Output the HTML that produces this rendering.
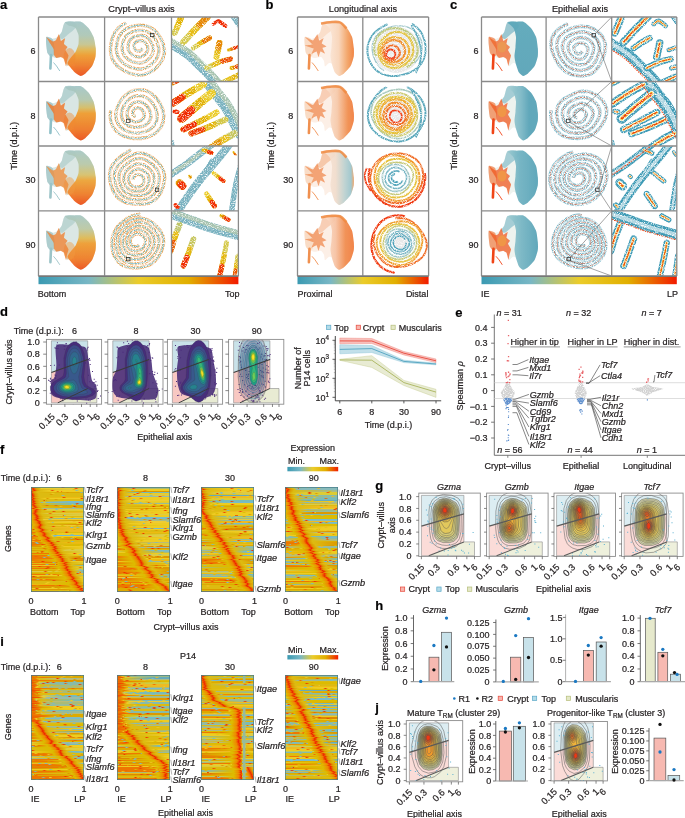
<!DOCTYPE html><html><head><meta charset="utf-8"><style>html,body{margin:0;padding:0;background:#fff;width:685px;height:818px;overflow:hidden;position:relative}svg{display:block;will-change:transform}text{font-family:"Liberation Sans",sans-serif;stroke:#231f20;stroke-width:0.22px}</style></head><body><svg width="685" height="818" viewBox="0 0 685 818"><defs><filter id="soft" x="-10%" y="-10%" width="120%" height="120%"><feGaussianBlur stdDeviation="0.6"/></filter><filter id="spk" x="-5%" y="-5%" width="110%" height="110%"><feTurbulence type="fractalNoise" baseFrequency="1.1" numOctaves="1" seed="4" result="n"/><feColorMatrix in="n" type="matrix" values="0 0 0 0 0  0 0 0 0 0  0 0 0 0 0  2.6 0 0 0 -0.75" result="m"/><feComposite in="SourceGraphic" in2="m" operator="in"/></filter><filter id="spk2" x="-5%" y="-5%" width="110%" height="110%"><feTurbulence type="fractalNoise" baseFrequency="1.1" numOctaves="1" seed="7" result="n"/><feColorMatrix in="n" type="matrix" values="0 0 0 0 0  0 0 0 0 0  0 0 0 0 0  3.4 0 0 0 -0.8" result="m"/><feComposite in="SourceGraphic" in2="m" operator="in"/></filter><clipPath id="ta0"><rect x="171.5" y="17" width="66.9" height="64.5"/></clipPath><clipPath id="tc0"><rect x="611.7" y="17" width="65.09999999999991" height="64.5"/></clipPath><clipPath id="ta1"><rect x="171.5" y="81.5" width="66.9" height="64.5"/></clipPath><clipPath id="tc1"><rect x="611.7" y="81.5" width="65.09999999999991" height="64.5"/></clipPath><clipPath id="ta2"><rect x="171.5" y="146" width="66.9" height="64.80000000000001"/></clipPath><clipPath id="tc2"><rect x="611.7" y="146" width="65.09999999999991" height="64.80000000000001"/></clipPath><clipPath id="ta3"><rect x="171.5" y="210.8" width="66.9" height="65.19999999999999"/></clipPath><clipPath id="tc3"><rect x="611.7" y="210.8" width="65.09999999999991" height="65.19999999999999"/></clipPath><linearGradient id="zis" x1="0" x2="1" y1="0" y2="0"><stop offset="0" stop-color="#3B9AB2"/><stop offset="0.25" stop-color="#78B7C5"/><stop offset="0.5" stop-color="#EBCC2A"/><stop offset="0.75" stop-color="#E1AF00"/><stop offset="1" stop-color="#F21A00"/></linearGradient><clipPath id="dcl0"><rect x="46.4" y="339.4" width="55.2" height="64.8"/></clipPath><clipPath id="dcl1"><rect x="107.8" y="339.4" width="55.2" height="64.8"/></clipPath><clipPath id="dcl2"><rect x="167.4" y="339.4" width="55.2" height="64.8"/></clipPath><clipPath id="dcl3"><rect x="228.6" y="339.4" width="55.2" height="64.8"/></clipPath><clipPath id="gcl0"><rect x="418.8" y="493.1" width="61.5" height="63.3"/></clipPath><clipPath id="gcl1"><rect x="486.6" y="493.1" width="61.5" height="63.3"/></clipPath><clipPath id="gcl2"><rect x="554.0" y="493.1" width="61.5" height="63.3"/></clipPath><clipPath id="gcl3"><rect x="621.6" y="493.1" width="61.5" height="63.3"/></clipPath><clipPath id="jcl0"><rect x="406.3" y="720.6" width="56.4" height="61.2"/></clipPath><clipPath id="jcl1"><rect x="551.0" y="721.5" width="56.4" height="59.4"/></clipPath></defs><g font-size="9" fill="#231f20"><defs><linearGradient id="ug0" x1="0" y1="0" x2="0" y2="1"><stop offset="0" stop-color="#a3c6c7"/><stop offset="0.25" stop-color="#adc7b6"/><stop offset="0.42" stop-color="#c6c48e"/><stop offset="0.52" stop-color="#e2b44c"/><stop offset="0.62" stop-color="#f09a2a"/><stop offset="0.8" stop-color="#f07a22"/><stop offset="1" stop-color="#ee4c16"/></linearGradient></defs>
<g filter="url(#soft)">
<path d="M65.1,22.3 C67.1,21.3 79.0,21.3 81.4,21.9 C83.8,22.5 87.6,26.8 88.8,28.4 C90.0,29.9 93.0,35.4 93.7,37.4 C94.4,39.4 95.1,46.2 95.3,48.1 C95.5,50.0 95.6,54.4 95.3,56.2 C95.0,58.0 93.1,64.4 92.1,66.1 C91.1,67.8 86.7,72.4 85.5,73.4 C84.3,74.4 81.5,76.0 80.6,75.9 C79.7,75.8 77.1,73.8 76.5,72.6 C75.9,71.4 75.1,65.4 74.5,64.4 C73.9,63.4 71.3,62.8 70.5,63.0 C69.7,63.2 67.0,66.7 66.5,66.5 C66.0,66.3 65.9,62.0 65.5,61.0 C65.1,60.0 63.4,57.3 62.5,57.0 C61.6,56.7 57.5,58.0 56.5,58.0 C55.5,58.0 53.4,57.5 52.5,57.0 C51.6,56.5 48.1,54.2 47.5,53.0 C46.9,51.8 46.4,46.6 46.3,45.0 C46.2,43.4 45.7,37.6 46.3,37.0 C46.9,36.4 51.3,39.0 52.5,39.0 C53.7,39.0 57.6,37.3 58.5,36.6 C59.4,35.9 61.1,33.1 61.8,31.7 C62.5,30.3 63.1,23.3 65.1,22.3Z" fill="#d9e6e4"/>
<path d="M61.8,31.7 C62.7,29.8 63.5,23.6 65.1,22.3 C66.7,21.0 72.0,21.3 73.5,21.8 C75.0,22.3 76.5,24.9 76.5,26.0 C76.5,27.1 74.6,28.9 73.5,30.0 C72.4,31.1 70.0,32.8 68.5,34.0 C67.0,35.2 63.8,38.7 62.5,39.0 C61.2,39.3 58.6,37.6 58.5,36.6 C58.4,35.6 60.9,33.6 61.8,31.7Z" fill="#aacbcb" opacity="0.75"/>
<path d="M65.1,22.3 C65.6,21.9 71.9,21.8 73.5,21.8 C75.1,21.8 79.9,21.2 81.4,21.9 C82.9,22.6 87.6,26.8 88.8,28.4 C90.0,29.9 93.0,35.4 93.7,37.4 C94.4,39.4 95.6,46.0 95.8,48.0 C96.0,50.0 95.9,55.2 95.5,57.0 C95.1,58.8 93.1,64.5 92.1,66.1 C91.1,67.7 86.7,72.4 85.5,73.4 C84.3,74.4 81.6,75.9 80.6,75.9 C79.6,75.9 76.5,73.8 75.5,73.0 C74.5,72.2 71.3,68.5 70.5,67.5 C69.7,66.5 67.5,64.0 67.5,63.0 C67.5,62.0 69.7,59.1 70.5,58.0 C71.3,56.9 74.7,53.4 75.5,52.0 C76.3,50.6 78.2,45.7 78.5,44.0 C78.8,42.3 78.8,36.6 78.5,35.0 C78.2,33.4 76.0,28.4 75.0,27.5 C74.0,26.6 69.5,26.0 68.5,25.5 C67.5,25.0 64.6,22.7 65.1,22.3Z" fill="url(#ug0)" opacity="0.92"/>
<ellipse cx="69.5" cy="57.0" rx="6" ry="9" fill="#f08a30" opacity="0.45"/>
<path d="M46.3,37.0 C46.9,36.4 51.7,38.0 52.5,39.0 C53.3,40.0 54.4,45.4 54.5,47.0 C54.6,48.6 54.4,54.0 54.0,55.0 C53.6,56.0 51.1,56.7 50.5,56.5 C49.9,56.3 47.9,54.1 47.5,53.0 C47.1,51.9 46.4,46.6 46.3,45.0 C46.2,43.4 45.7,37.6 46.3,37.0Z" fill="#a0c5ca" opacity="0.85"/>
<path d="M58.9,34.2 C59.1,34.2 60.7,40.8 61.0,41.0 C61.3,41.2 64.9,38.1 65.1,38.3 C65.2,38.4 63.9,43.6 64.0,44.0 C64.1,44.4 67.4,46.7 67.5,47.0 C67.6,47.3 65.5,49.6 65.5,50.0 C65.5,50.4 68.4,54.9 68.5,55.4 C68.6,55.9 67.1,60.5 67.0,61.0 C66.9,61.5 66.1,66.1 65.9,66.0 C65.8,65.9 64.3,59.5 64.0,59.0 C63.7,58.5 60.9,57.0 60.5,57.0 C60.1,57.0 56.8,58.1 56.5,58.0 C56.2,57.9 54.1,55.5 54.0,55.0 C53.9,54.5 53.8,49.5 53.6,49.0 C53.4,48.5 50.9,44.6 50.5,44.0 C50.1,43.4 46.2,37.1 46.3,37.0 C46.4,36.9 52.5,41.4 53.0,41.5 C53.5,41.6 55.7,40.4 56.0,40.0 C56.3,39.6 58.6,34.2 58.9,34.2Z" fill="#f07a2a" opacity="0.8"/>
<polyline points="51.0,55.0 50.7,62.0 50.4,68.5" fill="none" stroke="#8fc0c8" stroke-width="2.6" stroke-linecap="round"/>
<polyline points="53.5,62.5 56.5,66.0 59.8,71.0" fill="none" stroke="#8fc0c8" stroke-width="0.9"/>
</g>
<path id="spa0" d="M142.3,48.4 C142.2,48.5 142.1,48.8 142.0,49.1 C141.9,49.3 141.8,49.5 141.6,49.7 C141.5,49.9 141.3,50.1 141.1,50.2 C140.9,50.4 140.7,50.6 140.4,50.7 C140.2,50.8 139.9,50.9 139.6,51.0 C139.4,51.0 139.1,51.1 138.8,51.1 C138.5,51.1 138.2,51.0 137.9,51.0 C137.6,50.9 137.3,50.8 137.0,50.7 C136.7,50.6 136.4,50.5 136.1,50.3 C135.8,50.2 135.5,50.0 135.3,49.8 C135.0,49.5 134.8,49.2 134.6,49.0 C134.4,48.7 134.3,48.3 134.2,48.0 C134.0,47.6 134.0,47.3 134.0,46.9 C133.9,46.6 133.9,46.2 133.9,45.8 C134.0,45.4 134.0,45.0 134.1,44.7 C134.2,44.3 134.4,43.9 134.5,43.5 C134.7,43.2 135.0,42.8 135.3,42.5 C135.6,42.2 135.9,41.9 136.3,41.7 C136.7,41.4 137.1,41.2 137.5,41.1 C137.9,40.9 138.4,40.8 138.8,40.7 C139.3,40.6 139.8,40.5 140.2,40.5 C140.7,40.5 141.2,40.5 141.7,40.6 C142.2,40.7 142.7,40.8 143.2,41.1 C143.6,41.3 144.1,41.6 144.5,41.9 C144.9,42.2 145.2,42.6 145.5,43.0 C145.9,43.4 146.2,43.9 146.4,44.3 C146.7,44.8 147.0,45.2 147.2,45.7 C147.4,46.2 147.6,46.8 147.7,47.3 C147.8,47.9 147.9,48.5 147.8,49.1 C147.8,49.7 147.6,50.3 147.4,50.8 C147.2,51.4 147.0,51.9 146.6,52.5 C146.3,53.0 145.9,53.5 145.5,53.9 C145.1,54.4 144.6,54.8 144.1,55.2 C143.6,55.6 143.0,56.0 142.5,56.3 C141.9,56.5 141.2,56.8 140.5,56.9 C139.9,57.0 139.2,57.1 138.5,57.0 C137.8,57.0 137.2,56.9 136.5,56.7 C135.9,56.5 135.2,56.3 134.6,56.0 C133.9,55.8 133.3,55.5 132.7,55.1 C132.1,54.8 131.5,54.4 130.9,53.9 C130.4,53.4 129.9,52.9 129.5,52.3 C129.1,51.7 128.8,51.0 128.5,50.3 C128.3,49.6 128.2,48.8 128.1,48.1 C128.1,47.4 128.1,46.6 128.1,45.9 C128.2,45.1 128.3,44.4 128.5,43.6 C128.7,42.9 128.9,42.1 129.3,41.4 C129.6,40.7 130.1,40.0 130.6,39.4 C131.1,38.8 131.8,38.2 132.4,37.7 C133.1,37.3 133.9,36.9 134.6,36.6 C135.4,36.2 136.2,36.0 137.1,35.8 C137.9,35.6 138.7,35.5 139.6,35.5 C140.5,35.4 141.4,35.4 142.2,35.5 C143.1,35.6 144.0,35.9 144.9,36.2 C145.7,36.5 146.5,37.0 147.2,37.5 C147.9,38.1 148.6,38.7 149.2,39.4 C149.7,40.1 150.2,40.8 150.7,41.6 C151.2,42.3 151.6,43.1 152.0,43.9 C152.4,44.8 152.7,45.7 153.0,46.6 C153.2,47.5 153.4,48.4 153.4,49.4 C153.4,50.4 153.2,51.4 153.0,52.3 C152.7,53.2 152.3,54.2 151.8,55.0 C151.3,55.9 150.7,56.7 150.1,57.5 C149.4,58.2 148.7,59.0 147.9,59.6 C147.2,60.3 146.3,60.9 145.4,61.4 C144.5,61.9 143.5,62.3 142.5,62.6 C141.4,62.9 140.3,63.0 139.3,63.1 C138.2,63.1 137.1,62.9 136.1,62.7 C135.0,62.5 134.0,62.2 133.0,61.8 C132.0,61.4 131.1,61.0 130.1,60.5 C129.2,59.9 128.2,59.4 127.4,58.7 C126.5,58.0 125.7,57.3 125.0,56.4 C124.3,55.5 123.7,54.5 123.3,53.5 C122.8,52.5 122.5,51.4 122.4,50.3 C122.2,49.2 122.2,48.0 122.2,46.9 C122.3,45.8 122.4,44.7 122.7,43.6 C122.9,42.5 123.2,41.3 123.6,40.3 C124.1,39.2 124.6,38.1 125.3,37.1 C126.0,36.2 126.8,35.2 127.7,34.5 C128.7,33.7 129.7,33.0 130.8,32.5 C131.9,31.9 133.1,31.5 134.3,31.2 C135.5,30.9 136.7,30.6 138.0,30.5 C139.2,30.4 140.5,30.3 141.7,30.4 C143.0,30.5 144.3,30.6 145.6,31.0 C146.8,31.4 148.0,31.9 149.1,32.6 C150.2,33.3 151.2,34.1 152.1,35.0 C153.0,35.9 153.8,37.0 154.5,38.0 C155.2,39.0 155.9,40.1 156.4,41.3 C157.0,42.4 157.5,43.6 157.9,44.8 C158.3,46.1 158.7,47.4 158.8,48.7 C158.9,50.0 158.9,51.5 158.7,52.8 C158.5,54.1 158.0,55.5 157.5,56.7 C156.9,57.9 156.1,59.1 155.3,60.2 C154.5,61.3 153.5,62.4 152.5,63.3 C151.5,64.3 150.4,65.2 149.2,66.0 C148.0,66.8 146.7,67.5 145.3,68.0 C144.0,68.5 142.5,68.8 141.1,69.0 C139.6,69.1 138.1,69.1 136.7,68.9 C135.2,68.7 133.8,68.3 132.4,67.9 C131.0,67.4 129.7,66.9 128.4,66.2 C127.1,65.6 125.8,64.9 124.6,64.1 C123.4,63.2 122.2,62.3 121.2,61.2 C120.1,60.2 119.2,58.9 118.5,57.6 C117.7,56.3 117.2,54.8 116.9,53.4 C116.5,51.9 116.4,50.4 116.3,48.9 C116.3,47.4 116.5,45.9 116.7,44.4 C116.9,43.0 117.2,41.5 117.7,40.0 C118.2,38.6 118.7,37.1 119.5,35.7 C120.3,34.4 121.2,33.0 122.4,31.9 C123.5,30.8 124.8,29.8 126.2,28.9 C127.5,28.1 129.1,27.5 130.6,26.9 C132.1,26.4 133.7,26.0 135.3,25.7 C136.9,25.5 138.6,25.3 140.2,25.3 C141.9,25.3 143.6,25.3 145.2,25.7 C146.9,26.0 148.5,26.5 150.0,27.2 C151.5,28.0 153.0,28.9 154.3,30.0 C155.5,31.1 156.6,32.4 157.7,33.7 C158.7,35.0 159.6,36.4 160.4,37.8 C161.2,39.2 161.9,40.7 162.5,42.2 C163.1,43.8 163.7,45.4 164.0,47.1 C164.3,48.8 164.5,50.5 164.4,52.2 C164.3,54.0 164.0,55.7 163.4,57.4 C162.8,59.0 162.0,60.7 161.0,62.1 C160.1,63.6 159.0,65.0 157.7,66.3 C156.5,67.6 155.2,68.8 153.8,69.9 C152.3,71.0 150.8,72.0 149.1,72.8 C147.5,73.6 145.7,74.3 143.8,74.7 C142.0,75.0 140.1,75.2 138.3,75.1 C136.4,75.0 134.6,74.6 132.8,74.2 C131.0,73.7 129.3,73.1 127.6,72.4 C125.9,71.7 124.3,70.8 122.7,69.9 C121.1,68.9 119.6,67.9 118.2,66.7 C116.8,65.4 115.4,64.0 114.3,62.5 C113.3,61.0 112.4,59.2 111.7,57.5 C111.1,55.7 110.8,53.8 110.6,51.9 C110.4,50.1 110.5,48.2 110.6,46.3 C110.8,44.4 111.1,42.6 111.6,40.7 C112.0,38.9 112.6,37.0 113.4,35.3 C114.2,33.5 115.2,31.8 116.4,30.2 C117.6,28.7 119.1,27.3 120.7,26.1 C122.3,24.9 125.1,23.6 126.0,23.1" fill="none"/>
<g filter="url(#spk)">
<use href="#spa0" stroke="#f29a50" stroke-width="3.4"/>
<use href="#spa0" stroke="#e8c050" stroke-width="2.0" opacity="0.8"/>
<use href="#spa0" stroke="#6cb0c0" stroke-width="1.3"/>
</g>
<g clip-path="url(#ta0)"><g filter="url(#spk2)">
<path d="M168.5,42.0 C171.5,43.8 181.3,49.2 186.5,53.0 C191.7,56.8 195.3,61.0 199.5,65.0 C203.7,69.0 208.5,73.8 211.5,77.0 C214.5,80.2 216.5,82.8 217.5,84.0" fill="none" stroke="#7ab2c0" stroke-width="10" stroke-linecap="round" stroke-linejoin="round"/>
<path d="M168.5,42.0 C171.5,43.8 181.3,49.2 186.5,53.0 C191.7,56.8 195.3,61.0 199.5,65.0 C203.7,69.0 208.5,73.8 211.5,77.0 C214.5,80.2 216.5,82.8 217.5,84.0" fill="none" stroke="#a8c4b0" stroke-width="4.5" stroke-linecap="round" transform="translate(2.0,-2.0)"/>
<path d="M232.5,15.0 L239.5,25.0" fill="none" stroke="#7ab2c0" stroke-width="6" stroke-linecap="round" stroke-linejoin="round"/>
<path d="M183.5,42.0 C185.5,39.8 191.5,33.2 195.5,29.0 C199.5,24.8 205.5,19.0 207.5,17.0" fill="none" stroke="#d4c849" stroke-width="6.5" stroke-linecap="round" stroke-linejoin="round"/>
<path d="M191.7,33.1 L194.3,30.3 L196.9,27.6 L199.5,25.0 L202.2,22.3 L204.8,19.7 L207.5,17.0" fill="none" stroke="#e6bc13" stroke-width="6.30" stroke-linecap="round" stroke-linejoin="round"/>
<path d="M199.7,24.8 L201.0,23.5 L202.3,22.2 L203.6,20.9 L204.9,19.6 L206.2,18.3 L207.5,17.0" fill="none" stroke="#e68500" stroke-width="6.30" stroke-linecap="round" stroke-linejoin="round"/>
<path d="M174.5,33.0 C175.2,31.5 177.3,26.8 178.5,24.0 C179.7,21.2 181.0,17.3 181.5,16.0" fill="none" stroke="#d4c849" stroke-width="6" stroke-linecap="round" stroke-linejoin="round"/>
<path d="M177.1,27.1 L177.9,25.3 L178.7,23.5 L179.4,21.6 L180.1,19.7 L180.8,17.9 L181.5,16.0" fill="none" stroke="#e8c21c" stroke-width="5.82" stroke-linecap="round" stroke-linejoin="round"/>
<path d="M179.4,21.5 L179.8,20.6 L180.1,19.7 L180.5,18.8 L180.8,17.8 L181.2,16.9 L181.5,16.0" fill="none" stroke="#e2b205" stroke-width="5.82" stroke-linecap="round" stroke-linejoin="round"/>
<path d="M193.5,48.0 C195.0,47.0 199.8,43.7 202.5,42.0 C205.2,40.3 208.3,38.7 209.5,38.0" fill="none" stroke="#d4c849" stroke-width="5" stroke-linecap="round" stroke-linejoin="round"/>
<path d="M199.0,44.3 L200.7,43.2 L202.4,42.1 L204.2,41.0 L205.9,40.0 L207.7,39.0 L209.5,38.0" fill="none" stroke="#e5bb11" stroke-width="4.85" stroke-linecap="round" stroke-linejoin="round"/>
<path d="M204.3,41.0 L205.1,40.5 L206.0,40.0 L206.9,39.5 L207.8,39.0 L208.6,38.5 L209.5,38.0" fill="none" stroke="#e87300" stroke-width="4.85" stroke-linecap="round" stroke-linejoin="round"/>
<path d="M216.5,57.0 C216.8,55.8 217.5,52.3 218.0,50.0 C218.5,47.7 219.2,44.2 219.5,43.0" fill="none" stroke="#eaca27" stroke-width="6" stroke-linecap="round" stroke-linejoin="round"/>
<path d="M217.6,52.1 L217.9,50.6 L218.2,49.1 L218.5,47.5 L218.8,46.0 L219.2,44.5 L219.5,43.0" fill="none" stroke="#e4b80d" stroke-width="5.82" stroke-linecap="round" stroke-linejoin="round"/>
<path d="M218.5,47.5 L218.7,46.7 L218.9,46.0 L219.0,45.2 L219.2,44.5 L219.3,43.7 L219.5,43.0" fill="none" stroke="#e68500" stroke-width="5.82" stroke-linecap="round" stroke-linejoin="round"/>
<path d="M206.5,68.0 C208.7,67.0 215.5,63.5 219.5,62.0 C223.5,60.5 228.7,59.5 230.5,59.0" fill="none" stroke="#d4c849" stroke-width="5" stroke-linecap="round" stroke-linejoin="round"/>
<path d="M214.7,64.2 L217.2,63.1 L219.7,61.9 L222.4,61.2 L225.1,60.5 L227.8,59.7 L230.5,59.0" fill="none" stroke="#e4b70b" stroke-width="4.85" stroke-linecap="round" stroke-linejoin="round"/>
<path d="M222.6,61.2 L223.9,60.8 L225.2,60.4 L226.5,60.1 L227.9,59.7 L229.2,59.4 L230.5,59.0" fill="none" stroke="#ed4a00" stroke-width="4.85" stroke-linecap="round" stroke-linejoin="round"/>
<path d="M213.5,24.0 C214.3,23.5 216.5,20.7 218.5,21.0 C220.5,21.3 224.3,25.2 225.5,26.0" fill="none" stroke="#f02c00" stroke-width="3.5" stroke-linecap="round" stroke-linejoin="round"/>
<path d="M217.8,21.4 L219.1,21.5 L220.4,22.4 L221.7,23.3 L223.0,24.2 L224.2,25.1 L225.5,26.0" fill="none" stroke="#f02c00" stroke-width="3.40" stroke-linecap="round" stroke-linejoin="round"/>
<path d="M221.7,23.3 L222.4,23.8 L223.0,24.2 L223.6,24.7 L224.2,25.1 L224.9,25.6 L225.5,26.0" fill="none" stroke="#f02c00" stroke-width="3.40" stroke-linecap="round" stroke-linejoin="round"/>
<path d="M228.5,50.0 L237.5,47.0" fill="none" stroke="#e1af00" stroke-width="3.2" stroke-linecap="round" stroke-linejoin="round"/>
<path d="M231.7,49.0 L232.6,48.6 L233.6,48.3 L234.6,48.0 L235.6,47.6 L236.5,47.3 L237.5,47.0" fill="none" stroke="#e86d00" stroke-width="3.10" stroke-linecap="round" stroke-linejoin="round"/>
<path d="M234.6,48.0 L235.1,47.8 L235.6,47.6 L236.1,47.5 L236.5,47.3 L237.0,47.2 L237.5,47.0" fill="none" stroke="#f02c00" stroke-width="3.10" stroke-linecap="round" stroke-linejoin="round"/>
<path d="M231.5,68.0 L239.5,66.0" fill="none" stroke="#e3b508" stroke-width="4" stroke-linecap="round" stroke-linejoin="round"/>
<path d="M234.3,67.3 L235.2,67.1 L236.0,66.9 L236.9,66.7 L237.8,66.4 L238.6,66.2 L239.5,66.0" fill="none" stroke="#e68200" stroke-width="3.88" stroke-linecap="round" stroke-linejoin="round"/>
<path d="M236.9,66.6 L237.4,66.5 L237.8,66.4 L238.2,66.3 L238.6,66.2 L239.1,66.1 L239.5,66.0" fill="none" stroke="#ef3800" stroke-width="3.88" stroke-linecap="round" stroke-linejoin="round"/>
<path d="M221.5,83.0 L238.5,75.0" fill="none" stroke="#d4c849" stroke-width="5" stroke-linecap="round" stroke-linejoin="round"/>
<path d="M227.4,80.2 L229.3,79.3 L231.1,78.5 L233.0,77.6 L234.8,76.7 L236.7,75.9 L238.5,75.0" fill="none" stroke="#e8c31d" stroke-width="4.85" stroke-linecap="round" stroke-linejoin="round"/>
<path d="M233.1,77.6 L234.0,77.1 L234.9,76.7 L235.8,76.3 L236.7,75.9 L237.6,75.4 L238.5,75.0" fill="none" stroke="#e3b508" stroke-width="4.85" stroke-linecap="round" stroke-linejoin="round"/>
</g></g>
<rect x="150.6" y="33.3" width="3.4" height="3.4" fill="none" stroke="#222" stroke-width="0.7"/>
<defs><linearGradient id="ug1" x1="0" y1="0" x2="1" y2="0"><stop offset="0" stop-color="#fcefe6"/><stop offset="0.5" stop-color="#f8d4b8"/><stop offset="0.78" stop-color="#f2a060"/><stop offset="1" stop-color="#f07a34"/></linearGradient></defs>
<g filter="url(#soft)">
<path d="M323.6,22.3 C325.6,21.3 337.5,21.3 339.9,21.9 C342.3,22.5 346.1,26.8 347.3,28.4 C348.5,29.9 351.6,35.4 352.2,37.4 C352.8,39.4 353.6,46.2 353.8,48.1 C354.0,50.0 354.1,54.4 353.8,56.2 C353.5,58.0 351.6,64.4 350.6,66.1 C349.6,67.8 345.1,72.4 344.0,73.4 C342.9,74.4 340.0,76.0 339.1,75.9 C338.2,75.8 335.6,73.8 335.0,72.6 C334.4,71.4 333.6,65.4 333.0,64.4 C332.4,63.4 329.8,62.8 329.0,63.0 C328.2,63.2 325.5,66.7 325.0,66.5 C324.5,66.3 324.4,62.0 324.0,61.0 C323.6,60.0 321.9,57.3 321.0,57.0 C320.1,56.7 316.0,58.0 315.0,58.0 C314.0,58.0 311.9,57.5 311.0,57.0 C310.1,56.5 306.6,54.2 306.0,53.0 C305.4,51.8 304.9,46.6 304.8,45.0 C304.7,43.4 304.2,37.6 304.8,37.0 C305.4,36.4 309.8,39.0 311.0,39.0 C312.2,39.0 316.1,37.3 317.0,36.6 C317.9,35.9 319.6,33.1 320.3,31.7 C321.0,30.3 321.6,23.3 323.6,22.3Z" fill="#fcefe6"/>
<path d="M320.3,31.7 C321.2,29.8 322.0,23.6 323.6,22.3 C325.2,21.0 330.5,21.3 332.0,21.8 C333.5,22.3 335.0,24.9 335.0,26.0 C335.0,27.1 333.1,28.9 332.0,30.0 C330.9,31.1 328.5,32.8 327.0,34.0 C325.5,35.2 322.3,38.7 321.0,39.0 C319.7,39.3 317.1,37.6 317.0,36.6 C316.9,35.6 319.4,33.6 320.3,31.7Z" fill="#f8d2b8" opacity="0.6"/>
<path d="M323.6,22.3 C324.1,21.9 330.4,21.8 332.0,21.8 C333.6,21.8 338.4,21.2 339.9,21.9 C341.4,22.6 346.1,26.8 347.3,28.4 C348.5,29.9 351.6,35.4 352.2,37.4 C352.8,39.4 353.6,46.2 353.8,48.1 C354.0,50.0 354.1,54.4 353.8,56.2 C353.5,58.0 351.6,64.4 350.6,66.1 C349.6,67.8 345.1,72.4 344.0,73.4 C342.9,74.4 340.0,76.0 339.1,75.9 C338.2,75.8 335.7,73.8 335.0,72.6 C334.3,71.4 332.4,66.0 332.0,64.4 C331.6,62.8 330.6,57.9 330.5,56.2 C330.4,54.5 331.4,48.9 331.5,47.0 C331.6,45.1 332.1,38.8 332.0,37.0 C331.9,35.2 330.5,30.1 330.0,29.0 C329.5,27.9 327.6,26.2 327.0,25.5 C326.4,24.8 323.1,22.7 323.6,22.3Z" fill="url(#ug1)" opacity="0.9"/>
<path d="M321.0,23.5 C322.5,23.3 326.8,22.4 330.0,22.2 C333.2,22.0 337.2,21.3 340.0,22.4 C342.8,23.4 345.4,27.5 346.5,28.5" fill="none" stroke="#f08a40" stroke-width="2.6" opacity="0.85"/>
<path d="M304.8,37.0 C305.4,36.4 310.2,38.0 311.0,39.0 C311.8,40.0 312.9,45.4 313.0,47.0 C313.1,48.6 312.9,54.0 312.5,55.0 C312.1,56.0 309.6,56.7 309.0,56.5 C308.4,56.3 306.4,54.1 306.0,53.0 C305.6,51.9 304.9,46.6 304.8,45.0 C304.7,43.4 304.2,37.6 304.8,37.0Z" fill="#f8d8c0" opacity="0.85"/>
<path d="M317.4,34.2 C317.7,34.2 319.0,40.3 319.3,40.5 C319.6,40.7 323.5,38.1 323.6,38.3 C323.7,38.4 321.7,43.1 321.8,43.5 C321.9,43.9 326.5,46.3 326.5,46.5 C326.5,46.7 322.6,47.6 322.5,48.0 C322.4,48.4 325.1,53.3 325.0,53.5 C324.9,53.7 320.8,51.3 320.5,51.5 C320.2,51.7 318.7,57.0 318.5,57.0 C318.3,57.0 316.9,51.6 316.5,51.5 C316.1,51.4 311.6,54.1 311.5,54.0 C311.4,53.9 313.8,48.9 313.5,48.5 C313.2,48.1 304.9,45.7 304.8,45.5 C304.8,45.3 312.5,44.9 312.5,44.5 C312.5,44.1 304.8,37.2 304.8,37.0 C304.8,36.8 312.4,40.6 313.0,40.5 C313.6,40.4 317.1,34.2 317.4,34.2Z" fill="#f09058" opacity="0.8"/>
<polyline points="309.5,55.0 309.2,62.0 308.9,68.5" fill="none" stroke="#f09050" stroke-width="2.6" stroke-linecap="round"/>
<polyline points="312.0,62.5 315.0,66.0 318.3,71.0" fill="none" stroke="#f09050" stroke-width="0.9"/>
</g>
<g filter="url(#spk2)">
<circle cx="396.8" cy="50.0" r="23" fill="#e2e2e2" opacity="0.75"/>
<path d="M411.7,23.7 C412.5,24.3 415.0,25.7 416.4,26.9 C417.8,28.2 419.1,29.7 420.2,31.2 C421.3,32.7 422.2,34.4 422.9,36.1 C423.7,37.8 424.2,39.5 424.7,41.3 C425.1,43.1 425.4,44.9 425.6,46.7 C425.7,48.5 425.7,50.4 425.5,52.2 C425.3,54.0 424.9,55.8 424.4,57.5 C423.8,59.2 423.0,60.9 422.0,62.5 C421.1,64.0 419.9,65.4 418.6,66.7 C417.3,68.0 415.8,69.1 414.4,70.0 C412.9,71.0 411.3,71.8 409.7,72.5 C408.1,73.2 406.4,73.8 404.7,74.3 C403.1,74.7 401.4,75.1 399.7,75.4 C397.9,75.7 396.2,76.0 394.4,76.0 C392.6,76.1 390.7,76.0 388.9,75.8 C387.1,75.5 385.3,75.1 383.5,74.4 C381.8,73.8 380.0,72.9 378.4,71.9 C376.9,70.8 375.4,69.5 374.1,68.1 C372.9,66.7 371.7,65.1 370.8,63.5 C369.9,61.9 369.2,60.1 368.6,58.3 C368.1,56.5 367.7,54.6 367.5,52.8 C367.4,50.9 367.4,49.0 367.6,47.2 C367.8,45.4 368.3,43.6 368.9,41.8 C369.5,40.1 370.3,38.5 371.2,36.9 C372.2,35.4 373.4,34.0 374.6,32.7 C375.8,31.4 377.2,30.3 378.6,29.2 C380.0,28.2 381.4,27.3 383.0,26.5 C384.5,25.6 386.8,24.6 387.6,24.3" fill="none" stroke="#5aa8bc" stroke-width="1.98"/>
<path d="M384.0,70.8 C383.4,70.3 381.6,69.0 380.5,68.0 C379.5,67.0 378.5,65.9 377.7,64.7 C376.9,63.6 376.1,62.3 375.5,61.1 C374.8,59.8 374.3,58.5 373.8,57.2 C373.3,55.9 373.0,54.5 372.7,53.2 C372.4,51.8 372.2,50.4 372.2,49.0 C372.1,47.6 372.2,46.2 372.4,44.8 C372.6,43.4 373.0,42.0 373.5,40.7 C374.0,39.4 374.7,38.1 375.5,36.9 C376.3,35.8 377.2,34.7 378.2,33.7 C379.2,32.7 380.3,31.9 381.5,31.1 C382.6,30.3 383.8,29.6 385.1,29.0 C386.3,28.5 387.6,28.0 388.8,27.5 C390.1,27.1 391.4,26.8 392.8,26.5 C394.1,26.2 395.4,26.0 396.8,25.9 C398.2,25.8 399.6,25.8 401.0,25.9 C402.4,25.9 403.8,26.1 405.2,26.4 C406.6,26.8 408.0,27.2 409.3,27.8 C410.6,28.3 412.0,29.1 413.2,29.9 C414.4,30.7 415.5,31.7 416.5,32.8 C417.6,33.8 418.5,35.0 419.3,36.3 C420.0,37.5 420.7,38.9 421.2,40.3 C421.6,41.7 421.9,43.2 422.1,44.6 C422.2,46.1 422.2,47.6 422.0,49.0 C421.9,50.4 421.5,51.9 421.1,53.2 C420.6,54.5 420.0,55.8 419.3,57.0 C418.6,58.2 417.8,59.4 417.0,60.4 C416.1,61.5 414.7,62.9 414.3,63.4" fill="none" stroke="#9cc4c8" stroke-width="1.32"/>
<path d="M376.1,56.0 C375.9,55.5 375.2,54.0 374.9,52.9 C374.6,51.8 374.3,50.7 374.2,49.5 C374.1,48.4 374.1,47.2 374.2,46.1 C374.2,44.9 374.4,43.8 374.8,42.6 C375.1,41.5 375.5,40.4 376.0,39.4 C376.5,38.3 377.2,37.3 377.9,36.4 C378.6,35.4 379.4,34.6 380.3,33.8 C381.1,33.0 382.1,32.3 383.1,31.6 C384.0,31.0 385.1,30.4 386.1,30.0 C387.2,29.5 388.3,29.1 389.4,28.8 C390.6,28.5 391.7,28.3 392.9,28.2 C394.0,28.1 395.2,28.1 396.3,28.2 C397.5,28.2 398.6,28.4 399.7,28.7 C400.8,28.9 401.9,29.3 403.0,29.7 C404.0,30.1 405.0,30.6 406.0,31.2 C407.0,31.8 407.9,32.4 408.7,33.1 C409.6,33.8 410.4,34.5 411.2,35.3 C412.0,36.1 412.7,37.0 413.4,37.9 C414.0,38.8 414.7,39.7 415.2,40.7 C415.7,41.7 416.2,42.7 416.5,43.8 C416.9,44.9 417.2,46.0 417.4,47.1 C417.5,48.3 417.6,49.5 417.6,50.6 C417.5,51.8 417.4,52.9 417.1,54.0 C416.9,55.2 416.5,56.3 416.0,57.4 C415.6,58.4 415.0,59.4 414.3,60.4 C413.7,61.4 412.9,62.3 412.1,63.1 C411.3,64.0 410.4,64.7 409.5,65.4 C408.6,66.1 407.1,67.0 406.6,67.3" fill="none" stroke="#bcc87e" stroke-width="2.20"/>
<path d="M413.2,50.0 C413.2,51.3 413.0,52.6 412.7,53.8 C412.5,55.0 412.0,56.3 411.5,57.4 C410.9,58.5 410.2,59.6 409.4,60.6 C408.6,61.6 407.6,62.5 406.6,63.3 C405.6,64.1 404.6,64.9 403.4,65.5 C402.3,66.1 401.0,66.7 399.8,67.1 C398.5,67.5 397.2,67.8 395.8,67.9 C394.4,68.0 393.0,68.0 391.7,67.8 C390.3,67.5 388.9,67.1 387.7,66.5 C386.5,65.9 385.3,65.1 384.2,64.2 C383.2,63.3 382.3,62.2 381.5,61.1 C380.8,60.0 380.2,58.8 379.7,57.6 C379.2,56.4 378.8,55.1 378.6,53.9 C378.4,52.6 378.3,51.3 378.3,50.0 C378.4,48.7 378.6,47.4 378.9,46.2 C379.2,45.0 379.7,43.8 380.3,42.7 C380.9,41.6 381.6,40.5 382.4,39.5 C383.2,38.5 384.1,37.6 385.1,36.8 C386.1,36.0 387.1,35.2 388.2,34.6 C389.3,33.9 390.5,33.3 391.8,32.9 C393.1,32.4 394.4,32.1 395.8,31.9 C397.2,31.8 398.6,31.8 400.0,32.0 C401.3,32.3 402.7,32.7 404.0,33.4 C405.2,34.0 406.4,34.8 407.4,35.8 C408.4,36.7 409.2,37.8 410.0,38.9 C410.7,40.0 411.3,41.3 411.8,42.5 C412.2,43.7 412.6,44.9 412.8,46.2 C413.0,47.4 413.2,48.7 413.2,50.0Z" fill="none" stroke="#e2c444" stroke-width="2.42"/>
<path d="M409.1,51.0 C409.1,52.0 409.0,53.1 408.8,54.1 C408.5,55.1 408.2,56.2 407.7,57.1 C407.2,58.0 406.6,58.9 406.0,59.7 C405.3,60.5 404.5,61.3 403.7,61.9 C402.8,62.5 401.9,63.1 401.0,63.5 C400.0,64.0 399.0,64.3 397.9,64.5 C396.9,64.7 395.8,64.8 394.8,64.8 C393.8,64.8 392.7,64.7 391.7,64.5 C390.6,64.3 389.6,64.0 388.6,63.6 C387.7,63.1 386.7,62.6 385.9,62.0 C385.0,61.4 384.2,60.6 383.5,59.8 C382.8,59.0 382.2,58.1 381.7,57.2 C381.3,56.2 380.9,55.2 380.7,54.2 C380.4,53.1 380.3,52.0 380.4,51.0 C380.4,50.0 380.6,48.9 380.8,47.9 C381.1,46.9 381.5,45.9 382.0,45.0 C382.5,44.0 383.1,43.2 383.8,42.4 C384.4,41.6 385.2,40.8 386.0,40.2 C386.8,39.6 387.7,39.0 388.7,38.5 C389.6,38.1 390.6,37.7 391.6,37.5 C392.7,37.2 393.7,37.1 394.8,37.1 C395.9,37.0 396.9,37.1 398.0,37.3 C399.0,37.6 400.1,37.9 401.0,38.3 C402.0,38.8 402.9,39.3 403.8,40.0 C404.6,40.6 405.4,41.4 406.0,42.2 C406.7,43.0 407.3,43.9 407.7,44.9 C408.2,45.8 408.6,46.8 408.8,47.9 C409.0,48.9 409.1,50.0 409.1,51.0Z" fill="none" stroke="#eeb030" stroke-width="2.20"/>
<path d="M404.9,51.0 C404.9,51.8 404.9,52.6 404.7,53.4 C404.6,54.3 404.3,55.1 404.0,55.8 C403.6,56.6 403.2,57.3 402.6,57.9 C402.1,58.5 401.4,59.1 400.8,59.6 C400.1,60.1 399.4,60.5 398.6,60.8 C397.9,61.1 397.1,61.4 396.3,61.6 C395.5,61.8 394.6,61.9 393.8,61.9 C393.0,62.0 392.1,61.9 391.3,61.8 C390.5,61.7 389.6,61.4 388.8,61.1 C388.1,60.8 387.3,60.3 386.7,59.8 C386.0,59.2 385.4,58.6 385.0,57.9 C384.5,57.2 384.1,56.5 383.7,55.8 C383.4,55.0 383.2,54.2 383.0,53.4 C382.8,52.6 382.7,51.8 382.7,51.0 C382.7,50.2 382.7,49.4 382.9,48.6 C383.0,47.8 383.3,46.9 383.7,46.2 C384.0,45.5 384.5,44.8 385.0,44.1 C385.5,43.5 386.2,42.9 386.8,42.4 C387.5,42.0 388.2,41.5 389.0,41.2 C389.7,40.9 390.5,40.6 391.3,40.4 C392.1,40.2 393.0,40.1 393.8,40.0 C394.6,40.0 395.5,40.0 396.3,40.2 C397.2,40.3 398.0,40.5 398.8,40.9 C399.5,41.2 400.3,41.7 400.9,42.3 C401.6,42.8 402.1,43.4 402.6,44.1 C403.1,44.8 403.5,45.5 403.8,46.3 C404.1,47.0 404.4,47.8 404.6,48.6 C404.8,49.4 404.9,50.2 404.9,51.0Z" fill="none" stroke="#f09030" stroke-width="2.42"/>
<path d="M399.8,53.0 C399.7,53.6 399.6,54.2 399.5,54.7 C399.3,55.3 399.0,55.8 398.7,56.2 C398.3,56.7 397.9,57.1 397.5,57.5 C397.1,57.9 396.7,58.2 396.2,58.5 C395.8,58.8 395.4,59.0 394.9,59.3 C394.4,59.5 393.9,59.8 393.4,59.9 C392.9,60.1 392.4,60.3 391.8,60.4 C391.2,60.5 390.6,60.5 390.1,60.4 C389.5,60.4 388.9,60.2 388.4,60.0 C387.8,59.8 387.3,59.5 386.8,59.1 C386.3,58.8 385.9,58.3 385.5,57.9 C385.2,57.4 384.9,56.9 384.6,56.4 C384.4,55.9 384.2,55.3 384.1,54.7 C384.0,54.2 383.9,53.6 384.0,53.0 C384.0,52.4 384.2,51.9 384.4,51.3 C384.5,50.8 384.8,50.3 385.1,49.8 C385.4,49.4 385.8,49.0 386.1,48.6 C386.5,48.2 386.9,47.8 387.3,47.5 C387.7,47.2 388.2,46.8 388.6,46.6 C389.1,46.3 389.6,46.0 390.1,45.8 C390.7,45.7 391.2,45.5 391.8,45.5 C392.4,45.4 393.0,45.4 393.5,45.5 C394.1,45.6 394.7,45.8 395.2,46.1 C395.7,46.3 396.2,46.7 396.7,47.0 C397.1,47.4 397.5,47.8 397.9,48.2 C398.3,48.7 398.6,49.2 398.9,49.7 C399.1,50.2 399.4,50.7 399.5,51.3 C399.7,51.8 399.8,52.4 399.8,53.0Z" fill="none" stroke="#f06a22" stroke-width="2.20"/>
<path d="M395.3,54.0 C395.3,54.3 395.3,54.7 395.2,55.0 C395.2,55.3 395.1,55.6 395.0,56.0 C394.8,56.3 394.7,56.6 394.5,56.9 C394.3,57.1 394.0,57.4 393.7,57.6 C393.5,57.8 393.2,58.0 392.8,58.1 C392.5,58.3 392.2,58.3 391.8,58.4 C391.5,58.4 391.1,58.4 390.8,58.4 C390.5,58.4 390.1,58.3 389.8,58.2 C389.5,58.2 389.2,58.1 388.9,57.9 C388.6,57.8 388.2,57.7 388.0,57.5 C387.7,57.3 387.4,57.1 387.1,56.9 C386.9,56.6 386.7,56.3 386.5,56.0 C386.4,55.7 386.3,55.4 386.2,55.0 C386.1,54.7 386.1,54.3 386.2,54.0 C386.2,53.7 386.3,53.3 386.4,53.0 C386.5,52.7 386.6,52.4 386.8,52.1 C386.9,51.8 387.1,51.5 387.3,51.3 C387.5,51.0 387.7,50.7 388.0,50.5 C388.2,50.3 388.5,50.1 388.8,49.9 C389.1,49.8 389.4,49.6 389.8,49.6 C390.1,49.5 390.5,49.4 390.8,49.4 C391.1,49.4 391.5,49.5 391.8,49.6 C392.2,49.7 392.5,49.8 392.8,49.9 C393.1,50.1 393.4,50.3 393.7,50.5 C393.9,50.7 394.2,50.9 394.4,51.2 C394.6,51.5 394.8,51.8 394.9,52.1 C395.0,52.4 395.1,52.7 395.2,53.0 C395.3,53.3 395.3,53.7 395.3,54.0Z" fill="none" stroke="#f03a12" stroke-width="1.98"/>
<path d="M411.1,24.8 C424.8,47.0 422.8,59.0 415.8,73.0" fill="none" stroke="#5aa8bc" stroke-width="1.8"/>
</g>
<defs><linearGradient id="ug2" x1="0" y1="0" x2="0" y2="1"><stop offset="0" stop-color="#5ea8ba"/><stop offset="1" stop-color="#5aa4b8"/></linearGradient></defs>
<g filter="url(#soft)">
<path d="M507.6,22.3 C509.6,21.3 521.5,21.3 523.9,21.9 C526.3,22.5 530.1,26.8 531.3,28.4 C532.5,29.9 535.6,35.4 536.2,37.4 C536.9,39.4 537.6,46.2 537.8,48.1 C538.0,50.0 538.1,54.4 537.8,56.2 C537.5,58.0 535.6,64.4 534.6,66.1 C533.6,67.8 529.1,72.4 528.0,73.4 C526.9,74.4 524.0,76.0 523.1,75.9 C522.2,75.8 519.6,73.8 519.0,72.6 C518.4,71.4 517.6,65.4 517.0,64.4 C516.4,63.4 513.8,62.8 513.0,63.0 C512.2,63.2 509.5,66.7 509.0,66.5 C508.5,66.3 508.4,62.0 508.0,61.0 C507.6,60.0 505.9,57.3 505.0,57.0 C504.1,56.7 500.0,58.0 499.0,58.0 C498.0,58.0 495.9,57.5 495.0,57.0 C494.1,56.5 490.6,54.2 490.0,53.0 C489.4,51.8 488.9,46.6 488.8,45.0 C488.7,43.4 488.2,37.6 488.8,37.0 C489.4,36.4 493.8,39.0 495.0,39.0 C496.2,39.0 500.1,37.3 501.0,36.6 C501.9,35.9 503.6,33.1 504.3,31.7 C505.0,30.3 505.6,23.3 507.6,22.3Z" fill="#eef3ef"/>
<path d="M504.3,31.7 C505.2,29.8 506.0,23.6 507.6,22.3 C509.2,21.0 514.5,21.3 516.0,21.8 C517.5,22.3 519.0,24.9 519.0,26.0 C519.0,27.1 517.1,28.9 516.0,30.0 C514.9,31.1 512.5,32.8 511.0,34.0 C509.5,35.2 506.3,38.7 505.0,39.0 C503.7,39.3 501.1,37.6 501.0,36.6 C500.9,35.6 503.4,33.6 504.3,31.7Z" fill="#7fb8c7" opacity="0.75"/>
<path d="M507.6,22.3 C508.1,21.9 514.4,21.8 516.0,21.8 C517.6,21.8 522.4,21.2 523.9,21.9 C525.4,22.6 530.1,26.8 531.3,28.4 C532.5,29.9 535.6,35.4 536.2,37.4 C536.9,39.4 537.6,46.2 537.8,48.1 C538.0,50.0 538.1,54.4 537.8,56.2 C537.5,58.0 535.6,64.4 534.6,66.1 C533.6,67.8 529.1,72.4 528.0,73.4 C526.9,74.4 524.0,76.0 523.1,75.9 C522.2,75.8 519.7,73.8 519.0,72.6 C518.3,71.4 516.5,66.0 516.0,64.4 C515.5,62.8 514.5,57.9 514.5,56.2 C514.5,54.5 515.4,48.9 515.5,47.0 C515.6,45.1 516.1,38.8 516.0,37.0 C515.9,35.2 514.5,30.1 514.0,29.0 C513.5,27.9 511.6,26.2 511.0,25.5 C510.4,24.8 507.1,22.7 507.6,22.3Z" fill="url(#ug2)" opacity="0.95"/>
<path d="M488.8,37.0 C489.4,36.4 494.2,38.0 495.0,39.0 C495.8,40.0 496.9,45.4 497.0,47.0 C497.1,48.6 496.9,54.0 496.5,55.0 C496.1,56.0 493.6,56.7 493.0,56.5 C492.4,56.3 490.4,54.1 490.0,53.0 C489.6,51.9 488.9,46.6 488.8,45.0 C488.7,43.4 488.2,37.6 488.8,37.0Z" fill="#f09060" opacity="0.85"/>
<path d="M501.4,34.2 C501.6,34.2 503.2,40.8 503.5,41.0 C503.8,41.2 507.5,38.1 507.6,38.3 C507.8,38.4 506.4,43.6 506.5,44.0 C506.6,44.4 509.9,46.7 510.0,47.0 C510.1,47.3 507.9,49.6 508.0,50.0 C508.1,50.4 510.9,54.9 511.0,55.4 C511.1,55.9 509.6,60.5 509.5,61.0 C509.4,61.5 508.5,66.1 508.4,66.0 C508.2,65.9 506.8,59.5 506.5,59.0 C506.2,58.5 503.4,57.0 503.0,57.0 C502.6,57.0 499.3,58.1 499.0,58.0 C498.7,57.9 496.6,55.5 496.5,55.0 C496.4,54.5 496.3,49.5 496.1,49.0 C495.9,48.5 493.4,44.6 493.0,44.0 C492.6,43.4 488.7,37.1 488.8,37.0 C488.9,36.9 495.0,41.4 495.5,41.5 C496.0,41.6 498.2,40.4 498.5,40.0 C498.8,39.6 501.1,34.2 501.4,34.2Z" fill="#f06428" opacity="0.75"/>
<ellipse cx="502.0" cy="47.0" rx="4.5" ry="5.5" fill="#e8a050" opacity="0.7"/>
<polyline points="493.5,55.0 493.2,62.0 492.9,68.5" fill="none" stroke="#f04418" stroke-width="2.6" stroke-linecap="round"/>
<polyline points="496.0,62.5 499.0,66.0 502.3,71.0" fill="none" stroke="#f04418" stroke-width="0.9"/>
</g>
<path id="spc0" d="M582.1,51.2 C582.0,51.3 582.0,51.6 581.9,51.9 C581.9,52.1 581.8,52.3 581.6,52.5 C581.5,52.7 581.3,53.0 581.1,53.1 C581.0,53.3 580.7,53.5 580.5,53.6 C580.2,53.7 579.9,53.8 579.7,53.9 C579.4,53.9 579.1,53.9 578.8,53.9 C578.5,53.9 578.2,53.9 577.9,53.8 C577.6,53.7 577.3,53.6 577.0,53.5 C576.8,53.3 576.5,53.2 576.2,53.0 C576.0,52.8 575.8,52.6 575.5,52.3 C575.3,52.1 575.1,51.8 574.9,51.5 C574.7,51.2 574.5,50.9 574.4,50.6 C574.2,50.3 574.1,49.9 574.0,49.5 C573.8,49.2 573.8,48.7 573.8,48.3 C573.8,47.9 573.8,47.5 574.0,47.1 C574.1,46.7 574.3,46.3 574.6,46.0 C574.8,45.6 575.1,45.3 575.5,45.1 C575.8,44.8 576.2,44.6 576.5,44.3 C576.9,44.1 577.3,43.9 577.7,43.7 C578.1,43.6 578.6,43.4 579.0,43.3 C579.5,43.2 579.9,43.1 580.4,43.1 C580.9,43.0 581.4,43.1 581.9,43.1 C582.4,43.2 582.9,43.3 583.4,43.5 C583.9,43.7 584.3,43.9 584.8,44.2 C585.3,44.5 585.7,44.8 586.1,45.2 C586.5,45.5 586.9,46.0 587.1,46.5 C587.4,46.9 587.6,47.5 587.7,48.0 C587.9,48.5 587.9,49.1 587.9,49.7 C587.9,50.2 587.8,50.8 587.7,51.3 C587.5,51.8 587.4,52.3 587.2,52.9 C587.0,53.4 586.9,53.9 586.6,54.5 C586.4,55.0 586.1,55.6 585.8,56.1 C585.4,56.6 585.0,57.2 584.5,57.6 C584.1,58.0 583.5,58.4 582.9,58.7 C582.3,59.0 581.6,59.2 580.9,59.3 C580.2,59.4 579.5,59.4 578.9,59.4 C578.2,59.3 577.5,59.2 576.8,59.0 C576.1,58.9 575.5,58.6 574.9,58.3 C574.2,58.0 573.7,57.6 573.1,57.2 C572.6,56.8 572.1,56.3 571.6,55.7 C571.2,55.2 570.8,54.6 570.4,54.0 C570.1,53.5 569.7,52.8 569.4,52.2 C569.1,51.5 568.8,50.8 568.6,50.1 C568.4,49.4 568.2,48.6 568.1,47.8 C568.1,47.0 568.1,46.1 568.3,45.4 C568.6,44.6 568.9,43.8 569.4,43.1 C569.8,42.4 570.4,41.8 571.0,41.3 C571.7,40.7 572.4,40.3 573.1,39.9 C573.8,39.5 574.5,39.1 575.3,38.8 C576.0,38.5 576.8,38.2 577.6,38.0 C578.4,37.8 579.3,37.6 580.1,37.5 C581.0,37.5 581.9,37.5 582.7,37.6 C583.6,37.7 584.5,37.9 585.3,38.1 C586.2,38.4 587.0,38.8 587.8,39.2 C588.6,39.7 589.4,40.2 590.1,40.8 C590.8,41.4 591.5,42.1 592.0,42.9 C592.5,43.7 593.0,44.6 593.3,45.5 C593.6,46.3 593.7,47.3 593.7,48.2 C593.8,49.2 593.6,50.1 593.4,51.0 C593.3,51.9 593.0,52.8 592.7,53.7 C592.4,54.5 592.1,55.4 591.8,56.3 C591.4,57.1 591.0,58.0 590.5,58.9 C590.0,59.7 589.4,60.6 588.7,61.3 C588.0,62.1 587.1,62.8 586.2,63.3 C585.3,63.9 584.3,64.3 583.2,64.5 C582.2,64.8 581.0,64.9 580.0,64.9 C578.9,64.9 577.8,64.8 576.7,64.6 C575.6,64.4 574.6,64.0 573.6,63.6 C572.6,63.2 571.6,62.6 570.8,62.0 C569.9,61.4 569.1,60.7 568.4,59.9 C567.6,59.1 567.0,58.3 566.4,57.4 C565.8,56.5 565.3,55.6 564.8,54.6 C564.3,53.7 563.9,52.7 563.5,51.6 C563.1,50.5 562.8,49.4 562.6,48.2 C562.4,47.1 562.4,45.8 562.5,44.7 C562.7,43.5 563.1,42.2 563.6,41.2 C564.2,40.1 565.0,39.1 565.8,38.2 C566.7,37.3 567.7,36.6 568.7,35.9 C569.7,35.3 570.8,34.7 571.9,34.2 C573.0,33.7 574.1,33.3 575.3,33.0 C576.4,32.6 577.6,32.3 578.8,32.1 C580.0,31.9 581.3,31.8 582.6,31.9 C583.8,32.0 585.1,32.2 586.3,32.5 C587.6,32.8 588.8,33.2 590.0,33.8 C591.1,34.4 592.3,35.0 593.3,35.8 C594.4,36.6 595.4,37.5 596.3,38.6 C597.1,39.6 597.9,40.7 598.4,41.9 C599.0,43.2 599.3,44.5 599.5,45.8 C599.6,47.1 599.6,48.5 599.4,49.8 C599.3,51.1 598.9,52.3 598.5,53.6 C598.2,54.8 597.7,56.0 597.3,57.2 C596.8,58.4 596.3,59.6 595.7,60.8 C595.0,62.0 594.3,63.2 593.5,64.3 C592.6,65.4 591.6,66.5 590.4,67.3 C589.2,68.2 587.9,68.9 586.5,69.4 C585.1,69.9 583.6,70.2 582.1,70.4 C580.6,70.5 579.1,70.4 577.6,70.2 C576.2,70.1 574.7,69.7 573.3,69.2 C571.9,68.7 570.5,68.1 569.3,67.4 C568.0,66.6 566.8,65.7 565.8,64.8 C564.7,63.8 563.8,62.7 562.9,61.5 C562.1,60.4 561.3,59.2 560.7,57.9 C560.0,56.6 559.3,55.3 558.8,54.0 C558.2,52.6 557.7,51.2 557.3,49.7 C557.0,48.2 556.7,46.6 556.8,45.0 C556.8,43.4 557.1,41.7 557.6,40.2 C558.1,38.7 559.0,37.2 560.0,36.0 C560.9,34.7 562.2,33.6 563.5,32.6 C564.8,31.6 566.2,30.8 567.7,30.1 C569.1,29.4 570.5,28.8 572.0,28.2 C573.5,27.7 575.0,27.2 576.6,26.9 C578.2,26.6 579.8,26.4 581.4,26.3 C583.0,26.3 584.7,26.4 586.3,26.6 C587.9,26.9 589.6,27.4 591.1,28.0 C592.7,28.6 594.2,29.4 595.7,30.3 C597.1,31.2 598.5,32.3 599.7,33.5 C600.9,34.7 602.1,36.1 603.0,37.6 C603.8,39.1 604.5,40.7 604.9,42.4 C605.4,44.0 605.5,45.8 605.4,47.5 C605.4,49.2 605.0,50.9 604.6,52.5 C604.2,54.1 603.7,55.7 603.1,57.2 C602.5,58.8 601.9,60.3 601.2,61.8 C600.5,63.3 599.7,64.9 598.7,66.4 C597.7,67.8 596.6,69.3 595.3,70.6 C594.0,71.8 592.4,73.0 590.7,73.8 C589.1,74.6 587.2,75.2 585.3,75.6 C583.5,76.0 581.5,76.0 579.6,75.9 C577.7,75.8 575.8,75.5 574.0,75.1 C572.2,74.6 570.4,73.9 568.7,73.1 C567.1,72.3 565.5,71.3 564.0,70.2 C562.6,69.1 561.3,67.7 560.1,66.4 C558.9,65.0 557.9,63.5 557.0,62.0 C556.0,60.4 555.2,58.9 554.5,57.2 C553.7,55.5 553.0,53.8 552.4,52.0 C551.9,50.2 551.4,48.3 551.2,46.3 C551.0,44.4 551.0,42.3 551.5,40.3 C551.9,38.4 552.6,36.4 553.6,34.7 C554.7,33.0 556.1,31.4 557.6,30.0 C559.0,28.6 560.8,27.5 562.5,26.5 C564.2,25.5 567.0,24.4 567.9,23.9" fill="none"/>
<g filter="url(#spk)">
<use href="#spc0" stroke="#62aabe" stroke-width="3.6" opacity="0.85"/>
<use href="#spc0" stroke="#e8603a" stroke-width="0.8"/>
</g>
<g clip-path="url(#tc0)"><g filter="url(#spk2)">
<path d="M608.7,42.0 C611.7,43.8 621.5,49.2 626.7,53.0 C631.9,56.8 635.5,61.0 639.7,65.0 C643.9,69.0 648.7,73.8 651.7,77.0 C654.7,80.2 656.7,82.8 657.7,84.0" fill="none" stroke="#3d9ab5" stroke-width="10" stroke-linecap="round" stroke-linejoin="round"/>
<path d="M608.7,42.0 C611.7,43.8 621.5,49.2 626.7,53.0 C631.9,56.8 635.5,61.0 639.7,65.0 C643.9,69.0 648.7,73.8 651.7,77.0 C654.7,80.2 656.7,82.8 657.7,84.0" fill="none" stroke="#fff" stroke-width="4.0" stroke-linecap="round" opacity="0.6"/>
<path d="M672.7,15.0 L679.7,25.0" fill="none" stroke="#3d9ab5" stroke-width="6" stroke-linecap="round" stroke-linejoin="round"/>
<path d="M672.7,15.0 L679.7,25.0" fill="none" stroke="#fff" stroke-width="2.4000000000000004" stroke-linecap="round" opacity="0.6"/>
<path d="M623.7,42.0 C625.7,39.8 631.7,33.2 635.7,29.0 C639.7,24.8 645.7,19.0 647.7,17.0" fill="none" stroke="#3d9ab5" stroke-width="7.9" stroke-linecap="round" stroke-linejoin="round"/>
<path d="M623.7,42.0 C625.7,39.8 631.7,33.2 635.7,29.0 C639.7,24.8 645.7,19.0 647.7,17.0" fill="none" stroke="#fff" stroke-width="3.9" stroke-linecap="round" stroke-linejoin="round"/>
<path d="M623.7,42.0 C625.7,39.8 631.7,33.2 635.7,29.0 C639.7,24.8 645.7,19.0 647.7,17.0" fill="none" stroke="#ebcc2a" stroke-width="2.6" stroke-linecap="round" stroke-linejoin="round"/>
<path d="M623.7,42.0 C625.7,39.8 631.7,33.2 635.7,29.0 C639.7,24.8 645.7,19.0 647.7,17.0" fill="none" stroke="#f03a10" stroke-width="1.3" stroke-linecap="round"/>
<path d="M614.7,33.0 C615.4,31.5 617.5,26.8 618.7,24.0 C619.9,21.2 621.2,17.3 621.7,16.0" fill="none" stroke="#3d9ab5" stroke-width="7.4" stroke-linecap="round" stroke-linejoin="round"/>
<path d="M614.7,33.0 C615.4,31.5 617.5,26.8 618.7,24.0 C619.9,21.2 621.2,17.3 621.7,16.0" fill="none" stroke="#fff" stroke-width="3.5999999999999996" stroke-linecap="round" stroke-linejoin="round"/>
<path d="M614.7,33.0 C615.4,31.5 617.5,26.8 618.7,24.0 C619.9,21.2 621.2,17.3 621.7,16.0" fill="none" stroke="#ebcc2a" stroke-width="2.4000000000000004" stroke-linecap="round" stroke-linejoin="round"/>
<path d="M614.7,33.0 C615.4,31.5 617.5,26.8 618.7,24.0 C619.9,21.2 621.2,17.3 621.7,16.0" fill="none" stroke="#f03a10" stroke-width="1.2000000000000002" stroke-linecap="round"/>
<path d="M633.7,48.0 C635.2,47.0 640.0,43.7 642.7,42.0 C645.4,40.3 648.5,38.7 649.7,38.0" fill="none" stroke="#3d9ab5" stroke-width="6.4" stroke-linecap="round" stroke-linejoin="round"/>
<path d="M633.7,48.0 C635.2,47.0 640.0,43.7 642.7,42.0 C645.4,40.3 648.5,38.7 649.7,38.0" fill="none" stroke="#fff" stroke-width="3.0" stroke-linecap="round" stroke-linejoin="round"/>
<path d="M633.7,48.0 C635.2,47.0 640.0,43.7 642.7,42.0 C645.4,40.3 648.5,38.7 649.7,38.0" fill="none" stroke="#ebcc2a" stroke-width="2.0" stroke-linecap="round" stroke-linejoin="round"/>
<path d="M633.7,48.0 C635.2,47.0 640.0,43.7 642.7,42.0 C645.4,40.3 648.5,38.7 649.7,38.0" fill="none" stroke="#f03a10" stroke-width="1.0" stroke-linecap="round"/>
<path d="M656.7,57.0 C657.0,55.8 657.7,52.3 658.2,50.0 C658.7,47.7 659.5,44.2 659.7,43.0" fill="none" stroke="#3d9ab5" stroke-width="7.4" stroke-linecap="round" stroke-linejoin="round"/>
<path d="M656.7,57.0 C657.0,55.8 657.7,52.3 658.2,50.0 C658.7,47.7 659.5,44.2 659.7,43.0" fill="none" stroke="#fff" stroke-width="3.5999999999999996" stroke-linecap="round" stroke-linejoin="round"/>
<path d="M656.7,57.0 C657.0,55.8 657.7,52.3 658.2,50.0 C658.7,47.7 659.5,44.2 659.7,43.0" fill="none" stroke="#ebcc2a" stroke-width="2.4000000000000004" stroke-linecap="round" stroke-linejoin="round"/>
<path d="M656.7,57.0 C657.0,55.8 657.7,52.3 658.2,50.0 C658.7,47.7 659.5,44.2 659.7,43.0" fill="none" stroke="#f03a10" stroke-width="1.2000000000000002" stroke-linecap="round"/>
<path d="M646.7,68.0 C648.9,67.0 655.7,63.5 659.7,62.0 C663.7,60.5 668.9,59.5 670.7,59.0" fill="none" stroke="#3d9ab5" stroke-width="6.4" stroke-linecap="round" stroke-linejoin="round"/>
<path d="M646.7,68.0 C648.9,67.0 655.7,63.5 659.7,62.0 C663.7,60.5 668.9,59.5 670.7,59.0" fill="none" stroke="#fff" stroke-width="3.0" stroke-linecap="round" stroke-linejoin="round"/>
<path d="M646.7,68.0 C648.9,67.0 655.7,63.5 659.7,62.0 C663.7,60.5 668.9,59.5 670.7,59.0" fill="none" stroke="#ebcc2a" stroke-width="2.0" stroke-linecap="round" stroke-linejoin="round"/>
<path d="M646.7,68.0 C648.9,67.0 655.7,63.5 659.7,62.0 C663.7,60.5 668.9,59.5 670.7,59.0" fill="none" stroke="#f03a10" stroke-width="1.0" stroke-linecap="round"/>
<path d="M653.7,24.0 C654.5,23.5 656.7,20.7 658.7,21.0 C660.7,21.3 664.5,25.2 665.7,26.0" fill="none" stroke="#3d9ab5" stroke-width="4.9" stroke-linecap="round" stroke-linejoin="round"/>
<path d="M653.7,24.0 C654.5,23.5 656.7,20.7 658.7,21.0 C660.7,21.3 664.5,25.2 665.7,26.0" fill="none" stroke="#fff" stroke-width="2.1" stroke-linecap="round" stroke-linejoin="round"/>
<path d="M653.7,24.0 C654.5,23.5 656.7,20.7 658.7,21.0 C660.7,21.3 664.5,25.2 665.7,26.0" fill="none" stroke="#ebcc2a" stroke-width="1.4000000000000001" stroke-linecap="round" stroke-linejoin="round"/>
<path d="M653.7,24.0 C654.5,23.5 656.7,20.7 658.7,21.0 C660.7,21.3 664.5,25.2 665.7,26.0" fill="none" stroke="#f03a10" stroke-width="0.7000000000000001" stroke-linecap="round"/>
<path d="M668.7,50.0 L677.7,47.0" fill="none" stroke="#3d9ab5" stroke-width="4.6" stroke-linecap="round" stroke-linejoin="round"/>
<path d="M668.7,50.0 L677.7,47.0" fill="none" stroke="#fff" stroke-width="1.92" stroke-linecap="round" stroke-linejoin="round"/>
<path d="M668.7,50.0 L677.7,47.0" fill="none" stroke="#ebcc2a" stroke-width="1.2800000000000002" stroke-linecap="round" stroke-linejoin="round"/>
<path d="M668.7,50.0 L677.7,47.0" fill="none" stroke="#f03a10" stroke-width="0.6400000000000001" stroke-linecap="round"/>
<path d="M671.7,68.0 L679.7,66.0" fill="none" stroke="#3d9ab5" stroke-width="5.4" stroke-linecap="round" stroke-linejoin="round"/>
<path d="M671.7,68.0 L679.7,66.0" fill="none" stroke="#fff" stroke-width="2.4" stroke-linecap="round" stroke-linejoin="round"/>
<path d="M671.7,68.0 L679.7,66.0" fill="none" stroke="#ebcc2a" stroke-width="1.6" stroke-linecap="round" stroke-linejoin="round"/>
<path d="M671.7,68.0 L679.7,66.0" fill="none" stroke="#f03a10" stroke-width="0.8" stroke-linecap="round"/>
<path d="M661.7,83.0 L678.7,75.0" fill="none" stroke="#3d9ab5" stroke-width="6.4" stroke-linecap="round" stroke-linejoin="round"/>
<path d="M661.7,83.0 L678.7,75.0" fill="none" stroke="#fff" stroke-width="3.0" stroke-linecap="round" stroke-linejoin="round"/>
<path d="M661.7,83.0 L678.7,75.0" fill="none" stroke="#ebcc2a" stroke-width="2.0" stroke-linecap="round" stroke-linejoin="round"/>
<path d="M661.7,83.0 L678.7,75.0" fill="none" stroke="#f03a10" stroke-width="1.0" stroke-linecap="round"/>
<path d="M608.7,42.0 C611.7,43.8 621.5,49.2 626.7,53.0 C631.9,56.8 635.5,61.0 639.7,65.0 C643.9,69.0 648.7,73.8 651.7,77.0 C654.7,80.2 656.7,82.8 657.7,84.0" fill="none" stroke="#f04010" stroke-width="1.3" stroke-dasharray="1.5 1" transform="translate(-4.0,4.0)"/>
</g></g>
<line x1="595.4" y1="33.5" x2="611.7" y2="17.0" stroke="#333" stroke-width="0.45"/>
<line x1="595.4" y1="36.9" x2="611.7" y2="81.5" stroke="#333" stroke-width="0.45"/>
<rect x="592.0" y="33.5" width="3.4" height="3.4" fill="none" stroke="#222" stroke-width="0.7"/>
<defs><linearGradient id="ug3" x1="0" y1="0" x2="0" y2="1"><stop offset="0" stop-color="#a3c6c7"/><stop offset="0.25" stop-color="#b2c7ae"/><stop offset="0.4" stop-color="#d6bc62"/><stop offset="0.5" stop-color="#f09a2a"/><stop offset="0.8" stop-color="#f07620"/><stop offset="1" stop-color="#ee4c16"/></linearGradient></defs>
<g filter="url(#soft)">
<path d="M65.1,86.8 C67.1,85.8 79.0,85.8 81.4,86.4 C83.8,87.0 87.6,91.4 88.8,92.9 C90.0,94.5 93.0,99.9 93.7,101.9 C94.4,103.9 95.1,110.7 95.3,112.6 C95.5,114.5 95.6,118.9 95.3,120.7 C95.0,122.5 93.1,128.9 92.1,130.6 C91.1,132.3 86.7,136.9 85.5,137.9 C84.3,138.9 81.5,140.5 80.6,140.4 C79.7,140.3 77.1,138.2 76.5,137.1 C75.9,135.9 75.1,129.9 74.5,128.9 C73.9,127.9 71.3,127.3 70.5,127.5 C69.7,127.7 67.0,131.2 66.5,131.0 C66.0,130.8 65.9,126.5 65.5,125.5 C65.1,124.5 63.4,121.8 62.5,121.5 C61.6,121.2 57.5,122.5 56.5,122.5 C55.5,122.5 53.4,122.0 52.5,121.5 C51.6,121.0 48.1,118.7 47.5,117.5 C46.9,116.3 46.4,111.1 46.3,109.5 C46.2,107.9 45.7,102.1 46.3,101.5 C46.9,100.9 51.3,103.5 52.5,103.5 C53.7,103.5 57.6,101.8 58.5,101.1 C59.4,100.4 61.1,97.6 61.8,96.2 C62.5,94.8 63.1,87.8 65.1,86.8Z" fill="#d9e6e4"/>
<path d="M61.8,96.2 C62.7,94.3 63.5,88.1 65.1,86.8 C66.7,85.5 72.0,85.8 73.5,86.3 C75.0,86.8 76.5,89.4 76.5,90.5 C76.5,91.6 74.6,93.4 73.5,94.5 C72.4,95.6 70.0,97.3 68.5,98.5 C67.0,99.7 63.8,103.2 62.5,103.5 C61.2,103.8 58.6,102.1 58.5,101.1 C58.4,100.1 60.9,98.1 61.8,96.2Z" fill="#aacbcb" opacity="0.75"/>
<path d="M65.1,86.8 C65.6,86.4 71.9,86.3 73.5,86.3 C75.1,86.3 79.9,85.7 81.4,86.4 C82.9,87.1 87.6,91.4 88.8,92.9 C90.0,94.5 93.0,99.9 93.7,101.9 C94.4,103.9 95.6,110.5 95.8,112.5 C96.0,114.5 95.9,119.7 95.5,121.5 C95.1,123.3 93.1,129.0 92.1,130.6 C91.1,132.2 86.7,136.9 85.5,137.9 C84.3,138.9 81.6,140.4 80.6,140.4 C79.6,140.4 76.5,138.3 75.5,137.5 C74.5,136.7 71.3,133.0 70.5,132.0 C69.7,131.0 67.5,128.4 67.5,127.5 C67.5,126.5 69.7,123.6 70.5,122.5 C71.3,121.4 74.7,117.9 75.5,116.5 C76.3,115.1 78.2,110.2 78.5,108.5 C78.8,106.8 78.8,101.2 78.5,99.5 C78.2,97.8 76.0,93.0 75.0,92.0 C74.0,91.0 69.5,90.5 68.5,90.0 C67.5,89.5 64.6,87.2 65.1,86.8Z" fill="url(#ug3)" opacity="0.92"/>
<ellipse cx="69.5" cy="121.5" rx="6" ry="9" fill="#f08a30" opacity="0.45"/>
<path d="M46.3,101.5 C46.9,100.9 51.7,102.5 52.5,103.5 C53.3,104.5 54.4,109.9 54.5,111.5 C54.6,113.1 54.4,118.5 54.0,119.5 C53.6,120.5 51.1,121.2 50.5,121.0 C49.9,120.8 47.9,118.7 47.5,117.5 C47.1,116.3 46.4,111.1 46.3,109.5 C46.2,107.9 45.7,102.1 46.3,101.5Z" fill="#a0c5ca" opacity="0.85"/>
<path d="M58.9,98.7 C59.1,98.8 60.7,105.3 61.0,105.5 C61.3,105.7 64.9,102.6 65.1,102.8 C65.2,103.0 63.9,108.1 64.0,108.5 C64.1,108.9 67.4,111.2 67.5,111.5 C67.6,111.8 65.5,114.1 65.5,114.5 C65.5,114.9 68.4,119.4 68.5,119.9 C68.6,120.5 67.1,125.0 67.0,125.5 C66.9,126.0 66.1,130.6 65.9,130.5 C65.8,130.4 64.3,124.0 64.0,123.5 C63.7,123.0 60.9,121.5 60.5,121.5 C60.1,121.5 56.8,122.6 56.5,122.5 C56.2,122.4 54.1,120.0 54.0,119.5 C53.9,119.0 53.8,114.0 53.6,113.5 C53.4,113.0 50.9,109.1 50.5,108.5 C50.1,107.9 46.2,101.6 46.3,101.5 C46.4,101.4 52.5,105.8 53.0,106.0 C53.5,106.2 55.7,104.9 56.0,104.5 C56.3,104.1 58.6,98.7 58.9,98.7Z" fill="#f07426" opacity="0.8"/>
<polyline points="51.0,119.5 50.7,126.5 50.4,133.0" fill="none" stroke="#8fc0c8" stroke-width="2.6" stroke-linecap="round"/>
<polyline points="53.5,127.0 56.5,130.5 59.8,135.5" fill="none" stroke="#8fc0c8" stroke-width="0.9"/>
</g>
<path id="spa1" d="M135.4,116.3 C135.3,116.3 135.0,116.2 134.8,116.2 C134.6,116.1 134.4,116.1 134.2,116.0 C134.0,115.9 133.8,115.7 133.6,115.6 C133.4,115.4 133.2,115.2 133.1,115.0 C133.0,114.8 132.9,114.6 132.8,114.4 C132.7,114.1 132.6,113.9 132.6,113.6 C132.6,113.4 132.6,113.1 132.6,112.8 C132.6,112.6 132.7,112.3 132.7,112.0 C132.8,111.8 132.9,111.5 133.0,111.3 C133.1,111.0 133.2,110.7 133.4,110.5 C133.5,110.2 133.7,109.9 133.9,109.7 C134.1,109.4 134.3,109.2 134.6,109.0 C134.8,108.7 135.1,108.5 135.4,108.4 C135.8,108.2 136.1,108.0 136.5,107.9 C136.8,107.8 137.2,107.8 137.6,107.8 C138.0,107.8 138.4,107.8 138.8,107.9 C139.1,107.9 139.5,108.1 139.9,108.2 C140.2,108.4 140.6,108.6 140.9,108.8 C141.2,109.0 141.5,109.3 141.8,109.6 C142.1,109.8 142.4,110.1 142.6,110.5 C142.9,110.8 143.1,111.1 143.3,111.5 C143.5,111.9 143.7,112.2 143.9,112.6 C144.0,113.1 144.2,113.5 144.3,113.9 C144.3,114.4 144.4,114.8 144.4,115.3 C144.3,115.8 144.3,116.3 144.1,116.7 C144.0,117.2 143.8,117.6 143.6,118.1 C143.3,118.5 143.0,118.9 142.7,119.2 C142.3,119.6 141.9,119.9 141.5,120.2 C141.1,120.5 140.7,120.7 140.2,120.9 C139.7,121.1 139.2,121.3 138.7,121.4 C138.2,121.5 137.7,121.6 137.2,121.7 C136.7,121.8 136.2,121.8 135.6,121.8 C135.1,121.8 134.5,121.7 134.0,121.6 C133.4,121.5 132.8,121.4 132.3,121.2 C131.7,121.0 131.2,120.8 130.7,120.4 C130.1,120.1 129.6,119.7 129.2,119.3 C128.8,118.9 128.4,118.4 128.1,117.8 C127.8,117.3 127.5,116.7 127.3,116.1 C127.2,115.5 127.1,114.9 127.0,114.3 C127.0,113.7 127.1,113.0 127.1,112.4 C127.2,111.8 127.4,111.2 127.6,110.6 C127.8,110.0 128.0,109.4 128.3,108.9 C128.5,108.3 128.8,107.7 129.2,107.2 C129.5,106.6 129.9,106.1 130.4,105.6 C130.8,105.1 131.3,104.6 131.9,104.1 C132.4,103.7 133.0,103.3 133.6,102.9 C134.3,102.6 135.0,102.3 135.7,102.1 C136.4,101.9 137.2,101.8 138.0,101.7 C138.8,101.7 139.6,101.8 140.3,101.9 C141.1,102.1 141.8,102.4 142.5,102.7 C143.2,103.0 143.9,103.4 144.5,103.8 C145.1,104.3 145.7,104.8 146.2,105.3 C146.8,105.9 147.3,106.4 147.7,107.1 C148.2,107.7 148.6,108.3 149.0,109.0 C149.3,109.7 149.7,110.4 149.9,111.1 C150.2,111.8 150.4,112.6 150.6,113.4 C150.7,114.2 150.8,115.0 150.8,115.9 C150.8,116.7 150.7,117.6 150.5,118.4 C150.2,119.2 149.9,120.0 149.5,120.8 C149.1,121.5 148.6,122.2 148.0,122.9 C147.4,123.5 146.7,124.1 146.0,124.6 C145.3,125.1 144.5,125.5 143.7,125.9 C142.9,126.2 142.1,126.5 141.2,126.7 C140.4,127.0 139.5,127.1 138.6,127.2 C137.7,127.3 136.8,127.4 135.9,127.4 C135.0,127.4 134.1,127.3 133.2,127.2 C132.3,127.0 131.4,126.8 130.4,126.5 C129.5,126.2 128.6,125.8 127.8,125.4 C126.9,124.9 126.1,124.3 125.4,123.6 C124.6,122.9 124.0,122.2 123.4,121.3 C122.9,120.5 122.4,119.6 122.1,118.6 C121.8,117.7 121.6,116.7 121.5,115.7 C121.4,114.7 121.4,113.7 121.5,112.7 C121.7,111.7 121.9,110.8 122.2,109.8 C122.4,108.9 122.8,108.0 123.2,107.1 C123.6,106.2 124.1,105.3 124.6,104.5 C125.1,103.6 125.7,102.8 126.4,102.0 C127.0,101.2 127.7,100.5 128.5,99.8 C129.3,99.1 130.2,98.4 131.2,97.8 C132.1,97.3 133.2,96.8 134.2,96.4 C135.3,96.1 136.5,95.8 137.6,95.7 C138.8,95.6 139.9,95.7 141.1,95.9 C142.2,96.0 143.4,96.4 144.4,96.8 C145.5,97.2 146.6,97.8 147.5,98.4 C148.5,99.0 149.3,99.8 150.2,100.5 C151.0,101.3 151.7,102.2 152.4,103.0 C153.1,103.9 153.7,104.9 154.3,105.8 C154.8,106.8 155.3,107.8 155.8,108.9 C156.2,109.9 156.5,111.0 156.8,112.2 C157.1,113.3 157.2,114.5 157.3,115.7 C157.3,116.9 157.2,118.1 157.0,119.3 C156.7,120.5 156.3,121.7 155.8,122.8 C155.3,123.9 154.6,125.0 153.8,126.0 C153.0,126.9 152.1,127.8 151.1,128.6 C150.1,129.3 149.0,130.0 147.9,130.5 C146.8,131.1 145.6,131.5 144.4,131.9 C143.2,132.2 142.0,132.5 140.7,132.7 C139.5,132.9 138.2,132.9 137.0,133.0 C135.7,133.0 134.5,132.9 133.2,132.8 C131.9,132.6 130.6,132.4 129.3,132.0 C128.1,131.7 126.8,131.2 125.6,130.6 C124.4,130.0 123.2,129.3 122.1,128.4 C121.0,127.5 120.0,126.5 119.2,125.4 C118.4,124.3 117.7,123.1 117.1,121.8 C116.6,120.6 116.2,119.2 116.0,117.8 C115.8,116.5 115.8,115.1 115.9,113.7 C116.0,112.4 116.2,111.0 116.6,109.7 C116.9,108.4 117.3,107.2 117.9,106.0 C118.4,104.7 119.0,103.5 119.7,102.4 C120.3,101.2 121.1,100.1 121.9,99.0 C122.8,97.9 123.7,96.9 124.7,95.9 C125.7,94.9 126.9,94.0 128.1,93.2 C129.3,92.3 130.6,91.6 132.0,91.1 C133.4,90.5 134.9,90.1 136.5,89.9 C138.0,89.6 139.6,89.6 141.1,89.7 C142.6,89.8 144.2,90.2 145.7,90.7 C147.1,91.1 148.5,91.8 149.8,92.6 C151.2,93.3 152.4,94.3 153.5,95.3 C154.7,96.2 155.7,97.3 156.6,98.5 C157.6,99.6 158.4,100.8 159.2,102.1 C160.0,103.3 160.7,104.6 161.3,106.0 C161.9,107.4 162.4,108.8 162.8,110.3 C163.2,111.7 163.5,113.2 163.6,114.8 C163.8,116.3 163.8,117.9 163.5,119.5 C163.3,121.1 162.9,122.7 162.4,124.2 C161.8,125.6 161.0,127.1 160.0,128.4 C159.1,129.7 158.0,131.0 156.7,132.0 C155.5,133.1 154.1,134.1 152.7,134.8 C151.3,135.6 149.8,136.3 148.2,136.8 C146.7,137.3 145.1,137.7 143.6,138.0 C142.0,138.3 140.4,138.5 138.8,138.5 C137.1,138.6 135.5,138.6 133.9,138.5 C132.2,138.3 130.6,138.1 128.9,137.7 C127.3,137.3 125.6,136.8 124.1,136.1 C122.5,135.5 120.9,134.6 119.5,133.6 C118.1,132.6 116.7,131.4 115.5,130.1 C114.4,128.8 113.3,127.3 112.5,125.7 C111.7,124.2 111.1,122.4 110.8,120.7 C110.4,119.0 110.2,117.3 110.2,115.5 C110.2,113.8 110.7,111.2 110.8,110.4" fill="none"/>
<g filter="url(#spk)">
<use href="#spa1" stroke="#f29a50" stroke-width="3.4"/>
<use href="#spa1" stroke="#e8c050" stroke-width="2.0" opacity="0.8"/>
<use href="#spa1" stroke="#6cb0c0" stroke-width="1.3"/>
</g>
<g clip-path="url(#ta1)"><g filter="url(#spk2)">
<path d="M205.5,78.5 C207.3,81.0 213.0,88.8 216.5,93.5 C220.0,98.2 223.7,102.2 226.5,106.5 C229.3,110.8 231.2,115.0 233.5,119.5 C235.8,124.0 239.3,131.2 240.5,133.5" fill="none" stroke="#7ab2c0" stroke-width="12" stroke-linecap="round" stroke-linejoin="round"/>
<path d="M205.5,78.5 C207.3,81.0 213.0,88.8 216.5,93.5 C220.0,98.2 223.7,102.2 226.5,106.5 C229.3,110.8 231.2,115.0 233.5,119.5 C235.8,124.0 239.3,131.2 240.5,133.5" fill="none" stroke="#a8c4b0" stroke-width="5.4" stroke-linecap="round" transform="translate(2.4,-2.4)"/>
<path d="M172.5,141.5 L173.5,147.5" fill="none" stroke="#7ab2c0" stroke-width="3" stroke-linecap="round" stroke-linejoin="round"/>
<path d="M203.5,84.5 C200.8,86.0 192.7,90.3 187.5,93.5 C182.3,96.7 175.0,101.8 172.5,103.5" fill="none" stroke="#ebcc2a" stroke-width="7" stroke-linecap="round" stroke-linejoin="round"/>
<path d="M192.4,90.7 L189.0,92.7 L185.6,94.8 L182.3,96.9 L179.1,99.1 L175.8,101.3 L172.5,103.5" fill="none" stroke="#e2b103" stroke-width="6.79" stroke-linecap="round" stroke-linejoin="round"/>
<path d="M182.2,97.0 L180.6,98.1 L179.0,99.2 L177.3,100.3 L175.7,101.3 L174.1,102.4 L172.5,103.5" fill="none" stroke="#ef3200" stroke-width="6.79" stroke-linecap="round" stroke-linejoin="round"/>
<path d="M211.5,93.5 C208.8,95.7 200.5,102.3 195.5,106.5 C190.5,110.7 183.8,116.5 181.5,118.5" fill="none" stroke="#eaca27" stroke-width="9" stroke-linecap="round" stroke-linejoin="round"/>
<path d="M200.9,102.1 L197.6,104.8 L194.3,107.5 L191.1,110.2 L187.9,113.0 L184.7,115.7 L181.5,118.5" fill="none" stroke="#e1b001" stroke-width="8.73" stroke-linecap="round" stroke-linejoin="round"/>
<path d="M191.0,110.4 L189.4,111.7 L187.8,113.1 L186.2,114.4 L184.7,115.8 L183.1,117.1 L181.5,118.5" fill="none" stroke="#f02c00" stroke-width="8.73" stroke-linecap="round" stroke-linejoin="round"/>
<path d="M216.5,112.5 C213.7,114.0 205.0,118.7 199.5,121.5 C194.0,124.3 186.2,128.2 183.5,129.5" fill="none" stroke="#ebcc2a" stroke-width="6" stroke-linecap="round" stroke-linejoin="round"/>
<path d="M205.0,118.6 L201.5,120.5 L197.9,122.3 L194.3,124.1 L190.7,125.9 L187.1,127.7 L183.5,129.5" fill="none" stroke="#e2b103" stroke-width="5.82" stroke-linecap="round" stroke-linejoin="round"/>
<path d="M194.1,124.2 L192.4,125.1 L190.6,126.0 L188.8,126.8 L187.0,127.7 L185.3,128.6 L183.5,129.5" fill="none" stroke="#f02c00" stroke-width="5.82" stroke-linecap="round" stroke-linejoin="round"/>
<path d="M225.5,119.5 C222.5,120.8 213.2,125.2 207.5,127.5 C201.8,129.8 194.2,132.5 191.5,133.5" fill="none" stroke="#d4c849" stroke-width="6" stroke-linecap="round" stroke-linejoin="round"/>
<path d="M213.7,124.7 L210.1,126.3 L206.4,127.9 L202.7,129.3 L199.0,130.7 L195.2,132.1 L191.5,133.5" fill="none" stroke="#e3b508" stroke-width="5.82" stroke-linecap="round" stroke-linejoin="round"/>
<path d="M202.5,129.4 L200.7,130.1 L198.8,130.7 L197.0,131.4 L195.2,132.1 L193.3,132.8 L191.5,133.5" fill="none" stroke="#ef3800" stroke-width="5.82" stroke-linecap="round" stroke-linejoin="round"/>
<path d="M174.5,111.5 L177.5,112.0" fill="none" stroke="#f02c00" stroke-width="4" stroke-linecap="round" stroke-linejoin="round"/>
<path d="M175.6,111.7 L175.9,111.7 L176.2,111.8 L176.5,111.8 L176.8,111.9 L177.2,111.9 L177.5,112.0" fill="none" stroke="#f02c00" stroke-width="3.88" stroke-linecap="round" stroke-linejoin="round"/>
<path d="M176.5,111.8 L176.7,111.9 L176.9,111.9 L177.0,111.9 L177.2,111.9 L177.3,112.0 L177.5,112.0" fill="none" stroke="#f02c00" stroke-width="3.88" stroke-linecap="round" stroke-linejoin="round"/>
<path d="M234.5,133.5 C232.3,134.7 225.3,138.2 221.5,140.5 C217.7,142.8 213.2,146.3 211.5,147.5" fill="none" stroke="#c6c55c" stroke-width="7" stroke-linecap="round" stroke-linejoin="round"/>
<path d="M226.2,138.0 L223.6,139.4 L221.1,140.8 L218.7,142.5 L216.3,144.1 L213.9,145.8 L211.5,147.5" fill="none" stroke="#e7bf18" stroke-width="6.79" stroke-linecap="round" stroke-linejoin="round"/>
<path d="M218.6,142.6 L217.4,143.4 L216.2,144.2 L215.0,145.0 L213.9,145.9 L212.7,146.7 L211.5,147.5" fill="none" stroke="#e49100" stroke-width="6.79" stroke-linecap="round" stroke-linejoin="round"/>
<path d="M171.5,83.5 L177.5,80.5" fill="none" stroke="#e1af00" stroke-width="5" stroke-linecap="round" stroke-linejoin="round"/>
<path d="M173.6,82.5 L174.2,82.1 L174.9,81.8 L175.6,81.5 L176.2,81.2 L176.8,80.8 L177.5,80.5" fill="none" stroke="#e87300" stroke-width="4.85" stroke-linecap="round" stroke-linejoin="round"/>
<path d="M175.6,81.5 L175.9,81.3 L176.2,81.1 L176.5,81.0 L176.9,80.8 L177.2,80.7 L177.5,80.5" fill="none" stroke="#ef3800" stroke-width="4.85" stroke-linecap="round" stroke-linejoin="round"/>
</g></g>
<rect x="126.6" y="119.2" width="3.4" height="3.4" fill="none" stroke="#222" stroke-width="0.7"/>
<defs><linearGradient id="ug4" x1="0" y1="0" x2="1" y2="0"><stop offset="0" stop-color="#fbe6d8"/><stop offset="0.45" stop-color="#f6c8a8"/><stop offset="0.8" stop-color="#f08a48"/><stop offset="1" stop-color="#f07838"/></linearGradient></defs>
<g filter="url(#soft)">
<path d="M323.6,86.8 C325.6,85.8 337.5,85.8 339.9,86.4 C342.3,87.0 346.1,91.4 347.3,92.9 C348.5,94.5 351.6,99.9 352.2,101.9 C352.8,103.9 353.6,110.7 353.8,112.6 C354.0,114.5 354.1,118.9 353.8,120.7 C353.5,122.5 351.6,128.9 350.6,130.6 C349.6,132.3 345.1,136.9 344.0,137.9 C342.9,138.9 340.0,140.5 339.1,140.4 C338.2,140.3 335.6,138.2 335.0,137.1 C334.4,135.9 333.6,129.9 333.0,128.9 C332.4,127.9 329.8,127.3 329.0,127.5 C328.2,127.7 325.5,131.2 325.0,131.0 C324.5,130.8 324.4,126.5 324.0,125.5 C323.6,124.5 321.9,121.8 321.0,121.5 C320.1,121.2 316.0,122.5 315.0,122.5 C314.0,122.5 311.9,122.0 311.0,121.5 C310.1,121.0 306.6,118.7 306.0,117.5 C305.4,116.3 304.9,111.1 304.8,109.5 C304.7,107.9 304.2,102.1 304.8,101.5 C305.4,100.9 309.8,103.5 311.0,103.5 C312.2,103.5 316.1,101.8 317.0,101.1 C317.9,100.4 319.6,97.6 320.3,96.2 C321.0,94.8 321.6,87.8 323.6,86.8Z" fill="#fcefe6"/>
<path d="M320.3,96.2 C321.2,94.3 322.0,88.1 323.6,86.8 C325.2,85.5 330.5,85.8 332.0,86.3 C333.5,86.8 335.0,89.4 335.0,90.5 C335.0,91.6 333.1,93.4 332.0,94.5 C330.9,95.6 328.5,97.3 327.0,98.5 C325.5,99.7 322.3,103.2 321.0,103.5 C319.7,103.8 317.1,102.1 317.0,101.1 C316.9,100.1 319.4,98.1 320.3,96.2Z" fill="#f6c0a0" opacity="0.7"/>
<path d="M323.6,86.8 C324.1,86.4 330.4,86.3 332.0,86.3 C333.6,86.3 338.4,85.7 339.9,86.4 C341.4,87.1 346.1,91.4 347.3,92.9 C348.5,94.5 351.6,99.9 352.2,101.9 C352.8,103.9 353.6,110.7 353.8,112.6 C354.0,114.5 354.1,118.9 353.8,120.7 C353.5,122.5 351.6,128.9 350.6,130.6 C349.6,132.3 345.1,136.9 344.0,137.9 C342.9,138.9 340.0,140.5 339.1,140.4 C338.2,140.3 335.7,138.2 335.0,137.1 C334.3,135.9 332.4,130.5 332.0,128.9 C331.6,127.3 330.6,122.4 330.5,120.7 C330.4,119.0 331.4,113.4 331.5,111.5 C331.6,109.6 332.1,103.3 332.0,101.5 C331.9,99.7 330.5,94.7 330.0,93.5 C329.5,92.3 327.6,90.7 327.0,90.0 C326.4,89.3 323.1,87.2 323.6,86.8Z" fill="url(#ug4)" opacity="0.9"/>
<path d="M321.0,88.0 C322.5,87.8 326.8,86.9 330.0,86.7 C333.2,86.5 337.2,85.9 340.0,86.9 C342.8,88.0 345.4,92.0 346.5,93.0" fill="none" stroke="#f08a40" stroke-width="2.6" opacity="0.85"/>
<path d="M304.8,101.5 C305.4,100.9 310.2,102.5 311.0,103.5 C311.8,104.5 312.9,109.9 313.0,111.5 C313.1,113.1 312.9,118.5 312.5,119.5 C312.1,120.5 309.6,121.2 309.0,121.0 C308.4,120.8 306.4,118.7 306.0,117.5 C305.6,116.3 304.9,111.1 304.8,109.5 C304.7,107.9 304.2,102.1 304.8,101.5Z" fill="#f8d8c0" opacity="0.85"/>
<path d="M317.4,98.7 C317.7,98.7 319.0,104.8 319.3,105.0 C319.6,105.2 323.5,102.6 323.6,102.8 C323.7,103.0 321.7,107.6 321.8,108.0 C321.9,108.4 326.5,110.8 326.5,111.0 C326.5,111.2 322.6,112.2 322.5,112.5 C322.4,112.8 325.1,117.8 325.0,118.0 C324.9,118.2 320.8,115.8 320.5,116.0 C320.2,116.2 318.7,121.5 318.5,121.5 C318.3,121.5 316.9,116.2 316.5,116.0 C316.1,115.8 311.6,118.7 311.5,118.5 C311.4,118.3 313.8,113.4 313.5,113.0 C313.2,112.6 304.9,110.2 304.8,110.0 C304.8,109.8 312.5,109.4 312.5,109.0 C312.5,108.6 304.8,101.7 304.8,101.5 C304.8,101.3 312.4,105.1 313.0,105.0 C313.6,104.9 317.1,98.7 317.4,98.7Z" fill="#f09058" opacity="0.8"/>
<polyline points="309.5,119.5 309.2,126.5 308.9,133.0" fill="none" stroke="#f09050" stroke-width="2.6" stroke-linecap="round"/>
<polyline points="312.0,127.0 315.0,130.5 318.3,135.5" fill="none" stroke="#f09050" stroke-width="0.9"/>
</g>
<g filter="url(#spk2)">
<circle cx="396.8" cy="114.5" r="21" fill="#e2e2e2" opacity="0.75"/>
<path d="M406.7,86.8 C407.5,87.3 410.1,88.5 411.7,89.6 C413.3,90.6 414.7,91.8 416.1,93.1 C417.4,94.4 418.7,95.8 419.8,97.3 C420.9,98.8 422.0,100.3 422.8,102.0 C423.6,103.7 424.3,105.4 424.7,107.2 C425.2,109.0 425.4,110.9 425.5,112.8 C425.5,114.7 425.3,116.6 424.9,118.4 C424.6,120.2 424.0,122.0 423.2,123.7 C422.5,125.4 421.6,127.0 420.5,128.5 C419.5,130.1 418.3,131.5 417.0,132.8 C415.7,134.2 414.3,135.4 412.8,136.5 C411.3,137.6 409.6,138.5 407.9,139.3 C406.2,140.1 404.3,140.7 402.5,141.0 C400.6,141.4 398.7,141.6 396.8,141.5 C394.9,141.5 393.0,141.3 391.2,140.9 C389.3,140.5 387.5,139.9 385.8,139.2 C384.0,138.5 382.3,137.6 380.7,136.6 C379.1,135.6 377.6,134.5 376.2,133.2 C374.8,131.9 373.5,130.5 372.3,129.0 C371.2,127.5 370.2,125.7 369.5,124.0 C368.8,122.2 368.3,120.3 368.1,118.5 C367.8,116.6 367.8,114.6 368.0,112.8 C368.3,110.9 368.8,109.1 369.3,107.4 C369.9,105.6 370.7,103.9 371.6,102.3 C372.5,100.8 373.4,99.2 374.5,97.8 C375.6,96.3 376.7,94.9 378.0,93.6 C379.2,92.3 380.6,91.0 382.1,89.9 C383.6,88.8 386.1,87.4 386.9,86.9" fill="none" stroke="#5aa8bc" stroke-width="1.98"/>
<path d="M421.4,113.5 C421.4,115.3 421.1,117.1 420.7,118.9 C420.3,120.6 419.7,122.3 419.0,124.0 C418.3,125.6 417.4,127.3 416.3,128.7 C415.2,130.2 413.9,131.6 412.5,132.9 C411.1,134.1 409.5,135.2 407.9,136.0 C406.2,136.9 404.3,137.6 402.5,138.0 C400.7,138.4 398.7,138.6 396.8,138.5 C394.9,138.4 393.0,138.0 391.2,137.5 C389.4,136.9 387.7,136.1 386.1,135.2 C384.6,134.3 383.1,133.2 381.7,132.0 C380.4,130.9 379.1,129.6 378.0,128.2 C376.8,126.9 375.7,125.4 374.8,123.9 C373.9,122.3 373.0,120.7 372.4,119.0 C371.8,117.2 371.4,115.4 371.2,113.5 C371.0,111.6 371.1,109.7 371.5,107.8 C371.9,106.0 372.6,104.1 373.5,102.5 C374.4,100.8 375.6,99.3 376.9,98.0 C378.2,96.6 379.8,95.5 381.3,94.5 C382.9,93.5 384.6,92.7 386.2,92.0 C387.9,91.3 389.7,90.8 391.4,90.4 C393.2,90.0 395.0,89.7 396.8,89.5 C398.6,89.4 400.5,89.4 402.3,89.7 C404.2,90.0 406.1,90.4 407.8,91.1 C409.5,91.8 411.2,92.8 412.7,93.9 C414.2,95.1 415.6,96.5 416.7,97.9 C417.8,99.4 418.8,101.1 419.5,102.8 C420.2,104.5 420.7,106.3 421.0,108.1 C421.4,109.9 421.5,111.7 421.4,113.5Z" fill="none" stroke="#a6c8bc" stroke-width="1.76"/>
<path d="M417.3,114.5 C417.3,116.1 417.2,117.7 416.9,119.2 C416.6,120.8 416.2,122.3 415.5,123.8 C414.9,125.3 414.0,126.7 413.0,128.0 C412.1,129.3 410.9,130.5 409.6,131.5 C408.3,132.5 406.9,133.3 405.4,134.0 C403.9,134.7 402.3,135.2 400.7,135.5 C399.1,135.8 397.4,136.0 395.8,136.0 C394.2,136.0 392.5,135.8 390.9,135.4 C389.3,135.1 387.8,134.6 386.3,133.9 C384.8,133.2 383.4,132.4 382.1,131.4 C380.8,130.4 379.6,129.3 378.5,128.0 C377.5,126.8 376.6,125.3 375.9,123.9 C375.2,122.5 374.7,120.9 374.3,119.3 C374.0,117.7 373.8,116.1 373.9,114.5 C373.9,112.9 374.2,111.3 374.6,109.8 C375.0,108.2 375.6,106.7 376.3,105.3 C377.0,103.9 377.9,102.5 378.9,101.3 C379.9,100.1 381.1,99.0 382.3,97.9 C383.6,96.9 384.9,96.0 386.4,95.3 C387.8,94.5 389.3,93.9 390.9,93.5 C392.5,93.0 394.2,92.7 395.8,92.7 C397.4,92.6 399.2,92.7 400.8,93.1 C402.4,93.4 404.1,94.0 405.5,94.7 C407.0,95.4 408.4,96.4 409.7,97.4 C410.9,98.5 412.0,99.8 413.0,101.1 C413.9,102.4 414.7,103.8 415.3,105.3 C416.0,106.7 416.4,108.3 416.8,109.8 C417.1,111.3 417.3,112.9 417.3,114.5Z" fill="none" stroke="#ccca70" stroke-width="1.98"/>
<path d="M415.1,114.5 C414.9,115.9 414.5,117.3 414.0,118.6 C413.5,119.9 412.9,121.1 412.2,122.2 C411.5,123.4 410.6,124.4 409.8,125.4 C408.9,126.4 408.0,127.4 407.0,128.2 C406.0,129.1 404.9,129.9 403.7,130.6 C402.5,131.3 401.3,131.9 400.0,132.3 C398.6,132.8 397.2,133.1 395.8,133.2 C394.4,133.3 392.9,133.2 391.5,132.9 C390.1,132.7 388.7,132.2 387.4,131.6 C386.1,130.9 384.9,130.1 383.8,129.2 C382.7,128.3 381.8,127.2 380.9,126.1 C380.1,125.0 379.3,123.8 378.7,122.6 C378.1,121.3 377.6,120.0 377.3,118.6 C376.9,117.3 376.7,115.9 376.7,114.5 C376.6,113.1 376.8,111.7 377.1,110.3 C377.4,109.0 377.9,107.6 378.5,106.3 C379.2,105.1 380.0,103.9 381.0,102.9 C381.9,101.9 383.1,101.0 384.2,100.3 C385.4,99.5 386.6,98.9 387.9,98.4 C389.2,98.0 390.5,97.6 391.8,97.3 C393.1,97.1 394.5,96.9 395.8,96.9 C397.1,96.8 398.5,96.8 399.9,97.0 C401.2,97.1 402.6,97.4 404.0,97.8 C405.3,98.2 406.7,98.8 408.0,99.6 C409.2,100.3 410.4,101.2 411.4,102.3 C412.4,103.4 413.2,104.7 413.9,106.0 C414.5,107.3 414.9,108.8 415.1,110.2 C415.3,111.6 415.3,113.1 415.1,114.5Z" fill="none" stroke="#e6c23c" stroke-width="2.42"/>
<path d="M411.6,114.5 C411.6,115.6 411.4,116.8 411.1,117.9 C410.8,119.0 410.4,120.1 409.9,121.1 C409.3,122.2 408.7,123.2 408.0,124.1 C407.3,125.0 406.5,125.8 405.6,126.6 C404.7,127.3 403.8,128.0 402.7,128.6 C401.7,129.1 400.5,129.5 399.4,129.8 C398.2,130.1 397.0,130.2 395.8,130.2 C394.6,130.2 393.4,130.0 392.3,129.7 C391.1,129.4 390.0,129.0 389.0,128.4 C387.9,127.9 386.9,127.2 386.0,126.5 C385.1,125.8 384.3,124.9 383.6,124.0 C382.9,123.1 382.2,122.2 381.7,121.1 C381.2,120.1 380.8,119.0 380.5,117.9 C380.2,116.8 380.0,115.7 380.0,114.5 C379.9,113.3 380.0,112.2 380.3,111.0 C380.5,109.9 380.9,108.8 381.4,107.7 C381.9,106.7 382.6,105.6 383.3,104.7 C384.1,103.8 384.9,103.0 385.9,102.3 C386.8,101.6 387.9,101.0 388.9,100.5 C390.0,100.1 391.2,99.7 392.3,99.5 C393.4,99.3 394.6,99.2 395.8,99.2 C397.0,99.2 398.1,99.3 399.3,99.5 C400.4,99.8 401.6,100.1 402.6,100.6 C403.7,101.1 404.7,101.7 405.7,102.4 C406.6,103.0 407.5,103.9 408.3,104.7 C409.0,105.6 409.7,106.7 410.2,107.7 C410.7,108.7 411.1,109.9 411.3,111.0 C411.6,112.2 411.6,113.4 411.6,114.5Z" fill="none" stroke="#eeac30" stroke-width="2.42"/>
<path d="M408.4,115.5 C408.3,116.4 408.0,117.3 407.6,118.1 C407.3,119.0 406.8,119.7 406.4,120.5 C406.0,121.3 405.5,122.0 405.0,122.7 C404.5,123.4 404.0,124.1 403.4,124.8 C402.8,125.5 402.1,126.2 401.3,126.8 C400.6,127.3 399.7,127.9 398.8,128.2 C397.8,128.6 396.8,128.8 395.8,128.9 C394.8,128.9 393.7,128.8 392.8,128.5 C391.8,128.2 390.9,127.8 390.0,127.3 C389.2,126.8 388.4,126.1 387.7,125.5 C387.0,124.8 386.4,124.1 385.8,123.3 C385.3,122.5 384.8,121.7 384.5,120.8 C384.1,120.0 383.8,119.1 383.7,118.2 C383.5,117.3 383.4,116.4 383.4,115.5 C383.5,114.6 383.6,113.7 383.8,112.8 C384.1,112.0 384.4,111.1 384.8,110.3 C385.1,109.5 385.6,108.7 386.1,107.9 C386.7,107.2 387.3,106.5 387.9,105.8 C388.6,105.2 389.4,104.6 390.2,104.1 C391.0,103.7 392.0,103.3 392.9,103.0 C393.8,102.8 394.8,102.7 395.8,102.7 C396.8,102.7 397.8,102.8 398.7,103.1 C399.6,103.3 400.6,103.6 401.4,104.0 C402.3,104.4 403.1,104.9 403.9,105.5 C404.7,106.1 405.4,106.7 406.1,107.5 C406.7,108.2 407.3,109.0 407.7,109.9 C408.1,110.8 408.4,111.7 408.5,112.7 C408.6,113.6 408.6,114.6 408.4,115.5Z" fill="none" stroke="#f08c2a" stroke-width="2.42"/>
<path d="M405.6,115.5 C405.6,116.2 405.6,117.0 405.5,117.7 C405.4,118.4 405.2,119.1 404.9,119.8 C404.6,120.5 404.2,121.1 403.7,121.7 C403.3,122.3 402.7,122.8 402.1,123.2 C401.5,123.7 400.8,124.0 400.1,124.3 C399.4,124.5 398.7,124.7 398.0,124.8 C397.2,124.8 396.5,124.8 395.8,124.8 C395.1,124.7 394.4,124.6 393.7,124.4 C393.1,124.2 392.4,124.0 391.8,123.7 C391.1,123.4 390.5,123.1 390.0,122.7 C389.4,122.3 388.8,121.8 388.4,121.3 C387.9,120.8 387.4,120.2 387.1,119.6 C386.8,119.0 386.5,118.3 386.3,117.6 C386.1,116.9 386.0,116.2 386.0,115.5 C386.0,114.8 386.1,114.1 386.2,113.4 C386.4,112.7 386.6,112.0 386.9,111.3 C387.2,110.7 387.6,110.0 388.1,109.4 C388.5,108.9 389.0,108.3 389.6,107.9 C390.2,107.4 390.8,107.0 391.5,106.7 C392.1,106.4 392.9,106.2 393.6,106.1 C394.3,105.9 395.1,105.9 395.8,106.0 C396.5,106.0 397.2,106.2 397.9,106.4 C398.6,106.6 399.2,106.9 399.9,107.2 C400.5,107.6 401.1,108.0 401.6,108.4 C402.1,108.8 402.6,109.3 403.1,109.8 C403.5,110.3 403.9,110.9 404.3,111.5 C404.6,112.1 404.9,112.7 405.1,113.4 C405.4,114.1 405.5,114.8 405.6,115.5Z" fill="none" stroke="#f06a22" stroke-width="1.98"/>
<path d="M401.8,116.5 C401.8,116.9 401.8,117.4 401.7,117.8 C401.6,118.3 401.5,118.7 401.3,119.1 C401.1,119.5 400.9,119.9 400.7,120.3 C400.4,120.7 400.1,121.0 399.7,121.3 C399.4,121.7 399.0,121.9 398.6,122.2 C398.2,122.4 397.7,122.5 397.2,122.6 C396.8,122.7 396.3,122.8 395.8,122.7 C395.3,122.7 394.9,122.6 394.4,122.4 C394.0,122.3 393.6,122.1 393.2,121.8 C392.8,121.6 392.4,121.3 392.1,121.0 C391.8,120.7 391.5,120.4 391.3,120.0 C391.0,119.7 390.8,119.3 390.6,119.0 C390.4,118.6 390.2,118.2 390.1,117.8 C390.0,117.4 389.9,116.9 389.8,116.5 C389.8,116.1 389.8,115.6 389.9,115.2 C389.9,114.7 390.0,114.3 390.2,113.8 C390.3,113.4 390.5,113.0 390.8,112.6 C391.1,112.2 391.4,111.8 391.8,111.5 C392.1,111.2 392.6,111.0 393.0,110.8 C393.4,110.6 393.9,110.5 394.4,110.4 C394.9,110.4 395.3,110.4 395.8,110.4 C396.3,110.5 396.7,110.6 397.1,110.7 C397.6,110.9 398.0,111.1 398.4,111.3 C398.8,111.5 399.1,111.7 399.5,112.0 C399.8,112.3 400.1,112.6 400.4,112.9 C400.7,113.2 401.0,113.6 401.2,114.0 C401.4,114.3 401.5,114.8 401.7,115.2 C401.8,115.6 401.8,116.1 401.8,116.5Z" fill="none" stroke="#f03c14" stroke-width="1.76"/>
<path d="M411.1,89.3 C424.8,111.5 422.8,123.5 415.8,137.5" fill="none" stroke="#5aa8bc" stroke-width="1.8"/>
</g>
<defs><linearGradient id="ug5" x1="0" y1="0" x2="1" y2="0"><stop offset="0" stop-color="#a8d0d4"/><stop offset="0.45" stop-color="#7cb8c6"/><stop offset="0.7" stop-color="#5aa4b8"/><stop offset="1" stop-color="#5aa4b8"/></linearGradient></defs>
<g filter="url(#soft)">
<path d="M507.6,86.8 C509.6,85.8 521.5,85.8 523.9,86.4 C526.3,87.0 530.1,91.4 531.3,92.9 C532.5,94.5 535.6,99.9 536.2,101.9 C536.9,103.9 537.6,110.7 537.8,112.6 C538.0,114.5 538.1,118.9 537.8,120.7 C537.5,122.5 535.6,128.9 534.6,130.6 C533.6,132.3 529.1,136.9 528.0,137.9 C526.9,138.9 524.0,140.5 523.1,140.4 C522.2,140.3 519.6,138.2 519.0,137.1 C518.4,135.9 517.6,129.9 517.0,128.9 C516.4,127.9 513.8,127.3 513.0,127.5 C512.2,127.7 509.5,131.2 509.0,131.0 C508.5,130.8 508.4,126.5 508.0,125.5 C507.6,124.5 505.9,121.8 505.0,121.5 C504.1,121.2 500.0,122.5 499.0,122.5 C498.0,122.5 495.9,122.0 495.0,121.5 C494.1,121.0 490.6,118.7 490.0,117.5 C489.4,116.3 488.9,111.1 488.8,109.5 C488.7,107.9 488.2,102.1 488.8,101.5 C489.4,100.9 493.8,103.5 495.0,103.5 C496.2,103.5 500.1,101.8 501.0,101.1 C501.9,100.4 503.6,97.6 504.3,96.2 C505.0,94.8 505.6,87.8 507.6,86.8Z" fill="#eef3ef"/>
<path d="M504.3,96.2 C505.2,94.3 506.0,88.1 507.6,86.8 C509.2,85.5 514.5,85.8 516.0,86.3 C517.5,86.8 519.0,89.4 519.0,90.5 C519.0,91.6 517.1,93.4 516.0,94.5 C514.9,95.6 512.5,97.3 511.0,98.5 C509.5,99.7 506.3,103.2 505.0,103.5 C503.7,103.8 501.1,102.1 501.0,101.1 C500.9,100.1 503.4,98.1 504.3,96.2Z" fill="#8cc0cc" opacity="0.75"/>
<path d="M507.6,86.8 C508.1,86.4 514.4,86.3 516.0,86.3 C517.6,86.3 522.4,85.7 523.9,86.4 C525.4,87.1 530.1,91.4 531.3,92.9 C532.5,94.5 535.6,99.9 536.2,101.9 C536.9,103.9 537.6,110.7 537.8,112.6 C538.0,114.5 538.1,118.9 537.8,120.7 C537.5,122.5 535.6,128.9 534.6,130.6 C533.6,132.3 529.1,136.9 528.0,137.9 C526.9,138.9 524.0,140.5 523.1,140.4 C522.2,140.3 519.7,138.2 519.0,137.1 C518.3,135.9 516.5,130.5 516.0,128.9 C515.5,127.3 514.5,122.4 514.5,120.7 C514.5,119.0 515.4,113.4 515.5,111.5 C515.6,109.6 516.1,103.3 516.0,101.5 C515.9,99.7 514.5,94.7 514.0,93.5 C513.5,92.3 511.6,90.7 511.0,90.0 C510.4,89.3 507.1,87.2 507.6,86.8Z" fill="url(#ug5)" opacity="0.95"/>
<path d="M488.8,101.5 C489.4,100.9 494.2,102.5 495.0,103.5 C495.8,104.5 496.9,109.9 497.0,111.5 C497.1,113.1 496.9,118.5 496.5,119.5 C496.1,120.5 493.6,121.2 493.0,121.0 C492.4,120.8 490.4,118.7 490.0,117.5 C489.6,116.3 488.9,111.1 488.8,109.5 C488.7,107.9 488.2,102.1 488.8,101.5Z" fill="#f09060" opacity="0.85"/>
<path d="M501.4,98.7 C501.6,98.8 503.2,105.3 503.5,105.5 C503.8,105.7 507.5,102.6 507.6,102.8 C507.8,103.0 506.4,108.1 506.5,108.5 C506.6,108.9 509.9,111.2 510.0,111.5 C510.1,111.8 507.9,114.1 508.0,114.5 C508.1,114.9 510.9,119.4 511.0,119.9 C511.1,120.5 509.6,125.0 509.5,125.5 C509.4,126.0 508.5,130.6 508.4,130.5 C508.2,130.4 506.8,124.0 506.5,123.5 C506.2,123.0 503.4,121.5 503.0,121.5 C502.6,121.5 499.3,122.6 499.0,122.5 C498.7,122.4 496.6,120.0 496.5,119.5 C496.4,119.0 496.3,114.0 496.1,113.5 C495.9,113.0 493.4,109.1 493.0,108.5 C492.6,107.9 488.7,101.6 488.8,101.5 C488.9,101.4 495.0,105.8 495.5,106.0 C496.0,106.2 498.2,104.9 498.5,104.5 C498.8,104.1 501.1,98.7 501.4,98.7Z" fill="#f05a20" opacity="0.75"/>
<ellipse cx="502.0" cy="111.5" rx="4.5" ry="5.5" fill="#f0a040" opacity="0.7"/>
<polyline points="493.5,119.5 493.2,126.5 492.9,133.0" fill="none" stroke="#f04418" stroke-width="2.6" stroke-linecap="round"/>
<polyline points="496.0,127.0 499.0,130.5 502.3,135.5" fill="none" stroke="#f04418" stroke-width="0.9"/>
</g>
<path id="spc1" d="M577.2,117.8 C577.1,117.8 576.8,117.8 576.5,117.7 C576.3,117.7 576.1,117.6 575.9,117.5 C575.7,117.4 575.5,117.2 575.3,117.1 C575.1,116.9 575.0,116.7 574.8,116.5 C574.7,116.3 574.6,116.0 574.5,115.8 C574.4,115.5 574.3,115.3 574.2,115.0 C574.2,114.8 574.1,114.5 574.1,114.2 C574.1,113.9 574.2,113.6 574.2,113.3 C574.3,113.1 574.4,112.8 574.6,112.5 C574.7,112.3 574.9,112.1 575.1,111.8 C575.3,111.6 575.6,111.4 575.8,111.3 C576.0,111.1 576.3,110.9 576.5,110.7 C576.8,110.6 577.1,110.4 577.3,110.2 C577.6,110.1 577.9,109.9 578.3,109.8 C578.6,109.6 578.9,109.5 579.3,109.4 C579.7,109.4 580.1,109.3 580.5,109.3 C580.8,109.4 581.2,109.4 581.6,109.5 C582.0,109.6 582.4,109.7 582.8,109.9 C583.2,110.1 583.6,110.3 583.9,110.5 C584.3,110.8 584.7,111.1 585.0,111.4 C585.3,111.7 585.6,112.1 585.8,112.5 C586.0,112.9 586.2,113.4 586.3,113.8 C586.3,114.2 586.4,114.7 586.3,115.2 C586.3,115.6 586.1,116.1 586.0,116.5 C585.9,116.9 585.7,117.3 585.5,117.7 C585.3,118.2 585.1,118.5 584.8,118.9 C584.6,119.3 584.3,119.7 584.0,120.0 C583.7,120.4 583.4,120.7 583.0,121.0 C582.7,121.3 582.2,121.6 581.8,121.8 C581.4,122.1 580.9,122.2 580.4,122.4 C580.0,122.5 579.4,122.6 578.9,122.7 C578.4,122.8 577.9,122.8 577.3,122.8 C576.8,122.9 576.2,122.9 575.7,122.8 C575.1,122.7 574.5,122.6 573.9,122.5 C573.3,122.3 572.7,122.0 572.2,121.7 C571.7,121.4 571.2,121.0 570.7,120.5 C570.3,120.1 569.9,119.6 569.6,119.0 C569.3,118.5 569.1,117.9 568.9,117.2 C568.7,116.6 568.5,116.0 568.4,115.4 C568.3,114.7 568.3,114.1 568.3,113.4 C568.4,112.8 568.5,112.1 568.7,111.5 C568.9,110.8 569.1,110.2 569.5,109.6 C569.8,109.1 570.3,108.6 570.8,108.1 C571.2,107.6 571.8,107.3 572.3,106.9 C572.8,106.5 573.4,106.2 574.0,105.9 C574.5,105.6 575.1,105.3 575.7,105.0 C576.3,104.7 576.9,104.4 577.6,104.1 C578.2,103.9 578.9,103.7 579.6,103.6 C580.3,103.4 581.1,103.4 581.9,103.4 C582.6,103.4 583.4,103.5 584.1,103.7 C584.9,103.9 585.7,104.2 586.4,104.5 C587.1,104.8 587.8,105.3 588.5,105.7 C589.1,106.2 589.8,106.7 590.4,107.3 C591.0,107.9 591.5,108.6 591.9,109.4 C592.4,110.1 592.7,110.9 592.9,111.7 C593.1,112.6 593.1,113.4 593.1,114.3 C593.0,115.1 592.8,116.0 592.5,116.8 C592.3,117.5 591.9,118.3 591.6,119.0 C591.2,119.7 590.8,120.4 590.3,121.1 C589.9,121.8 589.4,122.4 588.9,123.0 C588.4,123.7 587.8,124.3 587.2,124.8 C586.5,125.3 585.9,125.8 585.1,126.2 C584.4,126.6 583.6,127.0 582.8,127.2 C582.0,127.5 581.1,127.6 580.2,127.8 C579.4,127.9 578.5,128.0 577.6,128.0 C576.7,128.0 575.8,128.0 574.9,127.9 C573.9,127.8 572.9,127.7 572.0,127.5 C571.1,127.2 570.1,126.9 569.2,126.4 C568.3,125.9 567.4,125.3 566.7,124.6 C566.0,123.9 565.3,123.1 564.8,122.2 C564.2,121.4 563.8,120.4 563.5,119.4 C563.1,118.5 562.9,117.5 562.7,116.5 C562.5,115.5 562.4,114.4 562.5,113.4 C562.5,112.4 562.6,111.3 562.8,110.3 C563.1,109.3 563.5,108.3 564.0,107.4 C564.5,106.5 565.1,105.6 565.8,104.9 C566.5,104.1 567.4,103.5 568.2,102.9 C569.0,102.3 569.9,101.8 570.8,101.3 C571.7,100.8 572.5,100.4 573.4,100.0 C574.3,99.5 575.2,99.1 576.2,98.7 C577.2,98.4 578.2,98.0 579.2,97.8 C580.3,97.6 581.4,97.4 582.5,97.4 C583.7,97.4 584.8,97.5 585.9,97.7 C587.1,97.9 588.2,98.3 589.3,98.8 C590.3,99.2 591.4,99.8 592.4,100.5 C593.4,101.1 594.4,101.9 595.3,102.7 C596.2,103.6 597.0,104.5 597.7,105.5 C598.4,106.6 599.0,107.7 599.3,108.9 C599.7,110.1 599.9,111.4 599.9,112.6 C599.9,113.8 599.6,115.1 599.3,116.3 C599.0,117.4 598.5,118.6 598.0,119.7 C597.5,120.7 596.9,121.7 596.2,122.7 C595.6,123.7 594.9,124.6 594.2,125.5 C593.5,126.4 592.7,127.3 591.8,128.1 C591.0,128.9 590.0,129.6 589.0,130.3 C588.0,130.9 586.9,131.4 585.8,131.8 C584.7,132.2 583.5,132.5 582.3,132.7 C581.1,133.0 579.8,133.1 578.6,133.1 C577.3,133.2 576.1,133.2 574.8,133.1 C573.5,133.0 572.2,132.9 570.8,132.6 C569.5,132.3 568.1,132.0 566.9,131.4 C565.6,130.8 564.4,130.1 563.3,129.2 C562.2,128.3 561.2,127.2 560.4,126.1 C559.6,124.9 558.9,123.7 558.3,122.4 C557.8,121.1 557.4,119.7 557.1,118.3 C556.8,116.9 556.7,115.5 556.6,114.1 C556.6,112.7 556.6,111.3 556.9,109.9 C557.1,108.5 557.6,107.1 558.1,105.8 C558.7,104.5 559.5,103.3 560.4,102.2 C561.3,101.1 562.4,100.2 563.5,99.3 C564.6,98.5 565.8,97.8 567.0,97.1 C568.1,96.4 569.3,95.8 570.5,95.3 C571.7,94.7 572.9,94.1 574.2,93.6 C575.5,93.1 576.8,92.6 578.2,92.2 C579.5,91.8 581.0,91.5 582.5,91.4 C583.9,91.3 585.5,91.4 587.0,91.6 C588.5,91.8 590.0,92.2 591.4,92.8 C592.9,93.3 594.3,94.0 595.7,94.8 C597.0,95.6 598.3,96.5 599.6,97.6 C600.8,98.6 602.0,99.8 602.9,101.1 C603.9,102.4 604.8,103.8 605.4,105.4 C606.0,106.9 606.5,108.5 606.6,110.1 C606.7,111.8 606.6,113.5 606.3,115.0 C606.0,116.6 605.4,118.1 604.8,119.6 C604.1,121.0 603.3,122.4 602.5,123.7 C601.7,125.0 600.9,126.3 599.9,127.5 C599.0,128.7 598.1,129.8 597.0,130.9 C595.9,132.0 594.8,133.0 593.5,133.9 C592.3,134.8 590.9,135.5 589.5,136.2 C588.0,136.8 586.5,137.2 585.0,137.6 C583.4,137.9 581.9,138.1 580.3,138.2 C578.7,138.3 577.1,138.4 575.4,138.3 C573.8,138.3 572.1,138.2 570.4,137.9 C568.7,137.6 567.0,137.2 565.3,136.6 C563.7,136.0 562.0,135.2 560.5,134.2 C559.1,133.2 557.7,131.9 556.5,130.5 C555.4,129.2 554.4,127.6 553.6,126.0 C552.8,124.4 552.2,122.6 551.7,120.9 C551.3,119.2 551.0,117.4 550.8,115.6 C550.7,113.8 550.9,111.1 550.9,110.2" fill="none"/>
<g filter="url(#spk)">
<use href="#spc1" stroke="#62aabe" stroke-width="3.6" opacity="0.85"/>
<use href="#spc1" stroke="#e8603a" stroke-width="0.8"/>
</g>
<g clip-path="url(#tc1)"><g filter="url(#spk2)">
<path d="M645.7,78.5 C647.5,81.0 653.2,88.8 656.7,93.5 C660.2,98.2 663.9,102.2 666.7,106.5 C669.5,110.8 671.4,115.0 673.7,119.5 C676.0,124.0 679.5,131.2 680.7,133.5" fill="none" stroke="#3d9ab5" stroke-width="12" stroke-linecap="round" stroke-linejoin="round"/>
<path d="M645.7,78.5 C647.5,81.0 653.2,88.8 656.7,93.5 C660.2,98.2 663.9,102.2 666.7,106.5 C669.5,110.8 671.4,115.0 673.7,119.5 C676.0,124.0 679.5,131.2 680.7,133.5" fill="none" stroke="#fff" stroke-width="4.800000000000001" stroke-linecap="round" opacity="0.6"/>
<path d="M612.7,141.5 L613.7,147.5" fill="none" stroke="#3d9ab5" stroke-width="3" stroke-linecap="round" stroke-linejoin="round"/>
<path d="M612.7,141.5 L613.7,147.5" fill="none" stroke="#fff" stroke-width="1.2000000000000002" stroke-linecap="round" opacity="0.6"/>
<path d="M643.7,84.5 C641.0,86.0 632.9,90.3 627.7,93.5 C622.5,96.7 615.2,101.8 612.7,103.5" fill="none" stroke="#3d9ab5" stroke-width="8.4" stroke-linecap="round" stroke-linejoin="round"/>
<path d="M643.7,84.5 C641.0,86.0 632.9,90.3 627.7,93.5 C622.5,96.7 615.2,101.8 612.7,103.5" fill="none" stroke="#fff" stroke-width="4.2" stroke-linecap="round" stroke-linejoin="round"/>
<path d="M643.7,84.5 C641.0,86.0 632.9,90.3 627.7,93.5 C622.5,96.7 615.2,101.8 612.7,103.5" fill="none" stroke="#ebcc2a" stroke-width="2.8000000000000003" stroke-linecap="round" stroke-linejoin="round"/>
<path d="M643.7,84.5 C641.0,86.0 632.9,90.3 627.7,93.5 C622.5,96.7 615.2,101.8 612.7,103.5" fill="none" stroke="#f03a10" stroke-width="1.4000000000000001" stroke-linecap="round"/>
<path d="M651.7,93.5 C649.0,95.7 640.7,102.3 635.7,106.5 C630.7,110.7 624.0,116.5 621.7,118.5" fill="none" stroke="#3d9ab5" stroke-width="10.4" stroke-linecap="round" stroke-linejoin="round"/>
<path d="M651.7,93.5 C649.0,95.7 640.7,102.3 635.7,106.5 C630.7,110.7 624.0,116.5 621.7,118.5" fill="none" stroke="#fff" stroke-width="5.3999999999999995" stroke-linecap="round" stroke-linejoin="round"/>
<path d="M651.7,93.5 C649.0,95.7 640.7,102.3 635.7,106.5 C630.7,110.7 624.0,116.5 621.7,118.5" fill="none" stroke="#ebcc2a" stroke-width="3.6" stroke-linecap="round" stroke-linejoin="round"/>
<path d="M651.7,93.5 C649.0,95.7 640.7,102.3 635.7,106.5 C630.7,110.7 624.0,116.5 621.7,118.5" fill="none" stroke="#f03a10" stroke-width="1.8" stroke-linecap="round"/>
<path d="M656.7,112.5 C653.9,114.0 645.2,118.7 639.7,121.5 C634.2,124.3 626.4,128.2 623.7,129.5" fill="none" stroke="#3d9ab5" stroke-width="7.4" stroke-linecap="round" stroke-linejoin="round"/>
<path d="M656.7,112.5 C653.9,114.0 645.2,118.7 639.7,121.5 C634.2,124.3 626.4,128.2 623.7,129.5" fill="none" stroke="#fff" stroke-width="3.5999999999999996" stroke-linecap="round" stroke-linejoin="round"/>
<path d="M656.7,112.5 C653.9,114.0 645.2,118.7 639.7,121.5 C634.2,124.3 626.4,128.2 623.7,129.5" fill="none" stroke="#ebcc2a" stroke-width="2.4000000000000004" stroke-linecap="round" stroke-linejoin="round"/>
<path d="M656.7,112.5 C653.9,114.0 645.2,118.7 639.7,121.5 C634.2,124.3 626.4,128.2 623.7,129.5" fill="none" stroke="#f03a10" stroke-width="1.2000000000000002" stroke-linecap="round"/>
<path d="M665.7,119.5 C662.7,120.8 653.4,125.2 647.7,127.5 C642.0,129.8 634.4,132.5 631.7,133.5" fill="none" stroke="#3d9ab5" stroke-width="7.4" stroke-linecap="round" stroke-linejoin="round"/>
<path d="M665.7,119.5 C662.7,120.8 653.4,125.2 647.7,127.5 C642.0,129.8 634.4,132.5 631.7,133.5" fill="none" stroke="#fff" stroke-width="3.5999999999999996" stroke-linecap="round" stroke-linejoin="round"/>
<path d="M665.7,119.5 C662.7,120.8 653.4,125.2 647.7,127.5 C642.0,129.8 634.4,132.5 631.7,133.5" fill="none" stroke="#ebcc2a" stroke-width="2.4000000000000004" stroke-linecap="round" stroke-linejoin="round"/>
<path d="M665.7,119.5 C662.7,120.8 653.4,125.2 647.7,127.5 C642.0,129.8 634.4,132.5 631.7,133.5" fill="none" stroke="#f03a10" stroke-width="1.2000000000000002" stroke-linecap="round"/>
<path d="M614.7,111.5 L617.7,112.0" fill="none" stroke="#3d9ab5" stroke-width="5.4" stroke-linecap="round" stroke-linejoin="round"/>
<path d="M614.7,111.5 L617.7,112.0" fill="none" stroke="#fff" stroke-width="2.4" stroke-linecap="round" stroke-linejoin="round"/>
<path d="M614.7,111.5 L617.7,112.0" fill="none" stroke="#ebcc2a" stroke-width="1.6" stroke-linecap="round" stroke-linejoin="round"/>
<path d="M614.7,111.5 L617.7,112.0" fill="none" stroke="#f03a10" stroke-width="0.8" stroke-linecap="round"/>
<path d="M674.7,133.5 C672.5,134.7 665.5,138.2 661.7,140.5 C657.9,142.8 653.4,146.3 651.7,147.5" fill="none" stroke="#3d9ab5" stroke-width="8.4" stroke-linecap="round" stroke-linejoin="round"/>
<path d="M674.7,133.5 C672.5,134.7 665.5,138.2 661.7,140.5 C657.9,142.8 653.4,146.3 651.7,147.5" fill="none" stroke="#fff" stroke-width="4.2" stroke-linecap="round" stroke-linejoin="round"/>
<path d="M674.7,133.5 C672.5,134.7 665.5,138.2 661.7,140.5 C657.9,142.8 653.4,146.3 651.7,147.5" fill="none" stroke="#ebcc2a" stroke-width="2.8000000000000003" stroke-linecap="round" stroke-linejoin="round"/>
<path d="M674.7,133.5 C672.5,134.7 665.5,138.2 661.7,140.5 C657.9,142.8 653.4,146.3 651.7,147.5" fill="none" stroke="#f03a10" stroke-width="1.4000000000000001" stroke-linecap="round"/>
<path d="M611.7,83.5 L617.7,80.5" fill="none" stroke="#3d9ab5" stroke-width="6.4" stroke-linecap="round" stroke-linejoin="round"/>
<path d="M611.7,83.5 L617.7,80.5" fill="none" stroke="#fff" stroke-width="3.0" stroke-linecap="round" stroke-linejoin="round"/>
<path d="M611.7,83.5 L617.7,80.5" fill="none" stroke="#ebcc2a" stroke-width="2.0" stroke-linecap="round" stroke-linejoin="round"/>
<path d="M611.7,83.5 L617.7,80.5" fill="none" stroke="#f03a10" stroke-width="1.0" stroke-linecap="round"/>
<path d="M645.7,78.5 C647.5,81.0 653.2,88.8 656.7,93.5 C660.2,98.2 663.9,102.2 666.7,106.5 C669.5,110.8 671.4,115.0 673.7,119.5 C676.0,124.0 679.5,131.2 680.7,133.5" fill="none" stroke="#f04010" stroke-width="1.3" stroke-dasharray="1.5 1" transform="translate(-4.8,4.8)"/>
</g></g>
<line x1="570.0" y1="119.2" x2="611.7" y2="81.5" stroke="#333" stroke-width="0.45"/>
<line x1="570.0" y1="122.6" x2="611.7" y2="146.0" stroke="#333" stroke-width="0.45"/>
<rect x="566.6" y="119.2" width="3.4" height="3.4" fill="none" stroke="#222" stroke-width="0.7"/>
<defs><linearGradient id="ug6" x1="0" y1="0" x2="0" y2="1"><stop offset="0" stop-color="#a8c8c4"/><stop offset="0.25" stop-color="#b8c8a8"/><stop offset="0.45" stop-color="#d8c068"/><stop offset="0.55" stop-color="#eea232"/><stop offset="0.8" stop-color="#f07a22"/><stop offset="1" stop-color="#ee4c16"/></linearGradient></defs>
<g filter="url(#soft)">
<path d="M65.1,151.3 C67.1,150.3 79.0,150.3 81.4,150.9 C83.8,151.5 87.6,155.8 88.8,157.4 C90.0,159.0 93.0,164.4 93.7,166.4 C94.4,168.4 95.1,175.2 95.3,177.1 C95.5,179.0 95.6,183.4 95.3,185.2 C95.0,187.0 93.1,193.4 92.1,195.1 C91.1,196.8 86.7,201.4 85.5,202.4 C84.3,203.4 81.5,205.0 80.6,204.9 C79.7,204.8 77.1,202.8 76.5,201.6 C75.9,200.4 75.1,194.4 74.5,193.4 C73.9,192.4 71.3,191.8 70.5,192.0 C69.7,192.2 67.0,195.7 66.5,195.5 C66.0,195.3 65.9,190.9 65.5,190.0 C65.1,189.1 63.4,186.3 62.5,186.0 C61.6,185.7 57.5,187.0 56.5,187.0 C55.5,187.0 53.4,186.5 52.5,186.0 C51.6,185.5 48.1,183.2 47.5,182.0 C46.9,180.8 46.4,175.6 46.3,174.0 C46.2,172.4 45.7,166.6 46.3,166.0 C46.9,165.4 51.3,168.0 52.5,168.0 C53.7,168.0 57.6,166.3 58.5,165.6 C59.4,164.9 61.1,162.1 61.8,160.7 C62.5,159.3 63.1,152.3 65.1,151.3Z" fill="#dbe7e4"/>
<path d="M61.8,160.7 C62.7,158.8 63.5,152.6 65.1,151.3 C66.7,150.0 72.0,150.3 73.5,150.8 C75.0,151.3 76.5,153.9 76.5,155.0 C76.5,156.1 74.6,157.9 73.5,159.0 C72.4,160.1 70.0,161.8 68.5,163.0 C67.0,164.2 63.8,167.7 62.5,168.0 C61.2,168.3 58.6,166.6 58.5,165.6 C58.4,164.6 60.9,162.6 61.8,160.7Z" fill="#b2cfcc" opacity="0.75"/>
<path d="M65.1,151.3 C65.6,150.9 71.9,150.8 73.5,150.8 C75.1,150.8 79.9,150.2 81.4,150.9 C82.9,151.6 87.6,155.8 88.8,157.4 C90.0,159.0 93.0,164.4 93.7,166.4 C94.4,168.4 95.6,175.0 95.8,177.0 C96.0,179.0 95.9,184.2 95.5,186.0 C95.1,187.8 93.1,193.5 92.1,195.1 C91.1,196.7 86.7,201.4 85.5,202.4 C84.3,203.4 81.6,204.9 80.6,204.9 C79.6,204.9 76.5,202.8 75.5,202.0 C74.5,201.2 71.3,197.5 70.5,196.5 C69.7,195.5 67.5,192.9 67.5,192.0 C67.5,191.1 69.7,188.1 70.5,187.0 C71.3,185.9 74.7,182.4 75.5,181.0 C76.3,179.6 78.2,174.7 78.5,173.0 C78.8,171.3 78.8,165.7 78.5,164.0 C78.2,162.3 76.0,157.4 75.0,156.5 C74.0,155.6 69.5,155.0 68.5,154.5 C67.5,154.0 64.6,151.7 65.1,151.3Z" fill="url(#ug6)" opacity="0.92"/>
<ellipse cx="69.5" cy="186.0" rx="6" ry="9" fill="#f09a40" opacity="0.45"/>
<path d="M46.3,166.0 C46.9,165.4 51.7,167.0 52.5,168.0 C53.3,169.0 54.4,174.4 54.5,176.0 C54.6,177.6 54.4,183.1 54.0,184.0 C53.6,184.9 51.1,185.7 50.5,185.5 C49.9,185.3 47.9,183.2 47.5,182.0 C47.1,180.8 46.4,175.6 46.3,174.0 C46.2,172.4 45.7,166.6 46.3,166.0Z" fill="#a6c8ca" opacity="0.85"/>
<path d="M58.9,163.2 C59.1,163.2 60.7,169.8 61.0,170.0 C61.3,170.2 64.9,167.2 65.1,167.3 C65.2,167.5 63.9,172.6 64.0,173.0 C64.1,173.4 67.4,175.7 67.5,176.0 C67.6,176.3 65.5,178.6 65.5,179.0 C65.5,179.4 68.4,183.8 68.5,184.4 C68.6,185.0 67.1,189.5 67.0,190.0 C66.9,190.5 66.1,195.1 65.9,195.0 C65.8,194.9 64.3,188.4 64.0,188.0 C63.7,187.6 60.9,186.1 60.5,186.0 C60.1,185.9 56.8,187.1 56.5,187.0 C56.2,186.9 54.1,184.4 54.0,184.0 C53.9,183.6 53.8,178.6 53.6,178.0 C53.4,177.4 50.9,173.6 50.5,173.0 C50.1,172.4 46.2,166.1 46.3,166.0 C46.4,165.9 52.5,170.3 53.0,170.5 C53.5,170.7 55.7,169.4 56.0,169.0 C56.3,168.6 58.6,163.1 58.9,163.2Z" fill="#f08a34" opacity="0.75"/>
<polyline points="51.0,184.0 50.7,191.0 50.4,197.5" fill="none" stroke="#9cc4c8" stroke-width="2.6" stroke-linecap="round"/>
<polyline points="53.5,191.5 56.5,195.0 59.8,200.0" fill="none" stroke="#9cc4c8" stroke-width="0.9"/>
</g>
<path id="spa2" d="M133.1,179.6 C133.1,179.5 133.0,179.0 133.1,178.6 C133.1,178.3 133.2,178.0 133.4,177.7 C133.5,177.3 133.7,177.1 134.0,176.8 C134.2,176.5 134.4,176.3 134.7,176.0 C135.0,175.7 135.3,175.5 135.6,175.2 C135.9,175.0 136.3,174.8 136.7,174.6 C137.1,174.5 137.6,174.4 138.0,174.4 C138.4,174.4 138.9,174.5 139.3,174.6 C139.7,174.7 140.1,174.9 140.5,175.1 C140.9,175.3 141.3,175.6 141.6,175.8 C142.0,176.1 142.4,176.4 142.7,176.8 C143.0,177.1 143.3,177.5 143.5,178.0 C143.7,178.4 143.8,178.9 143.9,179.4 C143.9,179.9 143.9,180.4 143.8,180.8 C143.8,181.3 143.7,181.8 143.6,182.3 C143.4,182.8 143.3,183.3 143.1,183.8 C142.8,184.3 142.5,184.8 142.1,185.2 C141.7,185.6 141.3,186.0 140.7,186.2 C140.2,186.5 139.6,186.7 139.1,186.8 C138.5,186.9 137.9,186.9 137.3,186.9 C136.7,187.0 136.2,187.0 135.5,186.9 C134.9,186.9 134.3,186.8 133.7,186.6 C133.1,186.4 132.4,186.2 131.9,185.8 C131.3,185.5 130.9,185.0 130.4,184.5 C130.0,183.9 129.7,183.3 129.4,182.7 C129.2,182.1 128.9,181.5 128.7,180.9 C128.6,180.2 128.4,179.5 128.4,178.8 C128.3,178.1 128.4,177.4 128.6,176.7 C128.7,176.0 129.1,175.3 129.4,174.7 C129.8,174.1 130.3,173.6 130.8,173.1 C131.4,172.6 131.9,172.1 132.5,171.6 C133.1,171.2 133.7,170.7 134.4,170.3 C135.0,169.9 135.8,169.5 136.6,169.3 C137.4,169.1 138.2,169.0 139.1,169.1 C139.9,169.2 140.7,169.4 141.5,169.7 C142.2,170.0 143.0,170.4 143.7,170.9 C144.3,171.3 145.0,171.8 145.6,172.4 C146.2,172.9 146.9,173.5 147.4,174.2 C147.9,174.9 148.3,175.7 148.6,176.5 C148.9,177.2 149.0,178.1 149.1,179.0 C149.1,179.8 149.0,180.7 148.9,181.5 C148.7,182.4 148.5,183.2 148.2,184.1 C148.0,184.9 147.6,185.8 147.2,186.6 C146.7,187.4 146.2,188.2 145.5,188.8 C144.8,189.5 143.9,190.0 143.0,190.4 C142.1,190.8 141.1,191.0 140.2,191.1 C139.2,191.2 138.3,191.2 137.3,191.2 C136.3,191.2 135.4,191.2 134.4,191.1 C133.4,191.0 132.4,190.8 131.4,190.5 C130.4,190.1 129.5,189.7 128.6,189.0 C127.8,188.4 127.1,187.6 126.5,186.7 C125.9,185.9 125.4,184.9 125.0,184.0 C124.6,183.0 124.3,182.0 124.1,181.0 C123.9,180.0 123.7,178.9 123.7,177.8 C123.7,176.8 123.8,175.6 124.1,174.6 C124.4,173.6 125.0,172.6 125.6,171.7 C126.2,170.8 127.1,170.0 127.9,169.3 C128.7,168.5 129.5,167.9 130.4,167.2 C131.3,166.5 132.2,165.9 133.3,165.3 C134.3,164.8 135.5,164.3 136.6,164.0 C137.8,163.8 139.1,163.7 140.3,163.9 C141.5,164.0 142.7,164.4 143.8,164.9 C144.9,165.4 146.0,166.1 146.9,166.8 C147.9,167.5 148.8,168.2 149.7,169.1 C150.6,169.9 151.5,170.8 152.1,171.8 C152.8,172.8 153.4,173.9 153.8,175.1 C154.1,176.3 154.3,177.5 154.3,178.8 C154.3,180.0 154.1,181.2 153.8,182.4 C153.6,183.6 153.3,184.8 152.8,186.0 C152.4,187.2 151.9,188.4 151.2,189.5 C150.5,190.6 149.7,191.7 148.6,192.6 C147.6,193.4 146.4,194.1 145.1,194.6 C143.9,195.1 142.5,195.3 141.1,195.4 C139.8,195.6 138.5,195.6 137.1,195.5 C135.8,195.5 134.4,195.5 133.1,195.2 C131.7,195.0 130.3,194.8 129.0,194.3 C127.7,193.7 126.3,193.0 125.3,192.1 C124.2,191.2 123.2,190.1 122.4,188.9 C121.7,187.7 121.1,186.4 120.6,185.1 C120.1,183.8 119.7,182.4 119.4,181.0 C119.1,179.6 118.9,178.1 118.9,176.7 C119.0,175.3 119.2,173.7 119.7,172.4 C120.2,171.0 121.0,169.7 121.9,168.5 C122.8,167.3 123.9,166.3 125.0,165.4 C126.1,164.4 127.2,163.5 128.5,162.7 C129.7,161.8 131.0,160.9 132.4,160.3 C133.8,159.6 135.3,158.9 136.9,158.7 C138.4,158.4 140.2,158.4 141.7,158.6 C143.3,158.9 144.9,159.5 146.3,160.2 C147.8,160.9 149.1,161.8 150.3,162.8 C151.6,163.7 152.8,164.7 153.9,165.8 C155.0,167.0 156.2,168.2 157.0,169.5 C157.8,170.9 158.6,172.4 159.0,173.9 C159.4,175.4 159.5,177.1 159.4,178.7 C159.4,180.3 159.1,181.9 158.7,183.4 C158.4,185.0 157.9,186.5 157.3,188.1 C156.7,189.6 156.1,191.2 155.1,192.6 C154.2,194.0 153.0,195.4 151.7,196.4 C150.3,197.4 148.7,198.3 147.0,198.8 C145.4,199.4 143.6,199.6 141.9,199.8 C140.2,199.9 138.5,199.9 136.7,199.8 C135.0,199.8 133.3,199.7 131.6,199.4 C129.8,199.0 128.0,198.7 126.4,198.0 C124.7,197.2 123.1,196.3 121.8,195.1 C120.4,193.9 119.3,192.4 118.3,190.9 C117.4,189.4 116.7,187.7 116.1,186.0 C115.5,184.3 115.0,182.6 114.7,180.8 C114.4,179.0 114.1,177.2 114.3,175.4 C114.4,173.6 114.8,171.7 115.4,170.0 C116.1,168.3 117.2,166.6 118.3,165.2 C119.5,163.8 120.9,162.5 122.3,161.3 C123.7,160.2 125.1,159.1 126.7,158.0 C128.2,157.0 129.8,155.9 131.6,155.1 C133.4,154.3 135.4,153.6 137.3,153.3 C139.3,153.0 141.4,153.1 143.4,153.5 C145.3,153.9 147.2,154.7 149.0,155.6 C150.7,156.5 152.3,157.7 153.9,158.9 C155.4,160.1 156.9,161.3 158.3,162.8 C159.6,164.2 160.9,165.7 161.9,167.4 C162.9,169.1 163.7,171.0 164.2,172.9 C164.6,174.8 164.7,176.9 164.6,178.8 C164.5,180.8 164.1,182.7 163.6,184.6 C163.2,186.6 162.6,188.4 161.8,190.3 C161.0,192.2 160.2,194.1 158.9,195.8 C157.7,197.4 156.2,199.1 154.5,200.3 C152.9,201.6 150.8,202.5 148.8,203.1 C146.8,203.8 144.6,204.0 142.5,204.1 C140.4,204.3 138.3,204.2 136.2,204.1 C134.1,204.0 132.0,203.8 129.9,203.4 C127.8,203.0 125.6,202.5 123.6,201.6 C121.7,200.7 119.7,199.4 118.1,197.9 C116.5,196.4 115.2,194.6 114.1,192.7 C113.0,190.8 112.2,188.8 111.5,186.7 C110.8,184.7 110.3,182.6 109.9,180.5 C109.6,178.3 109.4,176.0 109.6,173.9 C109.8,171.7 110.3,169.4 111.2,167.4 C112.1,165.4 113.4,163.5 114.9,161.8 C116.3,160.1 118.0,158.6 119.7,157.2 C121.4,155.8 123.2,154.5 125.0,153.3 C126.9,152.1 130.0,150.5 131.0,149.9" fill="none"/>
<g filter="url(#spk)">
<use href="#spa2" stroke="#f29a50" stroke-width="3.4"/>
<use href="#spa2" stroke="#e8c050" stroke-width="2.0" opacity="0.8"/>
<use href="#spa2" stroke="#6cb0c0" stroke-width="1.3"/>
</g>
<g clip-path="url(#ta2)"><g filter="url(#spk2)">
<path d="M168.5,176.0 C171.5,174.0 181.3,167.7 186.5,164.0 C191.7,160.3 195.2,157.3 199.5,154.0 C203.8,150.7 210.3,145.7 212.5,144.0" fill="none" stroke="#7ab2c0" stroke-width="7" stroke-linecap="round" stroke-linejoin="round"/>
<path d="M168.5,176.0 C171.5,174.0 181.3,167.7 186.5,164.0 C191.7,160.3 195.2,157.3 199.5,154.0 C203.8,150.7 210.3,145.7 212.5,144.0" fill="none" stroke="#a8c4b0" stroke-width="3.15" stroke-linecap="round" transform="translate(1.4,-1.4)"/>
<path d="M177.5,212.0 C179.5,209.0 185.5,199.7 189.5,194.0 C193.5,188.3 197.5,183.0 201.5,178.0 C205.5,173.0 209.8,168.3 213.5,164.0 C217.2,159.7 220.8,155.3 223.5,152.0 C226.2,148.7 228.5,145.3 229.5,144.0" fill="none" stroke="#7ab2c0" stroke-width="8" stroke-linecap="round" stroke-linejoin="round"/>
<path d="M240.5,166.0 C239.7,169.3 237.0,178.3 235.5,186.0 C234.0,193.7 232.2,207.7 231.5,212.0" fill="none" stroke="#7ab2c0" stroke-width="5.5" stroke-linecap="round" stroke-linejoin="round"/>
<path d="M211.5,160.0 L201.5,176.0" fill="none" stroke="#7ab2c0" stroke-width="3" stroke-linecap="round" stroke-linejoin="round"/>
<path d="M179.5,183.0 L182.5,186.0" fill="none" stroke="#e39d00" stroke-width="7.5" stroke-linecap="round" stroke-linejoin="round"/>
<path d="M180.6,184.1 L180.9,184.4 L181.2,184.7 L181.5,185.0 L181.8,185.3 L182.2,185.7 L182.5,186.0" fill="none" stroke="#ea6400" stroke-width="7.27" stroke-linecap="round" stroke-linejoin="round"/>
<path d="M181.5,185.0 L181.7,185.2 L181.9,185.4 L182.0,185.5 L182.2,185.7 L182.3,185.8 L182.5,186.0" fill="none" stroke="#f02c00" stroke-width="7.27" stroke-linecap="round" stroke-linejoin="round"/>
<path d="M213.5,173.0 L223.5,181.0" fill="none" stroke="#ebcc2a" stroke-width="4" stroke-linecap="round" stroke-linejoin="round"/>
<path d="M217.0,175.8 L218.1,176.7 L219.2,177.5 L220.2,178.4 L221.3,179.3 L222.4,180.1 L223.5,181.0" fill="none" stroke="#e2b103" stroke-width="3.88" stroke-linecap="round" stroke-linejoin="round"/>
<path d="M220.3,178.4 L220.8,178.9 L221.4,179.3 L221.9,179.7 L222.4,180.1 L223.0,180.6 L223.5,181.0" fill="none" stroke="#f02c00" stroke-width="3.88" stroke-linecap="round" stroke-linejoin="round"/>
<path d="M206.5,194.0 L214.5,206.0" fill="none" stroke="#ebcc2a" stroke-width="5" stroke-linecap="round" stroke-linejoin="round"/>
<path d="M209.3,198.2 L210.2,199.5 L211.0,200.8 L211.9,202.1 L212.8,203.4 L213.6,204.7 L214.5,206.0" fill="none" stroke="#e2b103" stroke-width="4.85" stroke-linecap="round" stroke-linejoin="round"/>
<path d="M211.9,202.2 L212.4,202.8 L212.8,203.4 L213.2,204.1 L213.6,204.7 L214.1,205.4 L214.5,206.0" fill="none" stroke="#f02c00" stroke-width="4.85" stroke-linecap="round" stroke-linejoin="round"/>
<path d="M175.5,205.0 L177.5,207.0" fill="none" stroke="#f02c00" stroke-width="4" stroke-linecap="round" stroke-linejoin="round"/>
<path d="M176.2,205.7 L176.4,205.9 L176.6,206.1 L176.8,206.3 L177.1,206.6 L177.3,206.8 L177.5,207.0" fill="none" stroke="#f02c00" stroke-width="3.88" stroke-linecap="round" stroke-linejoin="round"/>
<path d="M176.9,206.4 L177.0,206.5 L177.1,206.6 L177.2,206.7 L177.3,206.8 L177.4,206.9 L177.5,207.0" fill="none" stroke="#f02c00" stroke-width="3.88" stroke-linecap="round" stroke-linejoin="round"/>
<path d="M203.5,150.0 L211.5,153.0" fill="none" stroke="#e6be16" stroke-width="4" stroke-linecap="round" stroke-linejoin="round"/>
<path d="M206.3,151.1 L207.2,151.4 L208.0,151.7 L208.9,152.0 L209.8,152.3 L210.6,152.7 L211.5,153.0" fill="none" stroke="#e49400" stroke-width="3.88" stroke-linecap="round" stroke-linejoin="round"/>
<path d="M208.9,152.0 L209.4,152.2 L209.8,152.4 L210.2,152.5 L210.6,152.7 L211.1,152.8 L211.5,153.0" fill="none" stroke="#f02c00" stroke-width="3.88" stroke-linecap="round" stroke-linejoin="round"/>
<path d="M189.5,176.0 L190.5,177.0" fill="none" stroke="#eaca27" stroke-width="3" stroke-linecap="round" stroke-linejoin="round"/>
<path d="M189.8,176.3 L190.0,176.5 L190.1,176.6 L190.2,176.7 L190.3,176.8 L190.4,176.9 L190.5,177.0" fill="none" stroke="#e5b90f" stroke-width="2.91" stroke-linecap="round" stroke-linejoin="round"/>
<path d="M190.2,176.7 L190.2,176.7 L190.3,176.8 L190.3,176.8 L190.4,176.9 L190.4,176.9 L190.5,177.0" fill="none" stroke="#e49100" stroke-width="2.91" stroke-linecap="round" stroke-linejoin="round"/>
<path d="M233.5,152.0 L235.5,155.0" fill="none" stroke="#e5bb11" stroke-width="2" stroke-linecap="round" stroke-linejoin="round"/>
<path d="M234.2,153.1 L234.4,153.4 L234.6,153.7 L234.8,154.0 L235.1,154.3 L235.3,154.7 L235.5,155.0" fill="none" stroke="#e3a000" stroke-width="1.94" stroke-linecap="round" stroke-linejoin="round"/>
<path d="M234.9,154.0 L235.0,154.2 L235.1,154.4 L235.2,154.5 L235.3,154.7 L235.4,154.8 L235.5,155.0" fill="none" stroke="#eb5600" stroke-width="1.94" stroke-linecap="round" stroke-linejoin="round"/>
</g></g>
<rect x="155.4" y="188.1" width="3.4" height="3.4" fill="none" stroke="#222" stroke-width="0.7"/>
<defs><linearGradient id="ug7" x1="0" y1="0" x2="1" y2="0"><stop offset="0" stop-color="#fae6d8"/><stop offset="0.4" stop-color="#f0dccc"/><stop offset="0.7" stop-color="#b8d0d0"/><stop offset="0.9" stop-color="#98c4cc"/><stop offset="1" stop-color="#f0a060"/></linearGradient></defs>
<g filter="url(#soft)">
<path d="M323.6,151.3 C325.6,150.3 337.5,150.3 339.9,150.9 C342.3,151.5 346.1,155.8 347.3,157.4 C348.5,159.0 351.6,164.4 352.2,166.4 C352.8,168.4 353.6,175.2 353.8,177.1 C354.0,179.0 354.1,183.4 353.8,185.2 C353.5,187.0 351.6,193.4 350.6,195.1 C349.6,196.8 345.1,201.4 344.0,202.4 C342.9,203.4 340.0,205.0 339.1,204.9 C338.2,204.8 335.6,202.8 335.0,201.6 C334.4,200.4 333.6,194.4 333.0,193.4 C332.4,192.4 329.8,191.8 329.0,192.0 C328.2,192.2 325.5,195.7 325.0,195.5 C324.5,195.3 324.4,190.9 324.0,190.0 C323.6,189.1 321.9,186.3 321.0,186.0 C320.1,185.7 316.0,187.0 315.0,187.0 C314.0,187.0 311.9,186.5 311.0,186.0 C310.1,185.5 306.6,183.2 306.0,182.0 C305.4,180.8 304.9,175.6 304.8,174.0 C304.7,172.4 304.2,166.6 304.8,166.0 C305.4,165.4 309.8,168.0 311.0,168.0 C312.2,168.0 316.1,166.3 317.0,165.6 C317.9,164.9 319.6,162.1 320.3,160.7 C321.0,159.3 321.6,152.3 323.6,151.3Z" fill="#fcefe6"/>
<path d="M320.3,160.7 C321.2,158.8 322.0,152.6 323.6,151.3 C325.2,150.0 330.5,150.3 332.0,150.8 C333.5,151.3 335.0,153.9 335.0,155.0 C335.0,156.1 333.1,157.9 332.0,159.0 C330.9,160.1 328.5,161.8 327.0,163.0 C325.5,164.2 322.3,167.7 321.0,168.0 C319.7,168.3 317.1,166.6 317.0,165.6 C316.9,164.6 319.4,162.6 320.3,160.7Z" fill="#f4b890" opacity="0.7"/>
<path d="M323.6,151.3 C324.1,150.9 330.4,150.8 332.0,150.8 C333.6,150.8 338.4,150.2 339.9,150.9 C341.4,151.6 346.1,155.8 347.3,157.4 C348.5,159.0 351.6,164.4 352.2,166.4 C352.8,168.4 353.6,175.2 353.8,177.1 C354.0,179.0 354.1,183.4 353.8,185.2 C353.5,187.0 351.6,193.4 350.6,195.1 C349.6,196.8 345.1,201.4 344.0,202.4 C342.9,203.4 340.0,205.0 339.1,204.9 C338.2,204.8 335.7,202.8 335.0,201.6 C334.3,200.4 332.4,195.0 332.0,193.4 C331.6,191.8 330.6,186.9 330.5,185.2 C330.4,183.5 331.4,177.9 331.5,176.0 C331.6,174.1 332.1,167.8 332.0,166.0 C331.9,164.2 330.5,159.2 330.0,158.0 C329.5,156.8 327.6,155.2 327.0,154.5 C326.4,153.8 323.1,151.7 323.6,151.3Z" fill="url(#ug7)" opacity="0.9"/>
<path d="M321.0,152.5 C322.5,152.3 326.8,151.4 330.0,151.2 C333.2,151.0 337.2,150.3 340.0,151.4 C342.8,152.5 345.4,156.5 346.5,157.5" fill="none" stroke="#f08a40" stroke-width="2.6" opacity="0.85"/>
<path d="M304.8,166.0 C305.4,165.4 310.2,167.0 311.0,168.0 C311.8,169.0 312.9,174.4 313.0,176.0 C313.1,177.6 312.9,183.1 312.5,184.0 C312.1,184.9 309.6,185.7 309.0,185.5 C308.4,185.3 306.4,183.2 306.0,182.0 C305.6,180.8 304.9,175.6 304.8,174.0 C304.7,172.4 304.2,166.6 304.8,166.0Z" fill="#f8d8c0" opacity="0.85"/>
<path d="M317.4,163.2 C317.7,163.2 319.0,169.3 319.3,169.5 C319.6,169.7 323.5,167.2 323.6,167.3 C323.7,167.5 321.7,172.1 321.8,172.5 C321.9,172.9 326.5,175.3 326.5,175.5 C326.5,175.7 322.6,176.7 322.5,177.0 C322.4,177.3 325.1,182.3 325.0,182.5 C324.9,182.7 320.8,180.3 320.5,180.5 C320.2,180.7 318.7,186.0 318.5,186.0 C318.3,186.0 316.9,180.7 316.5,180.5 C316.1,180.3 311.6,183.2 311.5,183.0 C311.4,182.8 313.8,177.9 313.5,177.5 C313.2,177.1 304.9,174.7 304.8,174.5 C304.8,174.3 312.5,173.9 312.5,173.5 C312.5,173.1 304.8,166.2 304.8,166.0 C304.8,165.8 312.4,169.6 313.0,169.5 C313.6,169.4 317.1,163.2 317.4,163.2Z" fill="#f09058" opacity="0.8"/>
<polyline points="309.5,184.0 309.2,191.0 308.9,197.5" fill="none" stroke="#f09050" stroke-width="2.6" stroke-linecap="round"/>
<polyline points="312.0,191.5 315.0,195.0 318.3,200.0" fill="none" stroke="#f09050" stroke-width="0.9"/>
</g>
<g filter="url(#spk2)">
<path d="M424.8,173.2 C424.9,173.8 425.1,175.6 425.2,176.8 C425.2,178.0 425.2,179.2 425.0,180.4 C424.9,181.6 424.7,182.8 424.4,184.0 C424.2,185.2 423.8,186.4 423.4,187.5 C423.0,188.6 422.5,189.8 422.0,190.9 C421.4,191.9 420.8,193.0 420.2,194.0 C419.5,195.1 418.8,196.1 418.0,197.0 C417.2,198.0 416.3,198.9 415.4,199.7 C414.5,200.6 413.5,201.4 412.4,202.1 C411.4,202.8 410.3,203.5 409.2,204.0 C408.0,204.6 406.9,205.1 405.6,205.5 C404.4,205.9 403.2,206.2 401.9,206.4 C400.6,206.6 399.4,206.7 398.1,206.7 C396.8,206.8 395.5,206.7 394.3,206.5 C393.0,206.3 391.7,206.1 390.5,205.7 C389.3,205.4 388.1,204.9 387.0,204.4 C385.8,203.9 384.7,203.3 383.7,202.7 C382.6,202.1 381.6,201.3 380.7,200.6 C379.7,199.8 378.8,199.0 378.0,198.1 C377.1,197.3 376.3,196.4 375.6,195.5 C374.8,194.5 374.2,193.5 373.5,192.5 C372.9,191.5 372.3,190.5 371.8,189.4 C371.3,188.4 370.9,187.3 370.5,186.1 C370.1,185.0 369.8,183.9 369.5,182.7 C369.2,181.6 369.0,180.4 368.9,179.2 C368.8,178.0 368.7,176.8 368.7,175.6 C368.7,174.4 368.8,173.2 369.0,172.0 C369.2,170.7 369.6,168.9 369.7,168.3" fill="none" stroke="#f03a12" stroke-width="2.20"/>
<path d="M422.9,178.0 C422.8,179.9 422.3,181.8 421.8,183.6 C421.3,185.4 420.6,187.2 419.7,188.8 C418.9,190.5 417.9,192.1 416.8,193.6 C415.6,195.1 414.3,196.5 412.9,197.7 C411.4,199.0 409.7,200.0 408.0,200.9 C406.3,201.7 404.4,202.3 402.5,202.7 C400.7,203.1 398.7,203.2 396.8,203.2 C394.9,203.1 393.0,202.9 391.1,202.5 C389.2,202.0 387.4,201.5 385.6,200.7 C383.9,200.0 382.1,199.1 380.5,198.0 C379.0,196.9 377.4,195.6 376.1,194.2 C374.8,192.7 373.6,191.1 372.7,189.4 C371.8,187.6 371.2,185.7 370.7,183.8 C370.3,181.9 370.2,179.9 370.2,178.0 C370.3,176.1 370.6,174.1 371.2,172.3 C371.7,170.4 372.4,168.6 373.3,166.9 C374.2,165.2 375.3,163.6 376.6,162.2 C377.8,160.8 379.3,159.5 380.8,158.4 C382.4,157.3 384.1,156.3 385.8,155.6 C387.5,154.9 389.4,154.3 391.2,154.0 C393.0,153.6 394.9,153.4 396.8,153.4 C398.7,153.3 400.6,153.4 402.5,153.7 C404.3,154.0 406.3,154.4 408.1,155.0 C409.9,155.7 411.8,156.5 413.4,157.6 C415.1,158.6 416.7,159.9 418.0,161.4 C419.3,162.9 420.5,164.7 421.3,166.4 C422.1,168.2 422.6,170.2 422.9,172.2 C423.2,174.1 423.1,176.1 422.9,178.0Z" fill="none" stroke="#f06a22" stroke-width="1.98"/>
<path d="M419.5,178.0 C419.5,179.7 419.3,181.3 419.0,183.0 C418.6,184.6 418.1,186.2 417.4,187.7 C416.7,189.3 415.9,190.8 414.9,192.2 C413.9,193.6 412.8,194.9 411.5,196.0 C410.1,197.1 408.6,198.1 407.1,198.9 C405.5,199.6 403.8,200.2 402.0,200.5 C400.3,200.9 398.5,200.9 396.8,200.9 C395.1,200.8 393.3,200.4 391.7,200.0 C390.0,199.5 388.4,198.9 386.9,198.1 C385.4,197.3 384.0,196.4 382.7,195.3 C381.4,194.3 380.2,193.1 379.2,191.8 C378.2,190.4 377.3,189.0 376.7,187.5 C376.0,186.0 375.5,184.4 375.1,182.9 C374.7,181.3 374.6,179.6 374.5,178.0 C374.5,176.4 374.5,174.7 374.8,173.1 C375.0,171.4 375.4,169.8 376.0,168.2 C376.6,166.6 377.3,165.0 378.3,163.5 C379.3,162.1 380.5,160.7 381.8,159.6 C383.2,158.5 384.8,157.5 386.4,156.8 C388.0,156.1 389.8,155.7 391.5,155.4 C393.3,155.2 395.1,155.3 396.8,155.5 C398.5,155.6 400.2,156.0 401.8,156.5 C403.4,157.0 405.0,157.6 406.5,158.3 C408.0,159.0 409.4,159.9 410.7,160.9 C412.1,161.8 413.4,162.9 414.5,164.2 C415.6,165.4 416.6,166.8 417.3,168.3 C418.1,169.8 418.6,171.4 419.0,173.0 C419.4,174.6 419.5,176.3 419.5,178.0Z" fill="none" stroke="#f09a2c" stroke-width="1.98"/>
<path d="M416.7,178.0 C416.6,179.4 416.4,180.9 416.0,182.3 C415.6,183.7 415.1,185.0 414.4,186.3 C413.7,187.6 412.9,188.8 412.0,189.9 C411.1,191.0 410.1,192.0 409.0,193.0 C407.8,193.9 406.6,194.7 405.3,195.3 C404.0,196.0 402.6,196.6 401.2,196.9 C399.8,197.3 398.3,197.5 396.8,197.6 C395.3,197.6 393.8,197.5 392.3,197.2 C390.9,196.9 389.4,196.4 388.1,195.8 C386.7,195.2 385.4,194.4 384.2,193.4 C383.1,192.5 382.0,191.4 381.1,190.3 C380.2,189.1 379.4,187.8 378.7,186.5 C378.1,185.2 377.6,183.8 377.3,182.4 C377.0,180.9 376.8,179.4 376.9,178.0 C376.9,176.6 377.1,175.1 377.4,173.7 C377.8,172.3 378.3,170.9 379.0,169.6 C379.6,168.3 380.5,167.1 381.4,166.0 C382.3,164.9 383.4,163.8 384.6,163.0 C385.7,162.1 387.0,161.3 388.3,160.7 C389.6,160.1 391.0,159.6 392.4,159.3 C393.9,158.9 395.3,158.7 396.8,158.7 C398.3,158.6 399.8,158.7 401.2,159.0 C402.7,159.2 404.2,159.7 405.5,160.2 C406.9,160.8 408.2,161.6 409.4,162.5 C410.6,163.4 411.8,164.4 412.7,165.6 C413.6,166.7 414.5,168.0 415.1,169.4 C415.7,170.7 416.2,172.2 416.4,173.6 C416.7,175.0 416.8,176.6 416.7,178.0Z" fill="none" stroke="#e6c23c" stroke-width="1.98"/>
<path d="M413.1,178.0 C412.8,179.3 412.4,180.5 411.9,181.6 C411.5,182.7 410.9,183.8 410.2,184.8 C409.6,185.8 408.9,186.8 408.2,187.7 C407.5,188.6 406.7,189.5 405.8,190.3 C404.9,191.1 404.0,191.9 402.9,192.5 C401.9,193.1 400.7,193.6 399.5,194.0 C398.3,194.3 397.0,194.5 395.8,194.5 C394.6,194.6 393.3,194.4 392.0,194.1 C390.8,193.9 389.6,193.5 388.5,192.9 C387.3,192.4 386.2,191.8 385.2,191.0 C384.2,190.3 383.2,189.4 382.4,188.5 C381.5,187.5 380.8,186.5 380.2,185.4 C379.6,184.3 379.1,183.0 378.8,181.8 C378.6,180.6 378.4,179.3 378.5,178.0 C378.5,176.7 378.8,175.5 379.1,174.3 C379.5,173.1 380.0,171.9 380.6,170.8 C381.2,169.8 382.0,168.7 382.8,167.8 C383.6,167.0 384.6,166.1 385.6,165.5 C386.6,164.8 387.7,164.2 388.8,163.7 C389.9,163.3 391.1,163.0 392.2,162.7 C393.4,162.5 394.6,162.4 395.8,162.3 C397.0,162.3 398.2,162.3 399.4,162.5 C400.6,162.6 401.9,162.8 403.1,163.2 C404.3,163.5 405.5,164.0 406.7,164.6 C407.8,165.3 408.9,166.1 409.8,167.0 C410.8,168.0 411.6,169.1 412.1,170.3 C412.7,171.5 413.1,172.8 413.2,174.1 C413.4,175.4 413.3,176.7 413.1,178.0Z" fill="none" stroke="#c6c878" stroke-width="1.76"/>
<path d="M409.5,178.0 C409.6,179.0 409.6,180.0 409.4,181.0 C409.3,182.0 409.0,183.1 408.5,184.0 C408.1,184.9 407.5,185.8 406.8,186.6 C406.2,187.4 405.4,188.1 404.5,188.7 C403.7,189.3 402.7,189.8 401.8,190.2 C400.8,190.6 399.8,190.9 398.8,191.1 C397.9,191.3 396.8,191.4 395.8,191.4 C394.8,191.5 393.7,191.4 392.7,191.2 C391.7,191.0 390.7,190.7 389.8,190.3 C388.9,189.8 387.9,189.3 387.2,188.6 C386.4,188.0 385.7,187.2 385.1,186.4 C384.5,185.6 384.0,184.7 383.6,183.7 C383.2,182.8 382.9,181.9 382.7,180.9 C382.5,180.0 382.4,179.0 382.4,178.0 C382.3,177.0 382.4,176.0 382.5,175.0 C382.7,174.1 383.0,173.1 383.3,172.1 C383.7,171.2 384.2,170.3 384.8,169.4 C385.4,168.6 386.2,167.8 387.0,167.2 C387.8,166.5 388.7,166.0 389.7,165.5 C390.6,165.1 391.6,164.8 392.7,164.5 C393.7,164.3 394.8,164.3 395.8,164.3 C396.8,164.3 397.9,164.5 398.9,164.8 C399.9,165.0 400.8,165.5 401.7,165.9 C402.6,166.4 403.5,167.0 404.2,167.7 C405.0,168.3 405.6,169.1 406.2,169.8 C406.8,170.6 407.4,171.5 407.8,172.3 C408.3,173.2 408.6,174.1 408.9,175.1 C409.2,176.0 409.4,177.0 409.5,178.0Z" fill="none" stroke="#9cc4c4" stroke-width="1.65"/>
<path d="M406.6,178.0 C406.5,178.8 406.4,179.6 406.1,180.3 C405.9,181.1 405.6,181.8 405.3,182.5 C404.9,183.2 404.5,183.9 404.1,184.5 C403.6,185.1 403.1,185.7 402.5,186.2 C401.9,186.8 401.2,187.2 400.5,187.6 C399.8,188.0 399.0,188.2 398.2,188.4 C397.4,188.5 396.6,188.6 395.8,188.5 C395.0,188.5 394.2,188.3 393.4,188.1 C392.7,187.9 391.9,187.6 391.2,187.3 C390.5,187.0 389.8,186.6 389.2,186.1 C388.5,185.7 387.9,185.2 387.4,184.6 C386.8,184.0 386.3,183.3 386.0,182.6 C385.6,181.9 385.3,181.2 385.2,180.4 C385.0,179.6 385.0,178.8 385.1,178.0 C385.1,177.2 385.3,176.4 385.5,175.7 C385.7,175.0 386.0,174.2 386.4,173.5 C386.7,172.9 387.1,172.2 387.6,171.6 C388.0,170.9 388.5,170.3 389.1,169.8 C389.7,169.2 390.4,168.8 391.1,168.4 C391.8,168.0 392.6,167.7 393.4,167.6 C394.2,167.4 395.0,167.4 395.8,167.4 C396.6,167.5 397.4,167.6 398.2,167.8 C398.9,168.1 399.7,168.4 400.4,168.7 C401.1,169.0 401.8,169.4 402.4,169.9 C403.0,170.3 403.7,170.9 404.2,171.4 C404.7,172.0 405.2,172.7 405.6,173.4 C405.9,174.1 406.2,174.9 406.4,175.6 C406.6,176.4 406.6,177.2 406.6,178.0Z" fill="none" stroke="#78b6c4" stroke-width="1.65"/>
<path d="M402.5,180.4 C402.5,180.6 402.2,181.2 402.0,181.5 C401.8,181.9 401.5,182.2 401.3,182.5 C401.0,182.8 400.7,183.1 400.4,183.3 C400.0,183.6 399.7,183.8 399.3,184.0 C399.0,184.2 398.6,184.4 398.2,184.5 C397.8,184.7 397.4,184.8 397.0,184.9 C396.6,185.0 396.2,185.0 395.8,185.0 C395.4,185.0 395.0,185.0 394.5,185.0 C394.1,184.9 393.7,184.8 393.3,184.6 C392.9,184.5 392.6,184.3 392.2,184.1 C391.8,183.9 391.5,183.7 391.2,183.4 C390.9,183.1 390.6,182.8 390.3,182.5 C390.1,182.2 389.8,181.8 389.6,181.5 C389.4,181.1 389.2,180.8 389.1,180.4 C388.9,180.0 388.8,179.6 388.7,179.2 C388.6,178.8 388.6,178.4 388.6,178.0 C388.6,177.6 388.6,177.2 388.7,176.8 C388.8,176.4 388.9,176.0 389.1,175.6 C389.3,175.2 389.5,174.9 389.7,174.5 C389.9,174.2 390.2,173.9 390.4,173.6 C390.7,173.3 391.0,173.0 391.3,172.8 C391.6,172.5 392.0,172.3 392.3,172.1 C392.7,171.9 393.0,171.7 393.4,171.5 C393.8,171.3 394.2,171.2 394.6,171.1 C395.0,171.0 395.4,170.9 395.8,170.9 C396.2,170.8 396.7,170.8 397.1,170.9 C397.5,171.0 397.9,171.1 398.3,171.2 C398.7,171.4 399.3,171.7 399.5,171.8" fill="none" stroke="#5aa8bc" stroke-width="1.76"/>
<path d="M397.9,181.5 C397.8,181.6 397.6,181.7 397.4,181.7 C397.2,181.8 397.1,181.9 396.9,181.9 C396.8,181.9 396.6,182.0 396.4,182.0 C396.2,182.0 396.1,182.0 395.9,182.0 C395.7,182.0 395.6,182.0 395.4,181.9 C395.2,181.9 395.1,181.9 394.9,181.8 C394.7,181.8 394.6,181.7 394.4,181.7 C394.3,181.6 394.1,181.5 394.0,181.5 C393.9,181.4 393.7,181.3 393.6,181.2 C393.5,181.1 393.3,181.0 393.2,180.9 C393.1,180.8 393.0,180.7 392.9,180.5 C392.8,180.4 392.7,180.3 392.6,180.2 C392.5,180.0 392.4,179.9 392.3,179.8 C392.2,179.6 392.1,179.5 392.1,179.3 C392.0,179.2 391.9,179.0 391.9,178.9 C391.8,178.7 391.8,178.6 391.8,178.4 C391.7,178.2 391.7,178.1 391.7,177.9 C391.7,177.7 391.7,177.6 391.7,177.4 C391.7,177.2 391.7,177.0 391.7,176.9 C391.8,176.7 391.8,176.5 391.9,176.4 C391.9,176.2 392.0,176.0 392.1,175.9 C392.2,175.7 392.2,175.6 392.4,175.4 C392.5,175.3 392.6,175.2 392.7,175.0 C392.8,174.9 393.0,174.8 393.1,174.7 C393.3,174.6 393.4,174.5 393.6,174.5 C393.7,174.4 393.9,174.3 394.1,174.3 C394.2,174.2 394.4,174.2 394.6,174.2 C394.8,174.1 395.0,174.1 395.1,174.1" fill="none" stroke="#4aa0b8" stroke-width="1.98"/>
<path d="M370.8,191.0 C370.0,189.5 366.8,184.8 365.8,182.0 C364.8,179.2 364.6,176.3 364.8,174.0 C365.0,171.7 366.5,169.0 366.8,168.0" fill="none" stroke="#f03a12" stroke-width="1.8"/>
</g>
<defs><linearGradient id="ug8" x1="0" y1="0" x2="1" y2="0"><stop offset="0" stop-color="#9ccad0"/><stop offset="0.4" stop-color="#70b2c2"/><stop offset="1" stop-color="#5aa4b8"/></linearGradient></defs>
<g filter="url(#soft)">
<path d="M507.6,151.3 C509.6,150.3 521.5,150.3 523.9,150.9 C526.3,151.5 530.1,155.8 531.3,157.4 C532.5,159.0 535.6,164.4 536.2,166.4 C536.9,168.4 537.6,175.2 537.8,177.1 C538.0,179.0 538.1,183.4 537.8,185.2 C537.5,187.0 535.6,193.4 534.6,195.1 C533.6,196.8 529.1,201.4 528.0,202.4 C526.9,203.4 524.0,205.0 523.1,204.9 C522.2,204.8 519.6,202.8 519.0,201.6 C518.4,200.4 517.6,194.4 517.0,193.4 C516.4,192.4 513.8,191.8 513.0,192.0 C512.2,192.2 509.5,195.7 509.0,195.5 C508.5,195.3 508.4,190.9 508.0,190.0 C507.6,189.1 505.9,186.3 505.0,186.0 C504.1,185.7 500.0,187.0 499.0,187.0 C498.0,187.0 495.9,186.5 495.0,186.0 C494.1,185.5 490.6,183.2 490.0,182.0 C489.4,180.8 488.9,175.6 488.8,174.0 C488.7,172.4 488.2,166.6 488.8,166.0 C489.4,165.4 493.8,168.0 495.0,168.0 C496.2,168.0 500.1,166.3 501.0,165.6 C501.9,164.9 503.6,162.1 504.3,160.7 C505.0,159.3 505.6,152.3 507.6,151.3Z" fill="#eef3ef"/>
<path d="M504.3,160.7 C505.2,158.8 506.0,152.6 507.6,151.3 C509.2,150.0 514.5,150.3 516.0,150.8 C517.5,151.3 519.0,153.9 519.0,155.0 C519.0,156.1 517.1,157.9 516.0,159.0 C514.9,160.1 512.5,161.8 511.0,163.0 C509.5,164.2 506.3,167.7 505.0,168.0 C503.7,168.3 501.1,166.6 501.0,165.6 C500.9,164.6 503.4,162.6 504.3,160.7Z" fill="#8cc0cc" opacity="0.75"/>
<path d="M507.6,151.3 C508.1,150.9 514.4,150.8 516.0,150.8 C517.6,150.8 522.4,150.2 523.9,150.9 C525.4,151.6 530.1,155.8 531.3,157.4 C532.5,159.0 535.6,164.4 536.2,166.4 C536.9,168.4 537.6,175.2 537.8,177.1 C538.0,179.0 538.1,183.4 537.8,185.2 C537.5,187.0 535.6,193.4 534.6,195.1 C533.6,196.8 529.1,201.4 528.0,202.4 C526.9,203.4 524.0,205.0 523.1,204.9 C522.2,204.8 519.7,202.8 519.0,201.6 C518.3,200.4 516.5,195.0 516.0,193.4 C515.5,191.8 514.5,186.9 514.5,185.2 C514.5,183.5 515.4,177.9 515.5,176.0 C515.6,174.1 516.1,167.8 516.0,166.0 C515.9,164.2 514.5,159.2 514.0,158.0 C513.5,156.8 511.6,155.2 511.0,154.5 C510.4,153.8 507.1,151.7 507.6,151.3Z" fill="url(#ug8)" opacity="0.95"/>
<path d="M488.8,166.0 C489.4,165.4 494.2,167.0 495.0,168.0 C495.8,169.0 496.9,174.4 497.0,176.0 C497.1,177.6 496.9,183.1 496.5,184.0 C496.1,184.9 493.6,185.7 493.0,185.5 C492.4,185.3 490.4,183.2 490.0,182.0 C489.6,180.8 488.9,175.6 488.8,174.0 C488.7,172.4 488.2,166.6 488.8,166.0Z" fill="#f09060" opacity="0.85"/>
<path d="M501.4,163.2 C501.6,163.2 503.2,169.8 503.5,170.0 C503.8,170.2 507.5,167.2 507.6,167.3 C507.8,167.5 506.4,172.6 506.5,173.0 C506.6,173.4 509.9,175.7 510.0,176.0 C510.1,176.3 507.9,178.6 508.0,179.0 C508.1,179.4 510.9,183.8 511.0,184.4 C511.1,185.0 509.6,189.5 509.5,190.0 C509.4,190.5 508.5,195.1 508.4,195.0 C508.2,194.9 506.8,188.4 506.5,188.0 C506.2,187.6 503.4,186.1 503.0,186.0 C502.6,185.9 499.3,187.1 499.0,187.0 C498.7,186.9 496.6,184.4 496.5,184.0 C496.4,183.6 496.3,178.6 496.1,178.0 C495.9,177.4 493.4,173.6 493.0,173.0 C492.6,172.4 488.7,166.1 488.8,166.0 C488.9,165.9 495.0,170.3 495.5,170.5 C496.0,170.7 498.2,169.4 498.5,169.0 C498.8,168.6 501.1,163.1 501.4,163.2Z" fill="#f05a20" opacity="0.75"/>
<ellipse cx="502.0" cy="176.0" rx="4.5" ry="5.5" fill="#f0a040" opacity="0.7"/>
<polyline points="493.5,184.0 493.2,191.0 492.9,197.5" fill="none" stroke="#f04418" stroke-width="2.6" stroke-linecap="round"/>
<polyline points="496.0,191.5 499.0,195.0 502.3,200.0" fill="none" stroke="#f04418" stroke-width="0.9"/>
</g>
<path id="spc2" d="M573.4,177.8 C573.4,177.6 573.4,177.2 573.5,176.8 C573.6,176.5 573.7,176.2 573.9,175.9 C574.1,175.6 574.3,175.3 574.5,175.1 C574.8,174.8 575.0,174.6 575.3,174.4 C575.6,174.2 575.9,174.0 576.2,173.8 C576.5,173.6 576.9,173.4 577.3,173.3 C577.6,173.2 578.0,173.0 578.5,173.0 C578.9,172.9 579.3,172.9 579.8,172.9 C580.3,172.9 580.8,173.0 581.2,173.2 C581.7,173.3 582.1,173.6 582.5,173.8 C582.9,174.1 583.3,174.5 583.6,174.9 C583.9,175.3 584.1,175.8 584.3,176.2 C584.5,176.7 584.6,177.2 584.6,177.7 C584.6,178.2 584.6,178.7 584.5,179.2 C584.4,179.7 584.3,180.2 584.1,180.7 C583.9,181.1 583.6,181.6 583.3,182.0 C583.1,182.4 582.7,182.8 582.4,183.2 C582.0,183.6 581.6,183.9 581.1,184.2 C580.7,184.5 580.2,184.8 579.6,185.0 C579.1,185.2 578.5,185.4 577.9,185.5 C577.4,185.6 576.7,185.6 576.1,185.5 C575.5,185.5 574.9,185.4 574.3,185.2 C573.7,185.0 573.0,184.7 572.5,184.3 C571.9,184.0 571.4,183.6 570.9,183.1 C570.4,182.6 570.0,182.0 569.7,181.4 C569.3,180.8 569.1,180.1 568.9,179.5 C568.8,178.8 568.7,178.0 568.8,177.3 C568.8,176.6 569.0,175.9 569.2,175.3 C569.5,174.6 569.8,174.0 570.3,173.4 C570.7,172.8 571.2,172.3 571.7,171.8 C572.2,171.3 572.8,170.9 573.4,170.5 C574.0,170.1 574.6,169.8 575.3,169.5 C575.9,169.2 576.6,168.9 577.4,168.7 C578.1,168.5 578.9,168.4 579.7,168.3 C580.5,168.2 581.4,168.2 582.2,168.3 C583.0,168.5 583.9,168.7 584.7,169.0 C585.5,169.4 586.4,169.9 587.0,170.5 C587.7,171.0 588.3,171.8 588.8,172.5 C589.3,173.3 589.6,174.2 589.8,175.0 C590.1,175.9 590.2,176.8 590.1,177.7 C590.1,178.6 590.0,179.5 589.8,180.3 C589.5,181.1 589.2,182.0 588.8,182.7 C588.4,183.5 588.0,184.3 587.4,184.9 C586.9,185.6 586.3,186.3 585.6,186.9 C585.0,187.5 584.3,188.0 583.5,188.5 C582.7,188.9 581.8,189.3 580.9,189.6 C580.0,189.9 579.1,190.1 578.1,190.2 C577.1,190.3 576.1,190.3 575.1,190.1 C574.2,190.0 573.1,189.8 572.2,189.4 C571.2,189.0 570.3,188.5 569.4,187.9 C568.5,187.3 567.7,186.6 567.0,185.8 C566.3,185.0 565.7,184.1 565.2,183.1 C564.7,182.1 564.4,181.1 564.2,180.0 C564.0,178.9 564.0,177.8 564.1,176.7 C564.3,175.6 564.6,174.5 565.0,173.5 C565.4,172.5 566.0,171.6 566.7,170.7 C567.4,169.9 568.2,169.1 569.0,168.4 C569.8,167.7 570.7,167.1 571.6,166.6 C572.5,166.1 573.5,165.6 574.5,165.2 C575.5,164.8 576.5,164.4 577.6,164.1 C578.7,163.9 579.9,163.7 581.1,163.6 C582.3,163.6 583.6,163.6 584.8,163.8 C586.0,164.1 587.3,164.4 588.4,165.0 C589.6,165.6 590.7,166.3 591.7,167.2 C592.6,168.1 593.4,169.2 594.1,170.3 C594.7,171.4 595.1,172.7 595.4,174.0 C595.7,175.2 595.7,176.6 595.7,177.8 C595.6,179.1 595.3,180.3 595.0,181.5 C594.6,182.7 594.1,183.9 593.5,184.9 C592.9,186.0 592.2,187.0 591.4,188.0 C590.6,188.9 589.8,189.8 588.8,190.6 C587.8,191.4 586.8,192.2 585.7,192.8 C584.5,193.4 583.3,193.9 582.1,194.2 C580.8,194.6 579.5,194.8 578.1,194.9 C576.8,195.0 575.4,194.9 574.0,194.7 C572.6,194.5 571.2,194.1 569.9,193.5 C568.6,193.0 567.3,192.3 566.2,191.4 C565.0,190.6 563.9,189.5 563.0,188.4 C562.1,187.3 561.2,186.0 560.7,184.6 C560.1,183.3 559.6,181.8 559.4,180.3 C559.3,178.9 559.3,177.3 559.5,175.9 C559.8,174.4 560.3,173.0 560.9,171.6 C561.5,170.3 562.4,169.1 563.3,168.0 C564.2,166.8 565.3,165.9 566.4,165.0 C567.5,164.1 568.7,163.3 570.0,162.6 C571.2,161.9 572.5,161.3 573.8,160.8 C575.2,160.3 576.6,159.8 578.1,159.5 C579.6,159.2 581.1,159.0 582.7,158.9 C584.3,158.9 585.9,159.0 587.5,159.4 C589.1,159.7 590.8,160.3 592.3,161.1 C593.8,161.9 595.2,162.9 596.4,164.1 C597.6,165.3 598.6,166.8 599.4,168.3 C600.2,169.8 600.7,171.5 601.0,173.1 C601.3,174.8 601.3,176.5 601.1,178.1 C601.0,179.7 600.6,181.4 600.1,182.9 C599.6,184.4 598.9,185.9 598.1,187.3 C597.3,188.7 596.3,190.0 595.3,191.2 C594.3,192.4 593.1,193.5 591.8,194.5 C590.6,195.5 589.2,196.4 587.7,197.1 C586.2,197.9 584.6,198.5 583.0,198.9 C581.4,199.3 579.7,199.6 577.9,199.6 C576.2,199.7 574.4,199.6 572.7,199.2 C570.9,198.9 569.2,198.3 567.5,197.6 C565.9,196.9 564.3,195.9 562.8,194.8 C561.4,193.7 560.0,192.3 558.9,190.8 C557.7,189.4 556.8,187.7 556.1,186.0 C555.4,184.3 554.9,182.4 554.7,180.5 C554.5,178.7 554.6,176.7 555.0,174.9 C555.3,173.1 556.0,171.2 556.8,169.6 C557.7,168.0 558.8,166.4 560.0,165.1 C561.2,163.7 562.5,162.5 564.0,161.4 C565.4,160.3 566.9,159.4 568.5,158.5 C570.0,157.7 571.7,157.0 573.4,156.4 C575.1,155.7 576.8,155.2 578.7,154.9 C580.5,154.5 582.5,154.3 584.5,154.3 C586.4,154.3 588.5,154.5 590.5,155.0 C592.4,155.5 594.5,156.2 596.3,157.2 C598.1,158.3 599.9,159.6 601.3,161.2 C602.7,162.7 603.9,164.5 604.8,166.4 C605.7,168.3 606.3,170.4 606.6,172.4 C606.9,174.5 606.8,176.6 606.6,178.6 C606.4,180.6 605.8,182.6 605.1,184.4 C604.5,186.3 603.6,188.1 602.6,189.8 C601.5,191.4 600.4,193.0 599.1,194.5 C597.7,195.9 596.3,197.3 594.7,198.5 C593.1,199.6 591.4,200.7 589.6,201.6 C587.8,202.4 585.8,203.1 583.8,203.6 C581.8,204.1 579.7,204.3 577.6,204.4 C575.5,204.4 573.3,204.2 571.2,203.7 C569.1,203.2 566.9,202.5 565.0,201.6 C563.0,200.6 561.0,199.4 559.3,198.0 C557.6,196.6 556.0,194.9 554.7,193.1 C553.3,191.3 552.2,189.3 551.4,187.2 C550.6,185.0 550.1,182.7 549.9,180.5 C549.8,178.3 550.0,175.9 550.5,173.7 C551.0,171.5 551.8,169.4 552.9,167.4 C553.9,165.5 555.3,163.7 556.8,162.0 C558.2,160.4 559.9,159.0 561.7,157.7 C563.4,156.5 565.2,155.4 567.1,154.4 C569.0,153.4 572.1,152.3 573.1,151.9" fill="none"/>
<g filter="url(#spk)">
<use href="#spc2" stroke="#62aabe" stroke-width="3.6" opacity="0.85"/>
<use href="#spc2" stroke="#e8603a" stroke-width="0.8"/>
</g>
<g clip-path="url(#tc2)"><g filter="url(#spk2)">
<path d="M608.7,176.0 C611.7,174.0 621.5,167.7 626.7,164.0 C631.9,160.3 635.4,157.3 639.7,154.0 C644.0,150.7 650.5,145.7 652.7,144.0" fill="none" stroke="#3d9ab5" stroke-width="7" stroke-linecap="round" stroke-linejoin="round"/>
<path d="M608.7,176.0 C611.7,174.0 621.5,167.7 626.7,164.0 C631.9,160.3 635.4,157.3 639.7,154.0 C644.0,150.7 650.5,145.7 652.7,144.0" fill="none" stroke="#fff" stroke-width="2.8000000000000003" stroke-linecap="round" opacity="0.6"/>
<path d="M617.7,212.0 C619.7,209.0 625.7,199.7 629.7,194.0 C633.7,188.3 637.7,183.0 641.7,178.0 C645.7,173.0 650.0,168.3 653.7,164.0 C657.4,159.7 661.0,155.3 663.7,152.0 C666.4,148.7 668.7,145.3 669.7,144.0" fill="none" stroke="#3d9ab5" stroke-width="8" stroke-linecap="round" stroke-linejoin="round"/>
<path d="M617.7,212.0 C619.7,209.0 625.7,199.7 629.7,194.0 C633.7,188.3 637.7,183.0 641.7,178.0 C645.7,173.0 650.0,168.3 653.7,164.0 C657.4,159.7 661.0,155.3 663.7,152.0 C666.4,148.7 668.7,145.3 669.7,144.0" fill="none" stroke="#fff" stroke-width="3.2" stroke-linecap="round" opacity="0.6"/>
<path d="M680.7,166.0 C679.9,169.3 677.2,178.3 675.7,186.0 C674.2,193.7 672.4,207.7 671.7,212.0" fill="none" stroke="#3d9ab5" stroke-width="5.5" stroke-linecap="round" stroke-linejoin="round"/>
<path d="M680.7,166.0 C679.9,169.3 677.2,178.3 675.7,186.0 C674.2,193.7 672.4,207.7 671.7,212.0" fill="none" stroke="#fff" stroke-width="2.2" stroke-linecap="round" opacity="0.6"/>
<path d="M651.7,160.0 L641.7,176.0" fill="none" stroke="#3d9ab5" stroke-width="3" stroke-linecap="round" stroke-linejoin="round"/>
<path d="M651.7,160.0 L641.7,176.0" fill="none" stroke="#fff" stroke-width="1.2000000000000002" stroke-linecap="round" opacity="0.6"/>
<path d="M619.7,183.0 L622.7,186.0" fill="none" stroke="#3d9ab5" stroke-width="8.9" stroke-linecap="round" stroke-linejoin="round"/>
<path d="M619.7,183.0 L622.7,186.0" fill="none" stroke="#fff" stroke-width="4.5" stroke-linecap="round" stroke-linejoin="round"/>
<path d="M619.7,183.0 L622.7,186.0" fill="none" stroke="#ebcc2a" stroke-width="3.0" stroke-linecap="round" stroke-linejoin="round"/>
<path d="M619.7,183.0 L622.7,186.0" fill="none" stroke="#f03a10" stroke-width="1.5" stroke-linecap="round"/>
<path d="M653.7,173.0 L663.7,181.0" fill="none" stroke="#3d9ab5" stroke-width="5.4" stroke-linecap="round" stroke-linejoin="round"/>
<path d="M653.7,173.0 L663.7,181.0" fill="none" stroke="#fff" stroke-width="2.4" stroke-linecap="round" stroke-linejoin="round"/>
<path d="M653.7,173.0 L663.7,181.0" fill="none" stroke="#ebcc2a" stroke-width="1.6" stroke-linecap="round" stroke-linejoin="round"/>
<path d="M653.7,173.0 L663.7,181.0" fill="none" stroke="#f03a10" stroke-width="0.8" stroke-linecap="round"/>
<path d="M646.7,194.0 L654.7,206.0" fill="none" stroke="#3d9ab5" stroke-width="6.4" stroke-linecap="round" stroke-linejoin="round"/>
<path d="M646.7,194.0 L654.7,206.0" fill="none" stroke="#fff" stroke-width="3.0" stroke-linecap="round" stroke-linejoin="round"/>
<path d="M646.7,194.0 L654.7,206.0" fill="none" stroke="#ebcc2a" stroke-width="2.0" stroke-linecap="round" stroke-linejoin="round"/>
<path d="M646.7,194.0 L654.7,206.0" fill="none" stroke="#f03a10" stroke-width="1.0" stroke-linecap="round"/>
<path d="M615.7,205.0 L617.7,207.0" fill="none" stroke="#3d9ab5" stroke-width="5.4" stroke-linecap="round" stroke-linejoin="round"/>
<path d="M615.7,205.0 L617.7,207.0" fill="none" stroke="#fff" stroke-width="2.4" stroke-linecap="round" stroke-linejoin="round"/>
<path d="M615.7,205.0 L617.7,207.0" fill="none" stroke="#ebcc2a" stroke-width="1.6" stroke-linecap="round" stroke-linejoin="round"/>
<path d="M615.7,205.0 L617.7,207.0" fill="none" stroke="#f03a10" stroke-width="0.8" stroke-linecap="round"/>
<path d="M643.7,150.0 L651.7,153.0" fill="none" stroke="#3d9ab5" stroke-width="5.4" stroke-linecap="round" stroke-linejoin="round"/>
<path d="M643.7,150.0 L651.7,153.0" fill="none" stroke="#fff" stroke-width="2.4" stroke-linecap="round" stroke-linejoin="round"/>
<path d="M643.7,150.0 L651.7,153.0" fill="none" stroke="#ebcc2a" stroke-width="1.6" stroke-linecap="round" stroke-linejoin="round"/>
<path d="M643.7,150.0 L651.7,153.0" fill="none" stroke="#f03a10" stroke-width="0.8" stroke-linecap="round"/>
<path d="M629.7,176.0 L630.7,177.0" fill="none" stroke="#3d9ab5" stroke-width="4.4" stroke-linecap="round" stroke-linejoin="round"/>
<path d="M629.7,176.0 L630.7,177.0" fill="none" stroke="#fff" stroke-width="1.7999999999999998" stroke-linecap="round" stroke-linejoin="round"/>
<path d="M629.7,176.0 L630.7,177.0" fill="none" stroke="#ebcc2a" stroke-width="1.2000000000000002" stroke-linecap="round" stroke-linejoin="round"/>
<path d="M629.7,176.0 L630.7,177.0" fill="none" stroke="#f03a10" stroke-width="0.6000000000000001" stroke-linecap="round"/>
<path d="M673.7,152.0 L675.7,155.0" fill="none" stroke="#3d9ab5" stroke-width="3.4" stroke-linecap="round" stroke-linejoin="round"/>
<path d="M673.7,152.0 L675.7,155.0" fill="none" stroke="#fff" stroke-width="1.2" stroke-linecap="round" stroke-linejoin="round"/>
<path d="M673.7,152.0 L675.7,155.0" fill="none" stroke="#ebcc2a" stroke-width="0.8" stroke-linecap="round" stroke-linejoin="round"/>
<path d="M673.7,152.0 L675.7,155.0" fill="none" stroke="#f03a10" stroke-width="0.4" stroke-linecap="round"/>
<path d="M608.7,176.0 C611.7,174.0 621.5,167.7 626.7,164.0 C631.9,160.3 635.4,157.3 639.7,154.0 C644.0,150.7 650.5,145.7 652.7,144.0" fill="none" stroke="#f04010" stroke-width="1.3" stroke-dasharray="1.5 1" transform="translate(-2.8,2.8)"/>
</g></g>
<line x1="599.1" y1="188.1" x2="611.7" y2="146.0" stroke="#333" stroke-width="0.45"/>
<line x1="599.1" y1="191.5" x2="611.7" y2="210.8" stroke="#333" stroke-width="0.45"/>
<rect x="595.7" y="188.1" width="3.4" height="3.4" fill="none" stroke="#222" stroke-width="0.7"/>
<defs><linearGradient id="ug9" x1="0" y1="0" x2="0" y2="1"><stop offset="0" stop-color="#a8c8c4"/><stop offset="0.25" stop-color="#bcc8a2"/><stop offset="0.42" stop-color="#e0b850"/><stop offset="0.52" stop-color="#f09a2c"/><stop offset="0.8" stop-color="#f07a22"/><stop offset="1" stop-color="#ee4c16"/></linearGradient></defs>
<g filter="url(#soft)">
<path d="M65.1,216.1 C67.1,215.1 79.0,215.1 81.4,215.7 C83.8,216.3 87.6,220.7 88.8,222.2 C90.0,223.8 93.0,229.2 93.7,231.2 C94.4,233.2 95.1,240.0 95.3,241.9 C95.5,243.8 95.6,248.2 95.3,250.0 C95.0,251.8 93.1,258.2 92.1,259.9 C91.1,261.6 86.7,266.2 85.5,267.2 C84.3,268.2 81.5,269.8 80.6,269.7 C79.7,269.6 77.1,267.6 76.5,266.4 C75.9,265.3 75.1,259.2 74.5,258.2 C73.9,257.2 71.3,256.6 70.5,256.8 C69.7,257.0 67.0,260.5 66.5,260.3 C66.0,260.1 65.9,255.8 65.5,254.8 C65.1,253.9 63.4,251.1 62.5,250.8 C61.6,250.5 57.5,251.8 56.5,251.8 C55.5,251.8 53.4,251.3 52.5,250.8 C51.6,250.3 48.1,248.0 47.5,246.8 C46.9,245.6 46.4,240.4 46.3,238.8 C46.2,237.2 45.7,231.4 46.3,230.8 C46.9,230.2 51.3,232.8 52.5,232.8 C53.7,232.8 57.6,231.1 58.5,230.4 C59.4,229.7 61.1,226.9 61.8,225.5 C62.5,224.1 63.1,217.1 65.1,216.1Z" fill="#dbe7e4"/>
<path d="M61.8,225.5 C62.7,223.6 63.5,217.4 65.1,216.1 C66.7,214.8 72.0,215.1 73.5,215.6 C75.0,216.1 76.5,218.7 76.5,219.8 C76.5,220.9 74.6,222.7 73.5,223.8 C72.4,224.9 70.0,226.6 68.5,227.8 C67.0,229.0 63.8,232.5 62.5,232.8 C61.2,233.1 58.6,231.4 58.5,230.4 C58.4,229.4 60.9,227.4 61.8,225.5Z" fill="#b2cfcc" opacity="0.75"/>
<path d="M65.1,216.1 C65.6,215.7 71.9,215.6 73.5,215.6 C75.1,215.6 79.9,215.0 81.4,215.7 C82.9,216.4 87.6,220.7 88.8,222.2 C90.0,223.8 93.0,229.2 93.7,231.2 C94.4,233.2 95.6,239.8 95.8,241.8 C96.0,243.8 95.9,249.0 95.5,250.8 C95.1,252.6 93.1,258.3 92.1,259.9 C91.1,261.5 86.7,266.2 85.5,267.2 C84.3,268.2 81.6,269.7 80.6,269.7 C79.6,269.7 76.5,267.6 75.5,266.8 C74.5,266.0 71.3,262.3 70.5,261.3 C69.7,260.3 67.5,257.8 67.5,256.8 C67.5,255.9 69.7,252.9 70.5,251.8 C71.3,250.7 74.7,247.2 75.5,245.8 C76.3,244.4 78.2,239.5 78.5,237.8 C78.8,236.1 78.8,230.5 78.5,228.8 C78.2,227.2 76.0,222.2 75.0,221.3 C74.0,220.4 69.5,219.8 68.5,219.3 C67.5,218.8 64.6,216.5 65.1,216.1Z" fill="url(#ug9)" opacity="0.92"/>
<ellipse cx="69.5" cy="250.8" rx="6" ry="9" fill="#f09a40" opacity="0.45"/>
<path d="M46.3,230.8 C46.9,230.2 51.7,231.8 52.5,232.8 C53.3,233.8 54.4,239.2 54.5,240.8 C54.6,242.4 54.4,247.9 54.0,248.8 C53.6,249.8 51.1,250.5 50.5,250.3 C49.9,250.1 47.9,248.0 47.5,246.8 C47.1,245.7 46.4,240.4 46.3,238.8 C46.2,237.2 45.7,231.4 46.3,230.8Z" fill="#a6c8ca" opacity="0.85"/>
<path d="M58.9,228.0 C59.1,228.1 60.7,234.6 61.0,234.8 C61.3,235.0 64.9,232.0 65.1,232.1 C65.2,232.3 63.9,237.4 64.0,237.8 C64.1,238.2 67.4,240.5 67.5,240.8 C67.6,241.1 65.5,243.4 65.5,243.8 C65.5,244.2 68.4,248.7 68.5,249.2 C68.6,249.8 67.1,254.3 67.0,254.8 C66.9,255.3 66.1,259.9 65.9,259.8 C65.8,259.7 64.3,253.2 64.0,252.8 C63.7,252.4 60.9,250.9 60.5,250.8 C60.1,250.8 56.8,251.9 56.5,251.8 C56.2,251.7 54.1,249.2 54.0,248.8 C53.9,248.4 53.8,243.4 53.6,242.8 C53.4,242.2 50.9,238.4 50.5,237.8 C50.1,237.2 46.2,230.9 46.3,230.8 C46.4,230.7 52.5,235.2 53.0,235.3 C53.5,235.5 55.7,234.2 56.0,233.8 C56.3,233.4 58.6,227.9 58.9,228.0Z" fill="#f07c2a" opacity="0.75"/>
<polyline points="51.0,248.8 50.7,255.8 50.4,262.3" fill="none" stroke="#9cc4c8" stroke-width="2.6" stroke-linecap="round"/>
<polyline points="53.5,256.3 56.5,259.8 59.8,264.8" fill="none" stroke="#9cc4c8" stroke-width="0.9"/>
</g>
<path id="spa3" d="M139.2,245.3 C139.0,245.4 138.5,245.8 138.1,246.0 C137.8,246.2 137.3,246.3 136.9,246.4 C136.4,246.5 136.0,246.6 135.5,246.6 C135.0,246.6 134.5,246.6 134.0,246.5 C133.5,246.4 133.0,246.2 132.5,246.0 C132.1,245.7 131.7,245.3 131.4,244.9 C131.1,244.5 130.8,244.0 130.7,243.5 C130.5,243.1 130.4,242.6 130.3,242.0 C130.2,241.5 130.2,241.0 130.2,240.5 C130.3,240.0 130.3,239.5 130.5,238.9 C130.7,238.4 130.9,237.9 131.2,237.5 C131.5,237.0 131.8,236.6 132.2,236.2 C132.6,235.8 133.1,235.4 133.6,235.0 C134.1,234.7 134.6,234.3 135.2,234.1 C135.8,233.9 136.5,233.7 137.2,233.6 C137.8,233.6 138.5,233.7 139.2,233.9 C139.8,234.1 140.4,234.4 141.0,234.7 C141.6,235.0 142.2,235.5 142.7,235.9 C143.2,236.4 143.7,236.9 144.1,237.4 C144.5,238.0 144.9,238.6 145.1,239.3 C145.3,239.9 145.5,240.7 145.5,241.4 C145.5,242.1 145.4,242.8 145.2,243.5 C145.0,244.1 144.8,244.8 144.4,245.4 C144.1,246.1 143.8,246.7 143.3,247.3 C142.9,247.9 142.4,248.4 141.8,248.9 C141.2,249.3 140.5,249.7 139.8,250.0 C139.1,250.3 138.3,250.5 137.5,250.7 C136.8,250.8 135.9,250.9 135.1,250.9 C134.3,250.9 133.4,250.8 132.6,250.6 C131.7,250.4 130.9,250.0 130.1,249.6 C129.4,249.1 128.8,248.4 128.3,247.7 C127.8,247.0 127.4,246.2 127.2,245.4 C126.9,244.5 126.8,243.7 126.7,242.9 C126.6,242.0 126.6,241.2 126.6,240.3 C126.7,239.5 126.9,238.6 127.1,237.8 C127.4,237.0 127.8,236.2 128.3,235.5 C128.8,234.8 129.4,234.1 130.1,233.5 C130.7,232.9 131.4,232.3 132.2,231.7 C133.0,231.2 133.9,230.7 134.8,230.4 C135.7,230.1 136.8,229.8 137.8,229.8 C138.8,229.7 139.9,229.9 140.9,230.2 C141.8,230.5 142.8,231.0 143.6,231.6 C144.5,232.1 145.3,232.7 146.1,233.4 C146.8,234.1 147.5,234.9 148.1,235.7 C148.7,236.6 149.2,237.5 149.6,238.5 C149.9,239.5 150.0,240.6 150.0,241.6 C150.0,242.7 149.8,243.7 149.5,244.7 C149.2,245.7 148.8,246.7 148.3,247.6 C147.9,248.5 147.3,249.4 146.7,250.2 C146.0,251.1 145.2,251.9 144.4,252.5 C143.5,253.1 142.5,253.7 141.5,254.1 C140.4,254.5 139.3,254.7 138.2,254.9 C137.1,255.1 135.9,255.2 134.7,255.1 C133.6,255.1 132.3,255.0 131.1,254.7 C130.0,254.4 128.7,253.9 127.7,253.2 C126.7,252.5 125.8,251.5 125.2,250.5 C124.5,249.5 124.0,248.3 123.7,247.2 C123.3,246.0 123.1,244.8 123.0,243.7 C122.9,242.5 122.9,241.3 123.0,240.2 C123.2,239.0 123.4,237.8 123.8,236.7 C124.2,235.6 124.8,234.5 125.5,233.5 C126.1,232.5 127.0,231.6 127.9,230.8 C128.8,230.0 129.8,229.2 130.8,228.5 C131.9,227.8 133.1,227.1 134.4,226.7 C135.6,226.2 137.1,225.9 138.4,225.9 C139.8,225.9 141.2,226.1 142.5,226.5 C143.8,227.0 145.1,227.7 146.2,228.4 C147.4,229.1 148.5,230.0 149.4,231.0 C150.4,231.9 151.4,232.9 152.1,234.1 C152.9,235.2 153.6,236.5 154.0,237.8 C154.4,239.1 154.6,240.5 154.5,241.9 C154.5,243.3 154.2,244.7 153.8,246.0 C153.4,247.3 152.9,248.5 152.2,249.7 C151.6,250.9 150.9,252.1 150.0,253.2 C149.1,254.3 148.1,255.3 146.9,256.1 C145.8,256.9 144.5,257.6 143.1,258.1 C141.8,258.6 140.3,258.9 138.8,259.1 C137.4,259.4 135.9,259.5 134.4,259.4 C132.8,259.3 131.2,259.2 129.7,258.8 C128.2,258.3 126.6,257.7 125.3,256.7 C124.1,255.8 122.9,254.6 122.0,253.3 C121.2,252.0 120.6,250.4 120.2,249.0 C119.7,247.5 119.5,246.0 119.4,244.5 C119.3,243.0 119.3,241.5 119.4,240.0 C119.6,238.5 119.9,237.0 120.4,235.6 C121.0,234.2 121.7,232.8 122.6,231.6 C123.5,230.3 124.5,229.2 125.7,228.1 C126.8,227.1 128.1,226.1 129.5,225.2 C130.8,224.3 132.3,223.5 133.9,223.0 C135.5,222.4 137.3,222.0 139.0,222.0 C140.8,222.0 142.6,222.3 144.2,222.9 C145.9,223.4 147.4,224.3 148.9,225.2 C150.3,226.2 151.6,227.3 152.8,228.5 C154.1,229.7 155.2,231.0 156.2,232.4 C157.1,233.8 158.0,235.4 158.4,237.0 C158.9,238.7 159.1,240.5 159.1,242.2 C159.0,243.9 158.6,245.6 158.1,247.2 C157.6,248.8 156.9,250.4 156.1,251.9 C155.3,253.4 154.4,254.8 153.3,256.1 C152.2,257.5 150.9,258.7 149.5,259.7 C148.1,260.7 146.4,261.5 144.8,262.2 C143.1,262.8 141.3,263.1 139.5,263.4 C137.7,263.6 135.8,263.8 134.0,263.7 C132.1,263.6 130.1,263.4 128.3,262.8 C126.4,262.3 124.5,261.5 122.9,260.3 C121.4,259.2 120.0,257.7 118.9,256.1 C117.9,254.5 117.2,252.6 116.7,250.8 C116.1,249.0 115.9,247.1 115.8,245.3 C115.6,243.5 115.6,241.6 115.8,239.8 C116.1,238.0 116.4,236.2 117.1,234.5 C117.7,232.8 118.7,231.1 119.7,229.6 C120.8,228.1 122.1,226.7 123.5,225.4 C124.9,224.2 126.4,223.0 128.1,221.9 C129.8,220.9 131.6,219.9 133.5,219.3 C135.4,218.6 137.6,218.2 139.7,218.2 C141.7,218.2 143.9,218.6 145.9,219.2 C147.9,219.9 149.7,221.0 151.5,222.1 C153.2,223.2 154.8,224.6 156.2,226.0 C157.7,227.4 159.1,229.0 160.2,230.7 C161.3,232.4 162.3,234.3 162.9,236.3 C163.5,238.3 163.7,240.4 163.6,242.4 C163.5,244.5 163.0,246.5 162.4,248.5 C161.9,250.4 161.0,252.3 160.0,254.0 C159.1,255.8 158.0,257.5 156.6,259.1 C155.3,260.6 153.8,262.2 152.1,263.3 C150.4,264.5 148.4,265.5 146.4,266.2 C144.4,266.9 142.3,267.3 140.2,267.6 C138.0,267.9 135.8,268.1 133.6,267.9 C131.4,267.8 129.0,267.6 126.8,266.9 C124.7,266.3 122.4,265.3 120.5,263.9 C118.7,262.6 117.0,260.7 115.8,258.9 C114.6,257.0 113.8,254.7 113.1,252.6 C112.5,250.5 112.3,248.2 112.1,246.1 C112.0,243.9 112.0,241.8 112.2,239.6 C112.5,237.5 113.0,235.4 113.7,233.4 C114.5,231.4 115.6,229.4 116.9,227.6 C118.1,225.9 119.7,224.2 121.3,222.8 C123.0,221.3 124.8,219.9 126.7,218.7 C128.7,217.5 130.8,216.3 133.1,215.5 C135.3,214.8 139.1,214.5 140.3,214.3" fill="none"/>
<g filter="url(#spk)">
<use href="#spa3" stroke="#f29a50" stroke-width="3.4"/>
<use href="#spa3" stroke="#e8c050" stroke-width="2.0" opacity="0.8"/>
<use href="#spa3" stroke="#6cb0c0" stroke-width="1.3"/>
</g>
<g clip-path="url(#ta3)"><g filter="url(#spk2)">
<path d="M168.5,212.8 C172.3,214.1 184.3,218.3 191.5,220.8 C198.7,223.3 203.3,225.3 211.5,227.8 C219.7,230.3 235.7,234.5 240.5,235.8" fill="none" stroke="#7ab2c0" stroke-width="10" stroke-linecap="round" stroke-linejoin="round"/>
<path d="M168.5,212.8 C172.3,214.1 184.3,218.3 191.5,220.8 C198.7,223.3 203.3,225.3 211.5,227.8 C219.7,230.3 235.7,234.5 240.5,235.8" fill="none" stroke="#a8c4b0" stroke-width="4.5" stroke-linecap="round" transform="translate(2.0,-2.0)"/>
<path d="M179.5,224.8 C178.7,227.0 176.0,233.5 174.5,237.8 C173.0,242.1 171.2,248.6 170.5,250.8" fill="none" stroke="#bdc468" stroke-width="6" stroke-linecap="round" stroke-linejoin="round"/>
<path d="M176.0,233.8 L175.0,236.6 L174.0,239.4 L173.1,242.2 L172.3,245.1 L171.4,247.9 L170.5,250.8" fill="none" stroke="#e5bb11" stroke-width="5.82" stroke-linecap="round" stroke-linejoin="round"/>
<path d="M173.1,242.4 L172.7,243.8 L172.2,245.2 L171.8,246.6 L171.4,248.0 L170.9,249.4 L170.5,250.8" fill="none" stroke="#eb5600" stroke-width="5.82" stroke-linecap="round" stroke-linejoin="round"/>
<path d="M193.5,238.8 C192.7,241.1 190.2,248.3 188.5,252.8 C186.8,257.3 184.3,263.6 183.5,265.8" fill="none" stroke="#c6c55c" stroke-width="5.5" stroke-linecap="round" stroke-linejoin="round"/>
<path d="M190.1,248.3 L189.1,251.2 L188.0,254.2 L186.9,257.1 L185.7,260.0 L184.6,262.9 L183.5,265.8" fill="none" stroke="#e3b509" stroke-width="5.33" stroke-linecap="round" stroke-linejoin="round"/>
<path d="M186.8,257.2 L186.3,258.6 L185.7,260.1 L185.2,261.5 L184.6,262.9 L184.1,264.4 L183.5,265.8" fill="none" stroke="#f02c00" stroke-width="5.33" stroke-linecap="round" stroke-linejoin="round"/>
<path d="M226.5,242.8 C226.0,245.5 224.7,253.1 223.5,258.8 C222.3,264.5 220.2,273.8 219.5,276.8" fill="none" stroke="#d4c849" stroke-width="5" stroke-linecap="round" stroke-linejoin="round"/>
<path d="M224.3,254.7 L223.6,258.4 L222.8,262.1 L221.9,265.8 L221.1,269.5 L220.3,273.1 L219.5,276.8" fill="none" stroke="#e3b508" stroke-width="4.85" stroke-linecap="round" stroke-linejoin="round"/>
<path d="M221.9,266.0 L221.5,267.8 L221.1,269.6 L220.7,271.4 L220.3,273.2 L219.9,275.0 L219.5,276.8" fill="none" stroke="#ef3800" stroke-width="4.85" stroke-linecap="round" stroke-linejoin="round"/>
<path d="M237.5,255.8 L234.5,276.8" fill="none" stroke="#d4c849" stroke-width="4" stroke-linecap="round" stroke-linejoin="round"/>
<path d="M236.4,263.2 L236.1,265.4 L235.8,267.7 L235.5,270.0 L235.2,272.2 L234.8,274.5 L234.5,276.8" fill="none" stroke="#e4b80d" stroke-width="3.88" stroke-linecap="round" stroke-linejoin="round"/>
<path d="M235.5,270.1 L235.3,271.2 L235.1,272.3 L235.0,273.4 L234.8,274.6 L234.7,275.7 L234.5,276.8" fill="none" stroke="#eb5600" stroke-width="3.88" stroke-linecap="round" stroke-linejoin="round"/>
<path d="M221.5,215.8 L228.5,219.8" fill="none" stroke="#e1af00" stroke-width="4" stroke-linecap="round" stroke-linejoin="round"/>
<path d="M223.9,217.2 L224.7,217.6 L225.5,218.1 L226.2,218.5 L227.0,218.9 L227.7,219.4 L228.5,219.8" fill="none" stroke="#e86d00" stroke-width="3.88" stroke-linecap="round" stroke-linejoin="round"/>
<path d="M226.3,218.5 L226.6,218.7 L227.0,218.9 L227.4,219.2 L227.8,219.4 L228.1,219.6 L228.5,219.8" fill="none" stroke="#f02c00" stroke-width="3.88" stroke-linecap="round" stroke-linejoin="round"/>
</g></g>
<rect x="126.6" y="257.4" width="3.4" height="3.4" fill="none" stroke="#222" stroke-width="0.7"/>
<defs><linearGradient id="ug10" x1="0" y1="0" x2="1" y2="0"><stop offset="0" stop-color="#fbe2d0"/><stop offset="0.4" stop-color="#f6c0a0"/><stop offset="0.72" stop-color="#f08848"/><stop offset="1" stop-color="#f07838"/></linearGradient></defs>
<g filter="url(#soft)">
<path d="M323.6,216.1 C325.6,215.1 337.5,215.1 339.9,215.7 C342.3,216.3 346.1,220.7 347.3,222.2 C348.5,223.8 351.6,229.2 352.2,231.2 C352.8,233.2 353.6,240.0 353.8,241.9 C354.0,243.8 354.1,248.2 353.8,250.0 C353.5,251.8 351.6,258.2 350.6,259.9 C349.6,261.6 345.1,266.2 344.0,267.2 C342.9,268.2 340.0,269.8 339.1,269.7 C338.2,269.6 335.6,267.6 335.0,266.4 C334.4,265.3 333.6,259.2 333.0,258.2 C332.4,257.2 329.8,256.6 329.0,256.8 C328.2,257.0 325.5,260.5 325.0,260.3 C324.5,260.1 324.4,255.8 324.0,254.8 C323.6,253.9 321.9,251.1 321.0,250.8 C320.1,250.5 316.0,251.8 315.0,251.8 C314.0,251.8 311.9,251.3 311.0,250.8 C310.1,250.3 306.6,248.0 306.0,246.8 C305.4,245.6 304.9,240.4 304.8,238.8 C304.7,237.2 304.2,231.4 304.8,230.8 C305.4,230.2 309.8,232.8 311.0,232.8 C312.2,232.8 316.1,231.1 317.0,230.4 C317.9,229.7 319.6,226.9 320.3,225.5 C321.0,224.1 321.6,217.1 323.6,216.1Z" fill="#fcefe6"/>
<path d="M320.3,225.5 C321.2,223.6 322.0,217.4 323.6,216.1 C325.2,214.8 330.5,215.1 332.0,215.6 C333.5,216.1 335.0,218.7 335.0,219.8 C335.0,220.9 333.1,222.7 332.0,223.8 C330.9,224.9 328.5,226.6 327.0,227.8 C325.5,229.0 322.3,232.5 321.0,232.8 C319.7,233.1 317.1,231.4 317.0,230.4 C316.9,229.4 319.4,227.4 320.3,225.5Z" fill="#f6c0a0" opacity="0.7"/>
<path d="M323.6,216.1 C324.1,215.7 330.4,215.6 332.0,215.6 C333.6,215.6 338.4,215.0 339.9,215.7 C341.4,216.4 346.1,220.7 347.3,222.2 C348.5,223.8 351.6,229.2 352.2,231.2 C352.8,233.2 353.6,240.0 353.8,241.9 C354.0,243.8 354.1,248.2 353.8,250.0 C353.5,251.8 351.6,258.2 350.6,259.9 C349.6,261.6 345.1,266.2 344.0,267.2 C342.9,268.2 340.0,269.8 339.1,269.7 C338.2,269.6 335.7,267.6 335.0,266.4 C334.3,265.3 332.4,259.8 332.0,258.2 C331.6,256.6 330.6,251.7 330.5,250.0 C330.4,248.3 331.4,242.7 331.5,240.8 C331.6,238.9 332.1,232.6 332.0,230.8 C331.9,229.0 330.5,224.0 330.0,222.8 C329.5,221.7 327.6,220.0 327.0,219.3 C326.4,218.6 323.1,216.5 323.6,216.1Z" fill="url(#ug10)" opacity="0.9"/>
<path d="M321.0,217.3 C322.5,217.1 326.8,216.2 330.0,216.0 C333.2,215.8 337.2,215.2 340.0,216.2 C342.8,217.3 345.4,221.3 346.5,222.3" fill="none" stroke="#f08a40" stroke-width="2.6" opacity="0.85"/>
<path d="M304.8,230.8 C305.4,230.2 310.2,231.8 311.0,232.8 C311.8,233.8 312.9,239.2 313.0,240.8 C313.1,242.4 312.9,247.9 312.5,248.8 C312.1,249.8 309.6,250.5 309.0,250.3 C308.4,250.1 306.4,248.0 306.0,246.8 C305.6,245.7 304.9,240.4 304.8,238.8 C304.7,237.2 304.2,231.4 304.8,230.8Z" fill="#f8d8c0" opacity="0.85"/>
<path d="M317.4,228.0 C317.7,228.0 319.0,234.1 319.3,234.3 C319.6,234.5 323.5,232.0 323.6,232.1 C323.7,232.3 321.7,236.9 321.8,237.3 C321.9,237.7 326.5,240.1 326.5,240.3 C326.5,240.5 322.6,241.5 322.5,241.8 C322.4,242.2 325.1,247.1 325.0,247.3 C324.9,247.5 320.8,245.1 320.5,245.3 C320.2,245.5 318.7,250.8 318.5,250.8 C318.3,250.8 316.9,245.5 316.5,245.3 C316.1,245.2 311.6,248.0 311.5,247.8 C311.4,247.7 313.8,242.7 313.5,242.3 C313.2,241.9 304.9,239.5 304.8,239.3 C304.8,239.1 312.5,238.7 312.5,238.3 C312.5,237.9 304.8,231.0 304.8,230.8 C304.8,230.6 312.4,234.4 313.0,234.3 C313.6,234.2 317.1,228.0 317.4,228.0Z" fill="#f09058" opacity="0.8"/>
<polyline points="309.5,248.8 309.2,255.8 308.9,262.3" fill="none" stroke="#f09050" stroke-width="2.6" stroke-linecap="round"/>
<polyline points="312.0,256.3 315.0,259.8 318.3,264.8" fill="none" stroke="#f09050" stroke-width="0.9"/>
</g>
<g filter="url(#spk2)">
<circle cx="400.8" cy="240.8" r="9" fill="#e2e2e2" opacity="0.75"/>
<path d="M394.8,272.7 C394.2,272.6 392.6,272.4 391.6,272.1 C390.5,271.9 389.5,271.5 388.5,271.2 C387.5,270.8 386.4,270.3 385.5,269.8 C384.5,269.3 383.6,268.8 382.7,268.1 C381.8,267.5 380.9,266.8 380.1,266.1 C379.3,265.4 378.6,264.6 377.9,263.8 C377.2,262.9 376.5,262.1 376.0,261.2 C375.4,260.3 374.8,259.3 374.4,258.4 C373.9,257.4 373.5,256.4 373.2,255.4 C372.8,254.4 372.5,253.4 372.3,252.4 C372.0,251.4 371.9,250.3 371.7,249.3 C371.6,248.3 371.5,247.2 371.5,246.2 C371.5,245.1 371.5,244.1 371.5,243.1 C371.6,242.0 371.7,241.0 371.9,240.0 C372.0,238.9 372.3,237.9 372.5,236.9 C372.8,235.9 373.1,234.9 373.4,233.9 C373.8,232.9 374.2,231.9 374.6,230.9 C375.1,230.0 375.6,229.0 376.1,228.1 C376.7,227.2 377.3,226.3 378.0,225.4 C378.6,224.6 379.3,223.7 380.1,222.9 C380.9,222.1 381.7,221.4 382.6,220.7 C383.5,220.0 384.4,219.4 385.4,218.8 C386.3,218.2 387.3,217.7 388.4,217.3 C389.4,216.9 390.5,216.5 391.6,216.2 C392.7,215.9 393.8,215.7 394.9,215.6 C396.0,215.5 397.2,215.4 398.3,215.4 C399.4,215.5 400.6,215.6 401.6,215.7 C402.7,215.9 404.4,216.3 404.9,216.5" fill="none" stroke="#f03a12" stroke-width="2.20"/>
<path d="M395.4,218.3 C396.2,218.2 398.5,217.9 400.1,217.9 C401.7,218.0 403.3,218.2 404.8,218.5 C406.3,218.9 407.8,219.5 409.2,220.2 C410.6,220.9 411.9,221.7 413.1,222.6 C414.3,223.5 415.4,224.5 416.5,225.6 C417.6,226.6 418.6,227.7 419.5,228.9 C420.5,230.1 421.4,231.2 422.3,232.5 C423.1,233.8 424.0,235.2 424.6,236.6 C425.3,238.0 425.9,239.6 426.3,241.2 C426.6,242.8 426.9,244.5 426.8,246.1 C426.7,247.8 426.4,249.5 425.9,251.0 C425.3,252.6 424.5,254.1 423.6,255.5 C422.6,256.8 421.4,258.1 420.2,259.1 C418.9,260.2 417.5,261.1 416.1,261.9 C414.8,262.7 413.3,263.4 411.9,264.0 C410.5,264.6 409.0,265.1 407.6,265.5 C406.1,265.9 404.6,266.3 403.1,266.6 C401.6,266.8 400.1,267.0 398.6,267.0 C397.0,267.0 395.4,266.9 393.9,266.7 C392.4,266.4 390.9,265.9 389.4,265.3 C388.0,264.7 386.6,264.0 385.3,263.1 C384.0,262.2 382.8,261.2 381.8,260.0 C380.7,258.9 379.7,257.7 378.8,256.5 C377.9,255.2 377.1,253.9 376.4,252.5 C375.7,251.1 375.1,249.6 374.7,248.1 C374.2,246.6 373.9,245.0 373.7,243.4 C373.6,241.9 373.6,240.2 373.8,238.6 C374.0,237.0 374.8,234.7 375.0,233.9" fill="none" stroke="#f06a22" stroke-width="1.98"/>
<path d="M422.2,242.8 C422.0,244.4 421.6,246.0 421.1,247.6 C420.6,249.1 420.0,250.6 419.2,252.0 C418.5,253.4 417.7,254.8 416.8,256.1 C415.8,257.4 414.8,258.6 413.6,259.8 C412.4,260.9 411.0,261.9 409.6,262.7 C408.1,263.5 406.5,264.2 404.9,264.6 C403.2,265.0 401.5,265.1 399.8,265.1 C398.1,265.0 396.4,264.7 394.8,264.2 C393.2,263.8 391.7,263.1 390.2,262.4 C388.7,261.6 387.3,260.7 386.0,259.8 C384.7,258.8 383.4,257.7 382.3,256.5 C381.2,255.3 380.1,253.9 379.3,252.5 C378.5,251.0 377.8,249.4 377.3,247.8 C376.9,246.2 376.6,244.5 376.7,242.8 C376.7,241.1 377.0,239.4 377.4,237.8 C377.9,236.2 378.6,234.6 379.5,233.2 C380.3,231.8 381.4,230.4 382.5,229.3 C383.6,228.1 384.9,227.0 386.2,226.1 C387.5,225.1 388.9,224.3 390.4,223.7 C391.9,223.0 393.4,222.5 395.0,222.1 C396.5,221.7 398.2,221.5 399.8,221.4 C401.4,221.3 403.1,221.3 404.7,221.6 C406.4,221.8 408.1,222.2 409.6,222.8 C411.2,223.3 412.8,224.1 414.2,225.1 C415.7,226.0 417.0,227.2 418.1,228.5 C419.2,229.8 420.2,231.3 420.9,232.8 C421.6,234.4 422.0,236.1 422.2,237.8 C422.5,239.4 422.4,241.2 422.2,242.8Z" fill="none" stroke="#f0a030" stroke-width="1.98"/>
<path d="M419.3,242.8 C419.3,244.2 419.2,245.7 418.9,247.1 C418.7,248.5 418.2,249.9 417.6,251.2 C416.9,252.5 416.1,253.7 415.2,254.9 C414.3,256.0 413.2,257.0 412.1,257.9 C410.9,258.8 409.6,259.5 408.3,260.1 C407.0,260.7 405.5,261.1 404.1,261.4 C402.7,261.6 401.2,261.7 399.8,261.7 C398.4,261.6 396.9,261.4 395.5,261.1 C394.2,260.7 392.8,260.2 391.5,259.6 C390.3,259.0 389.0,258.3 387.9,257.4 C386.8,256.5 385.8,255.5 384.9,254.5 C384.0,253.4 383.2,252.2 382.5,251.0 C381.9,249.7 381.3,248.4 381.0,247.0 C380.6,245.7 380.4,244.2 380.3,242.8 C380.3,241.4 380.4,239.9 380.7,238.5 C381.0,237.1 381.5,235.7 382.1,234.4 C382.7,233.1 383.5,231.9 384.4,230.8 C385.3,229.6 386.4,228.6 387.5,227.7 C388.7,226.8 390.0,226.1 391.3,225.5 C392.6,224.9 394.0,224.4 395.5,224.2 C396.9,223.9 398.4,223.8 399.8,223.9 C401.2,223.9 402.7,224.1 404.1,224.5 C405.4,224.8 406.8,225.4 408.1,226.0 C409.3,226.6 410.5,227.4 411.6,228.2 C412.7,229.1 413.8,230.1 414.7,231.2 C415.6,232.2 416.4,233.4 417.1,234.7 C417.7,235.9 418.3,237.2 418.6,238.6 C419.0,239.9 419.2,241.4 419.3,242.8Z" fill="none" stroke="#e6c444" stroke-width="1.98"/>
<path d="M416.7,242.8 C416.7,244.0 416.6,245.3 416.3,246.5 C416.0,247.7 415.6,248.9 415.0,250.0 C414.4,251.1 413.7,252.1 412.9,253.0 C412.0,253.9 411.1,254.8 410.1,255.5 C409.1,256.2 408.0,256.8 406.9,257.3 C405.8,257.9 404.7,258.3 403.5,258.6 C402.3,258.9 401.0,259.2 399.8,259.2 C398.6,259.3 397.3,259.3 396.0,259.1 C394.8,258.9 393.5,258.6 392.3,258.1 C391.1,257.6 389.9,256.9 388.9,256.1 C387.9,255.4 387.0,254.4 386.3,253.4 C385.5,252.4 384.9,251.2 384.4,250.0 C384.0,248.9 383.7,247.6 383.5,246.4 C383.4,245.2 383.3,244.0 383.4,242.8 C383.5,241.6 383.7,240.4 384.0,239.3 C384.3,238.1 384.7,237.0 385.1,235.9 C385.6,234.8 386.2,233.7 386.9,232.7 C387.6,231.7 388.4,230.7 389.3,229.9 C390.2,229.1 391.3,228.3 392.4,227.7 C393.5,227.1 394.7,226.6 396.0,226.3 C397.2,226.0 398.5,225.9 399.8,225.9 C401.1,225.9 402.4,226.1 403.6,226.5 C404.8,226.8 406.0,227.3 407.1,227.9 C408.2,228.5 409.3,229.2 410.2,230.0 C411.2,230.8 412.0,231.7 412.8,232.6 C413.6,233.6 414.3,234.6 414.8,235.7 C415.4,236.8 415.9,237.9 416.2,239.1 C416.5,240.3 416.7,241.6 416.7,242.8Z" fill="none" stroke="#c6c878" stroke-width="1.76"/>
<path d="M414.2,242.8 C414.0,243.8 413.8,244.9 413.4,245.8 C413.1,246.8 412.7,247.8 412.2,248.7 C411.7,249.6 411.2,250.4 410.6,251.2 C410.0,252.0 409.3,252.8 408.5,253.5 C407.7,254.2 406.8,254.8 405.9,255.3 C405.0,255.8 404.0,256.1 403.0,256.4 C401.9,256.7 400.9,256.8 399.8,256.9 C398.7,256.9 397.6,256.8 396.6,256.7 C395.5,256.5 394.4,256.2 393.4,255.7 C392.4,255.3 391.5,254.8 390.6,254.1 C389.8,253.4 389.0,252.6 388.4,251.7 C387.7,250.9 387.2,249.9 386.9,248.9 C386.5,247.9 386.3,246.9 386.1,245.9 C386.0,244.8 386.0,243.8 386.0,242.8 C386.0,241.8 386.1,240.8 386.3,239.8 C386.5,238.8 386.7,237.8 387.1,236.8 C387.4,235.8 387.9,234.8 388.5,233.9 C389.0,233.1 389.8,232.2 390.6,231.5 C391.5,230.9 392.5,230.3 393.5,229.9 C394.5,229.5 395.6,229.3 396.6,229.2 C397.7,229.1 398.8,229.2 399.8,229.2 C400.8,229.3 401.8,229.5 402.9,229.7 C403.9,229.9 404.9,230.1 405.9,230.5 C406.8,230.8 407.9,231.2 408.8,231.7 C409.7,232.3 410.7,232.9 411.4,233.7 C412.2,234.5 412.8,235.4 413.3,236.4 C413.8,237.4 414.1,238.5 414.2,239.6 C414.4,240.6 414.3,241.8 414.2,242.8Z" fill="none" stroke="#a0c6c2" stroke-width="1.65"/>
<path d="M411.5,242.8 C411.5,243.6 411.5,244.5 411.4,245.4 C411.3,246.2 411.0,247.1 410.6,247.9 C410.3,248.7 409.8,249.5 409.2,250.2 C408.7,250.9 408.0,251.5 407.3,252.0 C406.6,252.5 405.8,253.0 405.0,253.3 C404.1,253.6 403.3,253.9 402.4,254.1 C401.6,254.2 400.7,254.3 399.8,254.2 C398.9,254.2 398.1,254.1 397.2,253.9 C396.4,253.7 395.6,253.3 394.8,253.0 C394.0,252.6 393.3,252.1 392.7,251.6 C392.0,251.1 391.4,250.5 390.8,249.8 C390.3,249.2 389.8,248.5 389.3,247.7 C388.9,247.0 388.6,246.2 388.3,245.4 C388.1,244.5 387.9,243.7 387.9,242.8 C387.9,241.9 388.0,241.0 388.2,240.2 C388.4,239.4 388.7,238.5 389.1,237.7 C389.5,237.0 390.0,236.3 390.6,235.6 C391.2,235.0 391.8,234.4 392.5,233.8 C393.2,233.3 393.9,232.8 394.7,232.5 C395.5,232.1 396.3,231.7 397.2,231.5 C398.0,231.3 398.9,231.2 399.8,231.1 C400.7,231.1 401.6,231.2 402.4,231.4 C403.3,231.6 404.2,232.0 404.9,232.4 C405.7,232.8 406.4,233.3 407.0,233.9 C407.7,234.5 408.2,235.2 408.7,235.8 C409.2,236.5 409.6,237.2 410.0,238.0 C410.4,238.7 410.7,239.5 411.0,240.3 C411.2,241.1 411.4,242.0 411.5,242.8Z" fill="none" stroke="#7ab6c4" stroke-width="1.65"/>
<path d="M409.3,242.8 C409.3,243.5 409.2,244.2 409.1,244.9 C408.9,245.5 408.6,246.2 408.3,246.8 C407.9,247.4 407.5,248.0 407.0,248.5 C406.6,249.0 406.1,249.4 405.5,249.8 C405.0,250.2 404.4,250.6 403.8,250.8 C403.1,251.1 402.5,251.3 401.8,251.4 C401.2,251.6 400.5,251.6 399.8,251.6 C399.1,251.6 398.5,251.5 397.8,251.4 C397.2,251.2 396.5,251.0 395.9,250.8 C395.3,250.5 394.7,250.2 394.1,249.8 C393.5,249.5 393.0,249.0 392.5,248.5 C392.0,248.0 391.6,247.4 391.3,246.8 C391.0,246.2 390.7,245.5 390.6,244.9 C390.5,244.2 390.5,243.5 390.6,242.8 C390.7,242.1 390.8,241.5 391.0,240.8 C391.2,240.2 391.5,239.6 391.8,239.0 C392.1,238.4 392.4,237.8 392.8,237.3 C393.1,236.7 393.6,236.2 394.0,235.7 C394.5,235.2 395.1,234.8 395.7,234.4 C396.3,234.1 397.0,233.8 397.7,233.7 C398.4,233.5 399.1,233.5 399.8,233.6 C400.5,233.6 401.2,233.9 401.8,234.1 C402.5,234.3 403.1,234.7 403.6,235.0 C404.2,235.3 404.7,235.7 405.2,236.1 C405.7,236.5 406.2,236.9 406.7,237.4 C407.2,237.9 407.6,238.4 408.0,238.9 C408.4,239.5 408.7,240.1 408.9,240.8 C409.1,241.4 409.3,242.1 409.3,242.8Z" fill="none" stroke="#5aa8bc" stroke-width="1.76"/>
<path d="M406.2,242.8 C406.1,243.0 406.2,243.7 406.1,244.1 C406.0,244.5 406.0,245.0 405.8,245.4 C405.7,245.8 405.6,246.3 405.3,246.7 C405.1,247.0 404.8,247.4 404.5,247.8 C404.2,248.1 403.8,248.4 403.4,248.7 C403.0,248.9 402.5,249.1 402.1,249.2 C401.6,249.3 401.1,249.4 400.7,249.4 C400.2,249.4 399.8,249.3 399.3,249.3 C398.9,249.2 398.4,249.1 398.0,248.9 C397.6,248.8 397.2,248.6 396.8,248.4 C396.4,248.2 396.0,248.0 395.6,247.7 C395.3,247.5 394.9,247.2 394.7,246.8 C394.4,246.5 394.1,246.1 393.9,245.7 C393.7,245.3 393.6,244.9 393.5,244.5 C393.4,244.0 393.3,243.6 393.3,243.2 C393.3,242.7 393.3,242.3 393.4,241.9 C393.5,241.4 393.6,241.0 393.7,240.6 C393.8,240.2 394.0,239.7 394.2,239.4 C394.4,239.0 394.7,238.6 395.0,238.2 C395.2,237.9 395.6,237.5 396.0,237.3 C396.3,237.0 396.7,236.8 397.2,236.6 C397.6,236.4 398.1,236.3 398.5,236.2 C399.0,236.2 399.5,236.1 399.9,236.2 C400.4,236.2 400.8,236.3 401.3,236.4 C401.7,236.5 402.2,236.7 402.6,236.9 C403.0,237.1 403.4,237.3 403.7,237.6 C404.1,237.9 404.4,238.2 404.7,238.5 C405.0,238.9 405.3,239.4 405.4,239.6" fill="none" stroke="#4aa0b8" stroke-width="1.54"/>
</g>
<defs><linearGradient id="ug11" x1="0" y1="0" x2="1" y2="0"><stop offset="0" stop-color="#a0ccd2"/><stop offset="0.45" stop-color="#78b6c4"/><stop offset="1" stop-color="#5aa4b8"/></linearGradient></defs>
<g filter="url(#soft)">
<path d="M507.6,216.1 C509.6,215.1 521.5,215.1 523.9,215.7 C526.3,216.3 530.1,220.7 531.3,222.2 C532.5,223.8 535.6,229.2 536.2,231.2 C536.9,233.2 537.6,240.0 537.8,241.9 C538.0,243.8 538.1,248.2 537.8,250.0 C537.5,251.8 535.6,258.2 534.6,259.9 C533.6,261.6 529.1,266.2 528.0,267.2 C526.9,268.2 524.0,269.8 523.1,269.7 C522.2,269.6 519.6,267.6 519.0,266.4 C518.4,265.3 517.6,259.2 517.0,258.2 C516.4,257.2 513.8,256.6 513.0,256.8 C512.2,257.0 509.5,260.5 509.0,260.3 C508.5,260.1 508.4,255.8 508.0,254.8 C507.6,253.9 505.9,251.1 505.0,250.8 C504.1,250.5 500.0,251.8 499.0,251.8 C498.0,251.8 495.9,251.3 495.0,250.8 C494.1,250.3 490.6,248.0 490.0,246.8 C489.4,245.6 488.9,240.4 488.8,238.8 C488.7,237.2 488.2,231.4 488.8,230.8 C489.4,230.2 493.8,232.8 495.0,232.8 C496.2,232.8 500.1,231.1 501.0,230.4 C501.9,229.7 503.6,226.9 504.3,225.5 C505.0,224.1 505.6,217.1 507.6,216.1Z" fill="#eef3ef"/>
<path d="M504.3,225.5 C505.2,223.6 506.0,217.4 507.6,216.1 C509.2,214.8 514.5,215.1 516.0,215.6 C517.5,216.1 519.0,218.7 519.0,219.8 C519.0,220.9 517.1,222.7 516.0,223.8 C514.9,224.9 512.5,226.6 511.0,227.8 C509.5,229.0 506.3,232.5 505.0,232.8 C503.7,233.1 501.1,231.4 501.0,230.4 C500.9,229.4 503.4,227.4 504.3,225.5Z" fill="#8cc0cc" opacity="0.75"/>
<path d="M507.6,216.1 C508.1,215.7 514.4,215.6 516.0,215.6 C517.6,215.6 522.4,215.0 523.9,215.7 C525.4,216.4 530.1,220.7 531.3,222.2 C532.5,223.8 535.6,229.2 536.2,231.2 C536.9,233.2 537.6,240.0 537.8,241.9 C538.0,243.8 538.1,248.2 537.8,250.0 C537.5,251.8 535.6,258.2 534.6,259.9 C533.6,261.6 529.1,266.2 528.0,267.2 C526.9,268.2 524.0,269.8 523.1,269.7 C522.2,269.6 519.7,267.6 519.0,266.4 C518.3,265.3 516.5,259.8 516.0,258.2 C515.5,256.6 514.5,251.7 514.5,250.0 C514.5,248.3 515.4,242.7 515.5,240.8 C515.6,238.9 516.1,232.6 516.0,230.8 C515.9,229.0 514.5,224.0 514.0,222.8 C513.5,221.7 511.6,220.0 511.0,219.3 C510.4,218.6 507.1,216.5 507.6,216.1Z" fill="url(#ug11)" opacity="0.95"/>
<path d="M488.8,230.8 C489.4,230.2 494.2,231.8 495.0,232.8 C495.8,233.8 496.9,239.2 497.0,240.8 C497.1,242.4 496.9,247.9 496.5,248.8 C496.1,249.8 493.6,250.5 493.0,250.3 C492.4,250.1 490.4,248.0 490.0,246.8 C489.6,245.7 488.9,240.4 488.8,238.8 C488.7,237.2 488.2,231.4 488.8,230.8Z" fill="#f09060" opacity="0.85"/>
<path d="M501.4,228.0 C501.6,228.1 503.2,234.6 503.5,234.8 C503.8,235.0 507.5,232.0 507.6,232.1 C507.8,232.3 506.4,237.4 506.5,237.8 C506.6,238.2 509.9,240.5 510.0,240.8 C510.1,241.1 507.9,243.4 508.0,243.8 C508.1,244.2 510.9,248.7 511.0,249.2 C511.1,249.8 509.6,254.3 509.5,254.8 C509.4,255.3 508.5,259.9 508.4,259.8 C508.2,259.7 506.8,253.2 506.5,252.8 C506.2,252.4 503.4,250.9 503.0,250.8 C502.6,250.8 499.3,251.9 499.0,251.8 C498.7,251.7 496.6,249.2 496.5,248.8 C496.4,248.4 496.3,243.4 496.1,242.8 C495.9,242.2 493.4,238.4 493.0,237.8 C492.6,237.2 488.7,230.9 488.8,230.8 C488.9,230.7 495.0,235.2 495.5,235.3 C496.0,235.5 498.2,234.2 498.5,233.8 C498.8,233.4 501.1,227.9 501.4,228.0Z" fill="#f05a20" opacity="0.75"/>
<ellipse cx="502.0" cy="240.8" rx="4.5" ry="5.5" fill="#f0a040" opacity="0.7"/>
<polyline points="493.5,248.8 493.2,255.8 492.9,262.3" fill="none" stroke="#f04418" stroke-width="2.6" stroke-linecap="round"/>
<polyline points="496.0,256.3 499.0,259.8 502.3,264.8" fill="none" stroke="#f04418" stroke-width="0.9"/>
</g>
<path id="spc3" d="M585.4,245.2 C585.2,245.3 584.6,245.7 584.2,245.8 C583.8,246.0 583.3,246.1 582.9,246.2 C582.4,246.2 582.0,246.2 581.5,246.2 C581.0,246.1 580.6,246.0 580.1,245.9 C579.7,245.8 579.2,245.6 578.7,245.4 C578.3,245.2 577.8,244.9 577.4,244.6 C577.0,244.2 576.7,243.8 576.4,243.4 C576.2,242.9 576.0,242.4 575.9,241.9 C575.8,241.3 575.8,240.8 575.8,240.3 C575.8,239.7 575.9,239.2 576.1,238.7 C576.3,238.2 576.5,237.6 576.8,237.2 C577.0,236.7 577.4,236.2 577.8,235.8 C578.2,235.4 578.7,235.0 579.2,234.7 C579.7,234.4 580.3,234.1 580.9,233.9 C581.4,233.7 582.1,233.6 582.7,233.6 C583.4,233.6 584.1,233.6 584.7,233.8 C585.3,233.9 586.0,234.2 586.5,234.6 C587.1,234.9 587.6,235.4 588.0,235.8 C588.5,236.3 588.8,236.8 589.2,237.4 C589.6,238.0 589.9,238.5 590.1,239.2 C590.4,239.8 590.6,240.5 590.8,241.2 C590.9,241.9 590.9,242.6 590.9,243.3 C590.8,244.1 590.6,244.8 590.3,245.5 C590.0,246.2 589.5,246.9 589.0,247.4 C588.5,248.0 587.9,248.6 587.2,249.0 C586.6,249.4 585.8,249.8 585.1,250.0 C584.3,250.3 583.5,250.4 582.7,250.4 C581.9,250.5 581.1,250.4 580.3,250.3 C579.6,250.2 578.8,250.0 578.0,249.8 C577.2,249.5 576.4,249.2 575.7,248.8 C575.0,248.4 574.2,247.9 573.6,247.3 C573.0,246.7 572.4,246.0 572.0,245.2 C571.6,244.5 571.4,243.6 571.3,242.7 C571.1,241.9 571.1,241.0 571.2,240.1 C571.3,239.3 571.6,238.4 571.9,237.6 C572.2,236.8 572.5,235.9 573.0,235.2 C573.5,234.4 574.1,233.7 574.7,233.1 C575.4,232.5 576.1,231.9 577.0,231.4 C577.8,230.9 578.7,230.6 579.6,230.3 C580.5,230.0 581.6,229.8 582.5,229.8 C583.5,229.8 584.6,229.9 585.5,230.2 C586.5,230.5 587.4,230.9 588.3,231.5 C589.1,232.0 589.9,232.7 590.5,233.5 C591.2,234.2 591.7,235.0 592.2,235.9 C592.7,236.7 593.2,237.6 593.6,238.5 C593.9,239.4 594.3,240.4 594.4,241.5 C594.6,242.5 594.7,243.6 594.5,244.7 C594.4,245.7 594.1,246.8 593.6,247.8 C593.1,248.8 592.4,249.8 591.7,250.6 C590.9,251.4 590.0,252.2 589.1,252.8 C588.1,253.4 587.0,253.9 585.9,254.2 C584.9,254.5 583.7,254.7 582.6,254.7 C581.4,254.8 580.3,254.7 579.2,254.5 C578.1,254.3 577.0,254.0 575.9,253.6 C574.8,253.3 573.7,252.8 572.7,252.2 C571.7,251.6 570.6,250.9 569.8,250.1 C568.9,249.2 568.2,248.2 567.6,247.1 C567.1,246.0 566.8,244.8 566.6,243.6 C566.5,242.4 566.5,241.2 566.7,240.0 C566.9,238.8 567.2,237.6 567.6,236.5 C568.0,235.3 568.6,234.2 569.3,233.2 C569.9,232.2 570.7,231.2 571.7,230.4 C572.6,229.5 573.6,228.7 574.7,228.1 C575.9,227.5 577.1,227.0 578.4,226.6 C579.6,226.3 581.0,226.1 582.3,226.1 C583.7,226.1 585.1,226.2 586.4,226.6 C587.7,227.0 588.9,227.7 590.1,228.4 C591.2,229.1 592.1,230.1 593.0,231.1 C593.9,232.1 594.6,233.2 595.3,234.3 C595.9,235.4 596.5,236.6 597.0,237.9 C597.5,239.1 597.9,240.4 598.1,241.8 C598.3,243.1 598.4,244.6 598.2,246.0 C598.0,247.4 597.5,248.8 596.9,250.1 C596.3,251.4 595.4,252.7 594.4,253.7 C593.4,254.8 592.2,255.8 590.9,256.6 C589.7,257.3 588.2,257.9 586.8,258.3 C585.4,258.7 583.9,258.9 582.4,259.0 C580.9,259.0 579.4,258.9 578.0,258.6 C576.6,258.4 575.1,258.0 573.7,257.5 C572.4,257.0 570.9,256.4 569.6,255.7 C568.3,254.9 567.0,253.9 566.0,252.8 C564.9,251.7 563.9,250.4 563.3,249.0 C562.6,247.6 562.2,246.0 562.0,244.5 C561.8,242.9 561.9,241.3 562.1,239.8 C562.4,238.3 562.8,236.8 563.4,235.4 C563.9,233.9 564.6,232.5 565.5,231.2 C566.4,229.9 567.4,228.7 568.6,227.6 C569.7,226.6 571.1,225.6 572.5,224.8 C574.0,224.1 575.5,223.4 577.1,223.0 C578.7,222.6 580.5,222.3 582.2,222.3 C583.8,222.3 585.6,222.6 587.2,223.1 C588.8,223.6 590.4,224.4 591.8,225.3 C593.2,226.3 594.4,227.5 595.5,228.7 C596.6,230.0 597.5,231.4 598.3,232.8 C599.1,234.2 599.9,235.7 600.5,237.2 C601.0,238.8 601.6,240.4 601.8,242.1 C602.0,243.8 602.1,245.6 601.8,247.3 C601.6,249.1 601.0,250.9 600.2,252.4 C599.4,254.0 598.3,255.6 597.1,256.9 C595.8,258.2 594.3,259.4 592.8,260.3 C591.2,261.3 589.4,262.0 587.7,262.5 C585.9,263.0 584.0,263.2 582.2,263.3 C580.4,263.3 578.6,263.1 576.8,262.8 C575.1,262.5 573.3,262.0 571.6,261.4 C569.9,260.7 568.2,260.0 566.6,259.1 C565.0,258.1 563.4,257.0 562.1,255.6 C560.8,254.2 559.7,252.6 558.9,250.9 C558.1,249.2 557.6,247.2 557.4,245.3 C557.2,243.5 557.3,241.5 557.6,239.7 C557.9,237.8 558.4,236.0 559.1,234.3 C559.8,232.5 560.7,230.8 561.7,229.2 C562.8,227.7 564.1,226.2 565.5,224.9 C566.9,223.6 568.6,222.5 570.3,221.5 C572.0,220.6 573.9,219.9 575.9,219.4 C577.8,218.9 579.9,218.6 582.0,218.6 C584.0,218.6 586.1,218.9 588.1,219.5 C590.0,220.1 591.9,221.1 593.6,222.2 C595.3,223.4 596.7,224.9 598.0,226.4 C599.3,227.9 600.4,229.5 601.4,231.2 C602.3,232.9 603.2,234.7 603.9,236.6 C604.6,238.4 605.2,240.4 605.5,242.4 C605.8,244.4 605.8,246.6 605.5,248.7 C605.2,250.7 604.5,252.9 603.5,254.8 C602.6,256.7 601.2,258.5 599.7,260.1 C598.3,261.6 596.5,263.0 594.6,264.1 C592.7,265.2 590.6,266.1 588.5,266.7 C586.5,267.2 584.2,267.5 582.1,267.6 C579.9,267.6 577.8,267.3 575.7,267.0 C573.6,266.6 571.5,266.0 569.5,265.2 C567.5,264.5 565.4,263.6 563.6,262.5 C561.7,261.3 559.8,260.0 558.3,258.3 C556.8,256.7 555.4,254.8 554.5,252.7 C553.6,250.7 553.0,248.4 552.8,246.2 C552.5,244.0 552.7,241.7 553.1,239.5 C553.4,237.4 554.0,235.2 554.9,233.1 C555.7,231.1 556.7,229.1 558.0,227.3 C559.2,225.4 560.7,223.7 562.4,222.2 C564.1,220.7 566.1,219.3 568.1,218.3 C570.1,217.2 572.4,216.3 574.6,215.7 C576.9,215.2 580.6,215.0 581.8,214.8" fill="none"/>
<g filter="url(#spk)">
<use href="#spc3" stroke="#62aabe" stroke-width="3.6" opacity="0.85"/>
<use href="#spc3" stroke="#e8603a" stroke-width="0.8"/>
</g>
<g clip-path="url(#tc3)"><g filter="url(#spk2)">
<path d="M608.7,212.8 C612.5,214.1 624.5,218.3 631.7,220.8 C638.9,223.3 643.5,225.3 651.7,227.8 C659.9,230.3 675.9,234.5 680.7,235.8" fill="none" stroke="#3d9ab5" stroke-width="10" stroke-linecap="round" stroke-linejoin="round"/>
<path d="M608.7,212.8 C612.5,214.1 624.5,218.3 631.7,220.8 C638.9,223.3 643.5,225.3 651.7,227.8 C659.9,230.3 675.9,234.5 680.7,235.8" fill="none" stroke="#fff" stroke-width="4.0" stroke-linecap="round" opacity="0.6"/>
<path d="M619.7,224.8 C618.9,227.0 616.2,233.5 614.7,237.8 C613.2,242.1 611.4,248.6 610.7,250.8" fill="none" stroke="#3d9ab5" stroke-width="7.4" stroke-linecap="round" stroke-linejoin="round"/>
<path d="M619.7,224.8 C618.9,227.0 616.2,233.5 614.7,237.8 C613.2,242.1 611.4,248.6 610.7,250.8" fill="none" stroke="#fff" stroke-width="3.5999999999999996" stroke-linecap="round" stroke-linejoin="round"/>
<path d="M619.7,224.8 C618.9,227.0 616.2,233.5 614.7,237.8 C613.2,242.1 611.4,248.6 610.7,250.8" fill="none" stroke="#ebcc2a" stroke-width="2.4000000000000004" stroke-linecap="round" stroke-linejoin="round"/>
<path d="M619.7,224.8 C618.9,227.0 616.2,233.5 614.7,237.8 C613.2,242.1 611.4,248.6 610.7,250.8" fill="none" stroke="#f03a10" stroke-width="1.2000000000000002" stroke-linecap="round"/>
<path d="M633.7,238.8 C632.9,241.1 630.4,248.3 628.7,252.8 C627.0,257.3 624.5,263.6 623.7,265.8" fill="none" stroke="#3d9ab5" stroke-width="6.9" stroke-linecap="round" stroke-linejoin="round"/>
<path d="M633.7,238.8 C632.9,241.1 630.4,248.3 628.7,252.8 C627.0,257.3 624.5,263.6 623.7,265.8" fill="none" stroke="#fff" stroke-width="3.3" stroke-linecap="round" stroke-linejoin="round"/>
<path d="M633.7,238.8 C632.9,241.1 630.4,248.3 628.7,252.8 C627.0,257.3 624.5,263.6 623.7,265.8" fill="none" stroke="#ebcc2a" stroke-width="2.2" stroke-linecap="round" stroke-linejoin="round"/>
<path d="M633.7,238.8 C632.9,241.1 630.4,248.3 628.7,252.8 C627.0,257.3 624.5,263.6 623.7,265.8" fill="none" stroke="#f03a10" stroke-width="1.1" stroke-linecap="round"/>
<path d="M666.7,242.8 C666.2,245.5 664.9,253.1 663.7,258.8 C662.5,264.5 660.4,273.8 659.7,276.8" fill="none" stroke="#3d9ab5" stroke-width="6.4" stroke-linecap="round" stroke-linejoin="round"/>
<path d="M666.7,242.8 C666.2,245.5 664.9,253.1 663.7,258.8 C662.5,264.5 660.4,273.8 659.7,276.8" fill="none" stroke="#fff" stroke-width="3.0" stroke-linecap="round" stroke-linejoin="round"/>
<path d="M666.7,242.8 C666.2,245.5 664.9,253.1 663.7,258.8 C662.5,264.5 660.4,273.8 659.7,276.8" fill="none" stroke="#ebcc2a" stroke-width="2.0" stroke-linecap="round" stroke-linejoin="round"/>
<path d="M666.7,242.8 C666.2,245.5 664.9,253.1 663.7,258.8 C662.5,264.5 660.4,273.8 659.7,276.8" fill="none" stroke="#f03a10" stroke-width="1.0" stroke-linecap="round"/>
<path d="M677.7,255.8 L674.7,276.8" fill="none" stroke="#3d9ab5" stroke-width="5.4" stroke-linecap="round" stroke-linejoin="round"/>
<path d="M677.7,255.8 L674.7,276.8" fill="none" stroke="#fff" stroke-width="2.4" stroke-linecap="round" stroke-linejoin="round"/>
<path d="M677.7,255.8 L674.7,276.8" fill="none" stroke="#ebcc2a" stroke-width="1.6" stroke-linecap="round" stroke-linejoin="round"/>
<path d="M677.7,255.8 L674.7,276.8" fill="none" stroke="#f03a10" stroke-width="0.8" stroke-linecap="round"/>
<path d="M661.7,215.8 L668.7,219.8" fill="none" stroke="#3d9ab5" stroke-width="5.4" stroke-linecap="round" stroke-linejoin="round"/>
<path d="M661.7,215.8 L668.7,219.8" fill="none" stroke="#fff" stroke-width="2.4" stroke-linecap="round" stroke-linejoin="round"/>
<path d="M661.7,215.8 L668.7,219.8" fill="none" stroke="#ebcc2a" stroke-width="1.6" stroke-linecap="round" stroke-linejoin="round"/>
<path d="M661.7,215.8 L668.7,219.8" fill="none" stroke="#f03a10" stroke-width="0.8" stroke-linecap="round"/>
<path d="M608.7,212.8 C612.5,214.1 624.5,218.3 631.7,220.8 C638.9,223.3 643.5,225.3 651.7,227.8 C659.9,230.3 675.9,234.5 680.7,235.8" fill="none" stroke="#f04010" stroke-width="1.3" stroke-dasharray="1.5 1" transform="translate(-4.0,4.0)"/>
</g></g>
<line x1="570.4" y1="257.4" x2="611.7" y2="210.8" stroke="#333" stroke-width="0.45"/>
<line x1="570.4" y1="260.8" x2="611.7" y2="276.0" stroke="#333" stroke-width="0.45"/>
<rect x="567.0" y="257.4" width="3.4" height="3.4" fill="none" stroke="#222" stroke-width="0.7"/>
<line x1="38.50" y1="17.00" x2="238.40" y2="17.00" stroke="#8a8a8a" stroke-width="1.3"/>
<line x1="38.50" y1="81.50" x2="238.40" y2="81.50" stroke="#8a8a8a" stroke-width="1.3"/>
<line x1="38.50" y1="146.00" x2="238.40" y2="146.00" stroke="#8a8a8a" stroke-width="1.3"/>
<line x1="38.50" y1="210.80" x2="238.40" y2="210.80" stroke="#8a8a8a" stroke-width="1.3"/>
<line x1="38.50" y1="276.00" x2="238.40" y2="276.00" stroke="#8a8a8a" stroke-width="1.3"/>
<line x1="38.50" y1="17.00" x2="38.50" y2="276.00" stroke="#8a8a8a" stroke-width="1.3"/>
<line x1="104.60" y1="17.00" x2="104.60" y2="276.00" stroke="#8a8a8a" stroke-width="1.3"/>
<line x1="171.50" y1="17.00" x2="171.50" y2="276.00" stroke="#8a8a8a" stroke-width="1.3"/>
<line x1="238.40" y1="17.00" x2="238.40" y2="276.00" stroke="#8a8a8a" stroke-width="1.3"/>
<line x1="297.50" y1="17.00" x2="428.60" y2="17.00" stroke="#8a8a8a" stroke-width="1.3"/>
<line x1="297.50" y1="81.50" x2="428.60" y2="81.50" stroke="#8a8a8a" stroke-width="1.3"/>
<line x1="297.50" y1="146.00" x2="428.60" y2="146.00" stroke="#8a8a8a" stroke-width="1.3"/>
<line x1="297.50" y1="210.80" x2="428.60" y2="210.80" stroke="#8a8a8a" stroke-width="1.3"/>
<line x1="297.50" y1="276.00" x2="428.60" y2="276.00" stroke="#8a8a8a" stroke-width="1.3"/>
<line x1="297.50" y1="17.00" x2="297.50" y2="276.00" stroke="#8a8a8a" stroke-width="1.3"/>
<line x1="362.80" y1="17.00" x2="362.80" y2="276.00" stroke="#8a8a8a" stroke-width="1.3"/>
<line x1="428.60" y1="17.00" x2="428.60" y2="276.00" stroke="#8a8a8a" stroke-width="1.3"/>
<line x1="481.50" y1="17.00" x2="676.80" y2="17.00" stroke="#8a8a8a" stroke-width="1.3"/>
<line x1="481.50" y1="81.50" x2="676.80" y2="81.50" stroke="#8a8a8a" stroke-width="1.3"/>
<line x1="481.50" y1="146.00" x2="676.80" y2="146.00" stroke="#8a8a8a" stroke-width="1.3"/>
<line x1="481.50" y1="210.80" x2="676.80" y2="210.80" stroke="#8a8a8a" stroke-width="1.3"/>
<line x1="481.50" y1="276.00" x2="676.80" y2="276.00" stroke="#8a8a8a" stroke-width="1.3"/>
<line x1="481.50" y1="17.00" x2="481.50" y2="276.00" stroke="#8a8a8a" stroke-width="1.3"/>
<line x1="546.10" y1="17.00" x2="546.10" y2="276.00" stroke="#8a8a8a" stroke-width="1.3"/>
<line x1="611.70" y1="17.00" x2="611.70" y2="276.00" stroke="#8a8a8a" stroke-width="1.3"/>
<line x1="676.80" y1="17.00" x2="676.80" y2="276.00" stroke="#8a8a8a" stroke-width="1.3"/>
<rect x="38.50" y="276.60" width="199.90" height="7.60" fill="url(#zis)"/>
<line x1="38.50" y1="276.40" x2="238.40" y2="276.40" stroke="#777" stroke-width="1.2"/>
<rect x="297.50" y="276.60" width="131.10" height="7.60" fill="url(#zis)"/>
<line x1="297.50" y1="276.40" x2="428.60" y2="276.40" stroke="#777" stroke-width="1.2"/>
<rect x="481.50" y="276.60" width="195.30" height="7.60" fill="url(#zis)"/>
<line x1="481.50" y1="276.40" x2="676.80" y2="276.40" stroke="#777" stroke-width="1.2"/>
<text x="0.00" y="8.60" font-weight="bold" fill="#000" font-size="13">a</text>
<text x="265.50" y="8.60" font-weight="bold" fill="#000" font-size="13">b</text>
<text x="450.00" y="8.60" font-weight="bold" fill="#000" font-size="13">c</text>
<text x="141.50" y="11.70" text-anchor="middle" font-size="9.2">Crypt–villus axis</text>
<text x="363.00" y="11.70" text-anchor="middle" font-size="9.2">Longitudinal axis</text>
<text x="580.00" y="11.70" text-anchor="middle" font-size="9.2">Epithelial axis</text>
<text x="35.40" y="54.25" text-anchor="end">6</text>
<text x="35.40" y="118.75" text-anchor="end">8</text>
<text x="35.40" y="183.40" text-anchor="end">30</text>
<text x="35.40" y="248.40" text-anchor="end">90</text>
<text transform="translate(16.60,145.80) rotate(-90)" text-anchor="middle">Time (d.p.i.)</text>
<text x="293.20" y="54.25" text-anchor="end">6</text>
<text x="293.20" y="118.75" text-anchor="end">8</text>
<text x="293.20" y="183.40" text-anchor="end">30</text>
<text x="293.20" y="248.40" text-anchor="end">90</text>
<text transform="translate(274.40,145.80) rotate(-90)" text-anchor="middle">Time (d.p.i.)</text>
<text x="478.40" y="54.25" text-anchor="end">6</text>
<text x="478.40" y="118.75" text-anchor="end">8</text>
<text x="478.40" y="183.40" text-anchor="end">30</text>
<text x="478.40" y="248.40" text-anchor="end">90</text>
<text transform="translate(456.60,145.80) rotate(-90)" text-anchor="middle">Time (d.p.i.)</text>
<text x="37.80" y="296.80">Bottom</text>
<text x="239.40" y="296.80" text-anchor="end">Top</text>
<text x="297.60" y="296.80">Proximal</text>
<text x="428.40" y="296.80" text-anchor="end">Distal</text>
<text x="481.00" y="296.80">IE</text>
<text x="678.00" y="296.80" text-anchor="end">LP</text>
<text x="0.00" y="316.00" font-weight="bold" fill="#000" font-size="13">d</text>
<text x="13.70" y="334.30">Time (d.p.i.):</text>
<text x="74.50" y="334.30" text-anchor="middle">6</text>
<text x="135.90" y="334.30" text-anchor="middle">8</text>
<text x="195.50" y="334.30" text-anchor="middle">30</text>
<text x="256.70" y="334.30" text-anchor="middle">90</text>
<rect x="46.40" y="339.40" width="55.20" height="64.80" fill="#fff"/>
<g clip-path="url(#dcl0)">
<path d="M51.4,372.4 L51.4,340.8 L87.7,340.8 L87.7,359.6Z" fill="#c9e2e9"/>
<path d="M51.4,402.8 L51.4,372.4 L87.7,359.6 L87.7,388.5 L57.8,402.8Z" fill="#f8c8c2"/>
<path d="M57.8,402.8 L87.7,388.5 L96.8,388.5 L96.8,402.8Z" fill="#e8ebd3"/>
<path d="M96.8,388.5 L87.7,388.5 L87.7,340.8 L51.4,340.8 L51.4,402.8 L96.8,402.8 Z" fill="none" stroke="#8a8a8a" stroke-width="0.6"/>
<path d="M55.9,346.3 C57.1,343.5 62.3,344.5 65.0,344.4 C67.7,344.4 73.6,345.2 76.4,345.6 C79.2,346.1 84.3,346.1 85.9,348.1 C87.5,350.0 88.0,357.0 88.6,360.2 C89.2,363.5 90.0,369.6 90.4,372.4 C90.9,375.2 91.5,379.3 92.3,380.9 C93.0,382.5 95.3,383.1 95.9,384.6 C96.5,386.0 96.9,390.0 96.8,391.9 C96.7,393.7 96.6,397.4 95.4,398.5 C94.2,399.7 90.6,400.2 87.7,400.4 C84.9,400.5 77.7,400.0 74.1,399.8 C70.5,399.5 63.5,399.3 60.5,398.5 C57.5,397.8 52.6,396.6 51.4,394.3 C50.2,391.9 51.0,383.2 51.4,380.9 C51.8,378.6 53.9,379.4 54.6,377.3 C55.2,375.2 56.2,369.2 56.4,365.1 C56.6,361.0 54.8,349.0 55.9,346.3Z" fill="#452a76" opacity="0.88"/>
<path d="M48.0 379.8h1v1h-1zM53.9 364.7h1v1h-1zM51.1 380.2h1v1h-1zM63.5 345.5h1v1h-1zM88.0 374.8h1v1h-1zM65.5 343.2h1v1h-1zM50.3 378.7h1v1h-1zM94.5 386.2h1v1h-1zM50.4 382.5h1v1h-1zM76.0 347.2h1v1h-1zM97.7 398.1h1v1h-1zM86.9 349.6h1v1h-1zM56.9 342.2h1v1h-1zM62.3 398.8h1v1h-1zM92.5 382.3h1v1h-1zM89.6 400.2h1v1h-1zM88.6 359.4h1v1h-1zM55.6 375.2h1v1h-1zM95.4 381.2h1v1h-1zM61.9 397.3h1v1h-1zM100.0 395.6h1v1h-1zM56.4 344.5h1v1h-1zM86.9 347.8h1v1h-1zM56.2 347.9h1v1h-1zM77.5 345.1h1v1h-1zM54.5 347.3h1v1h-1zM55.1 378.1h1v1h-1zM88.1 359.0h1v1h-1zM93.7 378.8h1v1h-1zM62.3 400.2h1v1h-1zM87.6 346.7h1v1h-1zM60.3 395.1h1v1h-1zM91.3 399.1h1v1h-1zM88.9 357.9h1v1h-1zM75.6 341.6h1v1h-1zM57.6 345.5h1v1h-1zM65.8 342.9h1v1h-1zM89.5 359.7h1v1h-1zM86.2 402.7h1v1h-1zM85.1 362.5h1v1h-1zM72.7 404.2h1v1h-1zM73.4 345.3h1v1h-1zM78.4 344.6h1v1h-1zM89.7 364.1h1v1h-1zM57.6 379.4h1v1h-1zM57.5 348.1h1v1h-1zM60.3 398.3h1v1h-1zM72.7 350.1h1v1h-1zM85.5 398.5h1v1h-1zM49.2 380.4h1v1h-1zM58.8 364.6h1v1h-1zM96.7 384.8h1v1h-1zM54.6 377.0h1v1h-1zM89.2 381.3h1v1h-1zM50.0 380.9h1v1h-1zM97.4 390.0h1v1h-1zM93.6 382.1h1v1h-1zM88.0 399.4h1v1h-1zM63.9 348.8h1v1h-1zM92.0 371.1h1v1h-1zM49.8 392.8h1v1h-1zM49.9 377.8h1v1h-1zM64.4 345.8h1v1h-1zM54.8 347.7h1v1h-1zM96.9 390.9h1v1h-1zM83.5 347.2h1v1h-1zM76.8 400.5h1v1h-1zM54.5 374.4h1v1h-1zM65.6 343.1h1v1h-1zM50.2 365.1h1v1h-1z" fill="#4b2a7a"/>
<path d="M76.4 342.1 73.6 341.8 70.9 342.9 68.1 345.6 65.9 349.5 63.8 358.2 64.0 371.8 63.3 375.5 61.6 377.2 53.3 382.1 50.3 386.6 50.5 390.3 52.4 393.4 56.1 396.2 61.6 398.3 72.7 399.6 87.5 397.4 93.0 395.6 95.6 392.8 95.4 391.6 94.0 389.7 86.7 385.4 84.8 381.7 83.9 376.7 85.2 361.9 84.2 353.2 81.0 345.8 79.2 343.7Z" fill="#472d7b" stroke="#333" stroke-width="0.3" stroke-opacity="0.6"/>
<path d="M76.4 345.4 73.6 345.1 70.9 346.4 68.4 349.5 66.8 353.2 65.6 360.7 66.4 373.0 65.7 376.7 64.6 378.0 57.0 382.2 53.8 386.6 53.7 389.1 55.2 392.0 57.9 394.3 62.6 396.2 71.8 397.3 85.6 395.9 90.3 394.6 92.1 392.8 90.9 390.3 84.3 386.6 82.4 382.9 81.5 376.7 83.2 364.4 83.0 356.9 80.6 349.5 78.8 347.0Z" fill="#3e4a89" stroke="#333" stroke-width="0.3" stroke-opacity="0.6"/>
<path d="M74.6 348.2 72.7 348.6 70.3 350.8 67.8 356.9 67.4 364.4 68.8 376.7 66.5 379.2 59.8 382.2 57.6 384.1 56.4 386.6 56.4 389.1 58.0 391.6 60.7 393.6 64.4 394.8 72.7 395.2 84.1 394.0 87.4 392.8 87.3 391.6 81.8 387.9 79.3 381.7 78.7 376.7 81.2 365.6 81.3 358.2 80.5 354.5 78.7 350.8 76.4 348.6Z" fill="#38598c" stroke="#333" stroke-width="0.3" stroke-opacity="0.6"/>
<path d="M73.6 380.0 65.3 380.9 60.7 383.1 58.2 386.6 59.2 390.3 62.6 392.7 67.2 393.8 71.8 393.4 77.1 391.6 78.3 389.1 77.7 385.4 75.5 381.5Z" fill="#31688e" stroke="#333" stroke-width="0.3" stroke-opacity="0.6"/>
<path d="M75.5 351.9 73.6 351.9 71.8 353.2 70.3 355.7 69.5 359.4 70.3 368.1 71.8 371.9 73.6 373.9 75.5 373.4 77.3 370.8 79.4 363.1 78.6 355.7 77.3 353.3Z" fill="#31688e" stroke="#333" stroke-width="0.3" stroke-opacity="0.6"/>
<path d="M72.7 382.6 68.1 381.7 63.5 382.6 60.0 385.4 60.0 389.1 61.6 390.9 65.3 392.4 69.0 392.5 72.7 391.4 74.6 390.1 75.6 387.9 75.3 385.4Z" fill="#26828e" stroke="#333" stroke-width="0.3" stroke-opacity="0.6"/>
<path d="M74.6 356.8 72.7 358.3 72.2 361.9 72.7 364.6 74.6 366.1 76.1 364.4 76.7 360.7 76.1 358.2Z" fill="#26828e" stroke="#333" stroke-width="0.3" stroke-opacity="0.6"/>
<path d="M69.0 382.8 65.3 382.9 62.6 384.2 60.9 386.6 61.6 389.2 64.4 391.1 67.2 391.5 69.9 391.2 72.7 389.6 73.7 387.9 73.3 385.4 71.8 383.8Z" fill="#1f9e89" stroke="#333" stroke-width="0.3" stroke-opacity="0.6"/>
<path d="M69.9 384.0 67.2 383.5 64.4 384.1 62.7 385.4 62.1 387.9 63.5 389.6 65.3 390.4 69.9 390.1 71.8 388.5 72.3 386.6Z" fill="#35b779" stroke="#333" stroke-width="0.3" stroke-opacity="0.6"/>
<path d="M69.9 385.1 68.1 384.4 65.3 384.6 63.5 386.1 63.3 387.9 65.3 389.6 69.0 389.5 70.9 387.9 71.1 386.6Z" fill="#6ece58" stroke="#333" stroke-width="0.3" stroke-opacity="0.6"/>
<path d="M68.1 385.1 65.2 385.4 64.1 386.6 64.3 387.9 66.3 389.1 69.0 388.6 70.0 386.6Z" fill="#b5de2b" stroke="#333" stroke-width="0.3" stroke-opacity="0.6"/>
<path d="M69.0 386.4 66.3 385.6 64.8 386.6 65.0 387.9 68.1 388.4 69.0 387.9Z" fill="#fde725" stroke="#333" stroke-width="0.3" stroke-opacity="0.6"/>
<line x1="51.4" y1="372.4" x2="87.7" y2="359.6" stroke="#3a3a3a" stroke-width="1.1"/>
<line x1="57.8" y1="402.8" x2="87.7" y2="388.5" stroke="#3a3a3a" stroke-width="0.94"/>
</g>
<rect x="46.40" y="339.40" width="55.20" height="64.80" fill="none" stroke="#8c8c8c" stroke-width="0.9"/>
<line x1="51.40" y1="404.20" x2="51.40" y2="407.00" stroke="#555" stroke-width="0.7"/>
<line x1="64.88" y1="404.20" x2="64.88" y2="407.00" stroke="#555" stroke-width="0.7"/>
<line x1="81.50" y1="404.20" x2="81.50" y2="407.00" stroke="#555" stroke-width="0.7"/>
<line x1="90.26" y1="404.20" x2="90.26" y2="407.00" stroke="#555" stroke-width="0.7"/>
<line x1="96.80" y1="404.20" x2="96.80" y2="407.00" stroke="#555" stroke-width="0.7"/>
<line x1="43.20" y1="402.80" x2="46.40" y2="402.80" stroke="#555" stroke-width="0.7"/>
<line x1="43.20" y1="390.64" x2="46.40" y2="390.64" stroke="#555" stroke-width="0.7"/>
<line x1="43.20" y1="378.48" x2="46.40" y2="378.48" stroke="#555" stroke-width="0.7"/>
<line x1="43.20" y1="366.32" x2="46.40" y2="366.32" stroke="#555" stroke-width="0.7"/>
<line x1="43.20" y1="354.16" x2="46.40" y2="354.16" stroke="#555" stroke-width="0.7"/>
<line x1="43.20" y1="342.00" x2="46.40" y2="342.00" stroke="#555" stroke-width="0.7"/>
<text transform="translate(55.40,417.20) rotate(-45)" text-anchor="end" font-size="9.4">0.15</text>
<text transform="translate(68.88,417.20) rotate(-45)" text-anchor="end" font-size="9.4">0.3</text>
<text transform="translate(85.50,417.20) rotate(-45)" text-anchor="end" font-size="9.4">0.6</text>
<text transform="translate(94.26,417.20) rotate(-45)" text-anchor="end" font-size="9.4">1</text>
<text transform="translate(100.80,417.20) rotate(-45)" text-anchor="end" font-size="9.4">6</text>
<rect x="107.80" y="339.40" width="55.20" height="64.80" fill="#fff"/>
<g clip-path="url(#dcl1)">
<path d="M112.8,372.4 L112.8,340.8 L149.1,340.8 L149.1,359.6Z" fill="#c9e2e9"/>
<path d="M112.8,402.8 L112.8,372.4 L149.1,359.6 L149.1,388.5 L119.2,402.8Z" fill="#f8c8c2"/>
<path d="M119.2,402.8 L149.1,388.5 L158.2,388.5 L158.2,402.8Z" fill="#e8ebd3"/>
<path d="M158.2,388.5 L149.1,388.5 L149.1,340.8 L112.8,340.8 L112.8,402.8 L158.2,402.8 Z" fill="none" stroke="#8a8a8a" stroke-width="0.6"/>
<path d="M118.2,348.1 C119.5,346.5 123.8,345.5 126.4,345.0 C129.0,344.6 134.9,344.2 137.8,344.4 C140.7,344.7 146.4,344.8 148.2,346.9 C150.0,349.0 150.8,356.8 151.4,360.2 C152.0,363.6 152.1,369.6 152.8,372.4 C153.4,375.2 155.2,379.1 155.9,381.5 C156.7,384.0 158.2,388.4 158.2,390.6 C158.2,392.9 157.7,397.3 155.9,398.5 C154.1,399.8 147.9,399.7 144.6,399.8 C141.3,399.8 134.6,399.6 131.0,399.2 C127.3,398.7 119.8,397.9 117.3,396.7 C114.9,395.6 113.4,393.1 112.8,390.6 C112.2,388.2 112.3,381.3 112.8,378.5 C113.3,375.6 115.8,372.2 116.4,369.4 C117.0,366.5 117.1,360.0 117.3,357.2 C117.6,354.4 117.0,349.7 118.2,348.1Z" fill="#452a76" opacity="0.88"/>
<path d="M161.8 388.4h1v1h-1zM150.2 359.9h1v1h-1zM116.6 346.4h1v1h-1zM128.4 398.6h1v1h-1zM149.1 343.1h1v1h-1zM141.5 400.5h1v1h-1zM117.8 347.5h1v1h-1zM113.0 380.6h1v1h-1zM137.3 344.2h1v1h-1zM144.0 358.8h1v1h-1zM118.4 370.1h1v1h-1zM137.9 346.4h1v1h-1zM149.3 372.9h1v1h-1zM142.4 403.8h1v1h-1zM155.6 380.6h1v1h-1zM154.8 399.1h1v1h-1zM117.9 348.3h1v1h-1zM107.5 392.1h1v1h-1zM137.5 345.1h1v1h-1zM115.7 380.0h1v1h-1zM157.3 390.5h1v1h-1zM116.5 357.3h1v1h-1zM119.1 348.5h1v1h-1zM119.3 347.8h1v1h-1zM143.8 398.2h1v1h-1zM145.8 346.9h1v1h-1zM155.4 401.3h1v1h-1zM116.9 346.8h1v1h-1zM149.2 373.3h1v1h-1zM152.4 382.2h1v1h-1zM151.7 357.3h1v1h-1zM152.1 370.9h1v1h-1zM156.1 382.7h1v1h-1zM158.7 390.1h1v1h-1zM113.7 380.1h1v1h-1zM152.2 357.8h1v1h-1zM149.0 344.2h1v1h-1zM119.0 395.3h1v1h-1zM156.6 383.5h1v1h-1zM118.0 356.3h1v1h-1zM156.9 372.7h1v1h-1zM128.2 343.0h1v1h-1zM147.3 345.1h1v1h-1zM113.2 376.8h1v1h-1zM127.1 346.0h1v1h-1zM116.3 396.0h1v1h-1zM117.9 347.4h1v1h-1zM111.7 391.1h1v1h-1zM131.4 400.5h1v1h-1zM153.5 374.1h1v1h-1zM117.7 399.8h1v1h-1zM154.3 371.7h1v1h-1zM122.5 351.7h1v1h-1zM126.9 340.7h1v1h-1zM131.4 397.3h1v1h-1zM131.8 339.5h1v1h-1zM148.6 352.0h1v1h-1zM148.1 348.3h1v1h-1zM126.6 347.7h1v1h-1zM155.9 394.6h1v1h-1zM115.1 379.0h1v1h-1zM116.7 370.0h1v1h-1zM123.2 342.2h1v1h-1zM154.2 374.2h1v1h-1zM114.6 379.1h1v1h-1zM143.6 398.6h1v1h-1zM143.0 402.4h1v1h-1zM156.0 392.0h1v1h-1zM114.3 390.1h1v1h-1zM134.5 397.4h1v1h-1z" fill="#4b2a7a"/>
<path d="M137.8 340.8 135.0 340.7 132.3 342.2 129.5 345.4 127.3 349.5 125.1 359.4 125.3 379.2 124.2 381.7 120.6 385.4 119.7 387.9 120.2 390.3 122.1 392.5 129.4 396.5 133.2 400.0 136.0 401.3 139.7 400.0 143.8 394.0 146.8 385.4 147.7 374.3 147.4 361.9 145.7 352.0 142.4 344.7 140.6 342.5Z" fill="#472d7b" stroke="#333" stroke-width="0.3" stroke-opacity="0.6"/>
<path d="M138.7 345.7 136.0 344.9 133.2 345.8 130.4 348.5 128.5 352.0 126.8 360.7 127.7 380.4 122.5 385.4 121.4 387.9 122.1 390.3 124.9 392.7 135.0 395.4 138.7 394.6 141.5 392.0 144.9 386.6 145.8 382.9 145.8 366.8 144.8 356.9 142.4 349.9Z" fill="#3e4a89" stroke="#333" stroke-width="0.3" stroke-opacity="0.6"/>
<path d="M136.9 348.2 134.1 348.5 132.3 349.7 129.9 353.2 128.8 356.9 128.5 363.1 130.5 380.4 129.5 382.2 124.6 385.4 123.1 387.9 123.3 389.1 124.9 391.1 128.6 392.6 134.1 392.6 140.6 390.0 143.3 387.3 144.7 384.1 144.6 369.3 143.1 356.9 140.6 351.0Z" fill="#38598c" stroke="#333" stroke-width="0.3" stroke-opacity="0.6"/>
<path d="M137.8 351.5 135.0 351.0 133.2 351.9 130.5 356.9 130.2 363.1 133.5 378.0 132.3 383.4 126.7 385.8 125.1 387.9 125.8 389.7 128.6 391.1 132.3 391.0 136.0 389.4 140.6 388.6 142.4 387.1 143.9 384.1 143.8 370.5 142.8 363.1 140.9 355.7Z" fill="#31688e" stroke="#333" stroke-width="0.3" stroke-opacity="0.6"/>
<path d="M131.3 387.6 129.5 387.2 128.3 387.9 129.5 389.0Z" fill="#26828e" stroke="#333" stroke-width="0.3" stroke-opacity="0.6"/>
<path d="M136.9 354.1 135.0 353.9 133.2 355.4 131.9 360.7 132.5 364.4 135.0 369.5 135.8 374.3 135.8 376.7 134.3 381.7 134.3 385.4 136.0 387.2 138.7 387.9 141.5 386.9 143.2 384.1 143.1 371.8 140.6 360.2 138.7 355.9Z" fill="#26828e" stroke="#333" stroke-width="0.3" stroke-opacity="0.6"/>
<path d="M138.7 362.9 137.8 362.3 137.1 363.1 137.0 376.7 135.2 382.9 136.0 385.4 138.7 386.9 141.8 385.4 142.9 381.7 141.7 368.1 140.6 365.0Z" fill="#1f9e89" stroke="#333" stroke-width="0.3" stroke-opacity="0.6"/>
<path d="M136.9 360.5 136.0 359.5 135.6 360.7 136.9 362.6Z" fill="#1f9e89" stroke="#333" stroke-width="0.3" stroke-opacity="0.6"/>
<path d="M139.7 367.8 138.6 369.3 138.2 376.7 136.1 382.9 136.9 384.9 138.7 386.0 140.8 385.4 142.1 382.9 141.4 371.8 140.6 368.6Z" fill="#35b779" stroke="#333" stroke-width="0.3" stroke-opacity="0.6"/>
<path d="M139.7 377.2 136.9 381.7 137.3 384.1 138.7 385.2 140.6 384.7 141.5 382.9 141.3 380.4Z" fill="#6ece58" stroke="#333" stroke-width="0.3" stroke-opacity="0.6"/>
<path d="M139.7 372.8 139.7 374.3Z" fill="#6ece58" stroke="#333" stroke-width="0.3" stroke-opacity="0.6"/>
<path d="M140.6 380.2 139.7 379.3 137.8 380.9 137.4 382.9 138.7 384.5 140.2 384.1 141.0 382.9Z" fill="#b5de2b" stroke="#333" stroke-width="0.3" stroke-opacity="0.6"/>
<path d="M139.7 380.2 138.0 381.7 137.9 382.9 138.7 383.9 139.7 383.9 140.6 382.9 140.6 381.4Z" fill="#fde725" stroke="#333" stroke-width="0.3" stroke-opacity="0.6"/>
<line x1="112.8" y1="372.4" x2="149.1" y2="359.6" stroke="#3a3a3a" stroke-width="1.1"/>
<line x1="119.2" y1="402.8" x2="149.1" y2="388.5" stroke="#3a3a3a" stroke-width="0.94"/>
</g>
<rect x="107.80" y="339.40" width="55.20" height="64.80" fill="none" stroke="#8c8c8c" stroke-width="0.9"/>
<line x1="112.80" y1="404.20" x2="112.80" y2="407.00" stroke="#555" stroke-width="0.7"/>
<line x1="126.28" y1="404.20" x2="126.28" y2="407.00" stroke="#555" stroke-width="0.7"/>
<line x1="142.90" y1="404.20" x2="142.90" y2="407.00" stroke="#555" stroke-width="0.7"/>
<line x1="151.66" y1="404.20" x2="151.66" y2="407.00" stroke="#555" stroke-width="0.7"/>
<line x1="158.20" y1="404.20" x2="158.20" y2="407.00" stroke="#555" stroke-width="0.7"/>
<line x1="104.60" y1="402.80" x2="107.80" y2="402.80" stroke="#555" stroke-width="0.7"/>
<line x1="104.60" y1="390.64" x2="107.80" y2="390.64" stroke="#555" stroke-width="0.7"/>
<line x1="104.60" y1="378.48" x2="107.80" y2="378.48" stroke="#555" stroke-width="0.7"/>
<line x1="104.60" y1="366.32" x2="107.80" y2="366.32" stroke="#555" stroke-width="0.7"/>
<line x1="104.60" y1="354.16" x2="107.80" y2="354.16" stroke="#555" stroke-width="0.7"/>
<line x1="104.60" y1="342.00" x2="107.80" y2="342.00" stroke="#555" stroke-width="0.7"/>
<text transform="translate(116.80,417.20) rotate(-45)" text-anchor="end" font-size="9.4">0.15</text>
<text transform="translate(130.28,417.20) rotate(-45)" text-anchor="end" font-size="9.4">0.3</text>
<text transform="translate(146.90,417.20) rotate(-45)" text-anchor="end" font-size="9.4">0.6</text>
<text transform="translate(155.66,417.20) rotate(-45)" text-anchor="end" font-size="9.4">1</text>
<text transform="translate(162.20,417.20) rotate(-45)" text-anchor="end" font-size="9.4">6</text>
<rect x="167.40" y="339.40" width="55.20" height="64.80" fill="#fff"/>
<g clip-path="url(#dcl2)">
<path d="M172.4,372.4 L172.4,340.8 L208.7,340.8 L208.7,359.6Z" fill="#c9e2e9"/>
<path d="M172.4,402.8 L172.4,372.4 L208.7,359.6 L208.7,388.5 L178.8,402.8Z" fill="#f8c8c2"/>
<path d="M178.8,402.8 L208.7,388.5 L217.8,388.5 L217.8,402.8Z" fill="#e8ebd3"/>
<path d="M217.8,388.5 L208.7,388.5 L208.7,340.8 L172.4,340.8 L172.4,402.8 L217.8,402.8 Z" fill="none" stroke="#8a8a8a" stroke-width="0.6"/>
<path d="M177.8,346.9 C179.2,345.2 185.4,345.3 188.3,345.0 C191.2,344.8 196.6,344.5 199.6,345.0 C202.7,345.6 209.2,347.3 211.0,349.3 C212.8,351.3 212.7,357.2 213.3,360.2 C213.9,363.3 215.2,369.2 215.5,372.4 C215.9,375.6 216.3,381.7 216.0,384.6 C215.7,387.4 214.8,391.9 213.3,393.7 C211.7,395.5 206.9,397.5 204.2,397.9 C201.5,398.3 195.9,397.3 192.8,396.7 C189.8,396.2 183.5,395.3 181.5,393.7 C179.5,392.1 178.5,387.8 177.8,384.6 C177.2,381.3 176.9,373.0 176.9,369.4 C177.0,365.7 178.2,360.2 178.3,357.2 C178.4,354.2 176.5,348.5 177.8,346.9Z" fill="#452a76" opacity="0.88"/>
<path d="M213.2 390.6h1v1h-1zM191.0 346.2h1v1h-1zM178.4 354.3h1v1h-1zM214.8 384.2h1v1h-1zM205.2 396.5h1v1h-1zM214.6 384.2h1v1h-1zM214.0 382.3h1v1h-1zM202.5 345.9h1v1h-1zM186.7 345.1h1v1h-1zM177.4 356.1h1v1h-1zM192.5 397.8h1v1h-1zM211.5 348.0h1v1h-1zM211.4 349.7h1v1h-1zM213.2 359.8h1v1h-1zM210.3 349.5h1v1h-1zM182.2 392.5h1v1h-1zM212.0 393.5h1v1h-1zM180.3 381.8h1v1h-1zM214.2 396.1h1v1h-1zM208.2 348.3h1v1h-1zM197.8 343.1h1v1h-1zM214.8 369.4h1v1h-1zM198.1 344.3h1v1h-1zM216.2 372.0h1v1h-1zM214.1 395.5h1v1h-1zM179.0 346.3h1v1h-1zM187.6 347.0h1v1h-1zM215.3 371.4h1v1h-1zM176.0 381.0h1v1h-1zM209.6 395.4h1v1h-1zM210.2 359.0h1v1h-1zM216.4 367.7h1v1h-1zM204.2 396.2h1v1h-1zM214.5 374.6h1v1h-1zM174.9 385.8h1v1h-1zM177.3 357.8h1v1h-1zM214.3 394.7h1v1h-1zM205.2 397.6h1v1h-1zM175.9 349.5h1v1h-1zM203.4 395.8h1v1h-1zM212.9 364.1h1v1h-1zM181.0 394.4h1v1h-1zM216.0 383.3h1v1h-1zM203.1 396.2h1v1h-1zM179.6 369.9h1v1h-1zM204.4 398.6h1v1h-1zM175.0 345.0h1v1h-1zM180.1 357.2h1v1h-1zM215.8 394.4h1v1h-1zM178.7 384.5h1v1h-1zM199.7 344.0h1v1h-1zM182.1 392.6h1v1h-1zM212.7 356.5h1v1h-1zM179.8 382.8h1v1h-1zM202.2 346.6h1v1h-1zM213.7 393.9h1v1h-1zM198.1 343.2h1v1h-1zM212.2 394.4h1v1h-1zM210.0 357.9h1v1h-1zM178.3 394.7h1v1h-1zM211.4 360.1h1v1h-1zM177.1 395.0h1v1h-1zM210.0 348.5h1v1h-1zM175.3 367.9h1v1h-1zM213.4 360.9h1v1h-1zM180.6 349.7h1v1h-1zM210.4 351.7h1v1h-1zM199.8 346.1h1v1h-1zM174.4 369.6h1v1h-1zM212.7 360.3h1v1h-1z" fill="#4b2a7a"/>
<path d="M201.1 340.7 198.3 340.2 195.6 341.2 192.8 343.9 190.2 348.3 188.4 353.2 186.9 360.7 186.1 378.0 181.7 384.1 180.6 387.9 181.3 390.3 183.6 392.9 191.4 397.8 195.6 401.2 198.3 402.2 200.2 402.0 202.9 400.4 207.6 393.8 209.9 386.6 211.1 375.5 210.8 363.1 209.0 353.2 205.7 345.4 203.9 342.9Z" fill="#472d7b" stroke="#333" stroke-width="0.3" stroke-opacity="0.6"/>
<path d="M201.1 346.4 199.3 345.9 196.5 346.4 193.7 348.7 191.6 352.0 189.4 360.7 188.7 378.0 182.7 386.6 182.9 389.1 185.4 392.2 190.0 394.6 197.4 396.7 201.1 395.9 205.7 391.5 208.0 386.6 208.9 380.4 208.8 368.1 207.2 355.7 204.8 350.1Z" fill="#3e4a89" stroke="#333" stroke-width="0.3" stroke-opacity="0.6"/>
<path d="M200.2 349.4 198.3 349.2 195.6 350.3 192.5 354.5 191.2 360.7 191.1 379.2 186.2 384.1 184.7 386.6 184.9 389.1 186.3 390.8 189.1 392.5 192.8 393.6 197.4 393.6 201.1 392.0 205.7 387.9 207.5 382.9 207.9 375.5 206.0 358.2 203.9 352.5Z" fill="#38598c" stroke="#333" stroke-width="0.3" stroke-opacity="0.6"/>
<path d="M200.2 351.6 197.4 351.6 195.6 352.7 194.2 354.5 193.0 358.2 194.9 379.2 194.4 380.4 188.9 384.1 186.9 386.6 186.8 387.9 188.2 390.0 191.9 391.6 195.6 391.6 198.3 390.6 201.1 387.9 204.8 386.2 206.8 381.7 206.9 374.3 204.6 358.2 202.9 354.0Z" fill="#31688e" stroke="#333" stroke-width="0.3" stroke-opacity="0.6"/>
<path d="M196.5 385.3 194.6 384.6 191.9 385.1 190.0 386.6 189.8 387.9 191.9 389.4 195.4 389.1 196.8 387.9 197.1 386.6Z" fill="#26828e" stroke="#333" stroke-width="0.3" stroke-opacity="0.6"/>
<path d="M199.3 353.2 196.5 354.0 195.1 355.7 194.2 358.2 194.3 361.9 196.5 368.3 198.8 379.2 201.1 383.4 203.9 384.6 205.4 382.9 206.1 380.4 206.1 373.0 203.0 356.9 201.5 354.5Z" fill="#26828e" stroke="#333" stroke-width="0.3" stroke-opacity="0.6"/>
<path d="M200.2 355.4 198.3 355.0 196.5 356.3 195.6 360.7 197.8 366.8 199.7 378.0 202.0 382.0 203.9 382.5 205.5 379.2 205.4 373.0 202.0 358.2Z" fill="#1f9e89" stroke="#333" stroke-width="0.3" stroke-opacity="0.6"/>
<path d="M200.2 358.0 198.3 357.3 197.4 358.2 197.2 360.7 199.1 365.6 199.8 375.5 201.1 378.8 202.9 380.8 203.9 380.6 204.6 379.2 205.0 374.3Z" fill="#35b779" stroke="#333" stroke-width="0.3" stroke-opacity="0.6"/>
<path d="M201.1 366.7 200.1 368.1 200.0 373.0 201.1 377.1 202.9 379.2 204.1 378.0 204.2 373.0 202.9 368.8Z" fill="#6ece58" stroke="#333" stroke-width="0.3" stroke-opacity="0.6"/>
<path d="M202.0 368.9 200.9 369.3 200.6 373.0 201.7 376.7 202.9 377.8 203.9 374.3Z" fill="#b5de2b" stroke="#333" stroke-width="0.3" stroke-opacity="0.6"/>
<path d="M202.0 370.0 201.1 370.5 201.0 373.0 202.0 376.2 202.9 376.7 203.3 373.0Z" fill="#fde725" stroke="#333" stroke-width="0.3" stroke-opacity="0.6"/>
<line x1="172.4" y1="372.4" x2="208.7" y2="359.6" stroke="#3a3a3a" stroke-width="1.1"/>
<line x1="178.8" y1="402.8" x2="208.7" y2="388.5" stroke="#3a3a3a" stroke-width="0.94"/>
</g>
<rect x="167.40" y="339.40" width="55.20" height="64.80" fill="none" stroke="#8c8c8c" stroke-width="0.9"/>
<line x1="172.40" y1="404.20" x2="172.40" y2="407.00" stroke="#555" stroke-width="0.7"/>
<line x1="185.88" y1="404.20" x2="185.88" y2="407.00" stroke="#555" stroke-width="0.7"/>
<line x1="202.50" y1="404.20" x2="202.50" y2="407.00" stroke="#555" stroke-width="0.7"/>
<line x1="211.26" y1="404.20" x2="211.26" y2="407.00" stroke="#555" stroke-width="0.7"/>
<line x1="217.80" y1="404.20" x2="217.80" y2="407.00" stroke="#555" stroke-width="0.7"/>
<line x1="164.20" y1="402.80" x2="167.40" y2="402.80" stroke="#555" stroke-width="0.7"/>
<line x1="164.20" y1="390.64" x2="167.40" y2="390.64" stroke="#555" stroke-width="0.7"/>
<line x1="164.20" y1="378.48" x2="167.40" y2="378.48" stroke="#555" stroke-width="0.7"/>
<line x1="164.20" y1="366.32" x2="167.40" y2="366.32" stroke="#555" stroke-width="0.7"/>
<line x1="164.20" y1="354.16" x2="167.40" y2="354.16" stroke="#555" stroke-width="0.7"/>
<line x1="164.20" y1="342.00" x2="167.40" y2="342.00" stroke="#555" stroke-width="0.7"/>
<text transform="translate(176.40,417.20) rotate(-45)" text-anchor="end" font-size="9.4">0.15</text>
<text transform="translate(189.88,417.20) rotate(-45)" text-anchor="end" font-size="9.4">0.3</text>
<text transform="translate(206.50,417.20) rotate(-45)" text-anchor="end" font-size="9.4">0.6</text>
<text transform="translate(215.26,417.20) rotate(-45)" text-anchor="end" font-size="9.4">1</text>
<text transform="translate(221.80,417.20) rotate(-45)" text-anchor="end" font-size="9.4">6</text>
<rect x="228.60" y="339.40" width="55.20" height="64.80" fill="#fff"/>
<g clip-path="url(#dcl3)">
<path d="M233.6,372.4 L233.6,340.8 L269.9,340.8 L269.9,359.6Z" fill="#c9e2e9"/>
<path d="M233.6,402.8 L233.6,372.4 L269.9,359.6 L269.9,388.5 L240.0,402.8Z" fill="#f8c8c2"/>
<path d="M240.0,402.8 L269.9,388.5 L279.0,388.5 L279.0,402.8Z" fill="#e8ebd3"/>
<path d="M279.0,388.5 L269.9,388.5 L269.9,340.8 L233.6,340.8 L233.6,402.8 L279.0,402.8 Z" fill="none" stroke="#8a8a8a" stroke-width="0.6"/>
<path d="M259.6 392.0h1v1h-1zM242.9 347.1h1v1h-1zM240.4 395.0h1v1h-1zM249.6 365.4h1v1h-1zM257.6 348.7h1v1h-1zM265.1 397.8h1v1h-1zM267.6 369.8h1v1h-1zM256.6 401.6h1v1h-1zM242.1 391.1h1v1h-1zM264.6 355.3h1v1h-1zM253.6 400.5h1v1h-1zM248.0 378.1h1v1h-1zM258.9 342.2h1v1h-1zM263.9 398.7h1v1h-1zM263.9 361.7h1v1h-1zM267.5 355.1h1v1h-1zM239.1 375.7h1v1h-1zM255.2 385.0h1v1h-1zM238.7 355.9h1v1h-1zM266.3 348.0h1v1h-1zM240.5 364.6h1v1h-1zM258.8 397.5h1v1h-1zM242.2 379.9h1v1h-1zM238.6 384.0h1v1h-1zM246.0 374.2h1v1h-1zM262.7 375.6h1v1h-1zM251.0 396.6h1v1h-1zM261.8 394.8h1v1h-1zM262.2 391.9h1v1h-1zM242.4 400.6h1v1h-1zM268.6 382.0h1v1h-1zM239.9 390.3h1v1h-1zM240.3 360.8h1v1h-1zM255.5 346.8h1v1h-1zM261.9 358.6h1v1h-1zM261.4 383.5h1v1h-1zM245.4 391.3h1v1h-1zM247.5 376.0h1v1h-1zM258.9 390.3h1v1h-1zM248.7 385.0h1v1h-1zM238.3 359.4h1v1h-1zM245.1 370.0h1v1h-1zM247.2 388.6h1v1h-1zM261.4 371.6h1v1h-1zM259.7 390.8h1v1h-1zM265.7 345.9h1v1h-1zM259.4 401.2h1v1h-1zM263.5 355.6h1v1h-1zM239.8 373.7h1v1h-1zM252.6 382.5h1v1h-1zM237.8 349.8h1v1h-1zM245.7 349.1h1v1h-1zM244.4 368.2h1v1h-1zM258.4 398.9h1v1h-1zM267.5 348.3h1v1h-1zM248.8 393.9h1v1h-1zM264.7 380.7h1v1h-1zM268.0 380.7h1v1h-1zM241.1 366.5h1v1h-1zM239.9 356.8h1v1h-1zM261.5 363.9h1v1h-1zM252.3 400.8h1v1h-1zM257.6 395.6h1v1h-1zM252.0 382.4h1v1h-1zM239.6 388.0h1v1h-1zM269.2 358.9h1v1h-1zM269.4 378.3h1v1h-1zM256.2 396.6h1v1h-1zM249.3 348.3h1v1h-1zM252.1 385.7h1v1h-1zM238.8 345.7h1v1h-1zM248.6 371.1h1v1h-1zM252.7 401.3h1v1h-1zM261.6 376.5h1v1h-1zM250.7 383.2h1v1h-1zM255.2 396.4h1v1h-1zM263.4 345.6h1v1h-1zM266.8 349.8h1v1h-1zM250.3 369.6h1v1h-1zM259.2 392.8h1v1h-1zM263.1 377.2h1v1h-1zM257.2 394.9h1v1h-1zM254.2 384.8h1v1h-1zM241.4 376.0h1v1h-1zM240.0 360.7h1v1h-1zM244.1 384.2h1v1h-1zM254.3 383.7h1v1h-1zM248.3 394.1h1v1h-1zM268.9 355.6h1v1h-1zM265.3 368.8h1v1h-1zM257.8 388.4h1v1h-1zM263.1 384.2h1v1h-1zM246.0 377.2h1v1h-1zM252.4 392.5h1v1h-1zM265.0 386.4h1v1h-1zM266.3 372.3h1v1h-1zM247.0 386.2h1v1h-1zM238.9 371.4h1v1h-1zM241.8 389.1h1v1h-1zM239.6 362.2h1v1h-1zM254.6 398.2h1v1h-1zM260.2 370.1h1v1h-1zM241.1 342.7h1v1h-1zM242.2 391.9h1v1h-1zM248.2 373.4h1v1h-1zM257.7 366.7h1v1h-1zM258.5 387.2h1v1h-1zM266.1 358.9h1v1h-1zM245.4 369.7h1v1h-1zM245.5 390.5h1v1h-1zM254.0 349.3h1v1h-1zM248.4 365.8h1v1h-1zM261.2 353.8h1v1h-1zM238.8 392.0h1v1h-1zM262.6 367.6h1v1h-1zM266.4 364.9h1v1h-1zM265.2 353.0h1v1h-1zM267.1 355.3h1v1h-1zM268.3 372.5h1v1h-1zM263.1 371.8h1v1h-1zM250.8 387.7h1v1h-1zM260.7 375.2h1v1h-1zM247.9 374.4h1v1h-1zM265.3 360.0h1v1h-1zM267.9 366.3h1v1h-1zM239.7 357.5h1v1h-1zM257.3 342.9h1v1h-1zM257.5 397.2h1v1h-1zM258.8 374.1h1v1h-1zM264.5 359.2h1v1h-1zM247.0 395.6h1v1h-1zM237.5 389.0h1v1h-1zM247.6 345.3h1v1h-1zM240.9 367.2h1v1h-1zM259.4 347.4h1v1h-1zM241.6 350.5h1v1h-1zM250.8 399.8h1v1h-1zM252.6 387.8h1v1h-1zM269.6 353.9h1v1h-1zM260.6 356.6h1v1h-1zM262.1 391.8h1v1h-1zM252.6 399.9h1v1h-1zM246.2 345.1h1v1h-1zM261.8 371.3h1v1h-1zM267.3 371.7h1v1h-1zM259.4 363.3h1v1h-1zM243.5 396.5h1v1h-1zM244.5 351.8h1v1h-1zM239.0 342.1h1v1h-1zM245.2 349.4h1v1h-1z" fill="#4b2a7a"/>
<path d="M258.6 337.0 247.2 337.2 244.8 339.2 240.7 345.8 238.8 355.7 238.5 378.0 240.3 390.3 242.0 394.4 244.8 398.1 248.5 400.6 253.1 402.0 257.7 400.9 262.4 396.5 265.2 390.3 266.7 381.7 267.0 363.1 266.0 350.8 263.2 342.1 260.5 338.2Z" fill="#472d7b" fill-opacity="0.15" stroke="#333" stroke-width="0.3" stroke-opacity="0.6"/>
<path d="M256.8 339.5 254.0 338.6 251.2 339.0 248.5 340.4 245.3 343.3 242.1 349.5 240.5 359.4 240.5 378.0 242.1 387.9 243.8 391.9 246.6 395.2 249.4 397.0 253.1 398.0 257.7 396.8 261.4 392.8 263.9 386.6 265.0 378.0 265.2 361.9 263.9 350.8 261.4 344.2Z" fill="#3e4a89" fill-opacity="0.15" stroke="#333" stroke-width="0.3" stroke-opacity="0.6"/>
<path d="M254.0 342.0 251.2 342.4 249.4 343.5 247.0 345.8 244.7 349.5 242.7 356.9 242.2 368.1 242.8 380.4 244.8 387.7 248.5 392.4 251.2 394.0 254.0 394.4 256.8 393.5 258.6 391.9 261.6 386.6 263.1 379.2 263.5 368.1 263.0 356.9 261.3 349.5 257.7 343.9Z" fill="#38598c" fill-opacity="0.15" stroke="#333" stroke-width="0.3" stroke-opacity="0.6"/>
<path d="M255.8 345.6 252.1 344.9 248.2 348.3 245.6 354.5 244.5 363.1 244.6 375.5 246.0 382.9 249.4 388.7 252.1 390.7 254.0 391.0 256.8 389.7 259.5 385.4 260.9 380.4 261.5 373.0 260.8 355.7 258.9 349.5Z" fill="#31688e" fill-opacity="0.15" stroke="#333" stroke-width="0.3" stroke-opacity="0.6"/>
<path d="M254.0 346.9 251.2 347.5 248.7 350.8 247.2 355.7 246.8 361.9 247.1 374.3 248.1 380.4 251.1 386.6 254.0 388.1 256.5 386.6 258.4 382.9 259.6 371.8 258.8 354.5 257.0 349.5Z" fill="#26828e" fill-opacity="0.15" stroke="#333" stroke-width="0.3" stroke-opacity="0.6"/>
<path d="M254.9 349.4 252.1 348.9 250.3 350.7 248.8 354.5 248.5 358.2 249.6 368.1 249.9 379.2 251.9 384.1 254.0 385.5 255.8 384.3 256.8 382.7 258.0 375.5 257.4 366.8 257.9 356.9 256.7 352.0Z" fill="#1f9e89" stroke="#333" stroke-width="0.3" stroke-opacity="0.6"/>
<path d="M254.0 350.5 252.1 350.7 250.9 352.0 249.9 354.5 249.5 358.2 250.1 361.9 252.4 368.1 251.1 374.3 251.4 379.2 252.3 381.7 254.0 383.0 255.8 381.3 256.7 378.0 256.5 373.0 254.9 366.8 256.8 358.2 256.1 353.2Z" fill="#35b779" stroke="#333" stroke-width="0.3" stroke-opacity="0.6"/>
<path d="M254.9 372.8 254.0 372.0 253.1 372.7 252.3 375.5 252.8 379.2 254.0 380.5 255.5 378.0Z" fill="#6ece58" stroke="#333" stroke-width="0.3" stroke-opacity="0.6"/>
<path d="M253.1 351.8 251.2 353.4 250.4 356.9 251.2 361.5 253.1 363.4 255.0 361.9 255.9 356.9 255.0 353.2Z" fill="#6ece58" stroke="#333" stroke-width="0.3" stroke-opacity="0.6"/>
<path d="M253.1 353.1 251.7 354.5 251.1 356.9 251.4 359.4 253.1 361.5 254.9 359.5 255.2 356.9 254.7 354.5Z" fill="#b5de2b" stroke="#333" stroke-width="0.3" stroke-opacity="0.6"/>
<path d="M253.1 354.1 252.1 354.9 251.7 356.9 252.1 359.4 253.1 360.3 254.2 359.4 254.7 356.9 254.0 354.6Z" fill="#fde725" stroke="#333" stroke-width="0.3" stroke-opacity="0.6"/>
<path d="M259.5 337.0 251.2 336.6 245.7 337.5 242.9 340.4 240.7 344.6 238.5 354.5 238.1 376.7 239.8 390.3 241.8 395.3 244.8 398.9 249.4 401.9 253.1 402.7 255.8 402.4 258.6 401.1 263.1 396.5 265.6 390.3 267.0 381.7 267.4 363.1 266.5 350.8 263.8 342.1 261.4 338.4Z" fill="none" stroke="#666" stroke-width="0.5"/>
<path d="M255.8 338.1 253.1 337.7 250.3 338.4 247.5 340.1 244.3 343.3 241.4 349.5 239.9 360.7 240.0 378.0 241.8 389.1 243.5 392.8 245.7 395.5 249.4 398.0 253.1 399.0 255.8 398.6 258.6 397.1 262.2 392.8 264.4 386.6 265.6 376.7 265.5 359.4 264.1 349.5 260.8 342.1Z" fill="none" stroke="#2c728e" stroke-width="0.5"/>
<path d="M254.0 340.9 249.4 342.2 244.8 347.3 242.3 354.5 241.5 364.4 241.7 378.0 243.3 386.6 244.8 389.9 247.1 392.8 250.3 395.0 253.1 395.7 257.7 394.3 261.4 389.4 263.3 382.9 264.1 373.0 263.9 359.4 262.5 350.8 261.1 347.0 258.6 343.4 255.8 341.3Z" fill="none" stroke="#2c728e" stroke-width="0.5"/>
<path d="M255.8 344.0 254.0 343.4 251.2 343.8 247.6 347.0 244.6 353.2 243.3 361.9 243.4 375.5 244.8 384.1 246.4 387.9 248.5 390.3 253.1 392.7 256.8 391.7 259.5 388.4 261.5 382.9 262.5 375.5 262.6 363.1 261.7 354.5 259.5 348.3Z" fill="none" stroke="#2c728e" stroke-width="0.5"/>
<path d="M254.9 345.7 253.1 345.3 251.2 345.9 248.0 349.5 245.9 355.7 245.0 364.4 245.3 375.5 246.7 382.9 250.3 388.6 254.0 390.2 256.8 388.8 259.0 385.4 260.6 379.2 261.1 371.8 261.0 361.9 260.1 354.5 258.4 349.5Z" fill="none" stroke="#2c728e" stroke-width="0.5"/>
<path d="M254.0 346.7 251.2 347.3 248.6 350.8 247.1 355.7 246.6 363.1 246.9 374.3 247.9 380.4 250.8 386.6 254.0 388.4 255.8 387.6 258.1 384.1 259.4 379.2 259.8 371.8 259.0 354.5 257.2 349.5Z" fill="none" stroke="#2c728e" stroke-width="0.5"/>
<line x1="233.6" y1="372.4" x2="269.9" y2="359.6" stroke="#3a3a3a" stroke-width="1.1"/>
<line x1="240.0" y1="402.8" x2="269.9" y2="388.5" stroke="#3a3a3a" stroke-width="0.94"/>
</g>
<rect x="228.60" y="339.40" width="55.20" height="64.80" fill="none" stroke="#8c8c8c" stroke-width="0.9"/>
<line x1="233.60" y1="404.20" x2="233.60" y2="407.00" stroke="#555" stroke-width="0.7"/>
<line x1="247.08" y1="404.20" x2="247.08" y2="407.00" stroke="#555" stroke-width="0.7"/>
<line x1="263.70" y1="404.20" x2="263.70" y2="407.00" stroke="#555" stroke-width="0.7"/>
<line x1="272.46" y1="404.20" x2="272.46" y2="407.00" stroke="#555" stroke-width="0.7"/>
<line x1="279.00" y1="404.20" x2="279.00" y2="407.00" stroke="#555" stroke-width="0.7"/>
<line x1="225.40" y1="402.80" x2="228.60" y2="402.80" stroke="#555" stroke-width="0.7"/>
<line x1="225.40" y1="390.64" x2="228.60" y2="390.64" stroke="#555" stroke-width="0.7"/>
<line x1="225.40" y1="378.48" x2="228.60" y2="378.48" stroke="#555" stroke-width="0.7"/>
<line x1="225.40" y1="366.32" x2="228.60" y2="366.32" stroke="#555" stroke-width="0.7"/>
<line x1="225.40" y1="354.16" x2="228.60" y2="354.16" stroke="#555" stroke-width="0.7"/>
<line x1="225.40" y1="342.00" x2="228.60" y2="342.00" stroke="#555" stroke-width="0.7"/>
<text transform="translate(237.60,417.20) rotate(-45)" text-anchor="end" font-size="9.4">0.15</text>
<text transform="translate(251.08,417.20) rotate(-45)" text-anchor="end" font-size="9.4">0.3</text>
<text transform="translate(267.70,417.20) rotate(-45)" text-anchor="end" font-size="9.4">0.6</text>
<text transform="translate(276.46,417.20) rotate(-45)" text-anchor="end" font-size="9.4">1</text>
<text transform="translate(283.00,417.20) rotate(-45)" text-anchor="end" font-size="9.4">6</text>
<text x="39.80" y="406.00" text-anchor="end">0</text>
<text x="39.80" y="393.84" text-anchor="end">0.2</text>
<text x="39.80" y="381.68" text-anchor="end">0.4</text>
<text x="39.80" y="369.52" text-anchor="end">0.6</text>
<text x="39.80" y="357.36" text-anchor="end">0.8</text>
<text x="39.80" y="345.20" text-anchor="end">1.0</text>
<text transform="translate(12.00,372.00) rotate(-90)" text-anchor="middle">Crypt–villus axis</text>
<text x="164.70" y="439.60" text-anchor="middle">Epithelial axis</text>
<line x1="335.30" y1="336.00" x2="335.30" y2="400.80" stroke="#333" stroke-width="0.9"/>
<line x1="335.30" y1="400.80" x2="441.20" y2="400.80" stroke="#333" stroke-width="0.9"/>
<line x1="332.50" y1="397.30" x2="335.30" y2="397.30" stroke="#333" stroke-width="0.8"/>
<text x="325.40" y="400.70" text-anchor="end">10</text>
<text x="325.60" y="396.70" font-size="6.3">1</text>
<line x1="333.80" y1="391.58" x2="335.30" y2="391.58" stroke="#777" stroke-width="0.5"/>
<line x1="333.80" y1="388.23" x2="335.30" y2="388.23" stroke="#777" stroke-width="0.5"/>
<line x1="333.80" y1="385.86" x2="335.30" y2="385.86" stroke="#777" stroke-width="0.5"/>
<line x1="333.80" y1="384.02" x2="335.30" y2="384.02" stroke="#777" stroke-width="0.5"/>
<line x1="333.80" y1="382.52" x2="335.30" y2="382.52" stroke="#777" stroke-width="0.5"/>
<line x1="333.80" y1="381.24" x2="335.30" y2="381.24" stroke="#777" stroke-width="0.5"/>
<line x1="333.80" y1="380.14" x2="335.30" y2="380.14" stroke="#777" stroke-width="0.5"/>
<line x1="333.80" y1="379.17" x2="335.30" y2="379.17" stroke="#777" stroke-width="0.5"/>
<line x1="332.50" y1="378.30" x2="335.30" y2="378.30" stroke="#333" stroke-width="0.8"/>
<text x="325.40" y="381.70" text-anchor="end">10</text>
<text x="325.60" y="377.70" font-size="6.3">2</text>
<line x1="333.80" y1="372.58" x2="335.30" y2="372.58" stroke="#777" stroke-width="0.5"/>
<line x1="333.80" y1="369.23" x2="335.30" y2="369.23" stroke="#777" stroke-width="0.5"/>
<line x1="333.80" y1="366.86" x2="335.30" y2="366.86" stroke="#777" stroke-width="0.5"/>
<line x1="333.80" y1="365.02" x2="335.30" y2="365.02" stroke="#777" stroke-width="0.5"/>
<line x1="333.80" y1="363.52" x2="335.30" y2="363.52" stroke="#777" stroke-width="0.5"/>
<line x1="333.80" y1="362.24" x2="335.30" y2="362.24" stroke="#777" stroke-width="0.5"/>
<line x1="333.80" y1="361.14" x2="335.30" y2="361.14" stroke="#777" stroke-width="0.5"/>
<line x1="333.80" y1="360.17" x2="335.30" y2="360.17" stroke="#777" stroke-width="0.5"/>
<line x1="332.50" y1="359.30" x2="335.30" y2="359.30" stroke="#333" stroke-width="0.8"/>
<text x="325.40" y="362.70" text-anchor="end">10</text>
<text x="325.60" y="358.70" font-size="6.3">3</text>
<line x1="333.80" y1="353.58" x2="335.30" y2="353.58" stroke="#777" stroke-width="0.5"/>
<line x1="333.80" y1="350.23" x2="335.30" y2="350.23" stroke="#777" stroke-width="0.5"/>
<line x1="333.80" y1="347.86" x2="335.30" y2="347.86" stroke="#777" stroke-width="0.5"/>
<line x1="333.80" y1="346.02" x2="335.30" y2="346.02" stroke="#777" stroke-width="0.5"/>
<line x1="333.80" y1="344.52" x2="335.30" y2="344.52" stroke="#777" stroke-width="0.5"/>
<line x1="333.80" y1="343.24" x2="335.30" y2="343.24" stroke="#777" stroke-width="0.5"/>
<line x1="333.80" y1="342.14" x2="335.30" y2="342.14" stroke="#777" stroke-width="0.5"/>
<line x1="333.80" y1="341.17" x2="335.30" y2="341.17" stroke="#777" stroke-width="0.5"/>
<line x1="332.50" y1="340.30" x2="335.30" y2="340.30" stroke="#333" stroke-width="0.8"/>
<text x="325.40" y="343.70" text-anchor="end">10</text>
<text x="325.60" y="339.70" font-size="6.3">4</text>
<line x1="339.80" y1="400.80" x2="339.80" y2="403.40" stroke="#333" stroke-width="0.8"/>
<text x="339.80" y="414.90" text-anchor="middle">6</text>
<line x1="371.80" y1="400.80" x2="371.80" y2="403.40" stroke="#333" stroke-width="0.8"/>
<text x="371.80" y="414.90" text-anchor="middle">8</text>
<line x1="403.90" y1="400.80" x2="403.90" y2="403.40" stroke="#333" stroke-width="0.8"/>
<text x="403.90" y="414.90" text-anchor="middle">30</text>
<line x1="436.00" y1="400.80" x2="436.00" y2="403.40" stroke="#333" stroke-width="0.8"/>
<text x="436.00" y="414.90" text-anchor="middle">90</text>
<text x="388.50" y="428.40" text-anchor="middle">Time (d.p.i.)</text>
<text transform="translate(301.20,368.30) rotate(-90)" text-anchor="middle">Number of</text>
<text transform="translate(309.60,368.30) rotate(-90)" text-anchor="middle">P14 cells</text>
<path d="M339.8,359.3 L371.8,355.7 L403.9,380.4 L436.0,389.3 L436.0,397.4 L403.9,385.5 L371.8,367.4 L339.8,360.3Z" fill="#dfe3c0" opacity="0.7" stroke="#a9b45c" stroke-width="0.4"/>
<polyline points="339.8,359.9 371.8,360.2 403.9,382.6 436.0,392.1" fill="none" stroke="#a9b45c" stroke-width="0.9"/>
<path d="M339.8,344.7 L371.8,345.5 L403.9,360.2 L436.0,363.2 L436.0,364.8 L403.9,362.6 L371.8,352.5 L339.8,353.8Z" fill="#a9d3e2" opacity="0.7" stroke="#4fa3c0" stroke-width="0.4"/>
<polyline points="339.8,349.4 371.8,348.6 403.9,361.4 436.0,364.0" fill="none" stroke="#4fa3c0" stroke-width="0.9"/>
<path d="M339.8,338.0 L371.8,338.5 L403.9,351.5 L436.0,359.0 L436.0,362.6 L403.9,355.0 L371.8,343.5 L339.8,343.7Z" fill="#f4a6a0" opacity="0.7" stroke="#e8473a" stroke-width="0.4"/>
<polyline points="339.8,340.9 371.8,341.0 403.9,353.2 436.0,360.8" fill="none" stroke="#e8473a" stroke-width="0.9"/>
<rect x="326.60" y="325.20" width="4.20" height="4.20" fill="#b3dbe8" stroke="#5aa8c8" stroke-width="0.7"/>
<text x="334.20" y="330.60">Top</text>
<rect x="356.20" y="325.20" width="4.20" height="4.20" fill="#f7b5ae" stroke="#e8473a" stroke-width="0.7"/>
<text x="362.80" y="330.60">Crypt</text>
<rect x="391.00" y="325.20" width="4.20" height="4.20" fill="#e4e8c6" stroke="#b5bd7a" stroke-width="0.7"/>
<text x="398.80" y="330.60">Muscularis</text>
<text x="455.30" y="316.60" font-weight="bold" fill="#000" font-size="13">e</text>
<line x1="494.30" y1="314.50" x2="494.30" y2="455.30" stroke="#666" stroke-width="0.9"/>
<line x1="494.30" y1="455.30" x2="685.00" y2="455.30" stroke="#666" stroke-width="0.9"/>
<line x1="491.10" y1="327.40" x2="494.30" y2="327.40" stroke="#555" stroke-width="0.8"/>
<text x="487.60" y="330.60" text-anchor="end">0.4</text>
<line x1="491.10" y1="343.20" x2="494.30" y2="343.20" stroke="#555" stroke-width="0.8"/>
<text x="487.60" y="346.40" text-anchor="end">0.3</text>
<line x1="491.10" y1="359.00" x2="494.30" y2="359.00" stroke="#555" stroke-width="0.8"/>
<text x="487.60" y="362.20" text-anchor="end">0.2</text>
<line x1="491.10" y1="374.80" x2="494.30" y2="374.80" stroke="#555" stroke-width="0.8"/>
<text x="487.60" y="378.00" text-anchor="end">0.1</text>
<line x1="491.10" y1="390.60" x2="494.30" y2="390.60" stroke="#555" stroke-width="0.8"/>
<text x="487.60" y="393.80" text-anchor="end">0</text>
<line x1="491.10" y1="406.40" x2="494.30" y2="406.40" stroke="#555" stroke-width="0.8"/>
<text x="487.60" y="409.60" text-anchor="end">−0.1</text>
<line x1="491.10" y1="422.20" x2="494.30" y2="422.20" stroke="#555" stroke-width="0.8"/>
<text x="487.60" y="425.40" text-anchor="end">−0.2</text>
<line x1="491.10" y1="438.00" x2="494.30" y2="438.00" stroke="#555" stroke-width="0.8"/>
<text x="487.60" y="441.20" text-anchor="end">−0.3</text>
<text transform="translate(463.20,385.80) rotate(-90)" text-anchor="middle">Spearman <tspan font-style="italic">ρ</tspan></text>
<line x1="494.30" y1="382.70" x2="685.00" y2="382.70" stroke="#d0d0d0" stroke-width="0.7"/>
<line x1="494.30" y1="398.50" x2="685.00" y2="398.50" stroke="#d0d0d0" stroke-width="0.7"/>
<text x="496.40" y="316.40"><tspan font-style="italic">n</tspan> = 31</text>
<text x="565.90" y="316.40"><tspan font-style="italic">n</tspan> = 32</text>
<text x="641.60" y="316.40"><tspan font-style="italic">n</tspan> = 7</text>
<text x="497.30" y="452.90"><tspan font-style="italic">n</tspan> = 56</text>
<text x="567.60" y="452.90"><tspan font-style="italic">n</tspan> = 44</text>
<text x="636.80" y="452.90"><tspan font-style="italic">n</tspan> = 1</text>
<text x="510.40" y="344.70" font-size="9.1">Higher in tip</text>
<line x1="510.40" y1="346.90" x2="560.00" y2="346.90" stroke="#aaa" stroke-width="1.4"/>
<text x="567.60" y="344.70" font-size="9.1">Higher in LP</text>
<line x1="567.60" y1="346.90" x2="617.60" y2="346.90" stroke="#aaa" stroke-width="1.4"/>
<text x="623.70" y="344.70" font-size="9.1">Higher in dist.</text>
<line x1="623.70" y1="346.90" x2="680.60" y2="346.90" stroke="#aaa" stroke-width="1.4"/>
<line x1="507.80" y1="455.30" x2="507.80" y2="457.80" stroke="#666" stroke-width="0.8"/>
<text x="507.80" y="469.00" text-anchor="middle">Crypt–villus</text>
<line x1="581.10" y1="455.30" x2="581.10" y2="457.80" stroke="#666" stroke-width="0.8"/>
<text x="581.10" y="469.00" text-anchor="middle">Epithelial</text>
<line x1="647.30" y1="455.30" x2="647.30" y2="457.80" stroke="#666" stroke-width="0.8"/>
<text x="647.30" y="469.00" text-anchor="middle">Longitudinal</text>
<path d="M507.8,381.1 C508.3,381.1 509.9,384.3 510.3,385.1 C510.8,385.9 511.8,388.3 512.3,389.0 C512.8,389.7 514.6,391.5 514.8,392.2 C514.9,392.9 514.1,395.5 513.8,396.1 C513.5,396.8 512.8,398.3 511.8,398.5 C510.8,398.7 504.8,398.7 503.8,398.5 C502.8,398.3 502.1,396.8 501.8,396.1 C501.5,395.5 500.7,392.9 500.8,392.2 C500.9,391.5 502.9,389.7 503.3,389.0 C503.8,388.3 504.9,385.9 505.3,385.1 C505.8,384.3 507.3,381.1 507.8,381.1Z" fill="#d2d2d2" opacity="1.0" filter="url(#spk2)"/>
<path d="M508.4 375.2h1.3v1.3h-1.3zM509.4 373.3h1.3v1.3h-1.3zM509.3 373.9h1.3v1.3h-1.3zM507.0 381.7h1.3v1.3h-1.3zM507.9 371.6h1.3v1.3h-1.3zM505.2 372.1h1.3v1.3h-1.3zM505.9 376.9h1.3v1.3h-1.3zM507.5 376.0h1.3v1.3h-1.3zM505.7 381.9h1.3v1.3h-1.3zM509.2 379.0h1.3v1.3h-1.3zM505.4 373.6h1.3v1.3h-1.3zM505.3 373.2h1.3v1.3h-1.3zM505.3 375.2h1.3v1.3h-1.3zM509.0 382.0h1.3v1.3h-1.3z" fill="#e8666b"/>
<path d="M506.7 360.1h1.3v1.3h-1.3zM507.7 319.8h1.3v1.3h-1.3zM507.9 355.9h1.3v1.3h-1.3zM507.4 342.9h1.3v1.3h-1.3zM507.9 360.3h1.3v1.3h-1.3zM507.9 335.0h1.3v1.3h-1.3z" fill="#e8666b"/>
<path d="M507.8,397.7 C508.5,397.7 510.9,398.3 511.3,398.5 C511.8,398.7 512.3,399.7 512.3,400.1 C512.2,400.5 511.1,402.1 510.8,402.5 C510.5,402.8 509.8,403.9 509.3,404.0 C508.9,404.2 506.8,404.2 506.3,404.0 C505.9,403.9 505.1,402.8 504.8,402.5 C504.5,402.1 503.4,400.5 503.3,400.1 C503.2,399.7 503.9,398.7 504.3,398.5 C504.8,398.3 507.1,397.7 507.8,397.7Z" fill="#5a8ccc" opacity="0.95" filter="url(#spk2)"/>
<path d="M506.4 403.4h1.1v1.1h-1.1zM505.9 406.7h1.1v1.1h-1.1zM505.5 408.1h1.1v1.1h-1.1zM507.7 407.1h1.1v1.1h-1.1zM508.0 409.0h1.1v1.1h-1.1zM506.5 406.9h1.1v1.1h-1.1zM507.2 403.8h1.1v1.1h-1.1zM507.2 407.0h1.1v1.1h-1.1zM505.5 404.6h1.1v1.1h-1.1zM505.3 402.8h1.1v1.1h-1.1z" fill="#5a8ccc"/>
<path d="M507.9 416.9h1.1v1.1h-1.1zM507.8 440.0h1.1v1.1h-1.1zM507.4 429.0h1.1v1.1h-1.1zM506.3 440.3h1.1v1.1h-1.1zM508.2 434.9h1.1v1.1h-1.1zM507.8 434.4h1.1v1.1h-1.1zM508.1 411.2h1.1v1.1h-1.1zM507.0 429.7h1.1v1.1h-1.1zM507.8 424.0h1.1v1.1h-1.1zM507.7 437.2h1.1v1.1h-1.1zM508.0 415.4h1.1v1.1h-1.1zM508.1 439.5h1.1v1.1h-1.1z" fill="#5a8ccc"/>
<path d="M580.8,381.1 C581.3,381.1 582.8,384.3 583.3,385.1 C583.8,385.9 584.9,388.2 585.3,389.0 C585.6,389.8 586.8,392.2 586.8,393.0 C586.8,393.8 586.1,396.4 585.8,396.9 C585.5,397.5 584.6,398.3 583.8,398.5 C583.0,398.7 578.6,398.7 577.8,398.5 C577.0,398.3 576.1,397.5 575.8,396.9 C575.5,396.4 574.8,393.8 574.8,393.0 C574.8,392.2 575.9,389.8 576.3,389.0 C576.6,388.2 577.8,385.9 578.3,385.1 C578.8,384.3 580.3,381.1 580.8,381.1Z" fill="#d2d2d2" opacity="1.0" filter="url(#spk2)"/>
<path d="M579.4 380.6h1.3v1.3h-1.3zM582.0 372.4h1.3v1.3h-1.3zM582.0 376.7h1.3v1.3h-1.3zM579.3 373.4h1.3v1.3h-1.3zM578.7 377.0h1.3v1.3h-1.3zM578.6 380.8h1.3v1.3h-1.3zM582.3 371.2h1.3v1.3h-1.3zM578.2 379.5h1.3v1.3h-1.3zM580.3 366.5h1.3v1.3h-1.3zM579.0 375.6h1.3v1.3h-1.3zM581.6 372.7h1.3v1.3h-1.3zM579.8 374.9h1.3v1.3h-1.3zM582.0 381.2h1.3v1.3h-1.3zM580.1 381.5h1.3v1.3h-1.3zM578.5 368.8h1.3v1.3h-1.3zM582.1 370.5h1.3v1.3h-1.3zM581.4 372.1h1.3v1.3h-1.3zM579.9 380.4h1.3v1.3h-1.3z" fill="#e8666b"/>
<path d="M580.8,397.7 C581.5,397.7 583.9,398.3 584.3,398.5 C584.7,398.7 584.9,399.7 584.8,400.1 C584.7,400.5 583.6,402.1 583.3,402.5 C583.0,402.8 582.1,403.9 581.8,404.0 C581.4,404.2 580.1,404.2 579.8,404.0 C579.4,403.9 578.6,402.8 578.3,402.5 C578.0,402.1 576.9,400.5 576.8,400.1 C576.7,399.7 576.9,398.7 577.3,398.5 C577.7,398.3 580.1,397.7 580.8,397.7Z" fill="#5a8ccc" opacity="0.95" filter="url(#spk2)"/>
<path d="M581.3 413.4h1.1v1.1h-1.1zM580.1 411.6h1.1v1.1h-1.1zM581.3 402.7h1.1v1.1h-1.1zM580.1 403.0h1.1v1.1h-1.1zM580.9 409.2h1.1v1.1h-1.1zM579.6 409.3h1.1v1.1h-1.1zM579.2 410.2h1.1v1.1h-1.1zM581.7 410.6h1.1v1.1h-1.1zM580.6 403.2h1.1v1.1h-1.1zM579.8 409.0h1.1v1.1h-1.1z" fill="#5a8ccc"/>
<path d="M647.3,384.3 C648.3,384.3 650.7,386.2 652.3,386.7 C653.9,387.1 663.0,388.2 663.3,388.7 C663.6,389.2 656.6,390.9 655.3,391.4 C654.0,391.9 651.1,393.3 650.3,393.8 C649.5,394.2 647.9,396.1 647.3,396.1 C646.7,396.1 645.1,394.2 644.3,393.8 C643.5,393.3 640.6,391.9 639.3,391.4 C638.0,390.9 631.0,389.2 631.3,388.7 C631.6,388.2 640.7,387.1 642.3,386.7 C643.9,386.2 646.3,384.3 647.3,384.3Z" fill="#d2d2d2" opacity="1.0" filter="url(#spk2)"/>
<path d="M646.0 381.6h1.3v1.3h-1.3zM647.8 378.3h1.3v1.3h-1.3zM647.5 380.3h1.3v1.3h-1.3zM647.2 378.4h1.3v1.3h-1.3z" fill="#e8666b"/>
<rect x="646.8" y="399.3" width="1.2" height="1.2" fill="#5a8ccc"/>
<text x="529.20" y="362.90" font-style="italic">Itgae</text>
<polyline points="512.5,364.5 517.0,364.5 528.4,359.6" fill="none" stroke="#222" stroke-width="0.55"/>
<text x="529.20" y="370.70" font-style="italic">Mxd1</text>
<polyline points="512.5,370.9 517.0,370.9 528.4,367.4" fill="none" stroke="#222" stroke-width="0.55"/>
<text x="529.20" y="379.00" font-style="italic">Il7r</text>
<polyline points="512.5,374.8 517.0,374.8 528.4,375.7" fill="none" stroke="#222" stroke-width="0.55"/>
<text x="529.70" y="397.70" font-style="italic">Gzmb</text>
<polyline points="512.5,399.3 515.0,399.3 528.9,394.4" fill="none" stroke="#222" stroke-width="0.55"/>
<text x="529.70" y="406.40" font-style="italic">Slamf6</text>
<polyline points="512.5,400.9 515.3,400.9 528.9,403.1" fill="none" stroke="#222" stroke-width="0.55"/>
<text x="529.70" y="414.50" font-style="italic">Cd69</text>
<polyline points="512.5,401.7 515.6,401.7 528.9,411.2" fill="none" stroke="#222" stroke-width="0.55"/>
<text x="529.70" y="421.50" font-style="italic">Tgfbr2</text>
<polyline points="512.5,403.2 515.9,403.2 528.9,418.2" fill="none" stroke="#222" stroke-width="0.55"/>
<text x="529.70" y="430.30" font-style="italic">Klrg1</text>
<polyline points="512.5,404.8 516.2,404.8 528.9,427.0" fill="none" stroke="#222" stroke-width="0.55"/>
<text x="529.70" y="439.70" font-style="italic">Il18r1</text>
<polyline points="512.5,406.4 516.5,406.4 528.9,436.4" fill="none" stroke="#222" stroke-width="0.55"/>
<text x="529.70" y="447.80" font-style="italic">Klf2</text>
<polyline points="512.5,412.7 516.8,412.7 528.9,444.5" fill="none" stroke="#222" stroke-width="0.55"/>
<text x="600.90" y="368.10" font-style="italic">Tcf7</text>
<polyline points="586.0,383.5 589.0,383.5 600.1,364.8" fill="none" stroke="#222" stroke-width="0.55"/>
<text x="600.90" y="379.00" font-style="italic">Ctla4</text>
<polyline points="586.0,382.7 589.0,382.7 600.1,375.7" fill="none" stroke="#222" stroke-width="0.55"/>
<text x="601.80" y="400.60" font-style="italic">Il21r</text>
<polyline points="587.0,399.3 590.0,399.3 601.0,397.3" fill="none" stroke="#222" stroke-width="0.55"/>
<text x="601.80" y="409.10" font-style="italic">Chn2</text>
<polyline points="587.0,400.1 590.3,400.1 601.0,405.8" fill="none" stroke="#222" stroke-width="0.55"/>
<text x="601.80" y="416.80" font-style="italic">Mxd1</text>
<polyline points="587.0,400.9 590.6,400.9 601.0,413.5" fill="none" stroke="#222" stroke-width="0.55"/>
<text x="601.80" y="425.00" font-style="italic">Gzmb</text>
<polyline points="587.0,401.7 590.9,401.7 601.0,421.7" fill="none" stroke="#222" stroke-width="0.55"/>
<text x="601.80" y="433.30" font-style="italic">Itgae</text>
<polyline points="587.0,403.2 591.2,403.2 601.0,430.0" fill="none" stroke="#222" stroke-width="0.55"/>
<text x="601.80" y="441.10" font-style="italic">Cdh1</text>
<polyline points="587.0,404.8 591.5,404.8 601.0,437.8" fill="none" stroke="#222" stroke-width="0.55"/>
<text x="655.70" y="378.30" font-style="italic">Tcf7</text>
<polyline points="653.0,381.9 654.0,381.9 654.9,375.0" fill="none" stroke="#222" stroke-width="0.55"/>
<text x="0.00" y="454.00" font-weight="bold" fill="#000" font-size="13">f</text>
<text x="0.70" y="481.40">Time (d.p.i.):</text>
<text x="59.30" y="481.40" text-anchor="middle">6</text>
<text x="145.60" y="481.40" text-anchor="middle">8</text>
<text x="229.90" y="481.40" text-anchor="middle">30</text>
<text x="313.70" y="481.40" text-anchor="middle">90</text>
<text x="312.80" y="451.40" text-anchor="middle">Expression</text>
<text x="288.00" y="464.20">Min.</text>
<text x="339.00" y="464.20" text-anchor="end">Max.</text>
<rect x="287.40" y="466.90" width="50.80" height="4.40" fill="url(#zis)"/>
<text x="31.00" y="603.80" text-anchor="middle">0</text>
<text x="83.90" y="603.80" text-anchor="middle">1</text>
<text x="29.90" y="615.00">Bottom</text>
<text x="85.10" y="615.00" text-anchor="end">Top</text>
<text x="117.30" y="603.80" text-anchor="middle">0</text>
<text x="170.20" y="603.80" text-anchor="middle">1</text>
<text x="116.20" y="615.00">Bottom</text>
<text x="171.40" y="615.00" text-anchor="end">Top</text>
<text x="201.60" y="603.80" text-anchor="middle">0</text>
<text x="254.50" y="603.80" text-anchor="middle">1</text>
<text x="200.50" y="615.00">Bottom</text>
<text x="255.70" y="615.00" text-anchor="end">Top</text>
<text x="285.40" y="603.80" text-anchor="middle">0</text>
<text x="338.30" y="603.80" text-anchor="middle">1</text>
<text x="284.30" y="615.00">Bottom</text>
<text x="339.50" y="615.00" text-anchor="end">Top</text>
<text transform="translate(11.20,538.80) rotate(-90)" text-anchor="middle">Genes</text>
<text x="186.00" y="630.20" text-anchor="middle">Crypt–villus axis</text>
<text x="86.10" y="493.30" font-style="italic" font-size="9.2">Tcf7</text>
<line x1="84.5" y1="487.0" x2="85.5" y2="493.0" stroke="#444" stroke-width="0.4"/>
<text x="86.10" y="502.10" font-style="italic" font-size="9.2">Il18r1</text>
<line x1="84.5" y1="495.8" x2="85.5" y2="501.8" stroke="#444" stroke-width="0.4"/>
<text x="86.10" y="510.00" font-style="italic" font-size="9.2">Ifng</text>
<line x1="84.5" y1="503.7" x2="85.5" y2="509.7" stroke="#444" stroke-width="0.4"/>
<text x="86.10" y="517.50" font-style="italic" font-size="9.2">Slamf6</text>
<line x1="84.5" y1="511.2" x2="85.5" y2="517.2" stroke="#444" stroke-width="0.4"/>
<text x="86.10" y="526.10" font-style="italic" font-size="9.2">Klf2</text>
<line x1="84.5" y1="519.8" x2="85.5" y2="525.8" stroke="#444" stroke-width="0.4"/>
<text x="86.10" y="537.80" font-style="italic" font-size="9.2">Klrg1</text>
<line x1="84.5" y1="531.5" x2="85.5" y2="537.5" stroke="#444" stroke-width="0.4"/>
<text x="86.10" y="548.60" font-style="italic" font-size="9.2">Gzmb</text>
<line x1="84.5" y1="542.3" x2="85.5" y2="548.3" stroke="#444" stroke-width="0.4"/>
<text x="86.10" y="563.20" font-style="italic" font-size="9.2">Itgae</text>
<line x1="84.5" y1="556.9" x2="85.5" y2="562.9" stroke="#444" stroke-width="0.4"/>
<text x="172.40" y="493.30" font-style="italic" font-size="9.2">Tcf7</text>
<line x1="170.8" y1="487.0" x2="171.8" y2="493.0" stroke="#444" stroke-width="0.4"/>
<text x="172.40" y="502.70" font-style="italic" font-size="9.2">Il18r1</text>
<line x1="170.8" y1="496.4" x2="171.8" y2="502.4" stroke="#444" stroke-width="0.4"/>
<text x="172.40" y="513.50" font-style="italic" font-size="9.2">Ifng</text>
<line x1="170.8" y1="507.2" x2="171.8" y2="513.2" stroke="#444" stroke-width="0.4"/>
<text x="172.40" y="523.20" font-style="italic" font-size="9.2">Slamf6</text>
<line x1="170.8" y1="516.9" x2="171.8" y2="522.9" stroke="#444" stroke-width="0.4"/>
<text x="172.40" y="531.30" font-style="italic" font-size="9.2">Klrg1</text>
<line x1="170.8" y1="525.0" x2="171.8" y2="531.0" stroke="#444" stroke-width="0.4"/>
<text x="172.40" y="540.10" font-style="italic" font-size="9.2">Gzmb</text>
<line x1="170.8" y1="533.8" x2="171.8" y2="539.8" stroke="#444" stroke-width="0.4"/>
<text x="172.40" y="559.70" font-style="italic" font-size="9.2">Klf2</text>
<line x1="170.8" y1="553.4" x2="171.8" y2="559.4" stroke="#444" stroke-width="0.4"/>
<text x="172.40" y="587.40" font-style="italic" font-size="9.2">Itgae</text>
<line x1="170.8" y1="581.1" x2="171.8" y2="587.1" stroke="#444" stroke-width="0.4"/>
<text x="256.70" y="501.70" font-style="italic" font-size="9.2">Tcf7</text>
<line x1="255.1" y1="495.4" x2="256.1" y2="501.4" stroke="#444" stroke-width="0.4"/>
<text x="256.70" y="511.00" font-style="italic" font-size="9.2">Il18r1</text>
<line x1="255.1" y1="504.7" x2="256.1" y2="510.7" stroke="#444" stroke-width="0.4"/>
<text x="256.70" y="520.10" font-style="italic" font-size="9.2">Klf2</text>
<line x1="255.1" y1="513.8" x2="256.1" y2="519.8" stroke="#444" stroke-width="0.4"/>
<text x="256.70" y="547.50" font-style="italic" font-size="9.2">Slamf6</text>
<line x1="255.1" y1="541.2" x2="256.1" y2="547.2" stroke="#444" stroke-width="0.4"/>
<text x="256.70" y="561.30" font-style="italic" font-size="9.2">Itgae</text>
<line x1="255.1" y1="555.0" x2="256.1" y2="561.0" stroke="#444" stroke-width="0.4"/>
<text x="256.70" y="592.20" font-style="italic" font-size="9.2">Gzmb</text>
<line x1="255.1" y1="585.9" x2="256.1" y2="591.9" stroke="#444" stroke-width="0.4"/>
<text x="340.50" y="495.90" font-style="italic" font-size="9.2">Il18r1</text>
<line x1="338.9" y1="489.6" x2="339.9" y2="495.6" stroke="#444" stroke-width="0.4"/>
<text x="340.50" y="505.20" font-style="italic" font-size="9.2">Klf2</text>
<line x1="338.9" y1="498.9" x2="339.9" y2="504.9" stroke="#444" stroke-width="0.4"/>
<text x="340.50" y="518.30" font-style="italic" font-size="9.2">Slamf6</text>
<line x1="338.9" y1="512.0" x2="339.9" y2="518.0" stroke="#444" stroke-width="0.4"/>
<text x="340.50" y="548.40" font-style="italic" font-size="9.2">Tcf7</text>
<line x1="338.9" y1="542.1" x2="339.9" y2="548.1" stroke="#444" stroke-width="0.4"/>
<text x="340.50" y="559.20" font-style="italic" font-size="9.2">Itgae</text>
<line x1="338.9" y1="552.9" x2="339.9" y2="558.9" stroke="#444" stroke-width="0.4"/>
<text x="340.50" y="586.40" font-style="italic" font-size="9.2">Gzmb</text>
<line x1="338.9" y1="580.1" x2="339.9" y2="586.1" stroke="#444" stroke-width="0.4"/>
<text x="0.30" y="646.00" font-weight="bold" fill="#000" font-size="13">i</text>
<text x="180.00" y="658.90">P14</text>
<text x="288.00" y="653.10">Min.</text>
<text x="339.00" y="653.10" text-anchor="end">Max.</text>
<rect x="287.40" y="655.10" width="50.80" height="4.40" fill="url(#zis)"/>
<text x="0.70" y="670.40">Time (d.p.i.):</text>
<text x="59.30" y="670.40" text-anchor="middle">6</text>
<text x="145.60" y="670.40" text-anchor="middle">8</text>
<text x="229.90" y="670.40" text-anchor="middle">30</text>
<text x="313.70" y="670.40" text-anchor="middle">90</text>
<text x="31.00" y="792.30" text-anchor="middle">0</text>
<text x="83.90" y="792.30" text-anchor="middle">1</text>
<text x="31.00" y="802.20">IE</text>
<text x="85.30" y="802.20" text-anchor="end">LP</text>
<text x="117.30" y="792.30" text-anchor="middle">0</text>
<text x="170.20" y="792.30" text-anchor="middle">1</text>
<text x="117.30" y="802.20">IE</text>
<text x="171.60" y="802.20" text-anchor="end">LP</text>
<text x="201.60" y="792.30" text-anchor="middle">0</text>
<text x="254.50" y="792.30" text-anchor="middle">1</text>
<text x="201.60" y="802.20">IE</text>
<text x="255.90" y="802.20" text-anchor="end">LP</text>
<text x="285.40" y="792.30" text-anchor="middle">0</text>
<text x="338.30" y="792.30" text-anchor="middle">1</text>
<text x="285.40" y="802.20">IE</text>
<text x="339.70" y="802.20" text-anchor="end">LP</text>
<text transform="translate(11.20,727.00) rotate(-90)" text-anchor="middle">Genes</text>
<text x="185.50" y="815.80" text-anchor="middle">Epithelial axis</text>
<text x="86.10" y="717.10" font-style="italic" font-size="9.2">Itgae</text>
<line x1="84.5" y1="710.8" x2="85.5" y2="716.8" stroke="#444" stroke-width="0.4"/>
<text x="86.10" y="729.70" font-style="italic" font-size="9.2">Klrg1</text>
<line x1="84.5" y1="723.4" x2="85.5" y2="729.4" stroke="#444" stroke-width="0.4"/>
<text x="86.10" y="739.90" font-style="italic" font-size="9.2">Klf2</text>
<line x1="84.5" y1="733.6" x2="85.5" y2="739.6" stroke="#444" stroke-width="0.4"/>
<text x="86.10" y="752.40" font-style="italic" font-size="9.2">Tcf7</text>
<line x1="84.5" y1="746.1" x2="85.5" y2="752.1" stroke="#444" stroke-width="0.4"/>
<text x="86.10" y="761.80" font-style="italic" font-size="9.2">Ifng</text>
<line x1="84.5" y1="755.5" x2="85.5" y2="761.5" stroke="#444" stroke-width="0.4"/>
<text x="86.10" y="769.90" font-style="italic" font-size="9.2">Slamf6</text>
<line x1="84.5" y1="763.6" x2="85.5" y2="769.6" stroke="#444" stroke-width="0.4"/>
<text x="86.10" y="781.60" font-style="italic" font-size="9.2">Il18r1</text>
<line x1="84.5" y1="775.3" x2="85.5" y2="781.3" stroke="#444" stroke-width="0.4"/>
<text x="172.40" y="700.50" font-style="italic" font-size="9.2">Klrg1</text>
<line x1="170.8" y1="694.2" x2="171.8" y2="700.2" stroke="#444" stroke-width="0.4"/>
<text x="172.40" y="713.60" font-style="italic" font-size="9.2">Itgae</text>
<line x1="170.8" y1="707.3" x2="171.8" y2="713.3" stroke="#444" stroke-width="0.4"/>
<text x="172.40" y="723.20" font-style="italic" font-size="9.2">Klf2</text>
<line x1="170.8" y1="716.9" x2="171.8" y2="722.9" stroke="#444" stroke-width="0.4"/>
<text x="172.40" y="753.00" font-style="italic" font-size="9.2">Ifng</text>
<line x1="170.8" y1="746.7" x2="171.8" y2="752.7" stroke="#444" stroke-width="0.4"/>
<text x="172.40" y="766.10" font-style="italic" font-size="9.2">Il18r1</text>
<line x1="170.8" y1="759.8" x2="171.8" y2="765.8" stroke="#444" stroke-width="0.4"/>
<text x="172.40" y="774.90" font-style="italic" font-size="9.2">Tcf7</text>
<line x1="170.8" y1="768.6" x2="171.8" y2="774.6" stroke="#444" stroke-width="0.4"/>
<text x="172.40" y="782.80" font-style="italic" font-size="9.2">Slamf6</text>
<line x1="170.8" y1="776.5" x2="171.8" y2="782.5" stroke="#444" stroke-width="0.4"/>
<text x="256.70" y="692.30" font-style="italic" font-size="9.2">Itgae</text>
<line x1="255.1" y1="686.0" x2="256.1" y2="692.0" stroke="#444" stroke-width="0.4"/>
<text x="256.70" y="725.30" font-style="italic" font-size="9.2">Tcf7</text>
<line x1="255.1" y1="719.0" x2="256.1" y2="725.0" stroke="#444" stroke-width="0.4"/>
<text x="256.70" y="733.40" font-style="italic" font-size="9.2">Klf2</text>
<line x1="255.1" y1="727.1" x2="256.1" y2="733.1" stroke="#444" stroke-width="0.4"/>
<text x="256.70" y="748.60" font-style="italic" font-size="9.2">Slamf6</text>
<line x1="255.1" y1="742.3" x2="256.1" y2="748.3" stroke="#444" stroke-width="0.4"/>
<text x="256.70" y="782.80" font-style="italic" font-size="9.2">Il18r1</text>
<line x1="255.1" y1="776.5" x2="256.1" y2="782.5" stroke="#444" stroke-width="0.4"/>
<text x="340.50" y="684.40" font-style="italic" font-size="9.2">Itgae</text>
<line x1="338.9" y1="678.1" x2="339.9" y2="684.1" stroke="#444" stroke-width="0.4"/>
<text x="340.50" y="746.60" font-style="italic" font-size="9.2">Klf2</text>
<line x1="338.9" y1="740.3" x2="339.9" y2="746.3" stroke="#444" stroke-width="0.4"/>
<text x="340.50" y="754.50" font-style="italic" font-size="9.2">Tcf7</text>
<line x1="338.9" y1="748.2" x2="339.9" y2="754.2" stroke="#444" stroke-width="0.4"/>
<text x="340.50" y="764.70" font-style="italic" font-size="9.2">Il18r1</text>
<line x1="338.9" y1="758.4" x2="339.9" y2="764.4" stroke="#444" stroke-width="0.4"/>
<text x="340.50" y="775.80" font-style="italic" font-size="9.2">Slamf6</text>
<line x1="338.9" y1="769.5" x2="339.9" y2="775.5" stroke="#444" stroke-width="0.4"/>
<text x="375.30" y="489.50" font-weight="bold" fill="#000" font-size="13">g</text>
<rect x="418.80" y="493.10" width="61.50" height="63.30" fill="#fff"/>
<g clip-path="url(#gcl0)">
<path d="M421.4,526.2 L421.4,495.4 L463.9,495.4 L463.9,513.8Z" fill="#dcedf2"/>
<path d="M421.4,555.8 L421.4,526.2 L463.9,513.8 L463.9,541.9 L428.8,555.8Z" fill="#fbdcd8"/>
<path d="M428.8,555.8 L463.9,541.9 L474.5,541.9 L474.5,555.8Z" fill="#eef0dc"/>
<path d="M474.5,541.9 L463.9,541.9 L463.9,495.4 L421.4,495.4 L421.4,555.8 L474.5,555.8 Z" fill="none" stroke="#8a8a8a" stroke-width="0.6"/>
<path d="M451.7 495.2 443.1 494.4 436.6 496.2 432.0 500.3 429.5 506.3 428.9 512.4 429.5 530.4 430.8 538.8 432.4 542.5 434.5 544.9 437.7 547.0 442.0 548.4 449.6 548.5 456.1 546.5 460.4 542.4 462.7 535.2 463.3 513.6 462.3 505.1 460.9 501.5 458.2 498.2Z" fill="none" stroke="#555" stroke-width="0.5"/>
<path d="M446.3 496.7 439.9 497.5 434.5 501.1 431.7 506.3 430.9 513.6 431.7 531.6 433.4 538.8 435.5 541.9 437.7 543.5 442.0 545.0 446.3 545.4 450.7 545.0 455.0 543.6 457.1 542.0 459.3 538.8 461.0 531.6 461.3 514.8 460.6 507.5 457.8 501.5 453.9 498.7Z" fill="none" stroke="#555" stroke-width="0.5"/>
<path d="M449.6 499.0 444.2 498.2 438.8 499.8 434.6 503.9 432.7 509.9 433.3 529.2 434.2 535.2 435.5 538.2 437.7 540.6 443.1 542.6 449.6 542.6 453.9 541.3 457.1 538.3 459.0 532.8 459.7 514.8 458.8 507.5 456.1 502.7Z" fill="#dcdbb0" stroke="#444" stroke-width="0.5" stroke-opacity="0.9"/>
<path d="M448.5 500.1 443.1 499.6 438.8 501.6 435.7 505.1 434.0 511.1 435.1 529.2 435.9 534.0 438.8 538.3 444.2 540.2 449.6 540.1 453.9 538.3 456.3 535.2 457.5 530.4 458.1 514.8 457.4 508.7 454.7 503.9Z" fill="#d6d494" stroke="#444" stroke-width="0.5" stroke-opacity="0.9"/>
<path d="M448.5 501.4 444.2 500.7 439.9 502.3 436.5 506.3 435.4 511.1 438.0 532.8 440.9 536.3 445.3 537.5 449.6 537.2 452.8 535.6 454.7 532.8 455.5 529.2 456.4 514.8 455.9 509.9 453.5 505.1Z" fill="#d9cd78" stroke="#444" stroke-width="0.5" stroke-opacity="0.9"/>
<path d="M448.5 502.6 444.2 501.7 440.9 502.9 437.9 506.3 436.7 509.9 437.1 516.0 440.9 530.4 443.1 532.8 445.3 533.5 449.6 532.9 451.7 530.6 454.5 514.8 454.4 511.1 453.3 507.5 451.6 505.1Z" fill="#e2c85c" stroke="#444" stroke-width="0.5" stroke-opacity="0.9"/>
<path d="M448.5 503.8 445.3 502.7 442.0 503.4 439.9 505.2 438.1 508.7 438.0 513.6 439.2 517.2 440.9 519.8 444.2 521.9 447.4 521.7 449.6 520.3 452.5 514.8 452.2 508.7 451.0 506.3Z" fill="#eac048" stroke="#444" stroke-width="0.5" stroke-opacity="0.9"/>
<path d="M446.3 503.8 444.2 503.7 441.2 505.1 439.5 507.5 438.9 509.9 439.1 513.6 440.2 516.0 442.0 518.1 444.2 519.0 446.3 518.9 448.5 517.9 450.2 516.0 451.4 512.4 450.5 507.5 448.6 505.1Z" fill="#efb23a" stroke="#444" stroke-width="0.5" stroke-opacity="0.9"/>
<path d="M446.3 504.7 444.2 504.5 442.0 505.5 440.4 507.5 439.7 509.9 440.8 514.8 442.0 516.2 444.2 517.3 446.3 517.1 448.3 516.0 450.2 512.4 449.4 507.5Z" fill="#f09a2c" stroke="#444" stroke-width="0.5" stroke-opacity="0.9"/>
<path d="M446.3 505.7 443.1 505.9 440.9 508.7 440.6 511.1 441.4 513.6 444.2 515.8 447.4 514.9 449.0 512.4 448.9 508.7Z" fill="#f07c22" stroke="#444" stroke-width="0.5" stroke-opacity="0.9"/>
<path d="M446.3 506.9 444.2 506.5 441.8 508.7 441.9 512.4 444.2 514.5 446.3 514.1 447.8 512.4 447.9 508.7Z" fill="#ef5a1a" stroke="#444" stroke-width="0.5" stroke-opacity="0.9"/>
<path d="M446.3 508.3 444.2 507.7 443.0 508.7 442.7 511.1 444.2 513.0 446.3 512.5 447.0 511.1Z" fill="#ee3814" stroke="#444" stroke-width="0.5" stroke-opacity="0.9"/>
<path d="M446.3 499.0 440.9 499.6 436.5 502.7 433.9 507.5 433.3 513.6 434.3 530.4 435.8 536.4 437.6 538.8 439.9 540.3 446.3 541.5 452.8 540.4 455.1 538.8 456.9 536.4 458.4 530.4 458.9 514.8 458.2 508.7 456.1 504.2 451.7 500.8Z" fill="none" stroke="#555" stroke-width="0.4"/>
<path d="M446.3 500.2 442.0 500.6 437.7 503.5 435.4 507.5 434.7 512.4 436.1 529.2 437.2 534.0 440.3 537.6 446.3 538.9 452.4 537.6 455.5 534.0 456.6 529.2 457.2 514.8 456.5 508.7 454.6 505.1 450.7 501.8Z" fill="none" stroke="#555" stroke-width="0.4"/>
<path d="M446.3 501.3 442.0 501.7 438.9 503.9 436.7 507.5 436.0 512.4 439.2 531.6 442.0 534.8 446.3 535.7 450.7 534.9 453.5 531.6 455.5 513.6 455.0 509.9 453.4 506.3 450.7 503.4Z" fill="none" stroke="#555" stroke-width="0.4"/>
<path d="M446.3 502.4 443.1 502.5 439.9 504.5 437.9 507.5 437.2 511.1 437.9 516.0 439.9 520.5 444.2 527.6 446.3 528.6 448.5 527.3 451.7 520.4 453.2 516.0 453.6 512.4 453.0 508.7 451.7 506.3 449.5 503.9Z" fill="none" stroke="#555" stroke-width="0.4"/>
<path d="M447.4 503.8 444.2 503.2 442.0 504.0 439.9 506.0 438.6 508.7 438.4 512.4 439.4 516.0 442.0 519.2 444.2 520.2 446.3 520.2 448.5 519.2 450.7 516.8 451.9 513.6 452.0 511.1 451.1 507.5Z" fill="none" stroke="#555" stroke-width="0.4"/>
<path d="M447.4 504.8 445.3 504.1 443.1 504.4 440.9 506.0 439.5 508.7 439.4 512.4 440.2 514.8 442.0 517.1 444.2 518.1 447.9 517.2 450.5 513.6 450.4 508.7 449.2 506.3Z" fill="none" stroke="#555" stroke-width="0.4"/>
<path d="M445.3 505.0 441.8 506.3 440.4 508.7 440.2 511.1 442.0 515.4 445.3 516.6 448.5 514.8 449.8 511.1 448.5 507.0Z" fill="none" stroke="#555" stroke-width="0.4"/>
<path d="M446.3 506.3 443.1 506.4 441.4 508.7 441.4 512.4 444.2 515.1 446.5 514.8 448.5 512.2 448.4 508.7Z" fill="none" stroke="#555" stroke-width="0.4"/>
<path d="M446.3 507.5 444.2 507.1 442.4 508.7 442.1 511.1 444.2 513.8 446.3 513.4 447.4 511.9 447.7 509.9Z" fill="none" stroke="#555" stroke-width="0.4"/>
<path d="M428.8 504.5h1v1h-1zM429.7 541.7h1v1h-1zM427.3 525.8h1v1h-1zM462.5 533.1h1v1h-1zM461.0 549.8h1v1h-1zM443.8 550.6h1v1h-1zM435.6 543.4h1v1h-1zM432.0 503.3h1v1h-1zM468.1 552.6h1v1h-1zM447.5 554.4h1v1h-1zM427.3 520.5h1v1h-1zM427.8 521.5h1v1h-1zM468.9 543.8h1v1h-1zM455.3 550.3h1v1h-1zM452.2 545.6h1v1h-1zM453.7 499.1h1v1h-1zM453.6 547.0h1v1h-1zM435.6 496.9h1v1h-1zM458.9 499.5h1v1h-1zM462.5 550.7h1v1h-1zM432.7 529.5h1v1h-1zM438.6 550.5h1v1h-1zM454.8 549.7h1v1h-1zM462.9 508.0h1v1h-1zM472.6 532.1h1v1h-1zM430.5 505.9h1v1h-1zM432.5 532.8h1v1h-1zM453.9 498.6h1v1h-1zM440.2 547.5h1v1h-1zM451.2 547.7h1v1h-1zM462.0 533.1h1v1h-1zM462.4 503.7h1v1h-1zM447.7 549.9h1v1h-1zM430.6 518.5h1v1h-1zM425.9 509.6h1v1h-1zM430.7 528.8h1v1h-1zM430.6 527.3h1v1h-1zM426.9 514.4h1v1h-1zM453.7 545.1h1v1h-1zM452.7 498.0h1v1h-1zM427.0 535.2h1v1h-1zM431.6 542.7h1v1h-1zM433.9 540.6h1v1h-1zM448.9 544.1h1v1h-1zM463.9 552.4h1v1h-1z" fill="#5ab0d0"/>
<line x1="421.4" y1="526.2" x2="463.9" y2="513.8" stroke="#5a5a5a" stroke-width="1.25"/>
<line x1="428.8" y1="555.8" x2="463.9" y2="541.9" stroke="#5a5a5a" stroke-width="1.06"/>
</g>
<rect x="418.80" y="493.10" width="61.50" height="63.30" fill="none" stroke="#8c8c8c" stroke-width="0.9"/>
<line x1="416.20" y1="555.80" x2="418.80" y2="555.80" stroke="#555" stroke-width="0.7"/>
<text x="411.60" y="559.00" text-anchor="end">0</text>
<line x1="416.20" y1="543.96" x2="418.80" y2="543.96" stroke="#555" stroke-width="0.7"/>
<text x="411.60" y="547.16" text-anchor="end">0.2</text>
<line x1="416.20" y1="532.12" x2="418.80" y2="532.12" stroke="#555" stroke-width="0.7"/>
<text x="411.60" y="535.32" text-anchor="end">0.4</text>
<line x1="416.20" y1="520.28" x2="418.80" y2="520.28" stroke="#555" stroke-width="0.7"/>
<text x="411.60" y="523.48" text-anchor="end">0.6</text>
<line x1="416.20" y1="508.44" x2="418.80" y2="508.44" stroke="#555" stroke-width="0.7"/>
<text x="411.60" y="511.64" text-anchor="end">0.8</text>
<line x1="416.20" y1="496.60" x2="418.80" y2="496.60" stroke="#555" stroke-width="0.7"/>
<text x="411.60" y="499.80" text-anchor="end">1.0</text>
<line x1="421.40" y1="556.40" x2="421.40" y2="559.20" stroke="#555" stroke-width="0.7"/>
<text transform="translate(425.00,567.80) rotate(-45)" text-anchor="end" font-size="9.3">0.15</text>
<line x1="437.17" y1="556.40" x2="437.17" y2="559.20" stroke="#555" stroke-width="0.7"/>
<text transform="translate(440.77,567.80) rotate(-45)" text-anchor="end" font-size="9.3">0.3</text>
<line x1="456.61" y1="556.40" x2="456.61" y2="559.20" stroke="#555" stroke-width="0.7"/>
<text transform="translate(460.21,567.80) rotate(-45)" text-anchor="end" font-size="9.3">0.6</text>
<line x1="466.85" y1="556.40" x2="466.85" y2="559.20" stroke="#555" stroke-width="0.7"/>
<text transform="translate(470.45,567.80) rotate(-45)" text-anchor="end" font-size="9.3">1</text>
<line x1="474.50" y1="556.40" x2="474.50" y2="559.20" stroke="#555" stroke-width="0.7"/>
<text transform="translate(478.10,567.80) rotate(-45)" text-anchor="end" font-size="9.3">6</text>
<text x="449.00" y="489.80" text-anchor="middle" font-style="italic">Gzma</text>
<rect x="486.60" y="493.10" width="61.50" height="63.30" fill="#fff"/>
<g clip-path="url(#gcl1)">
<path d="M489.2,526.2 L489.2,495.4 L531.7,495.4 L531.7,513.8Z" fill="#dcedf2"/>
<path d="M489.2,555.8 L489.2,526.2 L531.7,513.8 L531.7,541.9 L496.6,555.8Z" fill="#fbdcd8"/>
<path d="M496.6,555.8 L531.7,541.9 L542.3,541.9 L542.3,555.8Z" fill="#eef0dc"/>
<path d="M542.3,541.9 L531.7,541.9 L531.7,495.4 L489.2,495.4 L489.2,555.8 L542.3,555.8 Z" fill="none" stroke="#8a8a8a" stroke-width="0.6"/>
<path d="M515.2 492.8 510.9 492.5 507.7 493.0 503.3 494.9 501.2 496.7 497.6 502.7 495.9 511.1 495.7 528.0 496.3 534.0 497.8 540.0 499.6 543.7 502.3 546.5 505.5 548.3 509.8 549.3 519.5 548.3 526.0 545.2 529.5 540.0 531.0 532.8 531.2 512.4 529.5 502.7 527.5 499.1 524.9 496.6 521.7 494.8Z" fill="none" stroke="#555" stroke-width="0.5"/>
<path d="M516.3 496.7 510.9 496.2 504.4 498.4 500.5 502.7 498.4 509.9 497.8 526.8 499.1 536.4 502.4 542.5 505.5 544.6 508.7 545.6 517.4 545.3 523.9 543.1 527.1 539.3 528.8 534.0 529.4 516.0 527.9 505.1 526.0 501.7 523.9 499.6Z" fill="none" stroke="#555" stroke-width="0.5"/>
<path d="M516.3 498.9 510.9 498.3 505.5 500.5 502.3 504.0 500.2 509.9 499.3 525.6 500.1 534.0 501.5 537.6 503.3 540.3 505.5 542.0 508.7 543.0 516.3 542.9 521.7 541.5 524.9 538.8 527.2 532.8 527.8 517.2 526.7 507.5 523.9 502.7Z" fill="#dcdbb0" stroke="#444" stroke-width="0.5" stroke-opacity="0.9"/>
<path d="M515.2 500.2 510.9 499.9 506.6 502.0 503.3 505.9 501.7 511.1 500.5 525.6 500.9 531.6 503.3 537.6 505.5 539.7 508.7 540.9 516.3 540.5 521.5 538.8 523.9 536.4 525.7 531.6 526.2 517.2 525.1 508.7 521.8 503.9Z" fill="#d6d494" stroke="#444" stroke-width="0.5" stroke-opacity="0.9"/>
<path d="M514.1 501.2 510.9 501.2 506.7 503.9 504.4 507.5 503.1 512.4 501.6 525.6 502.0 531.6 504.4 536.6 508.7 539.1 514.1 538.6 520.4 536.4 522.8 533.9 524.2 529.2 524.5 517.2 523.4 509.9 520.1 505.1Z" fill="#d9cd78" stroke="#444" stroke-width="0.5" stroke-opacity="0.9"/>
<path d="M514.1 502.4 510.9 502.4 508.4 503.9 505.9 507.5 504.9 511.1 502.7 525.6 502.8 530.4 504.9 535.2 508.7 537.4 513.1 536.9 518.6 534.0 520.7 531.6 521.9 528.0 522.3 517.2 521.4 511.1 518.0 505.1Z" fill="#e2c85c" stroke="#444" stroke-width="0.5" stroke-opacity="0.9"/>
<path d="M514.1 503.5 512.0 503.2 510.1 503.9 507.1 507.5 506.2 511.1 506.0 518.4 503.7 525.6 503.6 529.2 504.7 532.8 506.6 535.0 508.7 535.9 512.0 535.5 514.4 534.0 517.3 530.4 518.4 526.8 519.4 511.1 517.5 506.3Z" fill="#eac048" stroke="#444" stroke-width="0.5" stroke-opacity="0.9"/>
<path d="M514.1 504.5 512.0 504.1 509.8 505.2 507.4 509.9 508.0 518.4 505.1 524.4 504.4 528.0 505.5 532.2 508.7 534.6 510.9 534.4 513.3 532.8 515.5 528.0 515.1 520.8 517.5 516.0 518.1 511.1 517.1 507.5Z" fill="#efb23a" stroke="#444" stroke-width="0.5" stroke-opacity="0.9"/>
<path d="M510.9 521.2 507.7 522.6 505.4 526.8 505.4 529.2 506.3 531.6 508.7 533.3 512.0 532.3 513.7 529.2 513.2 524.4Z" fill="#f09a2c" stroke="#444" stroke-width="0.5" stroke-opacity="0.9"/>
<path d="M513.1 505.0 509.8 506.3 508.1 511.1 509.0 516.0 510.9 519.0 512.0 519.2 515.2 517.1 517.1 512.4 516.1 507.5Z" fill="#f09a2c" stroke="#444" stroke-width="0.5" stroke-opacity="0.9"/>
<path d="M509.8 523.9 507.7 524.8 506.5 526.8 507.0 530.4 508.7 531.9 510.9 531.3 512.2 529.2 511.8 525.6Z" fill="#f07c22" stroke="#444" stroke-width="0.5" stroke-opacity="0.9"/>
<path d="M513.1 506.0 510.9 506.5 509.0 509.9 509.7 514.8 512.0 516.7 514.3 516.0 516.2 512.4 515.8 508.7Z" fill="#f07c22" stroke="#444" stroke-width="0.5" stroke-opacity="0.9"/>
<path d="M509.8 526.4 508.7 526.4 507.9 528.0 508.7 529.8 510.3 529.2 510.6 528.0Z" fill="#ef5a1a" stroke="#444" stroke-width="0.5" stroke-opacity="0.9"/>
<path d="M513.1 507.0 510.9 507.7 509.8 509.9 510.3 513.6 512.0 515.2 514.1 514.5 515.3 512.4 514.9 508.7Z" fill="#ef5a1a" stroke="#444" stroke-width="0.5" stroke-opacity="0.9"/>
<path d="M513.1 508.2 512.0 508.2 510.7 509.9 510.9 512.4 512.0 513.7 513.2 513.6 514.5 511.1 514.1 509.3Z" fill="#ee3814" stroke="#444" stroke-width="0.5" stroke-opacity="0.9"/>
<path d="M513.1 499.1 507.7 500.3 503.5 503.9 501.4 508.7 500.5 514.8 499.9 526.8 500.9 534.0 502.4 537.6 504.4 540.0 509.8 542.0 518.5 541.2 522.8 539.3 525.6 535.2 526.8 529.2 526.8 513.6 525.1 506.3 521.7 502.5 516.3 499.8Z" fill="none" stroke="#555" stroke-width="0.4"/>
<path d="M516.3 501.4 512.0 500.4 507.7 502.1 504.1 506.3 502.5 511.1 501.1 525.6 501.5 531.6 502.7 535.2 504.4 537.6 508.7 539.9 514.1 539.7 520.6 537.8 523.3 535.2 524.7 531.6 525.4 518.4 524.4 509.9 521.7 505.3Z" fill="none" stroke="#555" stroke-width="0.4"/>
<path d="M515.2 502.2 512.0 501.6 508.7 502.9 505.8 506.3 504.1 511.1 502.2 525.6 502.3 530.4 504.4 535.6 506.6 537.5 508.7 538.2 513.1 537.8 519.5 535.2 521.8 532.8 523.0 529.2 523.5 518.4 522.6 511.1 520.0 506.3Z" fill="none" stroke="#555" stroke-width="0.4"/>
<path d="M513.1 502.7 509.2 503.9 506.6 507.5 505.6 511.1 505.1 518.4 503.2 525.6 503.1 529.2 504.1 532.8 505.9 535.2 508.7 536.6 513.1 535.9 517.4 532.8 519.5 529.9 520.6 525.6 520.9 516.0 519.9 509.9 517.2 505.1 515.2 503.4Z" fill="none" stroke="#555" stroke-width="0.4"/>
<path d="M513.1 503.7 509.8 504.6 507.2 508.7 507.0 518.4 504.1 526.8 504.3 530.4 505.3 532.8 506.6 534.3 508.7 535.2 510.9 535.1 513.0 534.0 515.9 530.4 516.8 526.8 516.9 520.8 518.6 514.8 518.7 511.1 517.6 507.5 515.2 504.6Z" fill="none" stroke="#555" stroke-width="0.4"/>
<path d="M514.1 504.9 512.0 504.6 509.8 505.8 507.8 509.9 507.8 513.6 509.1 519.6 505.7 524.4 504.9 528.0 505.7 531.6 508.7 534.0 512.0 533.1 514.0 530.4 514.6 526.8 513.4 520.8 516.3 516.8 517.5 513.6 517.1 508.7 515.8 506.3Z" fill="none" stroke="#555" stroke-width="0.4"/>
<path d="M510.9 523.1 509.8 522.7 507.7 523.7 506.0 526.8 506.3 530.4 508.7 532.6 511.6 531.6 512.9 529.2 512.7 525.6Z" fill="none" stroke="#555" stroke-width="0.4"/>
<path d="M514.1 505.9 510.9 506.0 509.5 507.5 508.6 509.9 509.1 514.8 510.9 517.3 512.0 517.7 515.2 516.0 516.6 512.4 516.2 508.7Z" fill="none" stroke="#555" stroke-width="0.4"/>
<path d="M509.8 525.0 507.7 526.0 507.1 528.0 507.7 530.2 508.7 531.0 510.7 530.4 511.4 529.2 511.4 526.8Z" fill="none" stroke="#555" stroke-width="0.4"/>
<path d="M514.1 507.0 512.0 506.5 510.9 507.1 509.4 509.9 509.8 513.7 512.0 515.9 514.1 515.3 515.7 512.4 515.4 508.7Z" fill="none" stroke="#555" stroke-width="0.4"/>
<path d="M513.1 507.5 510.9 508.5 510.3 509.9 510.4 512.4 512.0 514.4 514.1 513.6 514.9 511.1 514.4 508.7Z" fill="none" stroke="#555" stroke-width="0.4"/>
<path d="M534.4 520.0h1v1h-1zM500.9 552.3h1v1h-1zM531.7 498.0h1v1h-1zM531.0 502.4h1v1h-1zM494.2 537.0h1v1h-1zM533.7 532.2h1v1h-1zM500.3 539.4h1v1h-1zM499.1 532.0h1v1h-1zM506.5 545.7h1v1h-1zM518.1 544.6h1v1h-1zM496.5 518.8h1v1h-1zM507.0 554.7h1v1h-1zM516.5 549.9h1v1h-1zM527.3 538.9h1v1h-1zM517.5 551.6h1v1h-1zM496.4 514.9h1v1h-1zM498.9 519.5h1v1h-1zM535.3 522.0h1v1h-1zM535.2 515.7h1v1h-1zM503.7 547.3h1v1h-1zM528.9 535.2h1v1h-1zM499.1 509.7h1v1h-1zM524.7 550.1h1v1h-1zM496.3 543.3h1v1h-1zM500.7 543.8h1v1h-1zM515.5 552.2h1v1h-1zM532.1 532.2h1v1h-1zM493.7 534.8h1v1h-1zM524.8 498.1h1v1h-1zM534.5 521.4h1v1h-1zM499.8 506.5h1v1h-1zM504.3 548.1h1v1h-1zM505.0 553.7h1v1h-1zM496.8 521.8h1v1h-1zM499.8 516.3h1v1h-1zM534.1 509.0h1v1h-1zM538.2 546.8h1v1h-1zM540.2 532.3h1v1h-1zM514.8 545.1h1v1h-1zM534.2 518.1h1v1h-1zM494.2 498.7h1v1h-1zM521.7 499.6h1v1h-1zM507.6 555.0h1v1h-1zM534.4 543.6h1v1h-1zM513.9 548.5h1v1h-1z" fill="#5ab0d0"/>
<line x1="489.2" y1="526.2" x2="531.7" y2="513.8" stroke="#5a5a5a" stroke-width="1.25"/>
<line x1="496.6" y1="555.8" x2="531.7" y2="541.9" stroke="#5a5a5a" stroke-width="1.06"/>
</g>
<rect x="486.60" y="493.10" width="61.50" height="63.30" fill="none" stroke="#8c8c8c" stroke-width="0.9"/>
<line x1="484.00" y1="555.80" x2="486.60" y2="555.80" stroke="#555" stroke-width="0.7"/>
<line x1="484.00" y1="543.96" x2="486.60" y2="543.96" stroke="#555" stroke-width="0.7"/>
<line x1="484.00" y1="532.12" x2="486.60" y2="532.12" stroke="#555" stroke-width="0.7"/>
<line x1="484.00" y1="520.28" x2="486.60" y2="520.28" stroke="#555" stroke-width="0.7"/>
<line x1="484.00" y1="508.44" x2="486.60" y2="508.44" stroke="#555" stroke-width="0.7"/>
<line x1="484.00" y1="496.60" x2="486.60" y2="496.60" stroke="#555" stroke-width="0.7"/>
<line x1="489.20" y1="556.40" x2="489.20" y2="559.20" stroke="#555" stroke-width="0.7"/>
<text transform="translate(492.80,567.80) rotate(-45)" text-anchor="end" font-size="9.3">0.15</text>
<line x1="504.97" y1="556.40" x2="504.97" y2="559.20" stroke="#555" stroke-width="0.7"/>
<text transform="translate(508.57,567.80) rotate(-45)" text-anchor="end" font-size="9.3">0.3</text>
<line x1="524.41" y1="556.40" x2="524.41" y2="559.20" stroke="#555" stroke-width="0.7"/>
<text transform="translate(528.01,567.80) rotate(-45)" text-anchor="end" font-size="9.3">0.6</text>
<line x1="534.65" y1="556.40" x2="534.65" y2="559.20" stroke="#555" stroke-width="0.7"/>
<text transform="translate(538.25,567.80) rotate(-45)" text-anchor="end" font-size="9.3">1</text>
<line x1="542.30" y1="556.40" x2="542.30" y2="559.20" stroke="#555" stroke-width="0.7"/>
<text transform="translate(545.90,567.80) rotate(-45)" text-anchor="end" font-size="9.3">6</text>
<text x="516.80" y="489.80" text-anchor="middle" font-style="italic">Gzmb</text>
<rect x="554.00" y="493.10" width="61.50" height="63.30" fill="#fff"/>
<g clip-path="url(#gcl2)">
<path d="M556.6,526.2 L556.6,495.4 L599.1,495.4 L599.1,513.8Z" fill="#dcedf2"/>
<path d="M556.6,555.8 L556.6,526.2 L599.1,513.8 L599.1,541.9 L564.0,555.8Z" fill="#fbdcd8"/>
<path d="M564.0,555.8 L599.1,541.9 L609.7,541.9 L609.7,555.8Z" fill="#eef0dc"/>
<path d="M609.7,541.9 L599.1,541.9 L599.1,495.4 L556.6,495.4 L556.6,555.8 L609.7,555.8 Z" fill="none" stroke="#8a8a8a" stroke-width="0.6"/>
<path d="M585.9 492.9 578.3 492.1 574.0 493.3 570.7 495.1 566.4 500.3 563.9 508.7 563.5 526.8 565.1 538.8 567.3 543.7 569.6 546.2 572.9 548.2 577.2 549.5 584.8 549.4 592.3 546.5 596.0 542.5 598.4 535.2 599.1 516.0 597.6 503.9 596.1 500.3 593.4 496.9 590.2 494.6Z" fill="none" stroke="#555" stroke-width="0.5"/>
<path d="M584.8 496.5 577.2 496.1 571.8 498.2 568.0 502.7 566.2 508.7 565.6 525.6 566.9 536.4 568.4 540.0 570.7 543.0 572.9 544.5 577.2 545.7 585.9 545.5 591.2 543.4 594.5 539.8 596.4 534.0 597.1 517.2 595.9 506.3 594.4 502.7 592.3 500.0 589.1 497.9Z" fill="none" stroke="#555" stroke-width="0.5"/>
<path d="M584.8 498.9 579.4 498.0 574.0 499.3 570.1 502.7 567.9 508.7 567.3 524.4 568.5 535.2 569.6 538.0 571.8 540.8 577.2 543.0 584.8 543.0 590.0 541.3 593.3 537.6 594.8 532.8 595.4 517.2 594.3 507.5 591.2 502.2Z" fill="#dcdbb0" stroke="#444" stroke-width="0.5" stroke-opacity="0.9"/>
<path d="M582.6 499.9 578.3 499.4 574.0 500.9 570.4 505.1 569.1 509.9 568.9 525.6 570.1 534.0 572.9 538.6 578.3 540.7 584.8 540.5 589.4 538.8 592.2 535.2 593.6 529.2 593.8 514.8 592.3 507.5 589.1 503.3Z" fill="#d6d494" stroke="#444" stroke-width="0.5" stroke-opacity="0.9"/>
<path d="M582.6 501.3 578.3 500.6 574.0 502.4 571.8 505.1 570.4 509.9 570.5 524.4 571.3 531.6 574.0 536.3 578.3 538.1 584.8 537.9 588.4 536.4 591.0 532.8 592.0 528.0 592.2 517.2 591.2 509.9 588.2 505.1Z" fill="#d9cd78" stroke="#444" stroke-width="0.5" stroke-opacity="0.9"/>
<path d="M582.6 502.5 578.3 501.6 575.1 502.9 572.3 506.3 571.5 509.9 572.3 524.4 573.4 530.4 575.8 534.0 579.4 535.2 583.7 535.0 586.9 533.6 589.1 530.6 590.1 525.6 590.2 517.2 589.3 511.1 586.9 506.3Z" fill="#e2c85c" stroke="#444" stroke-width="0.5" stroke-opacity="0.9"/>
<path d="M580.5 502.7 577.2 502.8 575.1 504.1 573.4 506.3 572.6 509.9 575.1 527.0 577.2 530.2 580.5 531.3 583.7 530.6 585.9 528.7 587.5 524.4 587.9 519.6 587.3 512.4 585.9 507.5 583.7 504.5Z" fill="#eac048" stroke="#444" stroke-width="0.5" stroke-opacity="0.9"/>
<path d="M580.5 503.6 577.2 503.7 575.2 505.1 573.8 507.5 573.5 509.9 576.1 524.2 578.3 527.2 580.5 527.9 582.6 527.3 584.8 525.0 586.2 518.4 584.7 507.5 583.1 505.1Z" fill="#efb23a" stroke="#444" stroke-width="0.5" stroke-opacity="0.9"/>
<path d="M581.5 504.9 579.4 504.2 577.2 504.5 575.2 506.3 574.4 508.7 576.8 522.0 578.3 524.6 580.5 525.6 582.6 524.8 583.7 523.4 584.8 519.6 584.1 508.7Z" fill="#f09a2c" stroke="#444" stroke-width="0.5" stroke-opacity="0.9"/>
<path d="M579.4 505.0 576.2 506.3 575.2 509.9 577.8 520.8 579.4 523.2 580.5 523.5 581.6 523.2 583.2 520.8 583.3 509.9 581.9 506.3Z" fill="#f07c22" stroke="#444" stroke-width="0.5" stroke-opacity="0.9"/>
<path d="M580.5 506.3 578.3 506.0 577.2 506.6 576.0 509.9 578.0 514.8 578.9 519.6 580.5 521.3 582.0 519.6 582.3 509.9 581.7 507.5Z" fill="#ef5a1a" stroke="#444" stroke-width="0.5" stroke-opacity="0.9"/>
<path d="M579.4 507.1 577.8 507.5 577.0 509.9 579.4 513.3 580.5 512.9 581.3 509.9 580.5 507.6Z" fill="#ee3814" stroke="#444" stroke-width="0.5" stroke-opacity="0.9"/>
<path d="M581.5 499.0 576.1 499.2 571.8 501.9 569.2 506.3 568.1 513.6 568.2 528.0 569.6 535.6 572.9 540.1 576.1 541.5 579.4 542.0 586.9 541.2 591.1 538.8 593.6 534.0 594.6 526.8 594.5 513.6 592.8 506.3 589.1 502.0Z" fill="none" stroke="#555" stroke-width="0.4"/>
<path d="M580.5 500.1 575.1 501.0 571.8 503.9 569.9 508.7 569.6 517.2 570.0 529.2 571.7 535.2 575.1 538.5 580.5 539.5 586.9 538.7 589.1 537.5 591.0 535.2 592.6 530.4 593.1 520.8 592.6 512.4 590.5 506.3 585.9 502.2Z" fill="none" stroke="#555" stroke-width="0.4"/>
<path d="M581.5 501.5 578.3 501.1 574.4 502.7 572.4 505.1 571.0 509.9 571.4 525.6 572.5 531.6 575.1 535.4 579.4 536.8 584.8 536.4 588.0 534.8 590.2 531.4 591.1 525.6 591.2 516.0 590.0 509.9 586.9 505.1Z" fill="none" stroke="#555" stroke-width="0.4"/>
<path d="M581.5 502.5 578.3 502.1 575.1 503.5 572.9 506.3 572.1 509.9 573.3 524.4 574.4 529.2 577.2 532.6 580.5 533.3 584.8 532.5 586.9 530.8 588.5 526.8 589.1 520.8 588.8 514.8 587.3 508.7 585.1 505.1Z" fill="none" stroke="#555" stroke-width="0.4"/>
<path d="M581.5 503.5 578.3 503.0 575.9 503.9 573.9 506.3 573.1 509.9 575.7 525.6 577.3 528.0 580.5 529.4 582.6 528.9 585.1 526.8 586.5 523.2 586.9 519.6 585.7 508.7 583.7 505.2Z" fill="none" stroke="#555" stroke-width="0.4"/>
<path d="M579.4 503.8 575.7 505.1 574.2 507.5 573.9 509.9 576.5 523.2 578.3 525.8 580.5 526.6 582.6 526.0 584.0 524.4 585.3 520.8 585.4 517.2 584.2 507.5 582.4 505.1Z" fill="none" stroke="#555" stroke-width="0.4"/>
<path d="M580.5 504.8 578.3 504.6 576.1 505.8 575.1 507.5 574.7 509.9 577.5 522.0 578.3 523.4 580.5 524.6 582.9 523.2 584.2 518.4 583.6 508.7 582.4 506.3Z" fill="none" stroke="#555" stroke-width="0.4"/>
<path d="M580.5 505.8 578.3 505.5 576.9 506.3 575.6 509.9 577.6 516.0 578.3 520.2 579.4 522.1 580.5 522.5 582.5 520.8 582.9 518.4 582.6 508.7Z" fill="none" stroke="#555" stroke-width="0.4"/>
<path d="M580.5 506.9 578.3 506.6 577.2 507.3 576.5 509.9 579.6 516.0 580.5 519.2 581.8 509.9Z" fill="none" stroke="#555" stroke-width="0.4"/>
<path d="M573.1 542.5h1v1h-1zM566.1 518.1h1v1h-1zM586.0 554.1h1v1h-1zM596.0 543.4h1v1h-1zM601.2 513.8h1v1h-1zM594.1 551.3h1v1h-1zM608.3 537.3h1v1h-1zM562.1 503.7h1v1h-1zM600.2 515.5h1v1h-1zM568.4 540.4h1v1h-1zM580.6 551.9h1v1h-1zM566.3 517.4h1v1h-1zM599.0 517.6h1v1h-1zM579.1 554.7h1v1h-1zM572.1 555.3h1v1h-1zM562.9 521.6h1v1h-1zM567.3 519.6h1v1h-1zM564.2 511.7h1v1h-1zM603.8 544.1h1v1h-1zM596.5 517.7h1v1h-1zM597.7 528.4h1v1h-1zM581.9 550.5h1v1h-1zM595.0 551.4h1v1h-1zM584.9 546.9h1v1h-1zM587.3 555.1h1v1h-1zM603.0 525.5h1v1h-1zM597.4 533.7h1v1h-1zM597.6 546.2h1v1h-1zM560.3 531.4h1v1h-1zM580.6 553.3h1v1h-1zM567.7 506.6h1v1h-1zM560.8 510.0h1v1h-1zM602.6 538.8h1v1h-1zM572.0 552.6h1v1h-1zM595.6 546.4h1v1h-1zM561.2 502.0h1v1h-1zM561.7 510.8h1v1h-1zM599.9 541.0h1v1h-1zM576.4 542.6h1v1h-1zM594.2 498.2h1v1h-1zM596.1 526.6h1v1h-1zM594.5 539.9h1v1h-1zM570.1 497.3h1v1h-1zM595.2 544.9h1v1h-1zM563.7 526.2h1v1h-1z" fill="#5ab0d0"/>
<line x1="556.6" y1="526.2" x2="599.1" y2="513.8" stroke="#5a5a5a" stroke-width="1.25"/>
<line x1="564.0" y1="555.8" x2="599.1" y2="541.9" stroke="#5a5a5a" stroke-width="1.06"/>
</g>
<rect x="554.00" y="493.10" width="61.50" height="63.30" fill="none" stroke="#8c8c8c" stroke-width="0.9"/>
<line x1="551.40" y1="555.80" x2="554.00" y2="555.80" stroke="#555" stroke-width="0.7"/>
<line x1="551.40" y1="543.96" x2="554.00" y2="543.96" stroke="#555" stroke-width="0.7"/>
<line x1="551.40" y1="532.12" x2="554.00" y2="532.12" stroke="#555" stroke-width="0.7"/>
<line x1="551.40" y1="520.28" x2="554.00" y2="520.28" stroke="#555" stroke-width="0.7"/>
<line x1="551.40" y1="508.44" x2="554.00" y2="508.44" stroke="#555" stroke-width="0.7"/>
<line x1="551.40" y1="496.60" x2="554.00" y2="496.60" stroke="#555" stroke-width="0.7"/>
<line x1="556.60" y1="556.40" x2="556.60" y2="559.20" stroke="#555" stroke-width="0.7"/>
<text transform="translate(560.20,567.80) rotate(-45)" text-anchor="end" font-size="9.3">0.15</text>
<line x1="572.37" y1="556.40" x2="572.37" y2="559.20" stroke="#555" stroke-width="0.7"/>
<text transform="translate(575.97,567.80) rotate(-45)" text-anchor="end" font-size="9.3">0.3</text>
<line x1="591.81" y1="556.40" x2="591.81" y2="559.20" stroke="#555" stroke-width="0.7"/>
<text transform="translate(595.41,567.80) rotate(-45)" text-anchor="end" font-size="9.3">0.6</text>
<line x1="602.05" y1="556.40" x2="602.05" y2="559.20" stroke="#555" stroke-width="0.7"/>
<text transform="translate(605.65,567.80) rotate(-45)" text-anchor="end" font-size="9.3">1</text>
<line x1="609.70" y1="556.40" x2="609.70" y2="559.20" stroke="#555" stroke-width="0.7"/>
<text transform="translate(613.30,567.80) rotate(-45)" text-anchor="end" font-size="9.3">6</text>
<text x="584.20" y="489.80" text-anchor="middle" font-style="italic">Itgae</text>
<rect x="621.60" y="493.10" width="61.50" height="63.30" fill="#fff"/>
<g clip-path="url(#gcl3)">
<path d="M624.2,526.2 L624.2,495.4 L666.7,495.4 L666.7,513.8Z" fill="#dcedf2"/>
<path d="M624.2,555.8 L624.2,526.2 L666.7,513.8 L666.7,541.9 L631.6,555.8Z" fill="#fbdcd8"/>
<path d="M631.6,555.8 L666.7,541.9 L677.3,541.9 L677.3,555.8Z" fill="#eef0dc"/>
<path d="M677.3,541.9 L666.7,541.9 L666.7,495.4 L624.2,495.4 L624.2,555.8 L677.3,555.8 Z" fill="none" stroke="#8a8a8a" stroke-width="0.6"/>
<path d="M654.5 491.8 641.7 491.9 638.3 493.8 633.8 499.1 631.2 507.5 630.4 526.8 631.1 535.2 632.4 541.3 634.6 546.1 637.2 549.0 641.6 551.7 645.9 552.9 653.5 552.3 662.1 548.4 666.1 543.7 668.3 536.4 668.9 514.8 667.2 502.7 665.4 499.1 663.2 496.4 658.9 493.5Z" fill="none" stroke="#555" stroke-width="0.5"/>
<path d="M651.3 495.4 643.7 495.7 638.3 498.5 634.7 503.9 633.0 512.4 633.0 530.4 634.8 540.0 636.8 543.7 639.4 546.2 642.7 547.8 647.0 548.6 655.6 547.6 658.9 546.4 662.1 544.2 665.3 538.8 666.6 531.6 666.7 513.6 664.8 503.9 662.6 500.3 659.9 498.1Z" fill="none" stroke="#555" stroke-width="0.5"/>
<path d="M654.5 499.0 647.0 498.2 641.6 499.6 638.0 502.7 635.4 508.7 634.6 524.4 635.8 536.4 639.1 542.5 641.6 544.3 644.8 545.4 652.4 545.4 658.9 543.3 662.2 540.0 664.1 535.2 665.0 518.4 663.8 507.5 661.0 502.4 657.8 500.1Z" fill="#dcdbb0" stroke="#444" stroke-width="0.5" stroke-opacity="0.9"/>
<path d="M653.5 501.5 647.0 500.9 641.6 502.5 638.3 506.1 636.6 511.1 636.4 526.8 637.5 535.2 640.5 540.4 645.9 542.9 652.4 542.7 657.8 540.9 661.0 537.6 662.6 532.8 663.3 518.4 662.1 508.9 658.9 503.8Z" fill="#d6d494" stroke="#444" stroke-width="0.5" stroke-opacity="0.9"/>
<path d="M651.3 503.7 647.0 503.4 642.7 504.6 639.6 507.5 637.9 512.4 638.1 526.8 639.3 534.0 642.5 538.8 647.0 540.6 652.4 540.2 657.5 537.6 659.9 534.2 661.1 529.2 661.3 517.2 660.0 509.9 656.7 505.7Z" fill="#d9cd78" stroke="#444" stroke-width="0.5" stroke-opacity="0.9"/>
<path d="M651.3 506.1 647.0 505.4 642.7 506.7 640.0 509.9 639.1 513.6 640.0 528.0 641.1 532.8 643.7 536.7 648.1 538.5 652.3 537.6 655.7 535.2 657.8 532.0 658.7 528.0 658.9 518.4 657.9 512.4 655.7 508.7Z" fill="#e2c85c" stroke="#444" stroke-width="0.5" stroke-opacity="0.9"/>
<path d="M649.1 507.3 645.9 507.1 642.7 508.5 640.8 511.1 640.3 513.6 642.2 530.4 644.8 535.0 648.1 536.5 651.3 535.8 653.5 534.0 655.5 530.4 656.3 525.6 654.7 512.4 652.4 509.0Z" fill="#eac048" stroke="#444" stroke-width="0.5" stroke-opacity="0.9"/>
<path d="M649.1 508.7 645.9 508.3 643.7 509.1 642.0 511.1 641.4 513.6 642.9 519.6 642.9 526.8 643.6 530.4 645.9 533.9 648.1 534.9 650.2 534.6 652.5 532.8 654.2 529.2 654.6 525.6 652.8 512.4 651.1 509.9Z" fill="#efb23a" stroke="#444" stroke-width="0.5" stroke-opacity="0.9"/>
<path d="M649.1 509.9 647.0 509.3 644.8 509.7 643.2 511.1 642.4 513.6 644.3 519.6 644.3 529.2 645.9 532.3 648.1 533.6 650.2 533.2 651.9 531.6 653.5 526.8 651.7 513.6 650.6 511.1Z" fill="#f09a2c" stroke="#444" stroke-width="0.5" stroke-opacity="0.9"/>
<path d="M648.1 510.7 644.8 511.0 643.5 513.6 645.8 519.6 644.8 525.6 645.3 529.2 647.0 531.7 649.1 532.2 651.4 530.4 652.5 525.6 650.3 518.4 650.3 513.6Z" fill="#f07c22" stroke="#444" stroke-width="0.5" stroke-opacity="0.9"/>
<path d="M649.1 520.2 648.1 520.0 647.0 521.1 645.8 524.4 645.9 528.0 648.1 530.8 650.2 530.1 651.6 526.8 651.1 523.2Z" fill="#ef5a1a" stroke="#444" stroke-width="0.5" stroke-opacity="0.9"/>
<path d="M648.1 512.2 645.9 512.0 644.8 513.6 645.8 516.0 647.0 516.8 648.1 516.6 648.9 514.8Z" fill="#ef5a1a" stroke="#444" stroke-width="0.5" stroke-opacity="0.9"/>
<path d="M649.1 522.5 648.1 522.5 646.8 524.4 647.0 528.0 648.1 529.3 649.2 529.2 650.6 526.8 650.4 524.4Z" fill="#ee3814" stroke="#444" stroke-width="0.5" stroke-opacity="0.9"/>
<path d="M653.5 500.2 647.0 499.7 641.6 501.1 638.3 504.2 636.1 509.9 635.5 524.4 636.5 535.2 639.4 541.0 641.6 542.7 644.8 544.0 651.3 544.1 657.8 542.3 661.6 538.8 663.4 534.0 664.1 519.6 663.1 508.7 659.9 503.1 656.7 501.1Z" fill="none" stroke="#555" stroke-width="0.4"/>
<path d="M652.4 502.6 645.9 502.3 641.6 504.0 638.6 507.5 637.2 512.4 637.3 528.0 638.6 535.2 641.6 539.7 647.0 541.8 652.4 541.4 657.8 539.2 660.8 535.2 662.0 530.4 662.2 517.2 661.0 509.2 657.8 504.7Z" fill="none" stroke="#555" stroke-width="0.4"/>
<path d="M651.3 505.0 647.0 504.5 642.7 505.7 639.8 508.7 638.5 513.6 639.1 528.0 640.5 534.0 643.7 538.1 648.1 539.5 652.4 538.8 656.7 536.3 659.0 532.8 660.0 528.0 660.1 517.2 659.0 511.1 656.6 507.5Z" fill="none" stroke="#555" stroke-width="0.4"/>
<path d="M647.0 506.3 643.7 507.0 641.6 508.7 640.2 511.1 639.7 514.8 641.0 528.0 642.2 532.8 644.8 536.2 649.1 537.4 653.5 535.5 656.3 531.6 657.4 526.8 657.3 518.4 656.6 513.6 654.8 509.9 651.3 507.3Z" fill="none" stroke="#555" stroke-width="0.4"/>
<path d="M650.2 508.5 647.0 507.6 643.7 508.5 641.6 510.9 640.9 513.6 642.3 520.8 642.9 530.4 645.0 534.0 648.1 535.7 651.3 534.9 653.4 532.8 655.3 526.8 654.0 513.6 653.1 511.1Z" fill="none" stroke="#555" stroke-width="0.4"/>
<path d="M650.2 509.9 648.1 508.9 644.8 509.1 642.7 511.0 641.9 513.6 643.6 519.6 643.8 529.2 645.6 532.8 648.1 534.2 650.2 533.9 651.6 532.8 653.2 530.4 654.0 526.8 652.3 513.6Z" fill="none" stroke="#555" stroke-width="0.4"/>
<path d="M647.0 509.8 643.8 511.1 642.9 513.6 645.0 519.6 644.3 525.6 644.8 529.2 647.0 532.4 649.1 532.9 652.0 530.4 652.9 524.4 651.2 518.4 650.6 512.4 649.1 510.6Z" fill="none" stroke="#555" stroke-width="0.4"/>
<path d="M647.0 511.0 644.8 511.9 644.1 513.6 644.8 515.9 646.7 518.4 645.2 526.8 646.6 530.4 649.1 531.5 651.4 529.2 651.9 524.4 649.2 518.4 649.6 513.6 649.1 512.3Z" fill="none" stroke="#555" stroke-width="0.4"/>
<path d="M649.1 521.4 648.1 521.4 647.0 522.5 646.1 525.6 646.4 528.0 648.1 530.1 650.2 529.3 651.1 526.8 650.5 523.2Z" fill="none" stroke="#555" stroke-width="0.4"/>
<path d="M647.0 512.9 645.8 513.6 647.0 515.1 647.8 513.6Z" fill="none" stroke="#555" stroke-width="0.4"/>
<path d="M667.5 547.8h1v1h-1zM632.6 552.1h1v1h-1zM666.4 540.0h1v1h-1zM632.7 507.3h1v1h-1zM630.7 541.8h1v1h-1zM632.3 503.0h1v1h-1zM660.4 545.1h1v1h-1zM628.0 502.1h1v1h-1zM631.0 513.5h1v1h-1zM632.2 527.6h1v1h-1zM671.5 522.2h1v1h-1zM670.7 511.6h1v1h-1zM674.3 539.4h1v1h-1zM642.1 554.7h1v1h-1zM636.7 550.9h1v1h-1zM669.4 513.6h1v1h-1zM627.0 512.7h1v1h-1zM634.3 508.1h1v1h-1zM647.4 497.8h1v1h-1zM635.3 502.6h1v1h-1zM635.1 550.2h1v1h-1zM635.7 553.6h1v1h-1zM668.3 544.9h1v1h-1zM663.8 547.3h1v1h-1zM669.5 510.5h1v1h-1zM661.2 500.7h1v1h-1zM633.6 521.5h1v1h-1zM642.7 551.5h1v1h-1zM634.5 547.4h1v1h-1zM662.9 529.3h1v1h-1zM634.6 496.8h1v1h-1zM659.8 547.8h1v1h-1zM667.9 551.7h1v1h-1zM668.3 548.7h1v1h-1zM668.3 525.4h1v1h-1zM640.9 546.8h1v1h-1zM626.7 512.9h1v1h-1zM655.6 551.8h1v1h-1zM670.7 516.4h1v1h-1zM663.8 545.0h1v1h-1zM662.9 529.6h1v1h-1zM636.6 539.9h1v1h-1zM672.6 532.3h1v1h-1zM635.2 549.6h1v1h-1zM627.2 531.8h1v1h-1z" fill="#5ab0d0"/>
<line x1="624.2" y1="526.2" x2="666.7" y2="513.8" stroke="#5a5a5a" stroke-width="1.25"/>
<line x1="631.6" y1="555.8" x2="666.7" y2="541.9" stroke="#5a5a5a" stroke-width="1.06"/>
</g>
<rect x="621.60" y="493.10" width="61.50" height="63.30" fill="none" stroke="#8c8c8c" stroke-width="0.9"/>
<line x1="619.00" y1="555.80" x2="621.60" y2="555.80" stroke="#555" stroke-width="0.7"/>
<line x1="619.00" y1="543.96" x2="621.60" y2="543.96" stroke="#555" stroke-width="0.7"/>
<line x1="619.00" y1="532.12" x2="621.60" y2="532.12" stroke="#555" stroke-width="0.7"/>
<line x1="619.00" y1="520.28" x2="621.60" y2="520.28" stroke="#555" stroke-width="0.7"/>
<line x1="619.00" y1="508.44" x2="621.60" y2="508.44" stroke="#555" stroke-width="0.7"/>
<line x1="619.00" y1="496.60" x2="621.60" y2="496.60" stroke="#555" stroke-width="0.7"/>
<line x1="624.20" y1="556.40" x2="624.20" y2="559.20" stroke="#555" stroke-width="0.7"/>
<text transform="translate(627.80,567.80) rotate(-45)" text-anchor="end" font-size="9.3">0.15</text>
<line x1="639.97" y1="556.40" x2="639.97" y2="559.20" stroke="#555" stroke-width="0.7"/>
<text transform="translate(643.57,567.80) rotate(-45)" text-anchor="end" font-size="9.3">0.3</text>
<line x1="659.41" y1="556.40" x2="659.41" y2="559.20" stroke="#555" stroke-width="0.7"/>
<text transform="translate(663.01,567.80) rotate(-45)" text-anchor="end" font-size="9.3">0.6</text>
<line x1="669.65" y1="556.40" x2="669.65" y2="559.20" stroke="#555" stroke-width="0.7"/>
<text transform="translate(673.25,567.80) rotate(-45)" text-anchor="end" font-size="9.3">1</text>
<line x1="677.30" y1="556.40" x2="677.30" y2="559.20" stroke="#555" stroke-width="0.7"/>
<text transform="translate(680.90,567.80) rotate(-45)" text-anchor="end" font-size="9.3">6</text>
<text x="651.80" y="489.80" text-anchor="middle" font-style="italic">Tcf7</text>
<text transform="translate(384.00,525.20) rotate(-90)" text-anchor="middle">Crypt–villus</text>
<text transform="translate(395.40,525.20) rotate(-90)" text-anchor="middle">axis</text>
<rect x="400.40" y="587.00" width="4.30" height="4.30" fill="#f7b5ae" stroke="#e8473a" stroke-width="0.7"/>
<text x="408.40" y="592.40">Crypt</text>
<rect x="436.80" y="587.00" width="4.30" height="4.30" fill="#b3dbe8" stroke="#5aa8c8" stroke-width="0.7"/>
<text x="445.20" y="592.40">Top</text>
<rect x="467.50" y="587.00" width="4.30" height="4.30" fill="#e4e8c6" stroke="#b5bd7a" stroke-width="0.7"/>
<text x="475.40" y="592.40">Muscularis</text>
<text x="536.00" y="592.40">Epithelial axis</text>
<text x="375.30" y="609.80" font-weight="bold" fill="#000" font-size="13">h</text>
<line x1="413.50" y1="615.10" x2="413.50" y2="681.70" stroke="#555" stroke-width="0.9"/>
<line x1="410.70" y1="681.70" x2="413.50" y2="681.70" stroke="#555" stroke-width="0.8"/>
<text x="407.40" y="684.90" text-anchor="end">0</text>
<line x1="410.70" y1="668.98" x2="413.50" y2="668.98" stroke="#555" stroke-width="0.8"/>
<text x="407.40" y="672.18" text-anchor="end">0.2</text>
<line x1="410.70" y1="656.26" x2="413.50" y2="656.26" stroke="#555" stroke-width="0.8"/>
<text x="407.40" y="659.46" text-anchor="end">0.4</text>
<line x1="410.70" y1="643.54" x2="413.50" y2="643.54" stroke="#555" stroke-width="0.8"/>
<text x="407.40" y="646.74" text-anchor="end">0.6</text>
<line x1="410.70" y1="630.82" x2="413.50" y2="630.82" stroke="#555" stroke-width="0.8"/>
<text x="407.40" y="634.02" text-anchor="end">0.8</text>
<line x1="410.70" y1="618.10" x2="413.50" y2="618.10" stroke="#555" stroke-width="0.8"/>
<text x="407.40" y="621.30" text-anchor="end">1.0</text>
<rect x="429.00" y="657.20" width="9.90" height="24.50" fill="#f7b9b1" stroke="#555" stroke-width="0.7"/>
<rect x="441.60" y="632.30" width="9.90" height="49.40" fill="#c8e2ea" stroke="#555" stroke-width="0.7"/>
<line x1="413.50" y1="681.70" x2="454.30" y2="681.70" stroke="#aaa" stroke-width="1.2"/>
<circle cx="420.7" cy="681.4" r="1.65" fill="#1a78c2"/>
<circle cx="433.9" cy="645.5" r="1.65" fill="#1a78c2"/>
<circle cx="433.9" cy="669.8" r="1.65" fill="#111"/>
<circle cx="446.5" cy="618.1" r="1.65" fill="#1a78c2"/>
<circle cx="446.5" cy="646.9" r="1.65" fill="#111"/>
<text x="434.20" y="613.10" text-anchor="middle" font-style="italic">Gzma</text>
<line x1="495.90" y1="619.50" x2="495.90" y2="681.90" stroke="#555" stroke-width="0.9"/>
<line x1="493.10" y1="681.90" x2="495.90" y2="681.90" stroke="#555" stroke-width="0.8"/>
<text x="489.60" y="685.10" text-anchor="end">0</text>
<line x1="493.10" y1="670.02" x2="495.90" y2="670.02" stroke="#555" stroke-width="0.8"/>
<text x="489.60" y="673.22" text-anchor="end">0.025</text>
<line x1="493.10" y1="658.14" x2="495.90" y2="658.14" stroke="#555" stroke-width="0.8"/>
<text x="489.60" y="661.34" text-anchor="end">0.050</text>
<line x1="493.10" y1="646.26" x2="495.90" y2="646.26" stroke="#555" stroke-width="0.8"/>
<text x="489.60" y="649.46" text-anchor="end">0.075</text>
<line x1="493.10" y1="634.38" x2="495.90" y2="634.38" stroke="#555" stroke-width="0.8"/>
<text x="489.60" y="637.58" text-anchor="end">0.100</text>
<line x1="493.10" y1="622.50" x2="495.90" y2="622.50" stroke="#555" stroke-width="0.8"/>
<text x="489.60" y="625.70" text-anchor="end">0.125</text>
<rect x="510.50" y="657.20" width="10.30" height="24.70" fill="#f7b9b1" stroke="#555" stroke-width="0.7"/>
<rect x="523.40" y="637.60" width="10.20" height="44.30" fill="#c8e2ea" stroke="#555" stroke-width="0.7"/>
<line x1="495.90" y1="681.90" x2="538.80" y2="681.90" stroke="#aaa" stroke-width="1.2"/>
<circle cx="503.3" cy="681.4" r="1.65" fill="#1a78c2"/>
<circle cx="515.7" cy="635.6" r="1.65" fill="#1a78c2"/>
<circle cx="515.7" cy="679.4" r="1.65" fill="#111"/>
<circle cx="528.5" cy="618.7" r="1.65" fill="#1a78c2"/>
<circle cx="528.5" cy="657.5" r="1.65" fill="#111"/>
<text x="516.00" y="613.10" text-anchor="middle" font-style="italic">Gzmb</text>
<line x1="565.60" y1="614.40" x2="565.60" y2="681.70" stroke="#aaa" stroke-width="0.9"/>
<line x1="562.80" y1="681.70" x2="565.60" y2="681.70" stroke="#555" stroke-width="0.8"/>
<text x="562.60" y="684.90" text-anchor="end">0</text>
<line x1="562.80" y1="660.27" x2="565.60" y2="660.27" stroke="#555" stroke-width="0.8"/>
<text x="562.60" y="663.47" text-anchor="end">0.5</text>
<line x1="562.80" y1="638.83" x2="565.60" y2="638.83" stroke="#555" stroke-width="0.8"/>
<text x="562.60" y="642.03" text-anchor="end">1.0</text>
<line x1="562.80" y1="617.40" x2="565.60" y2="617.40" stroke="#555" stroke-width="0.8"/>
<text x="562.60" y="620.60" text-anchor="end">1.5</text>
<rect x="583.40" y="650.50" width="10.00" height="31.20" fill="#f7b9b1" stroke="#555" stroke-width="0.7"/>
<rect x="596.20" y="642.00" width="10.00" height="39.70" fill="#c8e2ea" stroke="#555" stroke-width="0.7"/>
<line x1="565.60" y1="681.70" x2="610.90" y2="681.70" stroke="#aaa" stroke-width="1.2"/>
<circle cx="575.5" cy="681.4" r="1.65" fill="#1a78c2"/>
<circle cx="588.3" cy="645.5" r="1.65" fill="#1a78c2"/>
<circle cx="588.3" cy="655.1" r="1.65" fill="#111"/>
<circle cx="601.1" cy="637.6" r="1.65" fill="#1a78c2"/>
<circle cx="601.1" cy="646.2" r="1.65" fill="#111"/>
<text x="588.70" y="613.10" text-anchor="middle" font-style="italic">Itgae</text>
<line x1="640.30" y1="615.10" x2="640.30" y2="681.70" stroke="#555" stroke-width="0.9"/>
<line x1="637.50" y1="681.70" x2="640.30" y2="681.70" stroke="#555" stroke-width="0.8"/>
<text x="634.40" y="684.90" text-anchor="end">0</text>
<line x1="637.50" y1="668.98" x2="640.30" y2="668.98" stroke="#555" stroke-width="0.8"/>
<text x="634.40" y="672.18" text-anchor="end">0.2</text>
<line x1="637.50" y1="656.26" x2="640.30" y2="656.26" stroke="#555" stroke-width="0.8"/>
<text x="634.40" y="659.46" text-anchor="end">0.4</text>
<line x1="637.50" y1="643.54" x2="640.30" y2="643.54" stroke="#555" stroke-width="0.8"/>
<text x="634.40" y="646.74" text-anchor="end">0.6</text>
<line x1="637.50" y1="630.82" x2="640.30" y2="630.82" stroke="#555" stroke-width="0.8"/>
<text x="634.40" y="634.02" text-anchor="end">0.8</text>
<line x1="637.50" y1="618.10" x2="640.30" y2="618.10" stroke="#555" stroke-width="0.8"/>
<text x="634.40" y="621.30" text-anchor="end">1.0</text>
<rect x="645.60" y="618.30" width="9.60" height="63.40" fill="#e6e9cc" stroke="#555" stroke-width="0.7"/>
<rect x="657.90" y="652.30" width="9.80" height="29.40" fill="#f7b9b1" stroke="#555" stroke-width="0.7"/>
<rect x="670.50" y="674.20" width="10.10" height="7.50" fill="#c8e2ea" stroke="#555" stroke-width="0.7"/>
<line x1="640.30" y1="681.70" x2="685.00" y2="681.70" stroke="#aaa" stroke-width="1.2"/>
<circle cx="650.0" cy="618.3" r="1.65" fill="#1a78c2"/>
<circle cx="662.8" cy="649.3" r="1.65" fill="#1a78c2"/>
<circle cx="662.8" cy="655.8" r="1.65" fill="#111"/>
<circle cx="674.5" cy="672.6" r="1.65" fill="#111"/>
<circle cx="677.1" cy="674.4" r="1.65" fill="#1a78c2"/>
<text x="663.10" y="613.10" text-anchor="middle" font-style="italic">Tcf7</text>
<text transform="translate(387.80,648.40) rotate(-90)" text-anchor="middle">Expression</text>
<circle cx="454.3" cy="698.5" r="1.3" fill="#1a78c2"/>
<text x="458.40" y="701.60">R1</text>
<circle cx="477.4" cy="698.5" r="1.3" fill="#111"/>
<text x="481.60" y="701.60">R2</text>
<rect x="498.20" y="696.20" width="4.30" height="4.30" fill="#f7b5ae" stroke="#e8473a" stroke-width="0.7"/>
<text x="507.30" y="701.60">Crypt</text>
<rect x="532.40" y="696.20" width="4.30" height="4.30" fill="#b3dbe8" stroke="#5aa8c8" stroke-width="0.7"/>
<text x="541.50" y="701.60">Top</text>
<rect x="566.30" y="696.20" width="4.30" height="4.30" fill="#e4e8c6" stroke="#b5bd7a" stroke-width="0.7"/>
<text x="575.20" y="701.60">Muscularis</text>
<text x="375.30" y="711.60" font-weight="bold" fill="#000" font-size="13">j</text>
<text x="407.00" y="716.00">Mature T<tspan font-size="6.3" dy="2">RM</tspan><tspan dy="-2"> (cluster 29)</tspan></text>
<text x="547.00" y="715.80">Progenitor-like T<tspan font-size="6.3" dy="2">RM</tspan><tspan dy="-2"> (cluster 3)</tspan></text>
<rect x="406.30" y="720.60" width="56.40" height="61.20" fill="#fff"/>
<g clip-path="url(#jcl0)">
<path d="M409.4,752.3 L409.4,722.9 L448.6,722.9 L448.6,740.4Z" fill="#dcedf2"/>
<path d="M409.4,780.6 L409.4,752.3 L448.6,740.4 L448.6,767.3 L416.3,780.6Z" fill="#fbdcd8"/>
<path d="M416.3,780.6 L448.6,767.3 L458.4,767.3 L458.4,780.6Z" fill="#eef0dc"/>
<path d="M458.4,767.3 L448.6,767.3 L448.6,722.9 L409.4,722.9 L409.4,780.6 L458.4,780.6 Z" fill="none" stroke="#8a8a8a" stroke-width="0.6"/>
<path d="M433.4 720.3 429.4 719.5 425.4 720.0 422.4 721.3 419.4 723.7 416.7 727.5 414.7 732.2 411.8 744.8 411.9 756.3 414.8 766.7 417.4 771.3 420.4 774.6 423.4 776.6 427.4 777.8 431.4 777.7 434.4 776.7 440.4 772.2 443.8 766.7 446.3 756.3 446.3 743.7 443.8 731.0 440.4 724.7 437.4 722.2Z" fill="none" stroke="#555" stroke-width="0.5"/>
<path d="M430.4 724.0 427.4 723.9 423.4 725.0 420.4 727.4 418.7 729.9 416.7 735.6 414.9 749.4 415.7 758.6 418.5 766.7 422.4 771.1 428.4 773.2 434.4 772.0 437.4 770.4 440.0 767.8 442.7 762.1 444.0 752.9 443.1 739.1 441.1 731.0 437.4 726.6Z" fill="none" stroke="#555" stroke-width="0.5"/>
<path d="M431.4 726.2 425.4 726.2 422.4 727.8 420.6 729.9 418.3 735.6 417.1 747.1 417.3 756.3 419.6 764.4 423.4 768.8 428.4 770.3 433.4 769.6 438.4 766.6 441.0 762.1 442.2 755.2 442.0 742.5 440.2 733.3 437.4 729.3Z" fill="#dcdbb0" stroke="#444" stroke-width="0.5" stroke-opacity="0.9"/>
<path d="M430.4 727.4 426.4 727.3 422.1 729.9 419.7 734.5 418.9 740.2 418.5 752.9 419.9 760.9 421.4 764.2 423.4 766.3 428.4 768.0 433.4 767.4 437.4 765.0 439.8 760.9 441.1 754.0 440.7 742.5 439.0 734.5 435.5 729.9Z" fill="#d6d494" stroke="#444" stroke-width="0.5" stroke-opacity="0.9"/>
<path d="M430.4 728.6 426.4 728.5 423.4 730.0 421.1 733.3 420.0 739.1 419.8 752.9 420.9 759.8 423.4 764.0 425.4 765.3 428.4 766.0 433.4 765.3 436.6 763.2 439.1 758.6 439.9 752.9 439.5 742.5 438.0 735.6 434.8 731.0Z" fill="#d9cd78" stroke="#444" stroke-width="0.5" stroke-opacity="0.9"/>
<path d="M430.4 729.7 426.4 729.5 423.8 731.0 422.1 733.3 421.0 737.9 421.0 752.9 421.7 757.5 424.4 762.5 428.4 764.1 433.4 763.2 436.3 760.9 438.0 757.5 438.7 752.9 438.3 743.7 437.0 736.8 434.3 732.2Z" fill="#e2c85c" stroke="#444" stroke-width="0.5" stroke-opacity="0.9"/>
<path d="M430.4 730.7 427.4 730.3 424.4 731.6 422.5 734.5 421.8 737.9 422.8 756.3 424.4 759.8 426.4 761.4 428.4 761.9 432.4 761.3 434.7 759.8 436.4 757.1 437.2 752.9 435.7 736.8 433.9 733.3Z" fill="#eac048" stroke="#444" stroke-width="0.5" stroke-opacity="0.9"/>
<path d="M430.4 731.6 427.4 731.2 425.1 732.2 423.3 734.5 422.6 737.9 424.1 755.2 425.4 757.9 428.4 759.7 431.4 759.3 433.4 758.0 434.6 756.3 435.6 752.9 434.8 737.9 433.5 734.5Z" fill="#efb23a" stroke="#444" stroke-width="0.5" stroke-opacity="0.9"/>
<path d="M429.4 732.1 427.4 732.0 425.0 733.3 423.7 735.6 423.3 737.9 425.2 746.0 425.9 754.0 427.4 756.3 429.4 756.8 432.2 755.2 433.2 752.9 433.1 746.0 433.8 739.1 432.5 734.5Z" fill="#f09a2c" stroke="#444" stroke-width="0.5" stroke-opacity="0.9"/>
<path d="M429.4 733.1 426.3 733.3 424.2 736.8 424.4 740.2 425.4 742.5 428.4 745.2 430.4 744.3 431.4 742.9 432.7 739.1 432.1 735.6Z" fill="#f07c22" stroke="#444" stroke-width="0.5" stroke-opacity="0.9"/>
<path d="M429.4 734.1 426.4 734.3 425.0 736.8 425.5 740.2 426.4 741.6 428.4 742.5 430.4 741.4 431.5 739.1 431.0 735.6Z" fill="#ef5a1a" stroke="#444" stroke-width="0.5" stroke-opacity="0.9"/>
<path d="M429.4 735.4 427.4 735.1 426.1 736.8 426.3 739.1 427.4 740.4 429.4 740.2 430.2 739.1 430.3 736.8Z" fill="#ee3814" stroke="#444" stroke-width="0.5" stroke-opacity="0.9"/>
<path d="M432.4 727.3 427.4 726.6 423.4 727.9 420.6 731.0 418.7 736.8 417.8 751.7 418.8 759.8 420.4 764.1 422.4 766.7 427.4 769.0 432.4 768.7 437.4 766.2 440.1 762.1 441.4 756.3 441.6 746.0 440.1 735.6 437.4 730.5Z" fill="none" stroke="#555" stroke-width="0.4"/>
<path d="M431.4 728.3 427.4 727.8 423.4 729.4 420.6 733.3 419.6 737.9 419.1 751.7 420.2 759.8 423.4 765.1 428.4 767.0 433.4 766.3 437.4 763.7 439.4 759.8 440.4 754.0 440.2 743.7 438.7 735.6 435.8 731.0Z" fill="none" stroke="#555" stroke-width="0.4"/>
<path d="M431.4 729.5 427.4 728.8 424.4 729.9 421.6 733.3 420.5 737.9 420.4 752.9 421.3 758.6 424.0 763.2 428.4 765.0 433.4 764.2 436.4 762.2 438.4 758.6 439.2 754.0 439.0 744.8 437.7 736.8 435.1 732.2Z" fill="none" stroke="#555" stroke-width="0.4"/>
<path d="M428.4 729.8 424.4 731.1 422.1 734.5 421.4 739.1 421.6 751.7 422.1 756.3 423.4 759.9 425.5 762.1 429.4 763.0 433.4 762.0 436.4 759.2 437.7 755.2 438.0 749.4 437.1 740.2 435.9 735.6 432.4 731.2Z" fill="none" stroke="#555" stroke-width="0.4"/>
<path d="M429.4 730.8 426.4 731.0 424.4 732.2 422.9 734.5 422.2 737.9 423.6 756.3 425.8 759.8 429.4 760.9 432.4 760.1 434.4 758.6 436.1 755.2 436.5 750.6 435.1 736.8 433.2 733.3Z" fill="none" stroke="#555" stroke-width="0.4"/>
<path d="M430.4 732.1 427.4 731.6 425.4 732.4 423.7 734.5 422.9 737.9 424.4 746.0 424.8 754.0 426.4 757.4 428.4 758.3 431.4 757.8 433.2 756.3 434.6 751.7 434.0 736.8 432.4 733.7Z" fill="none" stroke="#555" stroke-width="0.4"/>
<path d="M430.4 733.1 428.4 732.4 425.6 733.3 424.1 735.6 423.7 737.9 424.4 741.7 427.0 747.1 427.4 752.5 428.4 753.9 429.4 754.0 431.1 751.7 431.0 747.1 433.2 739.1 432.6 735.6Z" fill="none" stroke="#555" stroke-width="0.4"/>
<path d="M428.4 733.3 425.7 734.5 424.5 737.9 425.5 741.4 428.4 743.6 430.4 742.6 431.3 741.4 432.1 737.9 430.7 734.5Z" fill="none" stroke="#555" stroke-width="0.4"/>
<path d="M428.4 734.3 426.4 735.0 425.4 737.9 426.4 740.6 428.4 741.5 430.4 740.2 431.1 737.9 430.4 735.6Z" fill="none" stroke="#555" stroke-width="0.4"/>
<path d="M430.0 776.1h1v1h-1zM410.3 753.8h1v1h-1zM417.1 770.4h1v1h-1zM446.3 756.3h1v1h-1zM445.4 745.1h1v1h-1zM410.2 770.0h1v1h-1zM415.4 759.0h1v1h-1zM452.4 774.1h1v1h-1zM436.1 770.3h1v1h-1zM412.3 738.0h1v1h-1zM450.1 761.4h1v1h-1zM419.2 774.9h1v1h-1zM417.6 773.7h1v1h-1zM415.7 779.9h1v1h-1zM424.5 774.9h1v1h-1zM412.0 736.0h1v1h-1zM447.6 732.3h1v1h-1zM448.6 767.8h1v1h-1zM440.6 780.4h1v1h-1zM414.9 771.1h1v1h-1zM410.9 733.8h1v1h-1zM414.5 731.5h1v1h-1zM411.9 750.3h1v1h-1zM414.6 740.6h1v1h-1zM411.9 725.2h1v1h-1zM417.3 741.9h1v1h-1zM412.1 746.3h1v1h-1zM445.6 742.3h1v1h-1zM425.3 775.9h1v1h-1zM423.3 779.1h1v1h-1zM410.1 733.1h1v1h-1zM438.9 729.2h1v1h-1zM447.1 773.7h1v1h-1zM445.2 737.9h1v1h-1zM417.2 743.4h1v1h-1z" fill="#5ab0d0"/>
<line x1="409.4" y1="752.3" x2="448.6" y2="740.4" stroke="#5a5a5a" stroke-width="1.25"/>
<line x1="416.3" y1="780.6" x2="448.6" y2="767.3" stroke="#5a5a5a" stroke-width="1.06"/>
</g>
<rect x="406.30" y="720.60" width="56.40" height="61.20" fill="none" stroke="#8c8c8c" stroke-width="0.9"/>
<line x1="403.70" y1="780.60" x2="406.30" y2="780.60" stroke="#555" stroke-width="0.7"/>
<text x="400.40" y="783.80" text-anchor="end">0</text>
<line x1="403.70" y1="769.28" x2="406.30" y2="769.28" stroke="#555" stroke-width="0.7"/>
<text x="400.40" y="772.48" text-anchor="end">0.2</text>
<line x1="403.70" y1="757.96" x2="406.30" y2="757.96" stroke="#555" stroke-width="0.7"/>
<text x="400.40" y="761.16" text-anchor="end">0.4</text>
<line x1="403.70" y1="746.64" x2="406.30" y2="746.64" stroke="#555" stroke-width="0.7"/>
<text x="400.40" y="749.84" text-anchor="end">0.6</text>
<line x1="403.70" y1="735.32" x2="406.30" y2="735.32" stroke="#555" stroke-width="0.7"/>
<text x="400.40" y="738.52" text-anchor="end">0.8</text>
<line x1="403.70" y1="724.00" x2="406.30" y2="724.00" stroke="#555" stroke-width="0.7"/>
<text x="400.40" y="727.20" text-anchor="end">1.0</text>
<line x1="409.40" y1="781.80" x2="409.40" y2="784.60" stroke="#555" stroke-width="0.7"/>
<text transform="translate(413.00,793.20) rotate(-45)" text-anchor="end" font-size="9.3">0.15</text>
<line x1="423.95" y1="781.80" x2="423.95" y2="784.60" stroke="#555" stroke-width="0.7"/>
<text transform="translate(427.55,793.20) rotate(-45)" text-anchor="end" font-size="9.3">0.3</text>
<line x1="441.89" y1="781.80" x2="441.89" y2="784.60" stroke="#555" stroke-width="0.7"/>
<text transform="translate(445.49,793.20) rotate(-45)" text-anchor="end" font-size="9.3">0.6</text>
<line x1="451.34" y1="781.80" x2="451.34" y2="784.60" stroke="#555" stroke-width="0.7"/>
<text transform="translate(454.94,793.20) rotate(-45)" text-anchor="end" font-size="9.3">1</text>
<line x1="458.40" y1="781.80" x2="458.40" y2="784.60" stroke="#555" stroke-width="0.7"/>
<text transform="translate(462.00,793.20) rotate(-45)" text-anchor="end" font-size="9.3">6</text>
<text x="434.50" y="816.60" text-anchor="middle">Epithelial axis</text>
<rect x="551.00" y="721.50" width="56.40" height="59.40" fill="#fff"/>
<g clip-path="url(#jcl1)">
<path d="M554.1,752.3 L554.1,722.9 L593.3,722.9 L593.3,740.4Z" fill="#dcedf2"/>
<path d="M554.1,780.6 L554.1,752.3 L593.3,740.4 L593.3,767.3 L561.0,780.6Z" fill="#fbdcd8"/>
<path d="M561.0,780.6 L593.3,767.3 L603.1,767.3 L603.1,780.6Z" fill="#eef0dc"/>
<path d="M603.1,767.3 L593.3,767.3 L593.3,722.9 L554.1,722.9 L554.1,780.6 L603.1,780.6 Z" fill="none" stroke="#8a8a8a" stroke-width="0.6"/>
<path d="M583.1 719.5 574.1 718.9 566.2 719.5 563.5 725.2 561.4 733.3 560.7 750.6 562.5 765.5 564.7 771.3 568.1 776.9 571.1 779.7 574.1 780.8 577.1 780.3 579.1 779.1 584.1 773.2 587.8 766.7 589.4 759.8 590.0 746.0 589.3 734.5 587.6 727.5Z" fill="none" stroke="#555" stroke-width="0.5"/>
<path d="M576.1 720.5 572.1 720.8 567.0 725.2 563.8 732.2 563.1 739.1 563.2 755.2 564.8 764.4 566.4 767.8 569.1 771.1 574.1 773.5 579.1 772.2 585.1 766.7 587.3 760.9 588.1 752.9 588.0 739.1 586.4 731.0 582.1 724.7Z" fill="none" stroke="#555" stroke-width="0.5"/>
<path d="M577.1 725.1 572.1 724.6 568.1 726.9 565.5 731.0 564.4 736.8 564.6 754.0 565.9 762.1 569.1 767.5 574.1 769.9 578.1 769.3 583.1 766.0 585.4 762.1 586.6 755.2 586.7 741.4 585.4 733.3 582.1 728.2Z" fill="#dcdbb0" stroke="#444" stroke-width="0.5" stroke-opacity="0.9"/>
<path d="M576.1 727.3 572.1 726.6 569.1 727.8 566.7 731.0 565.4 736.8 565.9 754.0 567.1 760.9 570.1 765.8 572.1 767.1 575.1 767.7 579.1 766.7 583.0 763.2 584.9 758.6 585.6 751.7 585.4 740.2 584.2 734.5 581.1 730.2Z" fill="#d6d494" stroke="#444" stroke-width="0.5" stroke-opacity="0.9"/>
<path d="M575.1 728.6 572.1 728.0 569.1 729.3 567.2 732.2 566.3 736.8 567.2 755.2 568.1 759.8 571.0 764.4 575.1 766.1 579.1 765.0 582.6 760.9 584.0 756.3 584.3 749.4 584.0 740.2 582.8 735.6 580.2 732.2Z" fill="#d9cd78" stroke="#444" stroke-width="0.5" stroke-opacity="0.9"/>
<path d="M574.1 729.5 571.1 729.3 568.8 731.0 567.3 734.5 567.1 737.9 568.2 744.8 568.4 755.2 569.4 759.8 572.1 763.6 576.1 764.8 580.1 762.4 582.1 758.6 582.9 754.0 582.6 743.7 581.1 736.7 577.5 732.2Z" fill="#e2c85c" stroke="#444" stroke-width="0.5" stroke-opacity="0.9"/>
<path d="M574.1 730.7 572.1 730.2 570.0 731.0 568.4 733.3 567.8 736.8 569.9 746.0 569.5 754.0 570.2 758.6 572.2 762.1 574.1 763.4 576.1 763.6 578.9 762.1 580.5 759.8 581.6 752.9 579.3 739.1 576.7 733.3Z" fill="#eac048" stroke="#444" stroke-width="0.5" stroke-opacity="0.9"/>
<path d="M574.1 731.9 572.1 731.2 570.1 732.0 568.7 734.5 568.5 736.8 569.4 740.2 572.1 744.8 570.6 752.9 570.8 757.5 573.1 761.7 576.1 762.6 578.1 761.6 579.5 759.8 580.7 754.0 579.7 749.4 576.7 743.7 576.5 735.6Z" fill="#efb23a" stroke="#444" stroke-width="0.5" stroke-opacity="0.9"/>
<path d="M576.1 747.9 574.1 748.1 573.1 749.0 571.3 754.0 572.1 759.0 573.1 760.5 575.1 761.6 578.1 760.4 579.8 756.3 579.1 751.2Z" fill="#f09a2c" stroke="#444" stroke-width="0.5" stroke-opacity="0.9"/>
<path d="M572.1 732.1 570.0 733.3 569.2 736.8 570.6 740.2 573.1 741.4 575.1 739.4 575.5 736.8 574.3 733.3Z" fill="#f09a2c" stroke="#444" stroke-width="0.5" stroke-opacity="0.9"/>
<path d="M577.1 750.4 575.1 749.8 574.1 750.3 572.2 754.0 572.8 758.6 575.1 760.6 577.1 760.2 578.8 757.5 579.0 754.0Z" fill="#f07c22" stroke="#444" stroke-width="0.5" stroke-opacity="0.9"/>
<path d="M572.1 733.2 571.1 733.6 570.0 735.6 570.4 737.9 572.1 739.4 573.3 739.1 574.4 736.8 573.8 734.5Z" fill="#f07c22" stroke="#444" stroke-width="0.5" stroke-opacity="0.9"/>
<path d="M576.1 751.4 574.1 752.0 572.9 755.2 573.2 757.5 575.1 759.6 577.1 759.0 578.3 756.3 577.6 752.9Z" fill="#ef5a1a" stroke="#444" stroke-width="0.5" stroke-opacity="0.9"/>
<path d="M572.1 735.1 571.4 735.6 572.1 737.2 572.7 735.6Z" fill="#ef5a1a" stroke="#444" stroke-width="0.5" stroke-opacity="0.9"/>
<path d="M576.1 752.9 575.1 752.9 573.8 755.2 574.1 757.4 575.1 758.4 576.1 758.4 577.4 756.3 577.1 754.0Z" fill="#ee3814" stroke="#444" stroke-width="0.5" stroke-opacity="0.9"/>
<path d="M576.1 726.2 572.1 725.7 568.1 727.9 565.7 732.2 565.0 737.9 565.4 755.2 566.8 762.1 570.1 766.9 575.1 768.7 580.1 767.1 583.9 763.2 585.5 758.6 586.1 751.7 586.0 740.2 584.5 733.3 581.1 728.9Z" fill="none" stroke="#555" stroke-width="0.4"/>
<path d="M574.1 727.5 571.1 727.6 568.1 729.6 566.3 733.3 565.9 737.9 566.6 754.0 567.5 759.8 570.1 764.6 572.1 766.1 575.1 766.8 580.1 765.1 583.4 760.9 584.7 755.2 584.9 743.7 584.3 737.9 582.5 733.3 579.1 730.1Z" fill="none" stroke="#555" stroke-width="0.4"/>
<path d="M573.1 728.6 571.1 728.8 569.1 729.9 566.9 734.5 567.9 755.2 568.8 759.8 570.9 763.2 573.1 764.9 576.1 765.4 580.1 763.2 582.8 758.6 583.6 752.9 583.4 742.5 582.6 737.9 581.1 734.7 576.1 730.0Z" fill="none" stroke="#555" stroke-width="0.4"/>
<path d="M573.1 729.8 570.1 730.3 568.5 732.2 567.6 734.5 567.5 737.9 569.0 744.8 569.0 754.0 569.6 758.6 572.1 762.8 574.1 764.0 576.1 764.1 579.1 762.6 581.5 758.6 582.2 754.0 581.6 743.7 580.7 739.1 579.0 735.6 576.1 731.7Z" fill="none" stroke="#555" stroke-width="0.4"/>
<path d="M573.1 730.8 571.1 730.9 569.4 732.2 568.2 736.8 570.9 746.0 570.0 754.0 570.7 758.6 573.1 762.2 576.1 763.0 578.1 762.2 580.0 759.8 581.0 756.3 581.1 752.9 577.1 735.6 575.1 732.2Z" fill="none" stroke="#555" stroke-width="0.4"/>
<path d="M576.1 746.5 574.1 746.5 573.1 747.5 571.6 750.6 570.9 754.0 572.1 759.8 575.1 762.1 577.1 761.7 579.1 759.8 580.3 755.2 579.1 749.8Z" fill="none" stroke="#555" stroke-width="0.4"/>
<path d="M573.1 731.8 571.1 731.8 570.1 732.5 569.1 734.5 568.9 736.8 570.1 740.6 573.1 742.9 575.1 741.6 576.1 737.9 575.5 734.5Z" fill="none" stroke="#555" stroke-width="0.4"/>
<path d="M576.1 749.0 574.1 749.3 573.1 750.3 571.8 754.0 572.4 758.6 575.1 761.1 578.1 759.8 579.4 756.3 578.7 751.7Z" fill="none" stroke="#555" stroke-width="0.4"/>
<path d="M573.1 733.0 571.1 732.9 569.6 735.6 570.1 738.5 572.1 740.4 574.1 739.5 574.8 737.9 574.4 734.5Z" fill="none" stroke="#555" stroke-width="0.4"/>
<path d="M577.1 751.2 575.1 750.6 574.1 751.1 572.6 754.0 573.1 758.3 575.1 760.1 577.1 759.6 578.4 757.5 578.5 754.0Z" fill="none" stroke="#555" stroke-width="0.4"/>
<path d="M573.1 734.5 571.1 734.4 570.6 735.6 571.1 737.9 572.1 738.5 573.1 738.1 573.7 736.8Z" fill="none" stroke="#555" stroke-width="0.4"/>
<path d="M576.1 752.1 574.1 752.8 573.3 755.2 573.7 757.5 575.1 759.0 577.1 758.3 577.8 756.3 577.6 754.0Z" fill="none" stroke="#555" stroke-width="0.4"/>
<path d="M584.6 769.3h1v1h-1zM557.8 753.9h1v1h-1zM582.9 780.1h1v1h-1zM563.2 735.0h1v1h-1zM582.6 772.0h1v1h-1zM589.3 765.8h1v1h-1zM558.9 735.2h1v1h-1zM591.7 756.4h1v1h-1zM584.0 766.9h1v1h-1zM564.7 730.6h1v1h-1zM590.8 737.1h1v1h-1zM576.5 778.6h1v1h-1zM592.0 726.3h1v1h-1zM561.3 726.2h1v1h-1zM588.9 777.0h1v1h-1zM588.4 742.3h1v1h-1zM592.0 752.3h1v1h-1zM576.9 769.4h1v1h-1zM574.2 776.8h1v1h-1zM588.7 743.9h1v1h-1zM585.8 772.0h1v1h-1zM593.3 772.2h1v1h-1zM580.2 780.3h1v1h-1zM601.8 770.7h1v1h-1zM586.0 769.1h1v1h-1zM556.5 740.8h1v1h-1zM559.2 761.7h1v1h-1zM576.3 778.7h1v1h-1zM558.6 729.2h1v1h-1zM585.8 773.6h1v1h-1zM599.3 765.0h1v1h-1zM567.5 775.3h1v1h-1zM591.1 751.9h1v1h-1zM587.7 731.5h1v1h-1zM587.0 776.6h1v1h-1z" fill="#5ab0d0"/>
<line x1="554.1" y1="752.3" x2="593.3" y2="740.4" stroke="#5a5a5a" stroke-width="1.25"/>
<line x1="561.0" y1="780.6" x2="593.3" y2="767.3" stroke="#5a5a5a" stroke-width="1.06"/>
</g>
<rect x="551.00" y="721.50" width="56.40" height="59.40" fill="none" stroke="#8c8c8c" stroke-width="0.9"/>
<line x1="548.40" y1="780.60" x2="551.00" y2="780.60" stroke="#555" stroke-width="0.7"/>
<text x="545.10" y="783.80" text-anchor="end">0</text>
<line x1="548.40" y1="769.28" x2="551.00" y2="769.28" stroke="#555" stroke-width="0.7"/>
<text x="545.10" y="772.48" text-anchor="end">0.2</text>
<line x1="548.40" y1="757.96" x2="551.00" y2="757.96" stroke="#555" stroke-width="0.7"/>
<text x="545.10" y="761.16" text-anchor="end">0.4</text>
<line x1="548.40" y1="746.64" x2="551.00" y2="746.64" stroke="#555" stroke-width="0.7"/>
<text x="545.10" y="749.84" text-anchor="end">0.6</text>
<line x1="548.40" y1="735.32" x2="551.00" y2="735.32" stroke="#555" stroke-width="0.7"/>
<text x="545.10" y="738.52" text-anchor="end">0.8</text>
<line x1="548.40" y1="724.00" x2="551.00" y2="724.00" stroke="#555" stroke-width="0.7"/>
<text x="545.10" y="727.20" text-anchor="end">1.0</text>
<line x1="554.10" y1="780.90" x2="554.10" y2="783.70" stroke="#555" stroke-width="0.7"/>
<text transform="translate(557.70,792.30) rotate(-45)" text-anchor="end" font-size="9.3">0.15</text>
<line x1="568.65" y1="780.90" x2="568.65" y2="783.70" stroke="#555" stroke-width="0.7"/>
<text transform="translate(572.25,792.30) rotate(-45)" text-anchor="end" font-size="9.3">0.3</text>
<line x1="586.59" y1="780.90" x2="586.59" y2="783.70" stroke="#555" stroke-width="0.7"/>
<text transform="translate(590.19,792.30) rotate(-45)" text-anchor="end" font-size="9.3">0.6</text>
<line x1="596.04" y1="780.90" x2="596.04" y2="783.70" stroke="#555" stroke-width="0.7"/>
<text transform="translate(599.64,792.30) rotate(-45)" text-anchor="end" font-size="9.3">1</text>
<line x1="603.10" y1="780.90" x2="603.10" y2="783.70" stroke="#555" stroke-width="0.7"/>
<text transform="translate(606.70,792.30) rotate(-45)" text-anchor="end" font-size="9.3">6</text>
<text x="579.20" y="816.60" text-anchor="middle">Epithelial axis</text>
<text transform="translate(383.40,752.60) rotate(-90)" text-anchor="middle">Crypt–villus axis</text>
<line x1="495.80" y1="721.00" x2="495.80" y2="781.00" stroke="#555" stroke-width="0.9"/>
<line x1="493.00" y1="781.00" x2="495.80" y2="781.00" stroke="#555" stroke-width="0.8"/>
<text x="491.30" y="784.20" text-anchor="end">0</text>
<line x1="493.00" y1="769.60" x2="495.80" y2="769.60" stroke="#555" stroke-width="0.8"/>
<text x="491.30" y="772.80" text-anchor="end">0.2</text>
<line x1="493.00" y1="758.20" x2="495.80" y2="758.20" stroke="#555" stroke-width="0.8"/>
<text x="491.30" y="761.40" text-anchor="end">0.4</text>
<line x1="493.00" y1="746.80" x2="495.80" y2="746.80" stroke="#555" stroke-width="0.8"/>
<text x="491.30" y="750.00" text-anchor="end">0.6</text>
<line x1="493.00" y1="735.40" x2="495.80" y2="735.40" stroke="#555" stroke-width="0.8"/>
<text x="491.30" y="738.60" text-anchor="end">0.8</text>
<line x1="493.00" y1="724.00" x2="495.80" y2="724.00" stroke="#555" stroke-width="0.8"/>
<text x="491.30" y="727.20" text-anchor="end">1.0</text>
<rect x="499.30" y="731.10" width="12.20" height="49.90" fill="#f7b9b1" stroke="#555" stroke-width="0.7"/>
<rect x="513.30" y="726.30" width="12.20" height="54.70" fill="#c8e2ea" stroke="#555" stroke-width="0.7"/>
<line x1="495.80" y1="781.00" x2="528.00" y2="781.00" stroke="#aaa" stroke-width="1.2"/>
<circle cx="505.4" cy="728.5" r="1.65" fill="#1a78c2"/>
<circle cx="505.4" cy="732.0" r="1.65" fill="#111"/>
<circle cx="519.4" cy="722.8" r="1.65" fill="#1a78c2"/>
<circle cx="519.4" cy="727.8" r="1.65" fill="#111"/>
<text transform="translate(474.50,751.40) rotate(-90)" text-anchor="middle">Expression</text>
<line x1="649.00" y1="728.00" x2="649.00" y2="780.70" stroke="#555" stroke-width="0.9"/>
<line x1="646.20" y1="780.70" x2="649.00" y2="780.70" stroke="#555" stroke-width="0.8"/>
<text x="644.40" y="783.90" text-anchor="end">0</text>
<line x1="646.20" y1="770.76" x2="649.00" y2="770.76" stroke="#555" stroke-width="0.8"/>
<text x="644.40" y="773.96" text-anchor="end">0.025</text>
<line x1="646.20" y1="760.82" x2="649.00" y2="760.82" stroke="#555" stroke-width="0.8"/>
<text x="644.40" y="764.02" text-anchor="end">0.050</text>
<line x1="646.20" y1="750.88" x2="649.00" y2="750.88" stroke="#555" stroke-width="0.8"/>
<text x="644.40" y="754.08" text-anchor="end">0.075</text>
<line x1="646.20" y1="740.94" x2="649.00" y2="740.94" stroke="#555" stroke-width="0.8"/>
<text x="644.40" y="744.14" text-anchor="end">0.100</text>
<line x1="646.20" y1="731.00" x2="649.00" y2="731.00" stroke="#555" stroke-width="0.8"/>
<text x="644.40" y="734.20" text-anchor="end">0.125</text>
<rect x="654.00" y="738.10" width="11.80" height="42.60" fill="#f7b9b1" stroke="#555" stroke-width="0.7"/>
<rect x="668.00" y="775.40" width="11.70" height="5.30" fill="#c8e2ea" stroke="#555" stroke-width="0.7"/>
<line x1="649.00" y1="780.70" x2="683.70" y2="780.70" stroke="#aaa" stroke-width="1.2"/>
<circle cx="660.0" cy="724.4" r="1.65" fill="#111"/>
<circle cx="660.0" cy="752.0" r="1.65" fill="#1a78c2"/>
<circle cx="674.0" cy="769.6" r="1.65" fill="#1a78c2"/>
<circle cx="674.0" cy="780.0" r="1.65" fill="#111"/>
<text transform="translate(618.00,751.40) rotate(-90)" text-anchor="middle">Expression</text></g></svg><div style="position:absolute;left:30.7px;top:486.7px;width:53.2px;height:105px;background:linear-gradient(90deg,#db0 0%,#e80 0%,#e40 0%,#e20 0%,#e40 2%,#d90 5%,#db1 12%,#ec2 56%,#e40 60%,#ec2 65%,#ec2 100%)0 0px,linear-gradient(90deg,#db0 0%,#e80 0%,#e40 3%,#e20 4%,#e40 5%,#d90 9%,#db1 16%,#ec3 20%,#ec2 24%,#ec3 29%,#ec3 36%,#ec2 40%,#ec3 45%,#ec3 81%,#e30 85%,#ec3 90%,#ec3 100%)0 1px,linear-gradient(90deg,#db0 0%,#e80 0%,#e40 4%,#e20 5%,#e40 6%,#d90 10%,#db1 17%,#dc4 77%,#db0 81%,#dc4 86%,#dc4 100%)0 2px,linear-gradient(90deg,#db0 0%,#e80 1%,#e40 5%,#e20 6%,#e40 8%,#d90 11%,#db1 18%,#ec2 36%,#e40 40%,#ec2 45%,#ec2 82%,#8ba 86%,#ec2 91%,#ec2 91%,#ec2 95%,#ec2 100%,#ec2 100%)0 3px,linear-gradient(90deg,#db0 0%,#e80 0%,#e40 0%,#e20 1%,#e40 2%,#d90 6%,#db1 13%,#ec2 47%,#e60 51%,#ec2 53%,#ec2 54%,#ec2 56%,#e30 57%,#eb2 58%,#ec2 62%,#ec2 63%,#ec2 100%)0 4px,linear-gradient(90deg,#db0 0%,#e80 0%,#e40 0%,#e20 0%,#e40 1%,#d90 5%,#db1 12%,#da0 65%,#d90 69%,#da0 74%,#da0 91%,#8ba 95%,#da0 100%,#da0 100%)0 5px,linear-gradient(90deg,#db0 0%,#e80 0%,#e40 1%,#e20 2%,#e40 3%,#d90 7%,#db1 14%,#db1 37%,#ec2 41%,#db1 46%,#db1 100%)0 6px,linear-gradient(90deg,#db0 0%,#e80 0%,#e40 1%,#e20 3%,#e40 4%,#d90 8%,#db1 15%,#db1 34%,#d90 38%,#db1 43%,#db1 100%)0 7px,linear-gradient(90deg,#db0 0%,#e80 0%,#e40 2%,#e20 3%,#e40 5%,#d90 8%,#db1 15%,#db1 56%,#7bc 60%,#db1 65%,#db1 100%)0 8px,linear-gradient(90deg,#db0 0%,#e80 0%,#e40 3%,#e20 4%,#e40 5%,#d90 9%,#db1 16%,#db1 92%,#d90 96%,#db1 100%,#db1 100%)0 9px,linear-gradient(90deg,#db0 0%,#e80 0%,#e40 1%,#e20 2%,#e40 3%,#d90 7%,#db1 14%,#eb1 58%,#e30 62%,#eb1 67%,#eb1 100%)0 10px,linear-gradient(90deg,#db0 0%,#e80 0%,#e40 4%,#e20 5%,#e40 6%,#d90 10%,#db1 17%,#ec2 27%,#d90 31%,#ec2 36%,#ec2 92%,#e30 96%,#ec2 100%,#ec2 100%)0 11px,linear-gradient(90deg,#db0 0%,#e80 0%,#e40 2%,#e20 3%,#e40 4%,#d90 8%,#db1 15%,#db1 43%,#d90 47%,#db1 52%,#db1 56%,#db0 60%,#db1 65%,#db1 100%)0 12px,linear-gradient(90deg,#db0 0%,#e80 0%,#e40 3%,#e20 4%,#e40 5%,#d90 9%,#db1 16%,#db1 22%,#e40 26%,#db1 27%,#d90 31%,#db1 31%,#db1 36%,#db1 100%)0 13px,linear-gradient(90deg,#db0 0%,#e80 0%,#e40 4%,#e20 5%,#e40 7%,#d90 10%,#db1 17%,#7bc 72%,#7bc 76%,#7bc 81%,#7bc 100%)0 14px,linear-gradient(90deg,#db0 0%,#e80 0%,#e40 3%,#e20 4%,#e40 5%,#d90 9%,#db1 16%,#7bc 21%,#ec2 25%,#7bc 30%,#7bc 63%,#8ba 67%,#7bc 72%,#7bc 100%)0 15px,linear-gradient(90deg,#db0 0%,#e80 1%,#e40 5%,#e20 6%,#e40 8%,#d90 11%,#db1 18%,#7bb 83%,#e40 87%,#7bb 92%,#7bb 100%)0 16px,linear-gradient(90deg,#db0 0%,#e80 0%,#e40 3%,#e20 4%,#e40 5%,#d90 9%,#db1 16%,#7bb 75%,#ec2 79%,#7bb 81%,#7bb 84%,#d90 85%,#7bb 90%,#7bb 100%)0 17px,linear-gradient(90deg,#db0 0%,#e80 1%,#e40 4%,#e20 6%,#e40 7%,#d90 11%,#db1 18%,#da0 26%,#e60 30%,#da0 35%,#da0 43%,#e60 47%,#da0 52%,#da0 100%)0 18px,linear-gradient(90deg,#db0 0%,#e80 2%,#e40 6%,#e20 7%,#e40 8%,#d90 12%,#db1 19%,#da0 52%,#eb2 56%,#da0 61%,#da0 78%,#e30 82%,#da0 87%,#da0 100%)0 19px,linear-gradient(90deg,#db0 0%,#e80 4%,#e40 8%,#e20 9%,#e40 10%,#d90 14%,#db1 21%,#da0 76%,#7bc 80%,#da0 85%,#da0 100%)0 20px,linear-gradient(90deg,#db0 0%,#e80 0%,#e40 3%,#e20 4%,#e40 6%,#d90 9%,#db1 16%,#db0 18%,#ab8 23%,#ab8 44%,#8ba 48%,#ab8 53%,#ab8 53%,#7bc 57%,#ab8 62%,#ab8 100%)0 21px,linear-gradient(90deg,#db0 0%,#e80 6%,#e40 10%,#e20 11%,#e40 12%,#d90 16%,#db1 23%,#e30 26%,#dc4 31%,#dc4 44%,#7bc 48%,#dc4 53%,#dc4 100%)0 22px,linear-gradient(90deg,#db0 0%,#e80 4%,#e40 8%,#e20 9%,#e40 10%,#d90 14%,#db1 21%,#db0 25%,#dc3 30%,#dc3 86%,#ec2 90%,#dc3 95%,#dc3 100%)0 23px,linear-gradient(90deg,#db0 0%,#e80 4%,#e40 7%,#e20 9%,#e40 10%,#d90 14%,#db1 21%,#db1 39%,#e40 43%,#db1 48%,#db1 57%,#e30 61%,#db1 66%,#db1 100%)0 24px,linear-gradient(90deg,#db0 0%,#e80 3%,#e40 7%,#e20 8%,#e40 9%,#d90 13%,#db1 20%,#eb2 100%)0 25px,linear-gradient(90deg,#db0 0%,#e80 2%,#e40 6%,#e20 7%,#e40 8%,#d90 12%,#db1 19%,#dc4 32%,#e60 36%,#dc4 41%,#dc4 100%)0 26px,linear-gradient(90deg,#db0 0%,#e80 4%,#e40 8%,#e20 9%,#e40 10%,#d90 14%,#db1 21%,#dc4 100%)0 27px,linear-gradient(90deg,#db0 0%,#e80 5%,#e40 9%,#e20 10%,#e40 12%,#d90 15%,#db1 22%,#dc4 58%,#dc4 59%,#e60 62%,#7bc 63%,#dc4 67%,#dc4 68%,#dc4 100%)0 28px,linear-gradient(90deg,#db0 0%,#e80 7%,#e40 10%,#e20 12%,#e40 13%,#d90 17%,#db1 24%,#db1 31%,#db1 100%)0 29px,linear-gradient(90deg,#db0 0%,#e80 6%,#e40 10%,#e20 11%,#e40 12%,#d90 16%,#db1 23%,#ec2 34%,#e30 38%,#ec2 43%,#ec2 74%,#db0 78%,#ec2 83%,#ec2 100%)0 30px,linear-gradient(90deg,#db0 0%,#e80 7%,#e40 11%,#e20 12%,#e40 14%,#d90 17%,#db1 24%,#9b8 52%,#8ba 56%,#9b8 61%,#9b8 62%,#d90 66%,#9b8 71%,#9b8 76%,#7bc 80%,#9b8 85%,#9b8 100%)0 31px,linear-gradient(90deg,#db0 0%,#e80 5%,#e40 9%,#e20 10%,#e40 11%,#d90 15%,#db1 22%,#ec3 24%,#ec3 31%,#8ba 35%,#ec3 40%,#ec3 100%)0 32px,linear-gradient(90deg,#db0 0%,#e80 7%,#e40 11%,#e20 12%,#e40 14%,#d90 17%,#db1 24%,#d90 100%)0 33px,linear-gradient(90deg,#da0 0%,#db0 1%,#e80 10%,#e40 14%,#e20 15%,#e40 17%,#d90 20%,#db1 27%,#ec3 77%,#eb2 81%,#ec3 86%,#ec3 94%,#eb2 98%,#ec3 100%,#ec3 100%)0 34px,linear-gradient(90deg,#d90 0%,#db0 1%,#e80 10%,#e40 14%,#e20 15%,#e40 17%,#d90 20%,#db1 27%,#ec2 34%,#eb2 38%,#ec2 38%,#8ba 42%,#ec2 43%,#ec2 47%,#ec2 88%,#e30 92%,#ec2 97%,#ec2 100%)0 35px,linear-gradient(90deg,#e70 0%,#db0 2%,#e80 11%,#e40 15%,#e20 16%,#e40 17%,#d90 21%,#db1 28%,#db0 84%,#ec2 88%,#db0 93%,#db0 100%)0 36px,linear-gradient(90deg,#e70 0%,#db0 4%,#e80 13%,#e40 17%,#e20 18%,#e40 19%,#d90 23%,#db1 30%,#d80 100%)0 37px,linear-gradient(90deg,#d80 0%,#d80 0%,#db0 4%,#e80 13%,#e40 16%,#e20 18%,#e40 19%,#d90 23%,#db1 30%,#ec3 55%,#db0 59%,#ec3 64%,#ec3 83%,#db0 87%,#ec3 92%,#ec3 100%)0 38px,linear-gradient(90deg,#e70 0%,#db0 2%,#e80 11%,#e40 15%,#e20 16%,#e40 18%,#d90 21%,#db1 28%,#db1 38%,#e40 42%,#db1 47%,#db1 65%,#eb2 69%,#db1 72%,#db1 74%,#ec2 76%,#db1 81%,#db1 100%)0 39px,linear-gradient(90deg,#e70 0%,#db0 2%,#e80 11%,#e40 14%,#e20 16%,#e40 17%,#d90 21%,#db1 28%,#eb2 43%,#eb2 47%,#eb2 52%,#eb2 73%,#7bc 77%,#eb2 82%,#eb2 84%,#8ba 88%,#eb2 93%,#eb2 100%)0 40px,linear-gradient(90deg,#d90 0%,#db0 4%,#e80 13%,#e40 16%,#e20 18%,#e40 19%,#d90 23%,#db1 30%,#eb2 84%,#db0 88%,#eb2 93%,#eb2 100%)0 41px,linear-gradient(90deg,#da0 0%,#da0 1%,#e40 5%,#db0 8%,#e80 17%,#e40 20%,#e20 22%,#e40 23%,#d90 27%,#db1 34%,#eb2 78%,#db0 82%,#eb2 87%,#eb2 100%)0 42px,linear-gradient(90deg,#e80 0%,#db0 7%,#e80 16%,#e40 20%,#e20 21%,#e40 23%,#d90 26%,#db1 33%,#eb2 36%,#8ba 38%,#e30 40%,#eb2 43%,#eb2 45%,#eb2 100%)0 43px,linear-gradient(90deg,#e70 0%,#db0 5%,#e80 14%,#e40 18%,#e20 19%,#e40 20%,#d90 24%,#db1 31%,#eb2 63%,#d90 67%,#eb2 72%,#eb2 100%)0 44px,linear-gradient(90deg,#e70 0%,#e70 8%,#db0 9%,#e80 18%,#e40 22%,#e20 23%,#e40 24%,#d90 28%,#db1 35%,#db1 63%,#e30 67%,#db1 72%,#db1 100%)0 45px,linear-gradient(90deg,#e70 0%,#db0 11%,#e80 20%,#e40 24%,#e20 25%,#e40 26%,#d90 30%,#db1 37%,#ec2 60%,#ec2 64%,#ec2 69%,#ec2 100%)0 46px,linear-gradient(90deg,#d90 0%,#db0 11%,#e80 20%,#e40 24%,#e20 25%,#e40 27%,#d90 30%,#db1 37%,#ec2 42%,#db0 46%,#ec2 51%,#ec2 51%,#ec2 55%,#ec2 60%,#ec2 73%,#8ba 77%,#ec2 82%,#ec2 100%)0 47px,linear-gradient(90deg,#bc6 0%,#bc6 2%,#e30 6%,#db0 11%,#e80 20%,#e40 23%,#e20 25%,#e40 26%,#d90 30%,#db1 37%,#ec2 39%,#7bc 44%,#7bc 100%)0 48px,linear-gradient(90deg,#e70 0%,#e70 13%,#db0 13%,#e80 22%,#e40 26%,#e20 27%,#e40 28%,#d90 32%,#db1 39%,#ec2 41%,#8ba 45%,#ec2 50%,#ec2 100%)0 49px,linear-gradient(90deg,#e70 0%,#db0 17%,#e80 26%,#e40 30%,#e20 31%,#e40 32%,#d90 36%,#db1 43%,#da0 55%,#ec2 59%,#da0 64%,#da0 76%,#ec2 80%,#da0 81%,#eb2 85%,#da0 85%,#da0 90%,#da0 100%)0 50px,linear-gradient(90deg,#e70 0%,#db0 18%,#e80 27%,#e40 31%,#e20 32%,#e40 34%,#d90 37%,#db1 44%,#da0 73%,#7bc 77%,#da0 79%,#da0 82%,#e40 83%,#da0 88%,#da0 100%)0 51px,linear-gradient(90deg,#e70 0%,#e70 1%,#eb2 5%,#e70 10%,#db0 16%,#e80 25%,#e40 29%,#e20 30%,#e40 31%,#d90 35%,#db1 42%,#d80 84%,#e40 88%,#d80 93%,#d80 100%)0 52px,linear-gradient(90deg,#e70 0%,#e70 15%,#e70 17%,#e70 18%,#e40 19%,#db0 19%,#e80 28%,#e40 31%,#e20 33%,#e40 34%,#d90 38%,#db1 45%,#db1 100%)0 53px,linear-gradient(90deg,#e80 0%,#e80 0%,#eb2 4%,#e80 9%,#db0 20%,#e80 29%,#e40 33%,#e20 34%,#e40 36%,#d90 39%,#db1 46%,#e40 51%,#db1 56%,#db1 74%,#7bc 78%,#db1 83%,#db1 100%)0 54px,linear-gradient(90deg,#e70 0%,#e70 6%,#7bc 10%,#e70 15%,#db0 25%,#e80 34%,#e40 38%,#e20 39%,#e40 40%,#d90 44%,#db1 51%,#eb1 67%,#d90 71%,#eb1 76%,#eb1 100%)0 55px,linear-gradient(90deg,#d80 0%,#d80 8%,#7bc 12%,#d80 17%,#db0 25%,#e80 34%,#e40 37%,#e20 39%,#e40 40%,#d90 44%,#db1 51%,#eb1 100%)0 56px,linear-gradient(90deg,#e70 0%,#e70 18%,#e40 22%,#e70 27%,#e70 27%,#db0 28%,#e80 37%,#e40 41%,#e20 42%,#e40 43%,#d90 47%,#db1 54%,#db0 100%)0 57px,linear-gradient(90deg,#e70 0%,#db0 26%,#e80 35%,#e40 39%,#e20 40%,#e40 42%,#d90 45%,#db1 52%,#db0 55%,#eb2 59%,#db0 64%,#db0 91%,#eb2 95%,#db0 100%,#db0 100%)0 58px,linear-gradient(90deg,#d90 0%,#d90 18%,#ec2 22%,#d90 27%,#db0 31%,#e80 40%,#e40 44%,#e20 45%,#e40 47%,#d90 50%,#db1 57%,#ec2 63%,#ec2 100%)0 59px,linear-gradient(90deg,#db1 0%,#db0 30%,#e80 39%,#e40 43%,#e20 44%,#e40 46%,#d90 49%,#db1 56%,#ec2 100%)0 60px,linear-gradient(90deg,#da0 0%,#da0 21%,#e60 25%,#da0 30%,#db0 33%,#e80 42%,#e40 45%,#e20 47%,#e40 48%,#d90 52%,#db1 59%,#ec2 100%)0 61px,linear-gradient(90deg,#db1 0%,#db1 24%,#d90 28%,#db0 30%,#e80 39%,#e40 42%,#e20 44%,#e40 45%,#d90 49%,#db1 56%,#dc4 74%,#db0 78%,#dc4 83%,#dc4 100%)0 62px,linear-gradient(90deg,#d90 0%,#db0 32%,#e80 41%,#e40 45%,#e20 46%,#e40 47%,#d90 51%,#db1 58%,#dc4 64%,#dc4 100%)0 63px,linear-gradient(90deg,#db1 0%,#db1 17%,#e40 21%,#db1 26%,#db1 31%,#db0 33%,#e80 42%,#e40 46%,#e20 47%,#e40 48%,#d90 52%,#db1 59%,#dc4 100%)0 64px,linear-gradient(90deg,#db1 0%,#db1 6%,#db1 9%,#db0 10%,#e60 13%,#db1 15%,#db1 16%,#db1 18%,#e60 20%,#db1 25%,#db0 36%,#e80 45%,#e40 49%,#e20 50%,#e40 52%,#d90 55%,#db1 62%,#dc4 100%)0 65px,linear-gradient(90deg,#e70 0%,#e70 32%,#e70 33%,#db0 35%,#e80 44%,#e40 48%,#e20 49%,#e40 50%,#d90 54%,#db1 61%,#ec2 78%,#e30 82%,#ec2 87%,#ec2 100%)0 66px,linear-gradient(90deg,#da0 0%,#db0 41%,#e80 50%,#e40 54%,#e20 55%,#e40 56%,#d90 60%,#db1 67%,#ec2 89%,#7bc 93%,#ec2 98%,#ec2 100%)0 67px,linear-gradient(90deg,#e70 0%,#e70 29%,#7bc 33%,#db0 37%,#e80 46%,#e40 50%,#e20 51%,#e40 52%,#d90 56%,#db1 63%,#ec2 100%)0 68px,linear-gradient(90deg,#e70 0%,#e70 5%,#e60 9%,#e70 14%,#db0 42%,#e80 51%,#e40 54%,#e20 56%,#e40 57%,#d90 61%,#db1 68%,#d90 94%,#7bc 98%,#d90 100%,#d90 100%)0 69px,linear-gradient(90deg,#e70 0%,#e70 21%,#7bc 25%,#e70 30%,#db0 41%,#e80 50%,#e40 54%,#e20 55%,#e40 57%,#d90 60%,#db1 67%,#d80 92%,#ec2 96%,#d80 100%,#d80 100%)0 70px,linear-gradient(90deg,#e70 0%,#e70 38%,#d90 42%,#db0 45%,#e80 54%,#e40 58%,#e20 59%,#e40 60%,#d90 64%,#db1 71%,#d80 80%,#e30 84%,#d80 89%,#d80 100%)0 71px,linear-gradient(90deg,#e70 0%,#db0 45%,#e80 54%,#e40 58%,#e20 59%,#e40 60%,#d90 64%,#db1 71%,#d80 100%)0 72px,linear-gradient(90deg,#e70 0%,#db0 46%,#e80 55%,#e40 59%,#e20 60%,#e40 61%,#d90 65%,#db1 72%,#d80 77%,#8ba 81%,#d80 86%,#d80 100%)0 73px,linear-gradient(90deg,#e80 0%,#e80 0%,#db0 3%,#e80 8%,#e80 18%,#e30 22%,#e80 27%,#db0 46%,#e80 55%,#e40 58%,#e20 60%,#e40 61%,#d90 65%,#db1 72%,#ec2 77%,#ec2 100%)0 74px,linear-gradient(90deg,#e70 0%,#e70 39%,#8ba 43%,#e70 48%,#db0 52%,#e80 61%,#e40 65%,#e20 66%,#e40 67%,#d90 71%,#db1 78%,#dc3 100%)0 75px,linear-gradient(90deg,#db1 0%,#db1 14%,#eb2 18%,#db1 23%,#db0 49%,#e80 58%,#e40 62%,#e20 63%,#e40 64%,#d90 68%,#db1 75%,#dc3 100%)0 76px,linear-gradient(90deg,#e70 0%,#e70 26%,#7bc 30%,#e70 35%,#e70 43%,#e70 44%,#7bc 47%,#e60 48%,#db0 52%,#e80 61%,#e40 65%,#e20 66%,#e40 67%,#d90 71%,#db1 78%,#da0 100%)0 77px,linear-gradient(90deg,#ec2 0%,#ec2 17%,#eb2 21%,#ec2 26%,#db0 50%,#e80 59%,#e40 63%,#e20 64%,#e40 65%,#d90 69%,#db1 76%,#7bb 100%)0 78px,linear-gradient(90deg,#e70 0%,#e70 12%,#e40 16%,#e70 21%,#e70 27%,#e60 31%,#e70 36%,#db0 54%,#e80 63%,#e40 67%,#e20 68%,#e40 69%,#d90 73%,#db1 80%,#ec2 100%)0 79px,linear-gradient(90deg,#da0 0%,#da0 28%,#e40 32%,#da0 37%,#db0 53%,#e80 62%,#e40 66%,#e20 67%,#e40 68%,#d90 72%,#db1 79%,#dc3 89%,#e60 93%,#dc3 98%,#dc3 100%)0 80px,linear-gradient(90deg,#e70 0%,#e70 25%,#e40 29%,#e70 34%,#e70 34%,#d90 38%,#e70 43%,#db0 52%,#e80 61%,#e40 65%,#e20 66%,#e40 67%,#d90 71%,#db1 78%,#dc3 100%)0 81px,linear-gradient(90deg,#db1 0%,#db1 49%,#ec2 53%,#db0 55%,#e80 64%,#e40 67%,#e20 69%,#e40 70%,#d90 74%,#db1 81%,#dc3 89%,#7bc 93%,#dc3 98%,#dc3 100%)0 82px,linear-gradient(90deg,#da0 0%,#da0 45%,#eb2 49%,#da0 54%,#db0 55%,#e80 64%,#e40 68%,#e20 69%,#e40 70%,#d90 74%,#db1 81%,#ab8 92%,#7bc 96%,#ab8 100%,#ab8 100%)0 83px,linear-gradient(90deg,#dc4 0%,#dc4 23%,#e40 27%,#dc4 32%,#dc4 38%,#db0 42%,#dc4 47%,#db0 59%,#e80 68%,#e40 71%,#e20 73%,#e40 74%,#d90 78%,#db1 85%,#8ba 100%)0 84px,linear-gradient(90deg,#db1 0%,#db0 58%,#e80 67%,#e40 71%,#e20 72%,#e40 73%,#d90 77%,#db1 84%,#8ba 90%,#eb2 90%,#e60 94%,#8ba 95%,#8ba 99%,#8ba 100%)0 85px,linear-gradient(90deg,#da0 0%,#db0 58%,#e80 67%,#e40 71%,#e20 72%,#e40 73%,#d90 77%,#db1 84%,#e40 88%,#eb2 93%,#eb2 100%)0 86px,linear-gradient(90deg,#e70 0%,#e70 26%,#8ba 30%,#e70 34%,#e70 35%,#ec2 38%,#e70 43%,#db0 60%,#e80 69%,#e40 73%,#e20 74%,#e40 76%,#d90 79%,#db1 86%,#ec2 100%)0 87px,linear-gradient(90deg,#ec2 0%,#ec2 48%,#e60 52%,#ec2 53%,#ec2 57%,#ec2 57%,#db0 60%,#e80 69%,#e40 73%,#e20 74%,#e40 75%,#d90 79%,#db1 86%,#ab8 100%)0 88px,linear-gradient(90deg,#d90 0%,#d90 1%,#e30 5%,#d90 9%,#d90 10%,#ec2 13%,#d90 18%,#db0 63%,#e80 72%,#e40 76%,#e20 77%,#e40 78%,#d90 82%,#db1 89%,#ec3 100%)0 89px,linear-gradient(90deg,#d80 0%,#d80 15%,#d80 17%,#e60 19%,#d90 21%,#d80 24%,#d80 26%,#db0 65%,#e80 74%,#e40 78%,#e20 79%,#e40 80%,#d90 84%,#db1 91%,#ec2 93%,#ec2 100%)0 90px,linear-gradient(90deg,#da0 0%,#db0 66%,#e80 75%,#e40 79%,#e20 80%,#e40 81%,#d90 85%,#db1 92%,#ec2 98%,#ec2 100%)0 91px,linear-gradient(90deg,#e70 0%,#e70 9%,#8ba 13%,#e70 18%,#e70 20%,#eb2 24%,#e70 29%,#db0 64%,#e80 73%,#e40 77%,#e20 78%,#e40 79%,#d90 83%,#db1 90%,#ec2 100%)0 92px,linear-gradient(90deg,#d90 0%,#d90 39%,#e40 43%,#d90 48%,#db0 68%,#e80 77%,#e40 81%,#e20 82%,#e40 83%,#d90 87%,#db1 94%,#ec2 100%)0 93px,linear-gradient(90deg,#db1 0%,#db1 64%,#e40 68%,#db0 69%,#e80 78%,#e40 82%,#e20 83%,#e40 85%,#d90 88%,#db1 95%,#ec2 100%)0 94px,linear-gradient(90deg,#db1 0%,#db1 28%,#ec2 32%,#db1 37%,#db0 72%,#e80 81%,#e40 85%,#e20 86%,#e40 87%,#d90 91%,#db1 98%,#ec2 100%)0 95px,linear-gradient(90deg,#db1 0%,#db1 25%,#ec2 29%,#db1 34%,#db0 72%,#e80 81%,#e40 85%,#e20 86%,#e40 87%,#d90 91%,#db1 98%,#ec2 100%)0 96px,linear-gradient(90deg,#eb1 0%,#db0 71%,#e80 80%,#e40 84%,#e20 85%,#e40 86%,#d90 90%,#db1 97%,#7bb 100%)0 97px,linear-gradient(90deg,#e70 0%,#e70 8%,#d90 12%,#e70 17%,#e70 43%,#d90 47%,#e70 49%,#e70 52%,#e40 53%,#e70 58%,#db0 74%,#e80 83%,#e40 87%,#e20 88%,#e40 89%,#d90 93%,#e80 100%,#db1 100%)0 98px,linear-gradient(90deg,#d90 0%,#d90 71%,#db0 75%,#db0 77%,#e80 86%,#e40 90%,#e20 91%,#e40 93%,#d90 96%,#ec2 100%,#db1 100%)0 99px,linear-gradient(90deg,#d90 0%,#d90 37%,#ec2 41%,#d90 46%,#db0 76%,#e80 85%,#e40 88%,#e20 90%,#e40 91%,#d90 95%,#eb2 100%,#db1 100%)0 100px,linear-gradient(90deg,#ec2 0%,#ec2 7%,#e30 11%,#ec2 16%,#ec2 48%,#db0 52%,#ec2 57%,#db0 81%,#e80 90%,#e40 94%,#e20 95%,#e40 97%,#6ab 100%,#d90 100%,#db1 100%)0 101px,linear-gradient(90deg,#d90 0%,#d90 55%,#d90 59%,#d90 64%,#db0 80%,#e80 89%,#e40 93%,#e20 94%,#e40 95%,#d90 99%,#ec2 100%,#db1 100%)0 102px,linear-gradient(90deg,#db1 0%,#db1 68%,#db1 68%,#eb2 72%,#d90 72%,#db1 77%,#db1 77%,#db0 83%,#e80 92%,#e40 96%,#e20 97%,#e40 98%,#ec2 100%,#d90 100%,#db1 100%)0 103px,linear-gradient(90deg,#e70 0%,#e70 5%,#e60 9%,#e70 14%,#e70 51%,#db0 55%,#e70 60%,#db0 80%,#e80 89%,#e40 93%,#e20 94%,#e40 95%,#d90 99%,#eb1 100%,#db1 100%)0 104px;background-size:100% 1px;background-repeat:no-repeat;box-shadow:inset 0 0 0 0.7px #4a7f8c"></div><div style="position:absolute;left:117.0px;top:486.7px;width:53.2px;height:105px;background:linear-gradient(90deg,#db0 0%,#e80 0%,#e40 1%,#e20 2%,#e40 4%,#d90 7%,#db1 14%,#ab7 33%,#eb2 37%,#ab7 42%,#ab7 100%)0 0px,linear-gradient(90deg,#db0 0%,#e80 0%,#e40 1%,#e20 2%,#e40 3%,#d90 7%,#db1 14%,#ab7 27%,#e30 31%,#ab7 36%,#ab7 100%)0 1px,linear-gradient(90deg,#db0 0%,#e80 0%,#e40 0%,#e20 0%,#e40 2%,#d90 5%,#db1 12%,#ec2 54%,#ec2 58%,#ec2 63%,#ec2 100%)0 2px,linear-gradient(90deg,#db0 0%,#e80 1%,#e40 5%,#e20 6%,#e40 7%,#d90 11%,#db1 18%,#ec2 25%,#7bc 29%,#ec2 34%,#ec2 49%,#d90 53%,#ec2 58%,#ec2 100%)0 3px,linear-gradient(90deg,#db0 0%,#e80 0%,#e40 1%,#e20 2%,#e40 3%,#d90 7%,#db1 14%,#d90 47%,#e60 51%,#d90 56%,#d90 100%)0 4px,linear-gradient(90deg,#db0 0%,#e80 0%,#e40 0%,#e20 1%,#e40 3%,#d90 6%,#db1 13%,#7bb 39%,#d90 43%,#7bb 48%,#7bb 100%)0 5px,linear-gradient(90deg,#db0 0%,#e80 0%,#e40 1%,#e20 2%,#e40 3%,#d90 7%,#db1 14%,#ec2 35%,#e30 39%,#ec2 44%,#ec2 59%,#db0 63%,#ec2 68%,#ec2 100%)0 6px,linear-gradient(90deg,#db0 0%,#e80 0%,#e40 1%,#e20 2%,#e40 3%,#d90 7%,#db1 14%,#dc4 29%,#e60 33%,#dc4 38%,#dc4 100%)0 7px,linear-gradient(90deg,#db0 0%,#e80 0%,#e40 0%,#e20 2%,#e40 3%,#d90 7%,#db1 14%,#dc4 60%,#8ba 64%,#dc4 69%,#dc4 83%,#eb2 87%,#dc4 92%,#dc4 100%)0 8px,linear-gradient(90deg,#db0 0%,#e80 0%,#e40 0%,#e20 1%,#e40 2%,#d90 6%,#db1 13%,#9ba 20%,#e40 24%,#9ba 29%,#9ba 77%,#e30 81%,#9ba 86%,#9ba 100%)0 9px,linear-gradient(90deg,#db0 0%,#e80 0%,#e40 1%,#e20 2%,#e40 3%,#d90 7%,#db1 14%,#ec2 17%,#db0 21%,#ec2 26%,#ec2 31%,#ec2 35%,#ec2 40%,#ec2 100%)0 10px,linear-gradient(90deg,#db0 0%,#e80 0%,#e40 0%,#e20 1%,#e40 2%,#d90 6%,#db1 13%,#ec2 41%,#e60 45%,#ec2 50%,#ec2 80%,#eb2 84%,#ec2 89%,#ec2 100%)0 11px,linear-gradient(90deg,#db0 0%,#e80 1%,#e40 4%,#e20 6%,#e40 7%,#d90 11%,#db1 18%,#ec2 28%,#7bc 32%,#ec2 36%,#ec2 37%,#eb2 40%,#ec2 45%,#ec2 100%)0 12px,linear-gradient(90deg,#db0 0%,#e80 0%,#e40 0%,#e20 1%,#e40 2%,#d90 6%,#db1 13%,#ec3 25%,#d90 29%,#ec3 34%,#ec3 35%,#ec2 39%,#ec3 44%,#ec3 100%)0 13px,linear-gradient(90deg,#db0 0%,#e80 0%,#e40 0%,#e20 0%,#e40 1%,#d90 5%,#db1 12%,#ec2 27%,#ec2 31%,#ec2 36%,#ec2 52%,#eb2 56%,#ec2 61%,#ec2 100%)0 14px,linear-gradient(90deg,#db0 0%,#e80 0%,#e40 0%,#e20 2%,#e40 3%,#d90 7%,#db1 14%,#dc3 40%,#7bc 44%,#dc3 49%,#dc3 55%,#dc3 55%,#db0 59%,#e60 59%,#dc3 64%,#dc3 64%,#dc3 100%)0 15px,linear-gradient(90deg,#db0 0%,#e80 0%,#e40 2%,#e20 4%,#e40 5%,#d90 9%,#db1 16%,#9b9 24%,#e60 28%,#9b9 33%,#9b9 64%,#eb2 68%,#9b9 73%,#9b9 100%)0 16px,linear-gradient(90deg,#db0 0%,#e80 0%,#e40 0%,#e20 0%,#e40 2%,#d90 5%,#db1 12%,#ec2 67%,#d90 71%,#ec2 76%,#ec2 100%)0 17px,linear-gradient(90deg,#db0 0%,#e80 0%,#e40 3%,#e20 4%,#e40 5%,#d90 9%,#db1 16%,#db1 58%,#ec2 62%,#db1 67%,#db1 80%,#e40 84%,#db1 89%,#db1 100%)0 18px,linear-gradient(90deg,#db0 0%,#e80 0%,#e40 0%,#e20 0%,#e40 1%,#d90 5%,#db1 12%,#da0 65%,#e30 69%,#da0 74%,#da0 100%)0 19px,linear-gradient(90deg,#db0 0%,#e80 0%,#e40 0%,#e20 1%,#e40 2%,#d90 6%,#db1 13%,#ec2 87%,#e60 91%,#ec2 93%,#ec2 96%,#db0 97%,#ec2 100%,#ec2 100%)0 20px,linear-gradient(90deg,#db0 0%,#e80 0%,#e40 0%,#e20 0%,#e40 2%,#d90 5%,#db1 12%,#da0 52%,#e60 56%,#da0 61%,#da0 66%,#d90 70%,#da0 75%,#da0 100%)0 21px,linear-gradient(90deg,#db0 0%,#e80 0%,#e40 2%,#e20 3%,#e40 4%,#d90 8%,#db1 15%,#ec2 17%,#ec2 43%,#e60 47%,#ec2 51%,#ec2 52%,#d90 55%,#ec2 60%,#ec2 100%)0 22px,linear-gradient(90deg,#db0 0%,#e80 0%,#e40 1%,#e20 2%,#e40 3%,#d90 7%,#db1 14%,#ec2 87%,#e30 91%,#ec2 96%,#ec2 100%)0 23px,linear-gradient(90deg,#db0 0%,#e80 0%,#e40 1%,#e20 2%,#e40 3%,#d90 7%,#db1 14%,#ec2 18%,#ec2 20%,#db0 24%,#ec2 29%,#ec2 100%)0 24px,linear-gradient(90deg,#db0 0%,#e80 0%,#e40 3%,#e20 4%,#e40 5%,#d90 9%,#db1 16%,#ec2 62%,#eb2 66%,#ec2 71%,#ec2 93%,#d90 97%,#ec2 100%,#ec2 100%)0 25px,linear-gradient(90deg,#db0 0%,#e80 0%,#e40 1%,#e20 3%,#e40 4%,#d90 8%,#db1 15%,#ec2 20%,#e40 24%,#ec2 29%,#ec2 100%)0 26px,linear-gradient(90deg,#db0 0%,#e80 0%,#e40 2%,#e20 3%,#e40 4%,#d90 8%,#db1 15%,#dc4 34%,#e40 38%,#dc4 43%,#dc4 70%,#e30 74%,#dc4 79%,#dc4 100%)0 27px,linear-gradient(90deg,#db0 0%,#e80 0%,#e40 2%,#e20 3%,#e40 5%,#d90 8%,#db1 15%,#ec2 22%,#ec2 50%,#e60 54%,#ec2 59%,#ec2 100%)0 28px,linear-gradient(90deg,#db0 0%,#e80 0%,#e40 2%,#e20 3%,#e40 4%,#d90 8%,#db1 15%,#ec2 23%,#e30 27%,#ec2 32%,#ec2 52%,#d90 56%,#ec2 61%,#ec2 100%)0 29px,linear-gradient(90deg,#db0 0%,#e80 0%,#e40 0%,#e20 1%,#e40 2%,#d90 6%,#db1 13%,#e30 16%,#7bc 21%,#7bc 30%,#ec2 34%,#7bc 39%,#7bc 39%,#db0 43%,#7bc 48%,#7bc 100%)0 30px,linear-gradient(90deg,#db0 0%,#e80 0%,#e40 1%,#e20 3%,#e40 4%,#d90 8%,#db1 15%,#7bc 23%,#7bc 27%,#7bc 32%,#7bc 66%,#e30 70%,#7bc 75%,#7bc 93%,#e40 97%,#7bc 100%,#7bc 100%)0 31px,linear-gradient(90deg,#db0 0%,#e80 0%,#e40 2%,#e20 3%,#e40 4%,#d90 8%,#db1 15%,#9b8 48%,#d90 52%,#9b8 57%,#9b8 78%,#d90 82%,#9b8 87%,#9b8 100%)0 32px,linear-gradient(90deg,#db0 0%,#e80 0%,#e40 3%,#e20 5%,#e40 6%,#d90 10%,#db1 17%,#ab8 41%,#7bc 45%,#ab8 50%,#ab8 58%,#e40 62%,#ab8 67%,#ab8 100%)0 33px,linear-gradient(90deg,#db0 0%,#e80 0%,#e40 1%,#e20 2%,#e40 4%,#d90 7%,#db1 14%,#ec3 50%,#eb2 54%,#ec3 59%,#ec3 92%,#8ba 96%,#ec3 100%,#ec3 100%)0 34px,linear-gradient(90deg,#db0 0%,#e80 0%,#e40 3%,#e20 4%,#e40 5%,#d90 9%,#db1 16%,#ec3 59%,#ec3 62%,#e60 63%,#eb2 66%,#ec3 68%,#ec3 71%,#ec3 100%)0 35px,linear-gradient(90deg,#db0 0%,#e80 1%,#e40 5%,#e20 6%,#e40 7%,#d90 11%,#db1 18%,#ec2 25%,#ec2 29%,#ec2 34%,#ec2 40%,#ec2 44%,#ec2 46%,#ec2 49%,#8ba 50%,#ec2 55%,#ec2 100%)0 36px,linear-gradient(90deg,#db0 0%,#e80 0%,#e40 3%,#e20 4%,#e40 5%,#d90 9%,#db1 16%,#ec2 44%,#eb2 48%,#ec2 53%,#ec2 100%)0 37px,linear-gradient(90deg,#db0 0%,#e80 1%,#e40 5%,#e20 6%,#e40 7%,#d90 11%,#db1 18%,#ec2 100%)0 38px,linear-gradient(90deg,#db0 0%,#e80 1%,#e40 5%,#e20 6%,#e40 7%,#d90 11%,#db1 18%,#ec2 28%,#8ba 32%,#ec2 37%,#ec2 73%,#ec2 77%,#ec2 82%,#ec2 100%)0 39px,linear-gradient(90deg,#db0 0%,#e80 1%,#e40 4%,#e20 6%,#e40 7%,#d90 11%,#db1 18%,#ec2 49%,#e30 53%,#ec2 58%,#ec2 100%)0 40px,linear-gradient(90deg,#db0 0%,#e80 1%,#e40 5%,#e20 6%,#e40 8%,#d90 11%,#db1 18%,#7bc 62%,#d90 66%,#7bc 71%,#7bc 87%,#e60 91%,#7bc 96%,#7bc 100%)0 41px,linear-gradient(90deg,#db0 0%,#e80 6%,#e40 10%,#e20 11%,#e40 12%,#d90 16%,#db1 23%,#ec2 29%,#e40 33%,#ec2 38%,#ec2 100%)0 42px,linear-gradient(90deg,#db0 0%,#e80 3%,#e40 7%,#e20 8%,#e40 9%,#d90 13%,#db1 20%,#db1 56%,#eb2 60%,#db1 65%,#db1 70%,#d90 74%,#db1 79%,#db1 90%,#e40 94%,#db1 99%,#db1 100%)0 43px,linear-gradient(90deg,#db0 0%,#e80 5%,#e40 9%,#e20 10%,#e40 12%,#d90 15%,#db1 22%,#db1 86%,#e40 90%,#db1 95%,#db1 100%)0 44px,linear-gradient(90deg,#db0 0%,#e80 3%,#e40 7%,#e20 8%,#e40 9%,#d90 13%,#db1 20%,#eb1 24%,#eb2 28%,#eb1 33%,#eb1 33%,#e60 37%,#eb1 42%,#eb1 100%)0 45px,linear-gradient(90deg,#db0 0%,#e80 6%,#e40 10%,#e20 11%,#e40 12%,#d90 16%,#db1 23%,#db1 40%,#eb2 44%,#db1 44%,#db1 46%,#e60 48%,#db1 49%,#e30 50%,#db1 53%,#db1 55%,#db1 100%)0 46px,linear-gradient(90deg,#db0 0%,#e80 6%,#e40 9%,#e20 11%,#e40 12%,#d90 16%,#db1 23%,#dc4 92%,#ec2 96%,#dc4 100%,#dc4 100%)0 47px,linear-gradient(90deg,#db0 0%,#e80 7%,#e40 11%,#e20 12%,#e40 13%,#d90 17%,#db1 24%,#dc4 51%,#ec2 55%,#dc4 60%,#dc4 89%,#db0 93%,#dc4 98%,#dc4 100%)0 48px,linear-gradient(90deg,#db0 0%,#e80 9%,#e40 12%,#e20 14%,#e40 15%,#d90 19%,#db1 26%,#dc4 58%,#e30 62%,#dc4 67%,#dc4 87%,#db0 91%,#dc4 96%,#dc4 100%)0 49px,linear-gradient(90deg,#d80 0%,#db0 3%,#e80 12%,#e40 16%,#e20 17%,#e40 19%,#d90 22%,#db1 29%,#ec2 92%,#db0 96%,#ec2 100%,#ec2 100%)0 50px,linear-gradient(90deg,#e70 0%,#db0 3%,#e80 12%,#e40 15%,#e20 17%,#e40 18%,#d90 22%,#db1 29%,#ec2 52%,#eb2 56%,#ec2 61%,#ec2 78%,#eb2 82%,#ec2 87%,#ec2 100%)0 51px,linear-gradient(90deg,#da0 0%,#db0 2%,#e80 11%,#e40 15%,#e20 16%,#e40 17%,#d90 21%,#db1 28%,#ec2 77%,#8ba 81%,#ec2 86%,#ec2 88%,#db0 92%,#ec2 97%,#ec2 100%)0 52px,linear-gradient(90deg,#db0 0%,#db0 3%,#e80 12%,#e40 16%,#e20 17%,#e40 18%,#d90 22%,#db1 29%,#ec2 42%,#db0 46%,#ec2 51%,#ec2 100%)0 53px,linear-gradient(90deg,#da0 0%,#db0 6%,#e80 15%,#e40 19%,#e20 20%,#e40 21%,#d90 25%,#db1 32%,#ec2 37%,#ec2 41%,#eb2 45%,#ec2 50%,#ec2 100%)0 54px,linear-gradient(90deg,#db1 0%,#db1 0%,#d90 4%,#db0 5%,#e80 14%,#e40 18%,#e20 19%,#e40 20%,#d90 24%,#db1 31%,#bb7 70%,#8ba 74%,#bb7 79%,#bb7 100%)0 55px,linear-gradient(90deg,#db1 0%,#db0 10%,#e80 19%,#e40 23%,#e20 24%,#e40 25%,#d90 29%,#db1 36%,#d90 41%,#dc3 46%,#dc3 56%,#8ba 60%,#dc3 65%,#dc3 100%)0 56px,linear-gradient(90deg,#eb1 0%,#db0 7%,#e80 16%,#e40 20%,#e20 21%,#e40 23%,#d90 26%,#db1 33%,#dc4 100%)0 57px,linear-gradient(90deg,#d90 0%,#db0 4%,#e80 13%,#e40 17%,#e20 18%,#e40 19%,#d90 23%,#db1 30%,#dc4 43%,#d90 47%,#dc4 52%,#dc4 79%,#e60 83%,#dc4 88%,#dc4 100%)0 58px,linear-gradient(90deg,#e70 0%,#db0 10%,#e80 19%,#e40 22%,#e20 24%,#e40 25%,#d90 29%,#db1 36%,#d80 67%,#ec2 71%,#d80 76%,#d80 100%)0 59px,linear-gradient(90deg,#dc3 0%,#db0 12%,#e80 21%,#e40 25%,#e20 26%,#e40 27%,#d90 31%,#db1 38%,#9ba 50%,#eb2 54%,#9ba 59%,#9ba 100%)0 60px,linear-gradient(90deg,#e70 0%,#db0 16%,#e80 25%,#e40 29%,#e20 30%,#e40 31%,#d90 35%,#db1 42%,#d90 63%,#e30 67%,#d90 72%,#d90 74%,#e40 78%,#d90 83%,#d90 100%)0 61px,linear-gradient(90deg,#e70 0%,#e70 6%,#d90 10%,#e70 15%,#db0 16%,#e80 25%,#e40 29%,#e20 30%,#e40 31%,#d90 35%,#db1 42%,#db1 78%,#db0 82%,#db1 87%,#db1 100%)0 62px,linear-gradient(90deg,#eb2 0%,#db0 19%,#e80 28%,#e40 32%,#e20 33%,#e40 34%,#d90 38%,#db1 45%,#7bc 69%,#db0 73%,#7bc 78%,#7bc 100%)0 63px,linear-gradient(90deg,#cc5 0%,#db0 18%,#e80 27%,#e40 31%,#e20 32%,#e40 34%,#d90 37%,#db1 44%,#7bc 100%)0 64px,linear-gradient(90deg,#ec2 0%,#ec2 5%,#ec2 9%,#ec2 14%,#db0 17%,#e80 26%,#e40 29%,#e20 31%,#e40 32%,#d90 36%,#db1 43%,#ab7 81%,#db0 85%,#ab7 90%,#ab7 100%)0 65px,linear-gradient(90deg,#db0 0%,#db0 20%,#e80 29%,#e40 33%,#e20 34%,#e40 35%,#d90 39%,#db1 46%,#ec2 72%,#ec2 76%,#ec2 81%,#ec2 100%)0 66px,linear-gradient(90deg,#db1 0%,#db0 21%,#e80 30%,#e40 34%,#e20 35%,#e40 37%,#d90 40%,#db1 47%,#dc4 56%,#dc4 58%,#d90 60%,#7bc 62%,#dc4 65%,#dc4 67%,#dc4 77%,#8ba 81%,#dc4 86%,#dc4 100%)0 67px,linear-gradient(90deg,#db0 0%,#db0 21%,#e80 30%,#e40 33%,#e20 35%,#e40 36%,#d90 40%,#db1 47%,#dc4 49%,#e40 53%,#dc4 57%,#dc4 58%,#e40 61%,#dc4 66%,#dc4 100%)0 68px,linear-gradient(90deg,#e70 0%,#db0 25%,#e80 34%,#e40 38%,#e20 39%,#e40 40%,#d90 44%,#db1 51%,#d90 66%,#eb2 70%,#d90 73%,#d90 75%,#e60 77%,#d90 80%,#d90 82%,#ec2 84%,#d90 89%,#d90 100%)0 69px,linear-gradient(90deg,#e70 0%,#db0 26%,#e80 35%,#e40 38%,#e20 40%,#e40 41%,#d90 45%,#db1 52%,#d90 58%,#eb2 62%,#d90 67%,#d90 100%)0 70px,linear-gradient(90deg,#d90 0%,#db0 27%,#e80 36%,#e40 40%,#e20 41%,#e40 42%,#d90 46%,#db1 53%,#ec2 56%,#ec2 58%,#d90 60%,#e40 62%,#ec2 65%,#ec2 67%,#ec2 73%,#ec2 77%,#ec2 82%,#ec2 100%)0 71px,linear-gradient(90deg,#d80 0%,#db0 28%,#e80 37%,#e40 41%,#e20 42%,#e40 43%,#d90 47%,#db1 54%,#eb1 60%,#eb1 82%,#8ba 86%,#eb1 91%,#eb1 100%)0 72px,linear-gradient(90deg,#e70 0%,#db0 30%,#e80 39%,#e40 43%,#e20 44%,#e40 45%,#d90 49%,#db1 56%,#eb1 59%,#7bc 63%,#eb1 68%,#eb1 100%)0 73px,linear-gradient(90deg,#ec2 0%,#db0 31%,#e80 40%,#e40 44%,#e20 45%,#e40 46%,#d90 50%,#db1 57%,#9b9 61%,#9b9 81%,#d90 85%,#9b9 90%,#9b9 100%)0 74px,linear-gradient(90deg,#e80 0%,#db0 32%,#e80 41%,#e40 44%,#e20 46%,#e40 47%,#d90 51%,#db1 58%,#dc3 87%,#8ba 91%,#dc3 96%,#dc3 100%)0 75px,linear-gradient(90deg,#e70 0%,#db0 33%,#e80 42%,#e40 45%,#e20 47%,#e40 48%,#d90 52%,#db1 59%,#db1 90%,#8ba 94%,#db1 99%,#db1 100%)0 76px,linear-gradient(90deg,#da0 0%,#db0 33%,#e80 42%,#e40 46%,#e20 47%,#e40 48%,#d90 52%,#db1 59%,#eb1 88%,#ec2 92%,#eb1 97%,#eb1 100%)0 77px,linear-gradient(90deg,#e70 0%,#db0 32%,#e80 41%,#e40 45%,#e20 46%,#e40 48%,#d90 51%,#db1 58%,#d90 70%,#e60 74%,#d90 79%,#d90 91%,#eb2 95%,#d90 100%,#d90 100%)0 78px,linear-gradient(90deg,#db1 0%,#db1 11%,#e40 15%,#db1 20%,#db0 38%,#e80 47%,#e40 50%,#e20 52%,#e40 53%,#d90 57%,#db1 64%,#ec2 100%)0 79px,linear-gradient(90deg,#e70 0%,#db0 42%,#e80 51%,#e40 55%,#e20 56%,#e40 58%,#d90 61%,#db1 68%,#e60 74%,#d90 78%,#d90 79%,#e60 82%,#d90 83%,#ec2 87%,#d90 87%,#d90 92%,#d90 100%)0 80px,linear-gradient(90deg,#e70 0%,#e70 23%,#e60 27%,#e70 32%,#db0 40%,#e80 49%,#e40 52%,#e20 54%,#e40 55%,#d90 59%,#db1 66%,#d90 77%,#d90 81%,#d90 86%,#d90 100%)0 81px,linear-gradient(90deg,#e70 0%,#e70 25%,#d90 29%,#e70 34%,#db0 41%,#e80 50%,#e40 54%,#e20 55%,#e40 56%,#d90 60%,#db1 67%,#d90 100%)0 82px,linear-gradient(90deg,#e70 0%,#db0 45%,#e80 54%,#e40 57%,#e20 59%,#e40 60%,#d90 64%,#db1 71%,#d90 100%)0 83px,linear-gradient(90deg,#e70 0%,#db0 48%,#e80 57%,#e40 61%,#e20 62%,#e40 63%,#d90 67%,#db1 74%,#d90 92%,#8ba 96%,#d90 100%,#d90 100%)0 84px,linear-gradient(90deg,#e70 0%,#e70 10%,#e30 14%,#e70 19%,#e70 28%,#d90 32%,#e70 37%,#db0 48%,#e80 57%,#e40 61%,#e20 62%,#e40 63%,#d90 67%,#db1 74%,#d90 100%)0 85px,linear-gradient(90deg,#e70 0%,#e70 6%,#d90 10%,#e70 14%,#e70 15%,#e40 18%,#e70 23%,#e70 23%,#eb2 27%,#e70 32%,#db0 47%,#e80 56%,#e40 60%,#e20 61%,#e40 62%,#d90 66%,#db1 73%,#d90 100%)0 86px,linear-gradient(90deg,#db1 0%,#db1 28%,#db1 32%,#db0 32%,#e60 36%,#db1 37%,#db1 41%,#db0 52%,#e80 61%,#e40 64%,#e20 66%,#e40 67%,#d90 71%,#db1 78%,#9b9 80%,#e40 84%,#9b9 89%,#9b9 100%)0 87px,linear-gradient(90deg,#eb1 0%,#eb1 23%,#8ba 27%,#eb1 32%,#db0 52%,#e80 61%,#e40 65%,#e20 66%,#e40 67%,#d90 71%,#db1 78%,#9b9 100%)0 88px,linear-gradient(90deg,#e70 0%,#db0 53%,#e80 62%,#e40 66%,#e20 67%,#e40 68%,#d90 72%,#db1 79%,#7bc 85%,#da0 90%,#da0 93%,#7bc 97%,#da0 100%,#da0 100%)0 89px,linear-gradient(90deg,#ec3 0%,#ec3 14%,#ec3 14%,#e30 18%,#8ba 18%,#ec3 23%,#ec3 23%,#db0 51%,#e80 60%,#e40 64%,#e20 65%,#e40 66%,#d90 70%,#db1 77%,#9b9 100%)0 90px,linear-gradient(90deg,#e70 0%,#e70 8%,#8ba 12%,#e70 17%,#db0 57%,#e80 66%,#e40 70%,#e20 71%,#e40 72%,#d90 76%,#db1 83%,#eb1 100%)0 91px,linear-gradient(90deg,#e70 0%,#e70 5%,#e70 6%,#e40 9%,#d90 10%,#e70 14%,#e70 15%,#db0 62%,#e80 71%,#e40 75%,#e20 76%,#e40 77%,#d90 81%,#db1 88%,#da0 100%)0 92px,linear-gradient(90deg,#e70 0%,#db0 60%,#e80 69%,#e40 73%,#e20 74%,#e40 75%,#d90 79%,#db1 86%,#da0 92%,#da0 100%)0 93px,linear-gradient(90deg,#da0 0%,#da0 13%,#7bc 17%,#da0 22%,#da0 41%,#eb2 45%,#da0 50%,#db0 62%,#e80 71%,#e40 75%,#e20 76%,#e40 78%,#d90 81%,#db1 88%,#eb2 100%)0 94px,linear-gradient(90deg,#e70 0%,#e70 7%,#eb2 11%,#e70 16%,#e70 46%,#eb2 50%,#e70 55%,#db0 62%,#e80 71%,#e40 75%,#e20 76%,#e40 78%,#d90 81%,#db1 88%,#db0 92%,#d90 97%,#d90 100%)0 95px,linear-gradient(90deg,#db0 0%,#db0 20%,#db0 24%,#e30 24%,#ec2 28%,#db0 29%,#db0 33%,#db0 67%,#e80 76%,#e40 80%,#e20 81%,#e40 82%,#d90 86%,#db1 93%,#bb6 100%)0 96px,linear-gradient(90deg,#e80 0%,#e80 7%,#e40 11%,#e80 16%,#e80 50%,#ec2 54%,#e80 59%,#db0 71%,#e80 80%,#e40 84%,#e20 85%,#e40 86%,#d90 90%,#db1 97%,#eb2 100%)0 97px,linear-gradient(90deg,#e70 0%,#e70 26%,#8ba 30%,#e70 35%,#e70 43%,#e40 47%,#e70 52%,#db0 73%,#e80 82%,#e40 86%,#e20 87%,#e40 88%,#d90 92%,#db1 99%,#eb2 100%)0 98px,linear-gradient(90deg,#e70 0%,#e70 23%,#7bc 27%,#e70 32%,#db0 77%,#e80 86%,#e40 90%,#e20 91%,#e40 92%,#d90 96%,#db0 100%,#db1 100%)0 99px,linear-gradient(90deg,#e70 0%,#e70 3%,#d90 7%,#e70 12%,#e70 13%,#e30 17%,#e70 22%,#e70 32%,#8ba 36%,#e70 41%,#db0 78%,#e80 87%,#e40 90%,#e20 92%,#e40 93%,#d90 97%,#eb2 100%,#db1 100%)0 100px,linear-gradient(90deg,#da0 0%,#da0 45%,#e30 49%,#da0 54%,#db0 79%,#e80 88%,#e40 91%,#e20 93%,#e40 94%,#d90 98%,#ec2 100%,#db1 100%)0 101px,linear-gradient(90deg,#da0 0%,#da0 19%,#e60 23%,#da0 28%,#da0 64%,#eb2 68%,#da0 73%,#db0 80%,#e80 89%,#e40 93%,#e20 94%,#e40 96%,#d90 99%,#dc4 100%,#db1 100%)0 102px,linear-gradient(90deg,#da0 0%,#da0 21%,#e30 25%,#da0 30%,#db0 84%,#e80 93%,#e40 97%,#e20 98%,#e40 99%,#ec2 100%,#d90 100%,#db1 100%)0 103px,linear-gradient(90deg,#e70 0%,#e70 49%,#e70 52%,#db0 53%,#e60 56%,#e70 58%,#e70 61%,#e70 69%,#e30 73%,#e70 78%,#db0 82%,#e80 91%,#e40 95%,#e20 96%,#e40 97%,#db0 100%,#d90 100%,#db1 100%)0 104px;background-size:100% 1px;background-repeat:no-repeat;box-shadow:inset 0 0 0 0.7px #4a7f8c"></div><div style="position:absolute;left:201.3px;top:486.7px;width:53.2px;height:105px;background:linear-gradient(90deg,#db0 0%,#e80 0%,#e40 0%,#e20 0%,#e40 1%,#d90 5%,#db1 12%,#ab7 16%,#ab7 57%,#db0 61%,#ab7 66%,#ab7 66%,#db0 70%,#ab7 75%,#ab7 100%)0 0px,linear-gradient(90deg,#db0 0%,#e80 0%,#e40 0%,#e20 0%,#e40 1%,#d90 5%,#db1 12%,#ec2 54%,#e40 58%,#ec2 63%,#ec2 100%)0 1px,linear-gradient(90deg,#db0 0%,#e80 0%,#e40 4%,#e20 5%,#e40 6%,#d90 10%,#db1 17%,#ec2 67%,#7bc 71%,#ec2 76%,#ec2 100%)0 2px,linear-gradient(90deg,#db0 0%,#e80 0%,#e40 0%,#e20 0%,#e40 0%,#d90 3%,#db1 10%,#ec2 70%,#ec2 73%,#e60 74%,#ec2 77%,#ec2 79%,#ec2 82%,#ec2 90%,#e60 94%,#ec2 99%,#ec2 100%)0 3px,linear-gradient(90deg,#db0 0%,#e80 0%,#e40 0%,#e20 0%,#e40 2%,#d90 5%,#db1 12%,#ec3 58%,#db0 62%,#ec3 67%,#ec3 85%,#d90 89%,#ec3 94%,#ec3 100%)0 4px,linear-gradient(90deg,#db0 0%,#e80 0%,#e40 0%,#e20 0%,#e40 0%,#d90 4%,#db1 11%,#dc4 34%,#7bc 38%,#dc4 43%,#dc4 70%,#eb2 74%,#dc4 79%,#dc4 100%)0 5px,linear-gradient(90deg,#db0 0%,#e80 0%,#e40 0%,#e20 2%,#e40 3%,#d90 7%,#db1 14%,#dc4 27%,#e30 31%,#dc4 34%,#dc4 36%,#7bc 38%,#dc4 43%,#dc4 58%,#7bc 62%,#dc4 67%,#dc4 100%)0 6px,linear-gradient(90deg,#db0 0%,#e80 0%,#e40 2%,#e20 3%,#e40 4%,#d90 8%,#db1 15%,#dc4 100%)0 7px,linear-gradient(90deg,#db0 0%,#e80 0%,#e40 0%,#e20 1%,#e40 2%,#d90 6%,#db1 13%,#6ab 18%,#6ab 89%,#d90 93%,#6ab 98%,#6ab 100%)0 8px,linear-gradient(90deg,#db0 0%,#e80 0%,#e40 4%,#e20 5%,#e40 6%,#d90 10%,#db1 17%,#eb2 34%,#d90 38%,#eb2 43%,#eb2 84%,#ec2 88%,#eb2 93%,#eb2 100%)0 9px,linear-gradient(90deg,#db0 0%,#e80 0%,#e40 1%,#e20 2%,#e40 4%,#d90 7%,#db1 14%,#eb2 26%,#8ba 30%,#eb2 35%,#eb2 58%,#e30 62%,#eb2 67%,#eb2 100%)0 10px,linear-gradient(90deg,#db0 0%,#e80 1%,#e40 4%,#e20 6%,#e40 7%,#d90 11%,#db1 18%,#dc3 22%,#dc3 24%,#eb2 26%,#dc3 31%,#dc3 100%)0 11px,linear-gradient(90deg,#db0 0%,#e80 0%,#e40 0%,#e20 0%,#e40 0%,#d90 4%,#db1 11%,#dc3 14%,#dc3 36%,#7bc 40%,#dc3 45%,#dc3 100%)0 12px,linear-gradient(90deg,#db0 0%,#e80 2%,#e40 5%,#e20 7%,#e40 8%,#d90 12%,#db1 19%,#7bb 30%,#7bb 30%,#db0 34%,#e40 34%,#7bb 39%,#7bb 39%,#7bb 100%)0 13px,linear-gradient(90deg,#db0 0%,#e80 0%,#e40 0%,#e20 1%,#e40 2%,#d90 6%,#db1 13%,#7bb 20%,#e40 24%,#7bb 29%,#7bb 54%,#e40 58%,#7bb 63%,#7bb 100%)0 14px,linear-gradient(90deg,#db0 0%,#e80 0%,#e40 4%,#e20 5%,#e40 6%,#d90 10%,#db1 17%,#7bc 44%,#8ba 48%,#7bc 53%,#7bc 100%)0 15px,linear-gradient(90deg,#db0 0%,#e80 0%,#e40 2%,#e20 3%,#e40 5%,#d90 8%,#db1 15%,#ec2 27%,#db0 31%,#ec2 36%,#ec2 100%)0 16px,linear-gradient(90deg,#db0 0%,#e80 0%,#e40 3%,#e20 4%,#e40 5%,#d90 9%,#db1 16%,#ec2 19%,#db0 23%,#ec2 28%,#ec2 55%,#e30 59%,#ec2 64%,#ec2 100%)0 17px,linear-gradient(90deg,#db0 0%,#e80 0%,#e40 2%,#e20 3%,#e40 4%,#d90 8%,#db1 15%,#db0 23%,#8ba 27%,#db0 32%,#db0 100%)0 18px,linear-gradient(90deg,#db0 0%,#e80 0%,#e40 0%,#e20 1%,#e40 3%,#d90 6%,#db1 13%,#da0 25%,#db0 29%,#da0 34%,#da0 36%,#8ba 40%,#da0 45%,#da0 100%)0 19px,linear-gradient(90deg,#db0 0%,#e80 0%,#e40 3%,#e20 4%,#e40 5%,#d90 9%,#db1 16%,#db1 21%,#d90 25%,#db1 30%,#db1 80%,#e40 84%,#db1 89%,#db1 100%)0 20px,linear-gradient(90deg,#db0 0%,#e80 0%,#e40 0%,#e20 0%,#e40 0%,#d90 4%,#db1 11%,#db1 13%,#d90 17%,#db1 22%,#db1 24%,#db0 28%,#db1 33%,#db1 78%,#e30 82%,#db1 87%,#db1 100%)0 21px,linear-gradient(90deg,#db0 0%,#e80 0%,#e40 2%,#e20 4%,#e40 5%,#d90 9%,#db1 16%,#db1 41%,#e30 45%,#db1 50%,#db1 100%)0 22px,linear-gradient(90deg,#db0 0%,#e80 0%,#e40 0%,#e20 1%,#e40 2%,#d90 6%,#db1 13%,#db1 18%,#eb2 22%,#db1 27%,#db1 47%,#7bc 51%,#db1 56%,#db1 100%)0 23px,linear-gradient(90deg,#db0 0%,#e80 0%,#e40 1%,#e20 2%,#e40 4%,#d90 7%,#db1 14%,#eb2 70%,#e40 74%,#eb2 79%,#eb2 100%)0 24px,linear-gradient(90deg,#db0 0%,#e80 0%,#e40 3%,#e20 4%,#e40 5%,#d90 9%,#db1 16%,#ec2 40%,#e40 44%,#ec2 49%,#ec2 77%,#db0 81%,#ec2 86%,#ec2 100%)0 25px,linear-gradient(90deg,#db0 0%,#e80 0%,#e40 4%,#e20 5%,#e40 7%,#d90 10%,#db1 17%,#ec2 26%,#db0 30%,#ec2 35%,#ec2 100%)0 26px,linear-gradient(90deg,#db0 0%,#e80 2%,#e40 6%,#e20 7%,#e40 8%,#d90 12%,#db1 19%,#ec2 22%,#ec2 25%,#eb2 29%,#ec2 34%,#ec2 88%,#d90 92%,#ec2 97%,#ec2 100%)0 27px,linear-gradient(90deg,#db0 0%,#e80 6%,#e40 10%,#e20 11%,#e40 12%,#d90 16%,#db1 23%,#ec2 61%,#ec2 65%,#e60 65%,#e60 69%,#ec2 70%,#ec2 74%,#ec2 100%)0 28px,linear-gradient(90deg,#db0 0%,#e80 5%,#e40 8%,#e20 10%,#e40 11%,#d90 15%,#db1 22%,#8ba 46%,#ec2 50%,#8ba 54%,#8ba 55%,#ec2 58%,#8ba 63%,#8ba 77%,#d90 81%,#8ba 86%,#8ba 100%)0 29px,linear-gradient(90deg,#db0 0%,#e80 6%,#e40 9%,#e20 11%,#e40 12%,#d90 16%,#db1 23%,#bc6 56%,#8ba 60%,#bc6 65%,#bc6 100%)0 30px,linear-gradient(90deg,#db0 0%,#e80 5%,#e40 9%,#e20 10%,#e40 11%,#d90 15%,#db1 22%,#9b9 100%)0 31px,linear-gradient(90deg,#eb2 0%,#db0 1%,#e80 10%,#e40 14%,#e20 15%,#e40 16%,#d90 20%,#db1 27%,#dc4 51%,#e40 55%,#dc4 60%,#dc4 61%,#e40 65%,#dc4 70%,#dc4 100%)0 32px,linear-gradient(90deg,#db0 0%,#e80 7%,#e40 11%,#e20 12%,#e40 13%,#d90 17%,#db1 24%,#7bc 59%,#d90 63%,#7bc 64%,#e30 68%,#7bc 68%,#7bc 73%,#7bc 100%)0 33px,linear-gradient(90deg,#db0 0%,#e80 9%,#e40 12%,#e20 14%,#e40 15%,#d90 19%,#db1 26%,#eb2 56%,#e40 60%,#eb2 65%,#eb2 68%,#e60 72%,#eb2 77%,#eb2 100%)0 34px,linear-gradient(90deg,#db1 0%,#db0 3%,#e80 12%,#e40 15%,#e20 17%,#e40 18%,#d90 22%,#db1 29%,#eb2 41%,#eb2 41%,#db0 45%,#e30 45%,#eb2 50%,#eb2 50%,#eb2 87%,#d90 91%,#eb2 96%,#eb2 100%)0 35px,linear-gradient(90deg,#bb6 0%,#db0 3%,#e80 12%,#e40 16%,#e20 17%,#e40 18%,#d90 22%,#db1 29%,#7bc 41%,#e40 45%,#7bc 50%,#7bc 54%,#d90 58%,#7bc 63%,#7bc 100%)0 36px,linear-gradient(90deg,#cc4 0%,#db0 4%,#e80 13%,#e40 17%,#e20 18%,#e40 19%,#d90 23%,#db1 30%,#ab7 36%,#ab7 36%,#d90 40%,#ab7 45%,#ab7 100%)0 37px,linear-gradient(90deg,#da0 0%,#db0 6%,#e80 15%,#e40 19%,#e20 20%,#e40 21%,#d90 25%,#db1 32%,#db1 87%,#db0 91%,#db1 96%,#db1 100%)0 38px,linear-gradient(90deg,#d90 0%,#db0 5%,#e80 14%,#e40 18%,#e20 19%,#e40 20%,#d90 24%,#db1 31%,#da0 35%,#da0 61%,#e40 65%,#da0 70%,#da0 84%,#e60 88%,#da0 93%,#da0 100%)0 39px,linear-gradient(90deg,#d90 0%,#db0 7%,#e80 16%,#e40 20%,#e20 21%,#e40 22%,#d90 26%,#db1 33%,#da0 77%,#e40 81%,#da0 86%,#da0 89%,#7bc 93%,#da0 98%,#da0 100%)0 40px,linear-gradient(90deg,#e70 0%,#e70 10%,#db0 10%,#e80 19%,#e40 23%,#e20 24%,#e40 25%,#d90 29%,#db1 36%,#d80 58%,#d90 62%,#d80 67%,#d80 100%)0 41px,linear-gradient(90deg,#e70 0%,#db0 8%,#e80 17%,#e40 21%,#e20 22%,#e40 23%,#d90 27%,#db1 34%,#d80 44%,#e30 48%,#d80 53%,#d80 100%)0 42px,linear-gradient(90deg,#ec2 0%,#db0 13%,#e80 22%,#e40 26%,#e20 27%,#e40 28%,#d90 32%,#db1 39%,#bb7 100%)0 43px,linear-gradient(90deg,#db1 0%,#db0 12%,#e80 21%,#e40 25%,#e20 26%,#e40 28%,#d90 31%,#db1 38%,#ec2 42%,#ec2 46%,#ec2 51%,#ec2 79%,#e30 83%,#ec2 88%,#ec2 100%)0 44px,linear-gradient(90deg,#db1 0%,#db0 12%,#e80 21%,#e40 25%,#e20 26%,#e40 28%,#d90 31%,#db1 38%,#ec2 79%,#d90 83%,#ec2 88%,#ec2 100%)0 45px,linear-gradient(90deg,#da0 0%,#db0 17%,#e80 26%,#e40 30%,#e20 31%,#e40 33%,#d90 36%,#db1 43%,#db1 71%,#e30 75%,#db1 80%,#db1 100%)0 46px,linear-gradient(90deg,#e70 0%,#db0 16%,#e80 25%,#e40 29%,#e20 30%,#e40 31%,#d90 35%,#db1 42%,#da0 90%,#7bc 94%,#da0 99%,#da0 100%)0 47px,linear-gradient(90deg,#da0 0%,#da0 5%,#e60 9%,#da0 14%,#db0 20%,#e80 29%,#e40 32%,#e20 34%,#e40 35%,#d90 39%,#db1 46%,#db1 68%,#e60 72%,#db1 77%,#db1 100%)0 48px,linear-gradient(90deg,#db1 0%,#db0 17%,#e80 26%,#e40 30%,#e20 31%,#e40 33%,#d90 36%,#db1 43%,#eb2 100%)0 49px,linear-gradient(90deg,#db0 0%,#db0 20%,#e80 29%,#e40 33%,#e20 34%,#e40 36%,#d90 39%,#db1 46%,#eb2 51%,#d90 55%,#eb2 60%,#eb2 100%)0 50px,linear-gradient(90deg,#da0 0%,#db0 23%,#e80 32%,#e40 36%,#e20 37%,#e40 39%,#d90 42%,#db1 49%,#eb1 89%,#eb1 90%,#e30 93%,#e60 94%,#eb1 98%,#eb1 99%,#eb1 100%)0 51px,linear-gradient(90deg,#cc5 0%,#db0 24%,#e80 33%,#e40 37%,#e20 38%,#e40 40%,#d90 43%,#db1 50%,#8ba 76%,#8ba 80%,#8ba 85%,#8ba 92%,#8ba 94%,#e40 96%,#db0 98%,#8ba 100%,#8ba 100%,#8ba 100%)0 52px,linear-gradient(90deg,#da0 0%,#db0 26%,#e80 35%,#e40 38%,#e20 40%,#e40 41%,#d90 45%,#db1 52%,#eb2 67%,#e40 71%,#eb2 76%,#eb2 90%,#7bc 94%,#eb2 99%,#eb2 100%)0 53px,linear-gradient(90deg,#ab8 0%,#db0 23%,#e80 32%,#e40 36%,#e20 37%,#e40 38%,#d90 42%,#db1 49%,#7bc 66%,#eb2 70%,#7bc 75%,#7bc 100%)0 54px,linear-gradient(90deg,#e70 0%,#db0 30%,#e80 39%,#e40 42%,#e20 44%,#e40 45%,#d90 49%,#db1 56%,#db1 78%,#ec2 82%,#db1 87%,#db1 100%)0 55px,linear-gradient(90deg,#da0 0%,#db0 30%,#e80 39%,#e40 43%,#e20 44%,#e40 45%,#d90 49%,#db1 56%,#db1 64%,#db1 65%,#eb2 68%,#7bc 69%,#db1 73%,#db1 74%,#db1 100%)0 56px,linear-gradient(90deg,#db1 0%,#db1 18%,#8ba 22%,#db1 27%,#db0 29%,#e80 38%,#e40 42%,#e20 43%,#e40 44%,#d90 48%,#db1 55%,#d90 60%,#eb2 65%,#eb2 100%)0 57px,linear-gradient(90deg,#d90 0%,#d90 1%,#d90 1%,#e40 5%,#d90 5%,#e40 5%,#8ba 9%,#d90 10%,#d90 10%,#d90 14%,#db0 33%,#e80 42%,#e40 46%,#e20 47%,#e40 48%,#d90 52%,#db1 59%,#da0 100%)0 58px,linear-gradient(90deg,#dc4 0%,#db0 34%,#e80 43%,#e40 46%,#e20 48%,#e40 49%,#d90 53%,#db1 60%,#9b9 63%,#e40 67%,#9b9 72%,#9b9 76%,#9b9 79%,#d90 80%,#db0 83%,#9b9 85%,#9b9 88%,#9b9 100%)0 59px,linear-gradient(90deg,#dc4 0%,#dc4 24%,#eb2 28%,#db0 30%,#e80 39%,#e40 43%,#e20 44%,#e40 45%,#d90 49%,#db1 56%,#9b9 90%,#7bc 94%,#9b9 99%,#9b9 100%)0 60px,linear-gradient(90deg,#dc4 0%,#dc4 10%,#ec2 14%,#dc4 19%,#dc4 21%,#e30 25%,#dc4 30%,#db0 36%,#e80 45%,#e40 49%,#e20 50%,#e40 52%,#d90 55%,#db1 62%,#9b9 100%)0 61px,linear-gradient(90deg,#cc5 0%,#db0 34%,#e80 43%,#e40 47%,#e20 48%,#e40 49%,#d90 53%,#db1 60%,#9b9 100%)0 62px,linear-gradient(90deg,#9ba 0%,#9ba 19%,#d90 23%,#9ba 28%,#db0 37%,#e80 46%,#e40 50%,#e20 51%,#e40 53%,#d90 56%,#db1 63%,#7bb 93%,#e30 97%,#7bb 100%,#7bb 100%)0 63px,linear-gradient(90deg,#bb6 0%,#db0 37%,#e80 46%,#e40 50%,#e20 51%,#e40 53%,#d90 56%,#db1 63%,#7bc 83%,#7bc 86%,#7bc 87%,#ec2 87%,#ec2 90%,#eb2 91%,#7bc 92%,#7bc 95%,#7bc 96%,#7bc 100%)0 64px,linear-gradient(90deg,#9b9 0%,#9b9 16%,#d90 20%,#9b9 25%,#db0 40%,#e80 49%,#e40 52%,#e20 54%,#e40 55%,#d90 59%,#db1 66%,#7bc 88%,#7bc 92%,#7bc 97%,#7bc 100%)0 65px,linear-gradient(90deg,#ec2 0%,#ec2 32%,#7bc 36%,#db0 40%,#e80 49%,#e40 52%,#e20 54%,#e40 55%,#d90 59%,#db1 66%,#ec2 100%)0 66px,linear-gradient(90deg,#eb2 0%,#eb2 6%,#8ba 10%,#eb2 11%,#db0 15%,#eb2 15%,#eb2 20%,#db0 41%,#e80 50%,#e40 54%,#e20 55%,#e40 56%,#d90 60%,#db1 67%,#ec2 100%)0 67px,linear-gradient(90deg,#9b9 0%,#db0 46%,#e80 55%,#e40 59%,#e20 60%,#e40 61%,#d90 65%,#db1 72%,#e40 75%,#7bc 80%,#7bc 100%)0 68px,linear-gradient(90deg,#db1 0%,#db1 15%,#eb2 19%,#db1 24%,#db1 28%,#e30 32%,#db1 37%,#db1 42%,#db0 46%,#e80 55%,#e40 59%,#e20 60%,#e40 61%,#d90 65%,#db1 72%,#eb2 100%)0 69px,linear-gradient(90deg,#eb2 0%,#eb2 20%,#e40 24%,#eb2 29%,#db0 47%,#e80 56%,#e40 60%,#e20 61%,#e40 62%,#d90 66%,#db1 73%,#dc3 80%,#eb2 84%,#dc3 89%,#dc3 100%)0 70px,linear-gradient(90deg,#da0 0%,#da0 25%,#da0 26%,#da0 26%,#db0 29%,#db0 30%,#7bc 30%,#da0 34%,#da0 35%,#da0 35%,#db0 48%,#e80 57%,#e40 61%,#e20 62%,#e40 63%,#d90 67%,#db1 74%,#db1 100%)0 71px,linear-gradient(90deg,#e70 0%,#e70 36%,#eb2 40%,#db0 44%,#e80 53%,#e40 57%,#e20 58%,#e40 59%,#d90 63%,#db1 70%,#e40 72%,#d90 77%,#d90 100%)0 72px,linear-gradient(90deg,#e70 0%,#e70 4%,#e40 8%,#e70 13%,#db0 48%,#e80 57%,#e40 61%,#e20 62%,#e40 63%,#d90 67%,#db1 74%,#d90 91%,#8ba 95%,#d90 100%,#d90 100%)0 73px,linear-gradient(90deg,#e70 0%,#db0 49%,#e80 58%,#e40 61%,#e20 63%,#e40 64%,#d90 68%,#db1 75%,#d90 100%)0 74px,linear-gradient(90deg,#e70 0%,#e70 2%,#db0 6%,#e70 11%,#e70 30%,#ec2 34%,#e70 39%,#db0 50%,#e80 59%,#e40 63%,#e20 64%,#e40 65%,#d90 69%,#db1 76%,#da0 100%)0 75px,linear-gradient(90deg,#e70 0%,#e70 15%,#e40 19%,#e70 24%,#db0 51%,#e80 60%,#e40 64%,#e20 65%,#e40 67%,#d90 70%,#db1 77%,#d80 100%)0 76px,linear-gradient(90deg,#db1 0%,#db1 40%,#e60 44%,#db1 49%,#db0 52%,#e80 61%,#e40 65%,#e20 66%,#e40 67%,#d90 71%,#db1 78%,#ec2 85%,#7bc 89%,#ec2 94%,#ec2 100%)0 77px,linear-gradient(90deg,#db1 0%,#db1 3%,#8ba 7%,#db1 12%,#db1 14%,#db0 18%,#db1 23%,#db0 53%,#e80 62%,#e40 66%,#e20 67%,#e40 68%,#d90 72%,#db1 79%,#ec2 100%)0 78px,linear-gradient(90deg,#db0 0%,#db0 57%,#e80 66%,#e40 70%,#e20 71%,#e40 72%,#d90 76%,#db1 83%,#ec2 100%)0 79px,linear-gradient(90deg,#ab7 0%,#db0 58%,#e80 67%,#e40 71%,#e20 72%,#e40 73%,#d90 77%,#db1 84%,#7bc 92%,#e30 96%,#7bc 100%,#7bc 100%)0 80px,linear-gradient(90deg,#db1 0%,#db0 55%,#e80 64%,#e40 68%,#e20 69%,#e40 70%,#d90 74%,#db1 81%,#ec2 100%)0 81px,linear-gradient(90deg,#db1 0%,#db1 6%,#e60 10%,#db1 15%,#db0 59%,#e80 68%,#e40 72%,#e20 73%,#e40 74%,#d90 78%,#db1 85%,#ec2 90%,#d90 94%,#ec2 99%,#ec2 100%)0 82px,linear-gradient(90deg,#da0 0%,#da0 2%,#db0 6%,#da0 11%,#db0 58%,#e80 67%,#e40 71%,#e20 72%,#e40 73%,#d90 77%,#db1 84%,#e30 87%,#eb1 92%,#eb1 100%)0 83px,linear-gradient(90deg,#bb7 0%,#bb7 11%,#d90 15%,#bb7 20%,#bb7 23%,#db0 27%,#bb7 32%,#bb7 50%,#db0 54%,#bb7 59%,#db0 62%,#e80 71%,#e40 74%,#e20 76%,#e40 77%,#d90 81%,#db1 88%,#9b9 100%)0 84px,linear-gradient(90deg,#cc5 0%,#cc5 50%,#ec2 54%,#cc5 59%,#db0 59%,#e80 68%,#e40 72%,#e20 73%,#e40 75%,#d90 78%,#db1 85%,#9b9 100%)0 85px,linear-gradient(90deg,#eb1 0%,#eb1 20%,#eb2 24%,#eb1 29%,#eb1 52%,#7bc 56%,#eb1 61%,#db0 62%,#e80 71%,#e40 75%,#e20 76%,#e40 77%,#d90 81%,#db1 88%,#ec2 100%)0 86px,linear-gradient(90deg,#8ba 0%,#8ba 21%,#db0 25%,#8ba 30%,#db0 61%,#e80 70%,#e40 73%,#e20 75%,#e40 76%,#d90 80%,#db1 87%,#7bb 91%,#7bb 100%)0 87px,linear-gradient(90deg,#ab8 0%,#ab8 38%,#eb2 42%,#ab8 47%,#db0 60%,#e80 69%,#e40 73%,#e20 74%,#e40 75%,#d90 79%,#db1 86%,#7bb 100%)0 88px,linear-gradient(90deg,#8ba 0%,#8ba 11%,#8ba 15%,#8ba 20%,#8ba 40%,#7bc 44%,#8ba 49%,#8ba 49%,#db0 53%,#8ba 58%,#db0 64%,#e80 73%,#e40 77%,#e20 78%,#e40 79%,#d90 83%,#db1 90%,#7bb 100%)0 89px,linear-gradient(90deg,#ec2 0%,#ec2 57%,#8ba 61%,#ec2 66%,#db0 66%,#e80 75%,#e40 79%,#e20 80%,#e40 82%,#d90 85%,#db1 92%,#dc4 100%)0 90px,linear-gradient(90deg,#e70 0%,#db0 68%,#e80 77%,#e40 81%,#e20 82%,#e40 83%,#d90 87%,#db1 94%,#d90 100%)0 91px,linear-gradient(90deg,#e70 0%,#e70 16%,#db0 20%,#e70 24%,#e70 25%,#db0 28%,#e70 33%,#e70 46%,#7bc 50%,#e70 55%,#db0 69%,#e80 78%,#e40 82%,#e20 83%,#e40 84%,#d90 88%,#db1 95%,#d90 100%)0 92px,linear-gradient(90deg,#e70 0%,#e70 43%,#e40 47%,#e70 52%,#e70 52%,#e30 56%,#e70 61%,#db0 71%,#e80 80%,#e40 84%,#e20 85%,#e40 86%,#d90 90%,#db1 97%,#da0 100%)0 93px,linear-gradient(90deg,#db1 0%,#db1 17%,#e40 21%,#db1 26%,#db1 57%,#e60 61%,#db1 66%,#db0 71%,#e80 80%,#e40 84%,#e20 85%,#e40 87%,#d90 90%,#db1 97%,#ec2 100%)0 94px,linear-gradient(90deg,#e70 0%,#e70 0%,#eb2 4%,#e70 9%,#e70 46%,#7bc 50%,#e70 55%,#db0 70%,#e80 79%,#e40 83%,#e20 84%,#e40 86%,#d90 89%,#db1 96%,#d90 100%)0 95px,linear-gradient(90deg,#db1 0%,#db1 20%,#db0 24%,#db1 29%,#db0 74%,#e80 83%,#e40 87%,#e20 88%,#e40 89%,#d90 93%,#db1 100%,#ec2 100%)0 96px,linear-gradient(90deg,#da0 0%,#da0 62%,#e30 66%,#da0 71%,#db0 74%,#e80 83%,#e40 87%,#e20 88%,#e40 89%,#d90 93%,#db1 100%,#eb2 100%)0 97px,linear-gradient(90deg,#db1 0%,#db1 9%,#eb2 13%,#db1 18%,#db0 72%,#e80 81%,#e40 85%,#e20 86%,#e40 88%,#d90 91%,#db1 98%,#eb2 100%)0 98px,linear-gradient(90deg,#db1 0%,#db1 9%,#eb2 13%,#db1 18%,#db1 36%,#e40 40%,#db1 45%,#db1 67%,#d90 71%,#db0 74%,#e80 83%,#e40 87%,#e20 88%,#e40 90%,#d90 93%,#eb2 100%,#db1 100%)0 99px,linear-gradient(90deg,#db1 0%,#db1 50%,#e40 54%,#db1 59%,#db0 78%,#e80 87%,#e40 91%,#e20 92%,#e40 93%,#d90 97%,#eb2 100%,#db1 100%)0 100px,linear-gradient(90deg,#db1 0%,#db1 38%,#ec2 42%,#db1 47%,#db1 79%,#db0 80%,#e80 89%,#e40 93%,#e20 94%,#e40 95%,#d90 99%,#eb2 100%,#db1 100%)0 101px,linear-gradient(90deg,#d90 0%,#d90 30%,#d90 34%,#d90 39%,#d90 49%,#d90 53%,#d90 58%,#db0 82%,#e80 91%,#e40 95%,#e20 96%,#e40 97%,#db1 100%,#d90 100%,#db1 100%)0 102px,linear-gradient(90deg,#db1 0%,#db1 41%,#8ba 45%,#db1 50%,#db1 61%,#ec2 65%,#db1 70%,#db0 82%,#e80 91%,#e40 95%,#e20 96%,#e40 97%,#eb2 100%,#d90 100%,#db1 100%)0 103px,linear-gradient(90deg,#e70 0%,#e70 27%,#db0 31%,#e70 36%,#e70 73%,#db0 77%,#e70 82%,#e70 83%,#db0 85%,#e80 94%,#e40 98%,#e20 99%,#d90 100%,#e40 100%,#d90 100%,#db1 100%)0 104px;background-size:100% 1px;background-repeat:no-repeat;box-shadow:inset 0 0 0 0.7px #4a7f8c"></div><div style="position:absolute;left:285.1px;top:486.7px;width:53.2px;height:105px;background:linear-gradient(90deg,#db0 0%,#e80 0%,#e40 0%,#e20 1%,#e40 2%,#d90 6%,#db1 13%,#8bb 38%,#8bb 41%,#eb2 42%,#8ba 45%,#8bb 47%,#8bb 50%,#8bb 100%)0 0px,linear-gradient(90deg,#db0 0%,#e80 0%,#e40 1%,#e20 3%,#e40 4%,#d90 8%,#db1 15%,#8bb 23%,#8bb 23%,#e30 27%,#8ba 27%,#8bb 32%,#8bb 32%,#8bb 59%,#eb2 63%,#8bb 68%,#8bb 100%)0 1px,linear-gradient(90deg,#db0 0%,#e80 1%,#e40 5%,#e20 6%,#e40 7%,#d90 11%,#db1 18%,#8bb 24%,#8bb 100%)0 2px,linear-gradient(90deg,#db0 0%,#e80 0%,#e40 4%,#e20 5%,#e40 6%,#d90 10%,#db1 17%,#9b9 100%)0 3px,linear-gradient(90deg,#db0 0%,#e80 0%,#e40 3%,#e20 4%,#e40 5%,#d90 9%,#db1 16%,#ab8 80%,#db0 84%,#ab8 89%,#ab8 100%)0 4px,linear-gradient(90deg,#db0 0%,#e80 0%,#e40 1%,#e20 2%,#e40 3%,#d90 7%,#db1 14%,#dc3 42%,#e30 46%,#dc3 51%,#dc3 77%,#e40 81%,#dc3 86%,#dc3 100%)0 5px,linear-gradient(90deg,#db0 0%,#e80 0%,#e40 0%,#e20 0%,#e40 2%,#d90 5%,#db1 12%,#dc3 24%,#eb2 28%,#dc3 33%,#dc3 42%,#e40 46%,#dc3 51%,#dc3 55%,#d90 59%,#dc3 64%,#dc3 100%)0 6px,linear-gradient(90deg,#db0 0%,#e80 1%,#e40 5%,#e20 6%,#e40 7%,#d90 11%,#db1 18%,#dc3 21%,#7bc 25%,#dc3 27%,#dc3 30%,#7bc 31%,#dc3 36%,#dc3 100%)0 7px,linear-gradient(90deg,#db0 0%,#e80 0%,#e40 4%,#e20 5%,#e40 6%,#d90 10%,#db1 17%,#8ba 25%,#e60 29%,#8ba 34%,#8ba 56%,#db0 60%,#8ba 65%,#8ba 100%)0 8px,linear-gradient(90deg,#db0 0%,#e80 1%,#e40 5%,#e20 6%,#e40 7%,#d90 11%,#db1 18%,#8ba 86%,#eb2 90%,#8ba 95%,#8ba 100%)0 9px,linear-gradient(90deg,#db0 0%,#e80 0%,#e40 2%,#e20 4%,#e40 5%,#d90 9%,#db1 16%,#8ba 36%,#e60 40%,#8ba 43%,#8ba 45%,#8ba 47%,#8ba 51%,#8ba 52%,#ec2 55%,#8ba 60%,#8ba 100%)0 10px,linear-gradient(90deg,#db0 0%,#e80 1%,#e40 5%,#e20 6%,#e40 8%,#d90 11%,#db1 18%,#7bb 73%,#e60 77%,#7bb 82%,#7bb 100%)0 11px,linear-gradient(90deg,#db0 0%,#e80 3%,#e40 7%,#e20 8%,#e40 9%,#d90 13%,#db1 20%,#7bb 37%,#8ba 41%,#7bb 46%,#7bb 49%,#db0 53%,#7bb 58%,#7bb 100%)0 12px,linear-gradient(90deg,#db0 0%,#e80 3%,#e40 7%,#e20 8%,#e40 9%,#d90 13%,#db1 20%,#6ab 47%,#eb2 51%,#6ab 56%,#6ab 100%)0 13px,linear-gradient(90deg,#db0 0%,#e80 2%,#e40 6%,#e20 7%,#e40 9%,#d90 12%,#db1 19%,#ec2 91%,#7bc 95%,#ec2 100%,#ec2 100%)0 14px,linear-gradient(90deg,#db0 0%,#e80 6%,#e40 10%,#e20 11%,#e40 13%,#d90 16%,#db1 23%,#ab8 38%,#7bc 42%,#ab8 47%,#ab8 81%,#eb2 85%,#ab8 90%,#ab8 100%)0 15px,linear-gradient(90deg,#db0 0%,#e80 6%,#e40 10%,#e20 11%,#e40 12%,#d90 16%,#db1 23%,#bb6 100%)0 16px,linear-gradient(90deg,#db0 0%,#e80 7%,#e40 11%,#e20 12%,#e40 13%,#d90 17%,#db1 24%,#dc4 29%,#8ba 33%,#dc4 38%,#dc4 100%)0 17px,linear-gradient(90deg,#db0 0%,#e80 3%,#e40 7%,#e20 8%,#e40 9%,#d90 13%,#db1 20%,#db1 64%,#d90 68%,#db1 73%,#db1 73%,#d90 77%,#db1 82%,#db1 100%)0 18px,linear-gradient(90deg,#db0 0%,#e80 8%,#e40 12%,#e20 13%,#e40 14%,#d90 18%,#db1 25%,#eb2 63%,#eb2 67%,#eb2 72%,#eb2 100%)0 19px,linear-gradient(90deg,#db0 0%,#e80 7%,#e40 11%,#e20 12%,#e40 14%,#d90 17%,#db1 24%,#eb2 65%,#8ba 69%,#eb2 74%,#eb2 100%)0 20px,linear-gradient(90deg,#db0 0%,#e80 7%,#e40 11%,#e20 12%,#e40 14%,#d90 17%,#db1 24%,#ec2 60%,#db0 64%,#ec2 69%,#ec2 93%,#e40 97%,#ec2 100%,#ec2 100%)0 21px,linear-gradient(90deg,#db0 0%,#e80 7%,#e40 11%,#e20 12%,#e40 14%,#d90 17%,#db1 24%,#ab8 40%,#8ba 44%,#ab8 49%,#ab8 90%,#e30 94%,#ab8 99%,#ab8 100%)0 22px,linear-gradient(90deg,#ab7 0%,#db0 2%,#e80 11%,#e40 14%,#e20 16%,#e40 17%,#d90 21%,#db1 28%,#9b8 77%,#8ba 81%,#9b8 86%,#9b8 94%,#eb2 98%,#9b8 100%,#9b8 100%)0 23px,linear-gradient(90deg,#ab7 0%,#db0 2%,#e80 11%,#e40 15%,#e20 16%,#e40 17%,#d90 21%,#db1 28%,#9b9 39%,#8ba 43%,#9b9 48%,#9b9 100%)0 24px,linear-gradient(90deg,#e70 0%,#db0 1%,#e80 10%,#e40 14%,#e20 15%,#e40 17%,#d90 20%,#db1 27%,#d90 50%,#e40 54%,#d90 54%,#ec2 58%,#d90 59%,#d90 63%,#d90 100%)0 25px,linear-gradient(90deg,#e70 0%,#db0 0%,#e80 9%,#e40 13%,#e20 14%,#e40 16%,#d90 19%,#db1 26%,#ec2 30%,#d90 33%,#d90 35%,#d90 37%,#d90 42%,#d90 100%)0 26px,linear-gradient(90deg,#9b9 0%,#db0 1%,#e80 10%,#e40 14%,#e20 15%,#e40 16%,#d90 20%,#db1 27%,#8ba 32%,#eb2 36%,#8ba 41%,#8ba 100%)0 27px,linear-gradient(90deg,#da0 0%,#db0 4%,#e80 13%,#e40 17%,#e20 18%,#e40 19%,#d90 23%,#db1 30%,#db0 46%,#ec2 50%,#db0 55%,#db0 66%,#8ba 70%,#db0 75%,#db0 100%)0 28px,linear-gradient(90deg,#da0 0%,#db0 3%,#e80 12%,#e40 16%,#e20 17%,#e40 18%,#d90 22%,#db1 29%,#7bc 33%,#db0 38%,#db0 100%)0 29px,linear-gradient(90deg,#da0 0%,#da0 2%,#eb2 6%,#db0 6%,#e80 15%,#e40 19%,#e20 20%,#e40 22%,#d90 25%,#db1 32%,#db0 100%)0 30px,linear-gradient(90deg,#da0 0%,#da0 0%,#eb2 4%,#db0 5%,#e80 14%,#e40 18%,#e20 19%,#e40 20%,#d90 24%,#db1 31%,#7bc 34%,#db0 39%,#db0 100%)0 31px,linear-gradient(90deg,#7bb 0%,#db0 6%,#e80 15%,#e40 18%,#e20 20%,#e40 21%,#d90 25%,#db1 32%,#ec2 36%,#7bc 41%,#7bc 78%,#8ba 82%,#7bc 87%,#7bc 100%)0 32px,linear-gradient(90deg,#9b9 0%,#9b9 5%,#db0 6%,#e80 15%,#e40 19%,#e20 20%,#e40 22%,#d90 25%,#db1 32%,#8bb 36%,#e30 40%,#8bb 45%,#8bb 100%)0 33px,linear-gradient(90deg,#eb1 0%,#db0 10%,#e80 19%,#e40 23%,#e20 24%,#e40 26%,#d90 29%,#db1 36%,#eb2 43%,#eb2 86%,#db0 90%,#eb2 95%,#eb2 100%)0 34px,linear-gradient(90deg,#8bb 0%,#db0 10%,#e80 19%,#e40 23%,#e20 24%,#e40 25%,#d90 29%,#db1 36%,#7bc 63%,#e30 67%,#7bc 72%,#7bc 74%,#d90 78%,#7bc 83%,#7bc 100%)0 35px,linear-gradient(90deg,#9b9 0%,#db0 14%,#e80 23%,#e40 27%,#e20 28%,#e40 29%,#d90 33%,#db1 40%,#7bc 100%)0 36px,linear-gradient(90deg,#da0 0%,#da0 8%,#db0 10%,#e80 19%,#e40 22%,#e20 24%,#e40 25%,#d90 29%,#db1 36%,#db0 39%,#db0 100%)0 37px,linear-gradient(90deg,#da0 0%,#db0 14%,#e80 23%,#e40 27%,#e20 28%,#e40 29%,#d90 33%,#db1 40%,#db0 45%,#db0 46%,#e60 49%,#8ba 50%,#db0 54%,#db0 55%,#db0 100%)0 38px,linear-gradient(90deg,#eb1 0%,#eb1 0%,#db0 4%,#eb1 9%,#eb1 13%,#db0 14%,#e80 23%,#e40 27%,#e20 28%,#e40 29%,#d90 33%,#db1 40%,#ec2 100%)0 39px,linear-gradient(90deg,#eb2 0%,#eb2 3%,#e60 7%,#eb2 12%,#db0 17%,#e80 26%,#e40 30%,#e20 31%,#e40 32%,#d90 36%,#db1 43%,#ec2 73%,#eb2 77%,#ec2 82%,#ec2 100%)0 40px,linear-gradient(90deg,#eb2 0%,#eb2 12%,#db0 14%,#e80 23%,#e40 27%,#e20 28%,#e40 29%,#d90 33%,#db1 40%,#ec2 45%,#ec2 60%,#eb2 64%,#ec2 69%,#ec2 100%)0 41px,linear-gradient(90deg,#ec2 0%,#db0 15%,#e80 24%,#e40 28%,#e20 29%,#e40 31%,#d90 34%,#db1 41%,#ec2 57%,#db0 61%,#ec2 62%,#db0 66%,#ec2 66%,#ec2 71%,#ec2 100%)0 42px,linear-gradient(90deg,#ec2 0%,#db0 19%,#e80 28%,#e40 31%,#e20 33%,#e40 34%,#d90 38%,#db1 45%,#ec2 77%,#eb2 81%,#ec2 86%,#ec2 100%)0 43px,linear-gradient(90deg,#e70 0%,#e70 2%,#e30 6%,#e70 10%,#e70 11%,#d90 14%,#db0 15%,#e80 24%,#e40 28%,#e20 29%,#e40 30%,#d90 34%,#db1 41%,#d80 100%)0 44px,linear-gradient(90deg,#cc5 0%,#db0 18%,#e80 27%,#e40 31%,#e20 32%,#e40 33%,#d90 37%,#db1 44%,#bb7 60%,#e60 64%,#bb7 69%,#bb7 91%,#eb2 95%,#bb7 100%,#bb7 100%)0 45px,linear-gradient(90deg,#ec2 0%,#db0 21%,#e80 30%,#e40 34%,#e20 35%,#e40 36%,#d90 40%,#db1 47%,#ec2 66%,#e40 70%,#ec2 75%,#ec2 100%)0 46px,linear-gradient(90deg,#ec2 0%,#db0 23%,#e80 32%,#e40 36%,#e20 37%,#e40 38%,#d90 42%,#db1 49%,#ec2 88%,#ec2 88%,#d90 92%,#db0 92%,#ec2 97%,#ec2 97%,#ec2 100%)0 47px,linear-gradient(90deg,#ec2 0%,#ec2 20%,#db0 20%,#e80 29%,#e40 33%,#e20 34%,#e40 35%,#d90 39%,#db1 46%,#ec2 100%)0 48px,linear-gradient(90deg,#7bc 0%,#7bc 0%,#ec2 4%,#7bc 9%,#db0 21%,#e80 30%,#e40 34%,#e20 35%,#e40 36%,#d90 40%,#db1 47%,#7bb 52%,#8ba 56%,#7bb 61%,#7bb 100%)0 49px,linear-gradient(90deg,#8ba 0%,#8ba 17%,#8ba 21%,#8ba 23%,#db0 25%,#e80 34%,#e40 37%,#e20 39%,#e40 40%,#d90 44%,#db1 51%,#7bc 75%,#e30 79%,#7bc 84%,#7bc 100%)0 50px,linear-gradient(90deg,#9b9 0%,#db0 27%,#e80 36%,#e40 40%,#e20 41%,#e40 43%,#d90 46%,#db1 53%,#8ba 73%,#8ba 77%,#8ba 77%,#e60 81%,#8ba 82%,#8ba 86%,#8ba 100%)0 51px,linear-gradient(90deg,#bb7 0%,#db0 26%,#e80 35%,#e40 39%,#e20 40%,#e40 41%,#d90 45%,#db1 52%,#ab8 76%,#e60 80%,#ab8 85%,#ab8 100%)0 52px,linear-gradient(90deg,#bb7 0%,#bb7 10%,#d90 14%,#bb7 19%,#bb7 19%,#e60 23%,#db0 26%,#e80 35%,#e40 39%,#e20 40%,#e40 41%,#d90 45%,#db1 52%,#ab8 100%)0 53px,linear-gradient(90deg,#e80 0%,#e80 20%,#e80 23%,#8ba 24%,#db0 26%,#e80 35%,#e40 39%,#e20 40%,#e40 41%,#d90 45%,#db1 52%,#da0 100%)0 54px,linear-gradient(90deg,#e70 0%,#e70 16%,#8ba 20%,#e70 25%,#e70 27%,#db0 27%,#e80 36%,#e40 40%,#e20 41%,#e40 43%,#d90 46%,#db1 53%,#d90 100%)0 55px,linear-gradient(90deg,#e70 0%,#e70 27%,#db0 28%,#e80 37%,#e40 41%,#e20 42%,#e40 44%,#d90 47%,#db1 54%,#d90 100%)0 56px,linear-gradient(90deg,#e80 0%,#e80 7%,#8ba 11%,#e80 12%,#e80 16%,#d90 16%,#e80 21%,#db0 31%,#e80 40%,#e40 43%,#e20 45%,#e40 46%,#d90 50%,#db1 57%,#d90 100%)0 57px,linear-gradient(90deg,#e70 0%,#db0 32%,#e80 41%,#e40 45%,#e20 46%,#e40 47%,#d90 51%,#db1 58%,#d90 91%,#db0 95%,#d90 100%,#d90 100%)0 58px,linear-gradient(90deg,#ab8 0%,#db0 33%,#e80 42%,#e40 46%,#e20 47%,#e40 48%,#d90 52%,#db1 59%,#9b9 65%,#eb2 69%,#9b9 74%,#9b9 100%)0 59px,linear-gradient(90deg,#ab8 0%,#ab8 0%,#e30 4%,#ab8 9%,#db0 35%,#e80 44%,#e40 48%,#e20 49%,#e40 51%,#d90 54%,#db1 61%,#9b9 66%,#9b9 100%)0 60px,linear-gradient(90deg,#da0 0%,#da0 10%,#ec2 14%,#da0 19%,#da0 26%,#ec2 30%,#da0 35%,#db0 36%,#e80 45%,#e40 49%,#e20 50%,#e40 51%,#d90 55%,#db1 62%,#db0 79%,#8ba 83%,#db0 88%,#db0 100%)0 61px,linear-gradient(90deg,#da0 0%,#db0 33%,#e80 42%,#e40 46%,#e20 47%,#e40 49%,#d90 52%,#db1 59%,#db0 78%,#db0 81%,#ec2 82%,#7bc 85%,#db0 87%,#db0 90%,#db0 92%,#e40 96%,#db0 100%,#db0 100%)0 62px,linear-gradient(90deg,#db1 0%,#db0 34%,#e80 43%,#e40 47%,#e20 48%,#e40 49%,#d90 53%,#db1 60%,#db1 88%,#e30 92%,#db1 97%,#db1 100%)0 63px,linear-gradient(90deg,#eb1 0%,#eb1 6%,#8ba 10%,#eb1 15%,#db0 39%,#e80 48%,#e40 52%,#e20 53%,#e40 55%,#d90 58%,#db1 65%,#ec2 81%,#eb2 85%,#ec2 90%,#ec2 100%)0 64px,linear-gradient(90deg,#eb1 0%,#db0 35%,#e80 44%,#e40 48%,#e20 49%,#e40 50%,#d90 54%,#db1 61%,#ec2 66%,#ec2 68%,#eb2 70%,#e60 72%,#ec2 75%,#ec2 77%,#ec2 80%,#db0 84%,#ec2 89%,#ec2 100%)0 65px,linear-gradient(90deg,#eb1 0%,#eb1 0%,#7bc 4%,#eb1 9%,#eb1 32%,#e40 36%,#db0 38%,#e80 47%,#e40 51%,#e20 52%,#e40 53%,#d90 57%,#db1 64%,#ec2 100%)0 66px,linear-gradient(90deg,#bb7 0%,#bb7 11%,#db0 15%,#bb7 20%,#bb7 22%,#e30 26%,#bb7 31%,#db0 42%,#e80 51%,#e40 55%,#e20 56%,#e40 58%,#d90 61%,#db1 68%,#ab8 100%)0 67px,linear-gradient(90deg,#bb7 0%,#bb7 26%,#eb2 30%,#bb7 35%,#db0 40%,#e80 49%,#e40 53%,#e20 54%,#e40 55%,#d90 59%,#db1 66%,#ab8 74%,#ec2 78%,#ab8 83%,#ab8 100%)0 68px,linear-gradient(90deg,#bb7 0%,#db0 40%,#e80 49%,#e40 53%,#e20 54%,#e40 56%,#d90 59%,#db1 66%,#ab8 73%,#db0 77%,#ab8 82%,#ab8 83%,#e60 87%,#ab8 92%,#ab8 100%)0 69px,linear-gradient(90deg,#e80 0%,#db0 43%,#e80 52%,#e40 56%,#e20 57%,#e40 58%,#d90 62%,#db1 69%,#d90 80%,#db0 84%,#d90 89%,#d90 100%)0 70px,linear-gradient(90deg,#8ba 0%,#8ba 33%,#7bc 37%,#8ba 37%,#ec2 41%,#8ba 42%,#db0 43%,#e80 52%,#e40 56%,#e20 57%,#e40 58%,#d90 62%,#db1 69%,#7bb 100%)0 71px,linear-gradient(90deg,#8ba 0%,#db0 47%,#e80 56%,#e40 60%,#e20 61%,#e40 63%,#d90 66%,#db1 73%,#7bb 100%)0 72px,linear-gradient(90deg,#ec2 0%,#db0 48%,#e80 57%,#e40 61%,#e20 62%,#e40 63%,#d90 67%,#db1 74%,#e60 77%,#dc4 81%,#dc4 82%,#e30 85%,#dc4 90%,#dc4 93%,#eb2 97%,#dc4 100%,#dc4 100%)0 73px,linear-gradient(90deg,#8ba 0%,#db0 46%,#e80 55%,#e40 59%,#e20 60%,#e40 61%,#d90 65%,#db1 72%,#7bc 76%,#7bc 79%,#d90 80%,#8ba 83%,#7bc 85%,#7bc 88%,#7bc 88%,#e40 92%,#7bc 97%,#7bc 100%)0 74px,linear-gradient(90deg,#8ba 0%,#8ba 11%,#e40 15%,#8ba 18%,#8ba 20%,#e40 22%,#8ba 27%,#db0 50%,#e80 59%,#e40 62%,#e20 64%,#e40 65%,#d90 69%,#db1 76%,#7bc 100%)0 75px,linear-gradient(90deg,#eb1 0%,#db0 46%,#e80 55%,#e40 59%,#e20 60%,#e40 61%,#d90 65%,#db1 72%,#eb2 87%,#eb2 88%,#e60 91%,#e60 92%,#eb2 96%,#eb2 97%,#eb2 100%)0 76px,linear-gradient(90deg,#9ba 0%,#9ba 26%,#9ba 28%,#db0 30%,#8ba 32%,#9ba 34%,#9ba 35%,#9ba 37%,#e60 38%,#9ba 43%,#db0 49%,#e80 58%,#e40 61%,#e20 63%,#e40 64%,#d90 68%,#db1 75%,#7bc 100%)0 77px,linear-gradient(90deg,#e70 0%,#db0 52%,#e80 61%,#e40 65%,#e20 66%,#e40 67%,#d90 71%,#db1 78%,#d90 81%,#d90 100%)0 78px,linear-gradient(90deg,#e70 0%,#e70 36%,#e60 40%,#e70 45%,#db0 53%,#e80 62%,#e40 66%,#e20 67%,#e40 68%,#d90 72%,#db1 79%,#d90 100%)0 79px,linear-gradient(90deg,#da0 0%,#db0 51%,#e80 60%,#e40 64%,#e20 65%,#e40 67%,#d90 70%,#db1 77%,#da0 100%)0 80px,linear-gradient(90deg,#da0 0%,#db0 53%,#e80 62%,#e40 66%,#e20 67%,#e40 68%,#d90 72%,#db1 79%,#da0 82%,#ec2 86%,#da0 91%,#da0 100%)0 81px,linear-gradient(90deg,#eb1 0%,#db0 53%,#e80 62%,#e40 65%,#e20 67%,#e40 68%,#d90 72%,#db1 79%,#ec2 82%,#ec2 88%,#e60 92%,#ec2 97%,#ec2 100%)0 82px,linear-gradient(90deg,#cc5 0%,#db0 57%,#e80 66%,#e40 70%,#e20 71%,#e40 72%,#d90 76%,#db1 83%,#bb6 100%)0 83px,linear-gradient(90deg,#eb1 0%,#eb1 37%,#eb2 41%,#eb1 46%,#db0 59%,#e80 68%,#e40 72%,#e20 73%,#e40 75%,#d90 78%,#db1 85%,#eb1 92%,#eb1 100%)0 84px,linear-gradient(90deg,#db1 0%,#db0 56%,#e80 65%,#e40 69%,#e20 70%,#e40 72%,#d90 75%,#db1 82%,#eb1 92%,#eb2 96%,#eb1 100%,#eb1 100%)0 85px,linear-gradient(90deg,#ec2 0%,#ec2 2%,#ec2 6%,#ec2 11%,#ec2 49%,#ec2 53%,#ec2 58%,#db0 61%,#e80 70%,#e40 74%,#e20 75%,#e40 76%,#d90 80%,#db1 87%,#dc3 100%)0 86px,linear-gradient(90deg,#ab8 0%,#db0 60%,#e80 69%,#e40 73%,#e20 74%,#e40 75%,#d90 79%,#db1 86%,#9b9 88%,#9b9 89%,#e60 92%,#9b9 93%,#7bc 97%,#9b9 97%,#9b9 100%,#9b9 100%)0 87px,linear-gradient(90deg,#7bc 0%,#7bc 18%,#db0 22%,#7bc 27%,#7bc 46%,#8ba 50%,#7bc 55%,#db0 60%,#e80 69%,#e40 73%,#e20 74%,#e40 76%,#d90 79%,#db1 86%,#6ab 100%)0 88px,linear-gradient(90deg,#ab7 0%,#ab7 50%,#ab7 51%,#db0 54%,#db0 55%,#ab7 59%,#ab7 60%,#db0 61%,#e80 70%,#e40 74%,#e20 75%,#e40 76%,#d90 80%,#db1 87%,#9b9 100%)0 89px,linear-gradient(90deg,#ab7 0%,#ab7 21%,#e30 25%,#ab7 30%,#db0 64%,#e80 73%,#e40 77%,#e20 78%,#e40 80%,#d90 83%,#db1 90%,#9b9 100%)0 90px,linear-gradient(90deg,#db0 0%,#db0 44%,#8ba 48%,#db0 53%,#db0 62%,#e60 66%,#db0 67%,#e80 76%,#e40 79%,#e20 81%,#e40 82%,#d90 86%,#db1 93%,#db1 100%)0 91px,linear-gradient(90deg,#da0 0%,#db0 69%,#e80 78%,#e40 81%,#e20 83%,#e40 84%,#d90 88%,#db1 95%,#db0 100%)0 92px,linear-gradient(90deg,#ec2 0%,#ec2 29%,#8ba 33%,#ec2 38%,#db0 69%,#e80 78%,#e40 81%,#e20 83%,#e40 84%,#d90 88%,#db1 95%,#dc4 100%,#dc4 100%)0 93px,linear-gradient(90deg,#e70 0%,#e70 44%,#d90 48%,#e70 52%,#e70 53%,#e30 56%,#e70 61%,#db0 72%,#e80 81%,#e40 84%,#e20 86%,#e40 87%,#d90 91%,#db1 98%,#d90 100%)0 94px,linear-gradient(90deg,#db1 0%,#db1 9%,#8ba 13%,#db1 18%,#db0 72%,#e80 81%,#e40 84%,#e20 86%,#e40 87%,#d90 91%,#db1 98%,#eb1 100%)0 95px,linear-gradient(90deg,#db1 0%,#db1 10%,#db0 14%,#db1 19%,#db1 47%,#7bc 51%,#db1 56%,#db1 67%,#eb2 71%,#db0 71%,#e80 80%,#e40 83%,#e20 85%,#e40 86%,#d90 90%,#db1 97%,#eb1 100%)0 96px,linear-gradient(90deg,#8ba 0%,#8ba 0%,#e40 3%,#8ba 7%,#8ba 8%,#db0 11%,#8ba 16%,#db0 72%,#e80 81%,#e40 85%,#e20 86%,#e40 87%,#d90 91%,#db1 98%,#7bc 100%)0 97px,linear-gradient(90deg,#eb2 0%,#eb2 9%,#e60 13%,#eb2 18%,#db0 73%,#e80 82%,#e40 86%,#e20 87%,#e40 89%,#d90 92%,#db1 99%,#ec2 100%)0 98px,linear-gradient(90deg,#d90 0%,#d90 68%,#eb2 72%,#db0 74%,#e80 83%,#e40 87%,#e20 88%,#e40 89%,#d90 93%,#db1 100%,#da0 100%)0 99px,linear-gradient(90deg,#d90 0%,#d90 9%,#ec2 13%,#d90 18%,#d90 47%,#e40 51%,#d90 56%,#db0 78%,#e80 87%,#e40 91%,#e20 92%,#e40 93%,#d90 97%,#da0 100%,#db1 100%)0 100px,linear-gradient(90deg,#ec2 0%,#ec2 52%,#db0 56%,#ec2 61%,#db0 79%,#e80 88%,#e40 92%,#e20 93%,#e40 94%,#d90 98%,#ec2 100%,#db1 100%)0 101px,linear-gradient(90deg,#da0 0%,#da0 34%,#e60 38%,#da0 43%,#db0 79%,#e80 88%,#e40 92%,#e20 93%,#e40 94%,#d90 98%,#db1 100%,#db1 100%)0 102px,linear-gradient(90deg,#db1 0%,#db1 26%,#eb2 30%,#db1 35%,#db1 66%,#8ba 70%,#db1 75%,#db0 82%,#e80 91%,#e40 95%,#e20 96%,#e40 97%,#eb1 100%,#d90 100%,#db1 100%)0 103px,linear-gradient(90deg,#db1 0%,#db1 5%,#e30 9%,#db1 14%,#db0 84%,#e80 93%,#e40 97%,#e20 98%,#e40 100%,#eb1 100%,#d90 100%,#db1 100%)0 104px;background-size:100% 1px;background-repeat:no-repeat;box-shadow:inset 0 0 0 0.7px #4a7f8c"></div><div style="position:absolute;left:30.7px;top:674.5px;width:53.2px;height:105px;background:linear-gradient(90deg,#e40 0%,#e50 13%,#e70 21%,#d90 90%,#d90 91%,#e60 94%,#ec2 95%,#d90 99%,#d90 100%,#d90 100%)0 0px,linear-gradient(90deg,#e60 0%,#d90 7%,#e70 11%,#db1 13%,#da0 58%,#eb2 62%,#da0 67%,#da0 72%,#eb2 76%,#da0 81%,#da0 100%)0 1px,linear-gradient(90deg,#e60 0%,#e80 14%,#e70 22%,#da0 54%,#eb2 58%,#da0 63%,#da0 100%)0 2px,linear-gradient(90deg,#e70 0%,#d80 8%,#db1 12%,#db1 14%,#bb7 46%,#e30 50%,#bb7 55%,#bb7 58%,#7bc 62%,#bb7 67%,#bb7 79%,#8ba 83%,#bb7 88%,#bb7 100%)0 3px,linear-gradient(90deg,#e70 0%,#e70 10%,#ec2 17%,#db1 17%,#bb7 78%,#d90 82%,#bb7 87%,#bb7 89%,#eb2 93%,#bb7 98%,#bb7 100%)0 4px,linear-gradient(90deg,#e50 0%,#e70 11%,#e70 17%,#d90 89%,#d90 93%,#d90 98%,#d90 100%)0 5px,linear-gradient(90deg,#e50 0%,#d90 7%,#e70 12%,#db1 16%,#d90 61%,#e40 65%,#d90 70%,#d90 78%,#7bc 82%,#d90 87%,#d90 100%)0 6px,linear-gradient(90deg,#e40 0%,#e70 9%,#ec3 15%,#8ba 27%,#e30 31%,#8ba 36%,#8ba 38%,#e40 42%,#8ba 47%,#8ba 100%)0 7px,linear-gradient(90deg,#e40 0%,#d90 8%,#eb2 12%,#db1 15%,#8ba 19%,#e30 23%,#8ba 28%,#8ba 61%,#e60 65%,#8ba 70%,#8ba 100%)0 8px,linear-gradient(90deg,#e70 0%,#e60 8%,#cc5 13%,#db1 14%,#8ba 59%,#8ba 63%,#8ba 68%,#8ba 88%,#e30 92%,#8ba 97%,#8ba 100%)0 9px,linear-gradient(90deg,#e40 0%,#e70 10%,#ec2 17%,#db1 17%,#ab7 71%,#8ba 75%,#ab7 80%,#ab7 100%)0 10px,linear-gradient(90deg,#e70 0%,#e60 7%,#ec2 12%,#db1 17%,#ab7 29%,#eb2 33%,#ab7 34%,#ab7 38%,#7bc 38%,#ab7 43%,#ab7 100%)0 11px,linear-gradient(90deg,#e40 0%,#e70 6%,#ec2 10%,#db1 16%,#ab7 22%,#7bc 26%,#ab7 31%,#ab7 92%,#eb2 96%,#ab7 100%,#ab7 100%)0 12px,linear-gradient(90deg,#e60 0%,#e60 12%,#e70 19%,#d90 50%,#8ba 54%,#d90 59%,#d90 62%,#8ba 66%,#d90 71%,#d90 75%,#e60 79%,#d90 84%,#d90 100%)0 13px,linear-gradient(90deg,#e40 0%,#e80 10%,#e70 16%,#db1 21%,#db1 34%,#d90 38%,#db1 43%,#db1 84%,#eb2 88%,#db1 93%,#db1 100%)0 14px,linear-gradient(90deg,#e40 0%,#e60 15%,#db1 24%,#ab7 27%,#ab7 100%)0 15px,linear-gradient(90deg,#e50 0%,#e60 7%,#db1 12%,#db1 15%,#ab7 52%,#eb2 56%,#ab7 61%,#ab7 67%,#d90 71%,#ab7 76%,#ab7 100%)0 16px,linear-gradient(90deg,#e60 0%,#e70 15%,#ec2 24%,#e40 28%,#ab7 33%,#ab7 100%)0 17px,linear-gradient(90deg,#e40 0%,#d90 8%,#e70 13%,#db1 14%,#db1 41%,#db0 45%,#db1 50%,#db1 91%,#ec2 95%,#db1 100%,#db1 100%)0 18px,linear-gradient(90deg,#e50 0%,#e70 7%,#da0 11%,#d90 12%,#db1 19%,#eb1 45%,#8ba 49%,#eb1 54%,#eb1 100%)0 19px,linear-gradient(90deg,#e60 0%,#e80 15%,#cc5 24%,#7bb 56%,#db0 60%,#7bb 65%,#7bb 85%,#d90 89%,#7bb 94%,#7bb 100%)0 20px,linear-gradient(90deg,#e60 0%,#d90 13%,#ec3 21%,#7bb 68%,#7bb 69%,#e40 72%,#e40 73%,#7bb 77%,#7bb 78%,#7bb 100%)0 21px,linear-gradient(90deg,#e40 0%,#e50 15%,#dc3 24%,#ec2 25%,#9ba 30%,#9ba 91%,#d90 95%,#9ba 100%,#9ba 100%)0 22px,linear-gradient(90deg,#e40 0%,#d90 6%,#eb1 10%,#db1 14%,#9ba 35%,#d90 39%,#9ba 43%,#9ba 44%,#e30 47%,#9ba 52%,#9ba 100%)0 23px,linear-gradient(90deg,#e30 0%,#d90 6%,#cc5 10%,#db1 14%,#7bb 92%,#e30 96%,#7bb 100%,#7bb 100%)0 24px,linear-gradient(90deg,#e50 0%,#e70 7%,#bb6 11%,#d90 12%,#db1 19%,#7bb 72%,#ec2 76%,#7bb 81%,#7bb 100%)0 25px,linear-gradient(90deg,#e50 0%,#e50 10%,#ec2 17%,#db1 17%,#bb7 34%,#db0 38%,#bb7 43%,#bb7 100%)0 26px,linear-gradient(90deg,#e60 0%,#e70 12%,#eb1 20%,#ab7 21%,#e60 25%,#ab7 30%,#ab7 70%,#7bc 74%,#ab7 79%,#ab7 100%)0 27px,linear-gradient(90deg,#e40 0%,#e60 14%,#ec2 22%,#ab7 23%,#ab7 38%,#7bc 42%,#ab7 47%,#ab7 100%)0 28px,linear-gradient(90deg,#e40 0%,#d80 6%,#eb2 10%,#d90 10%,#db1 17%,#9b9 28%,#e40 32%,#9b9 37%,#9b9 71%,#e40 75%,#9b9 80%,#9b9 86%,#eb2 90%,#9b9 95%,#9b9 100%)0 29px,linear-gradient(90deg,#e40 0%,#e70 11%,#dc3 18%,#9b9 35%,#8ba 39%,#9b9 44%,#9b9 75%,#e30 79%,#9b9 84%,#9b9 100%)0 30px,linear-gradient(90deg,#e50 0%,#d90 15%,#db1 23%,#ec2 46%,#e60 50%,#ec2 55%,#ec2 74%,#e30 78%,#ec2 83%,#ec2 100%)0 31px,linear-gradient(90deg,#e30 0%,#e70 15%,#da0 23%,#ec2 52%,#d90 56%,#ec2 61%,#ec2 100%)0 32px,linear-gradient(90deg,#e60 0%,#e70 13%,#db0 21%,#ec2 64%,#ec2 68%,#ec2 73%,#ec2 81%,#d90 85%,#ec2 87%,#ec2 90%,#db0 91%,#ec2 96%,#ec2 100%)0 33px,linear-gradient(90deg,#e60 0%,#e60 10%,#e70 16%,#db1 19%,#ec2 78%,#7bc 82%,#ec2 87%,#ec2 100%)0 34px,linear-gradient(90deg,#e40 0%,#e60 7%,#bc6 11%,#d90 13%,#db1 20%,#7bb 23%,#ec2 27%,#7bb 32%,#7bb 44%,#8ba 48%,#7bb 53%,#7bb 100%)0 35px,linear-gradient(90deg,#e70 0%,#d80 9%,#ec2 14%,#db1 14%,#9b9 39%,#e40 43%,#9b9 48%,#9b9 100%)0 36px,linear-gradient(90deg,#e60 0%,#d80 12%,#eb2 20%,#db1 20%,#9b9 64%,#8ba 68%,#9b9 73%,#9b9 100%)0 37px,linear-gradient(90deg,#e70 0%,#e60 7%,#eb2 11%,#db1 17%,#bb7 20%,#eb2 24%,#bb7 29%,#bb7 63%,#bb7 65%,#ec2 67%,#7bc 69%,#bb7 72%,#bb7 74%,#bb7 100%)0 38px,linear-gradient(90deg,#e60 0%,#e80 10%,#e70 17%,#db1 21%,#da0 56%,#7bc 60%,#da0 65%,#da0 70%,#da0 73%,#d90 74%,#7bc 77%,#da0 79%,#da0 82%,#da0 100%)0 39px,linear-gradient(90deg,#e60 0%,#e70 14%,#e70 23%,#da0 52%,#e60 56%,#da0 61%,#da0 100%)0 40px,linear-gradient(90deg,#e60 0%,#e60 15%,#e70 25%,#da0 40%,#da0 42%,#eb2 44%,#7bc 46%,#da0 49%,#da0 51%,#da0 100%)0 41px,linear-gradient(90deg,#e50 0%,#e70 13%,#bc6 21%,#db1 22%,#8bb 56%,#e40 60%,#8bb 65%,#8bb 92%,#eb2 96%,#8bb 100%,#8bb 100%)0 42px,linear-gradient(90deg,#e40 0%,#e80 6%,#ec2 10%,#d90 13%,#db1 20%,#db0 24%,#7bc 29%,#7bc 100%)0 43px,linear-gradient(90deg,#e70 0%,#e60 7%,#ec2 11%,#d90 13%,#db1 20%,#9b9 53%,#ec2 57%,#9b9 62%,#9b9 100%)0 44px,linear-gradient(90deg,#e50 0%,#e50 14%,#cc4 23%,#db1 27%,#8bb 100%)0 45px,linear-gradient(90deg,#e60 0%,#e50 13%,#dc3 21%,#8bb 24%,#8bb 30%,#e30 34%,#8bb 39%,#8bb 41%,#7bc 45%,#8bb 50%,#8bb 100%)0 46px,linear-gradient(90deg,#db0 0%,#e80 6%,#e40 10%,#e20 11%,#e40 12%,#d90 16%,#db1 23%,#bb6 26%,#eb2 28%,#7bc 30%,#bb6 33%,#bb6 35%,#bb6 47%,#e60 51%,#bb6 56%,#bb6 100%)0 47px,linear-gradient(90deg,#db0 0%,#e80 8%,#e40 12%,#e20 13%,#e40 14%,#d90 18%,#db1 25%,#db1 77%,#7bc 81%,#db1 86%,#db1 100%)0 48px,linear-gradient(90deg,#e70 0%,#db0 3%,#e80 12%,#e40 16%,#e20 17%,#e40 18%,#d90 22%,#db1 29%,#db0 60%,#e40 64%,#db0 69%,#db0 100%)0 49px,linear-gradient(90deg,#db0 0%,#e80 9%,#e40 13%,#e20 14%,#e40 15%,#d90 19%,#db1 26%,#db0 61%,#d90 65%,#db0 70%,#db0 100%)0 50px,linear-gradient(90deg,#ec2 0%,#db0 2%,#e80 11%,#e40 15%,#e20 16%,#e40 18%,#d90 21%,#db1 28%,#7bc 32%,#ab8 37%,#ab8 86%,#e40 90%,#ab8 95%,#ab8 100%)0 51px,linear-gradient(90deg,#ec2 0%,#db0 4%,#e80 13%,#e40 17%,#e20 18%,#e40 19%,#d90 23%,#db1 30%,#9b9 46%,#d90 50%,#9b9 55%,#9b9 92%,#db0 96%,#9b9 100%,#9b9 100%)0 52px,linear-gradient(90deg,#e80 0%,#e80 5%,#db0 6%,#e80 15%,#e40 19%,#e20 20%,#e40 21%,#d90 25%,#db1 32%,#ec2 100%)0 53px,linear-gradient(90deg,#ec2 0%,#db0 7%,#e80 16%,#e40 20%,#e20 21%,#e40 22%,#d90 26%,#db1 33%,#7bc 70%,#ec2 74%,#7bc 79%,#7bc 100%)0 54px,linear-gradient(90deg,#e70 0%,#db0 8%,#e80 17%,#e40 21%,#e20 22%,#e40 24%,#d90 27%,#db1 34%,#eb1 41%,#eb2 45%,#eb1 50%,#eb1 100%)0 55px,linear-gradient(90deg,#ab7 0%,#db0 8%,#e80 17%,#e40 21%,#e20 22%,#e40 24%,#d90 27%,#db1 34%,#6ab 100%)0 56px,linear-gradient(90deg,#eb2 0%,#db0 10%,#e80 19%,#e40 23%,#e20 24%,#e40 25%,#d90 29%,#db1 36%,#bb7 38%,#e30 42%,#bb7 47%,#bb7 100%)0 57px,linear-gradient(90deg,#e70 0%,#db0 11%,#e80 20%,#e40 24%,#e20 25%,#e40 27%,#d90 30%,#db1 37%,#d90 66%,#7bc 70%,#d90 75%,#d90 90%,#db0 94%,#d90 99%,#d90 100%)0 58px,linear-gradient(90deg,#e70 0%,#db0 12%,#e80 21%,#e40 25%,#e20 26%,#e40 27%,#d90 31%,#db1 38%,#db1 46%,#ec2 50%,#db1 55%,#db1 67%,#eb2 71%,#db1 76%,#db1 100%)0 59px,linear-gradient(90deg,#e70 0%,#db0 15%,#e80 24%,#e40 28%,#e20 29%,#e40 30%,#d90 34%,#db1 41%,#ec2 44%,#7bc 48%,#ec2 53%,#ec2 67%,#e40 71%,#ec2 76%,#ec2 100%)0 60px,linear-gradient(90deg,#da0 0%,#db0 17%,#e80 26%,#e40 30%,#e20 31%,#e40 32%,#d90 36%,#db1 43%,#ec2 45%,#db0 49%,#ec2 54%,#ec2 70%,#e40 74%,#ec2 79%,#ec2 100%)0 61px,linear-gradient(90deg,#e70 0%,#db0 17%,#e80 26%,#e40 30%,#e20 31%,#e40 32%,#d90 36%,#db1 43%,#d80 81%,#eb2 85%,#d80 90%,#d80 100%)0 62px,linear-gradient(90deg,#e70 0%,#db0 19%,#e80 28%,#e40 32%,#e20 33%,#e40 34%,#d90 38%,#db1 45%,#eb1 50%,#db0 54%,#eb1 58%,#eb1 59%,#db0 62%,#eb1 67%,#eb1 100%)0 63px,linear-gradient(90deg,#dc3 0%,#db0 21%,#e80 30%,#e40 34%,#e20 35%,#e40 36%,#d90 40%,#db1 47%,#8ba 100%)0 64px,linear-gradient(90deg,#e70 0%,#e70 9%,#7bc 13%,#e70 18%,#db0 24%,#e80 33%,#e40 37%,#e20 38%,#e40 39%,#d90 43%,#db1 50%,#e80 79%,#e60 83%,#e80 88%,#e80 100%)0 65px,linear-gradient(90deg,#e70 0%,#db0 25%,#e80 34%,#e40 38%,#e20 39%,#e40 41%,#d90 44%,#db1 51%,#db0 68%,#db0 72%,#db0 73%,#db0 77%,#e40 77%,#db0 82%,#db0 100%)0 66px,linear-gradient(90deg,#dc4 0%,#db0 24%,#e80 33%,#e40 37%,#e20 38%,#e40 40%,#d90 43%,#db1 50%,#e60 55%,#9ba 60%,#9ba 100%)0 67px,linear-gradient(90deg,#eb2 0%,#db0 23%,#e80 32%,#e40 36%,#e20 37%,#e40 39%,#d90 42%,#db1 49%,#9ba 64%,#9ba 65%,#7bc 68%,#8ba 69%,#9ba 73%,#9ba 74%,#9ba 87%,#db0 91%,#9ba 96%,#9ba 100%)0 68px,linear-gradient(90deg,#ec2 0%,#db0 30%,#e80 39%,#e40 43%,#e20 44%,#e40 46%,#d90 49%,#db1 56%,#e30 62%,#7bb 67%,#7bb 100%)0 69px,linear-gradient(90deg,#e70 0%,#e70 5%,#e70 7%,#eb2 9%,#db0 11%,#e70 14%,#e70 16%,#db0 30%,#e80 39%,#e40 43%,#e20 44%,#e40 46%,#d90 49%,#db1 56%,#ec2 66%,#8ba 70%,#ec2 75%,#ec2 100%)0 70px,linear-gradient(90deg,#d80 0%,#d80 0%,#7bc 3%,#d80 8%,#db0 31%,#e80 40%,#e40 44%,#e20 45%,#e40 46%,#d90 50%,#db1 57%,#ec2 70%,#e60 74%,#ec2 79%,#ec2 100%)0 71px,linear-gradient(90deg,#db0 0%,#db0 35%,#e80 44%,#e40 48%,#e20 49%,#e40 50%,#d90 54%,#db1 61%,#ec2 100%)0 72px,linear-gradient(90deg,#db1 0%,#db0 37%,#e80 46%,#e40 50%,#e20 51%,#e40 52%,#d90 56%,#db1 63%,#dc4 68%,#dc4 100%)0 73px,linear-gradient(90deg,#db1 0%,#db0 37%,#e80 46%,#e40 50%,#e20 51%,#e40 53%,#d90 56%,#db1 63%,#dc4 67%,#ec2 71%,#dc4 76%,#dc4 84%,#ec2 88%,#dc4 93%,#dc4 100%)0 74px,linear-gradient(90deg,#db1 0%,#db1 0%,#e30 3%,#db1 8%,#db0 42%,#e80 51%,#e40 55%,#e20 56%,#e40 57%,#d90 61%,#db1 68%,#dc4 100%)0 75px,linear-gradient(90deg,#ec2 0%,#db0 41%,#e80 50%,#e40 54%,#e20 55%,#e40 56%,#d90 60%,#db1 67%,#7bb 76%,#7bc 80%,#7bb 85%,#7bb 100%)0 76px,linear-gradient(90deg,#ec2 0%,#db0 41%,#e80 50%,#e40 54%,#e20 55%,#e40 57%,#d90 60%,#db1 67%,#7bb 87%,#8ba 91%,#7bb 96%,#7bb 100%)0 77px,linear-gradient(90deg,#e70 0%,#e70 5%,#ec2 9%,#e70 14%,#e70 15%,#d90 19%,#e70 24%,#db0 43%,#e80 52%,#e40 55%,#e20 57%,#e40 58%,#d90 62%,#db1 69%,#db1 100%)0 78px,linear-gradient(90deg,#e70 0%,#e70 29%,#eb2 33%,#e70 38%,#db0 43%,#e80 52%,#e40 56%,#e20 57%,#e40 58%,#d90 62%,#db1 69%,#db1 76%,#8ba 80%,#db1 85%,#db1 92%,#d90 96%,#db1 100%,#db1 100%)0 79px,linear-gradient(90deg,#e70 0%,#e70 14%,#db0 18%,#e70 23%,#db0 45%,#e80 54%,#e40 57%,#e20 59%,#e40 60%,#d90 64%,#db1 71%,#da0 100%)0 80px,linear-gradient(90deg,#bb6 0%,#bb6 24%,#db0 28%,#bb6 33%,#db0 53%,#e80 62%,#e40 66%,#e20 67%,#e40 68%,#d90 72%,#db1 79%,#7bb 86%,#e40 90%,#7bb 95%,#7bb 100%)0 81px,linear-gradient(90deg,#ec2 0%,#db0 52%,#e80 61%,#e40 65%,#e20 66%,#e40 67%,#d90 71%,#db1 78%,#7bb 81%,#eb2 85%,#7bb 90%,#7bb 100%)0 82px,linear-gradient(90deg,#ab7 0%,#ab7 29%,#d90 33%,#ab7 38%,#db0 55%,#e80 64%,#e40 68%,#e20 69%,#e40 70%,#d90 74%,#db1 81%,#e40 83%,#7bb 88%,#7bb 100%)0 83px,linear-gradient(90deg,#e70 0%,#e70 50%,#ec2 54%,#db0 58%,#e80 67%,#e40 71%,#e20 72%,#e40 73%,#d90 77%,#db1 84%,#db0 100%)0 84px,linear-gradient(90deg,#e70 0%,#e70 0%,#d90 4%,#e70 9%,#db0 59%,#e80 68%,#e40 72%,#e20 73%,#e40 74%,#d90 78%,#db1 85%,#d90 100%)0 85px,linear-gradient(90deg,#e70 0%,#e70 29%,#d90 33%,#e70 38%,#db0 62%,#e80 71%,#e40 75%,#e20 76%,#e40 78%,#d90 81%,#db1 88%,#d90 100%)0 86px,linear-gradient(90deg,#da0 0%,#da0 51%,#ec2 55%,#da0 60%,#db0 62%,#e80 71%,#e40 75%,#e20 76%,#e40 78%,#d90 81%,#db1 88%,#dc4 100%)0 87px,linear-gradient(90deg,#eb2 0%,#eb2 12%,#7bc 16%,#eb2 21%,#eb2 24%,#7bc 28%,#eb2 33%,#db0 62%,#e80 71%,#e40 75%,#e20 76%,#e40 78%,#d90 81%,#db1 88%,#7bc 100%)0 88px,linear-gradient(90deg,#e70 0%,#e70 31%,#8ba 35%,#e70 40%,#db0 65%,#e80 74%,#e40 78%,#e20 79%,#e40 80%,#d90 84%,#db1 91%,#db1 100%)0 89px,linear-gradient(90deg,#e70 0%,#e70 9%,#e60 13%,#e70 18%,#e70 56%,#db0 60%,#e70 65%,#db0 67%,#e80 76%,#e40 80%,#e20 81%,#e40 82%,#d90 86%,#db1 93%,#db1 100%)0 90px,linear-gradient(90deg,#d80 0%,#d80 67%,#db0 68%,#e80 77%,#e40 81%,#e20 82%,#e40 83%,#d90 87%,#db1 94%,#ec2 100%)0 91px,linear-gradient(90deg,#e70 0%,#e70 50%,#d90 54%,#e70 59%,#db0 73%,#e80 82%,#e40 86%,#e20 87%,#e40 88%,#d90 92%,#db1 99%,#da0 100%)0 92px,linear-gradient(90deg,#d90 0%,#d90 0%,#d90 4%,#d90 9%,#db0 71%,#e80 80%,#e40 84%,#e20 85%,#e40 86%,#d90 90%,#db1 97%,#ec2 100%)0 93px,linear-gradient(90deg,#ec2 0%,#ec2 33%,#8ba 37%,#ec2 42%,#ec2 68%,#d90 72%,#db0 76%,#e80 85%,#e40 88%,#e20 90%,#e40 91%,#d90 95%,#7bb 100%,#db1 100%)0 94px,linear-gradient(90deg,#da0 0%,#da0 21%,#e40 25%,#da0 30%,#da0 48%,#e40 52%,#da0 57%,#db0 75%,#e80 84%,#e40 87%,#e20 89%,#e40 90%,#d90 94%,#eb2 100%,#db1 100%)0 95px,linear-gradient(90deg,#e70 0%,#e70 4%,#8ba 8%,#e70 13%,#e70 46%,#d90 50%,#e70 55%,#db0 77%,#e80 86%,#e40 90%,#e20 91%,#e40 92%,#d90 96%,#db1 100%,#db1 100%)0 96px,linear-gradient(90deg,#e70 0%,#db0 76%,#e80 85%,#e40 88%,#e20 90%,#e40 91%,#d90 95%,#db1 100%,#db1 100%)0 97px,linear-gradient(90deg,#db1 0%,#db1 67%,#d90 71%,#db1 76%,#db0 79%,#e80 88%,#e40 92%,#e20 93%,#e40 94%,#d90 98%,#bc6 100%,#db1 100%)0 98px,linear-gradient(90deg,#e70 0%,#e70 1%,#8ba 5%,#e70 6%,#db0 10%,#e70 10%,#e70 15%,#db0 79%,#e80 88%,#e40 92%,#e20 93%,#e40 94%,#d90 98%,#db0 100%,#db1 100%)0 99px,linear-gradient(90deg,#da0 0%,#da0 5%,#e60 9%,#da0 14%,#da0 71%,#e60 75%,#da0 80%,#db0 82%,#e80 91%,#e40 95%,#e20 96%,#e40 97%,#eb2 100%,#d90 100%,#db1 100%)0 100px,linear-gradient(90deg,#e70 0%,#e70 61%,#e30 65%,#e70 70%,#e70 70%,#ec2 74%,#e70 79%,#db0 80%,#e80 89%,#e40 93%,#e20 94%,#e40 95%,#d90 99%,#da0 100%,#db1 100%)0 101px,linear-gradient(90deg,#e70 0%,#e70 19%,#8ba 23%,#e70 28%,#e70 31%,#e70 34%,#ec2 35%,#ec2 38%,#e70 40%,#e70 43%,#db0 84%,#e80 93%,#e40 96%,#e20 98%,#e40 99%,#da0 100%,#d90 100%,#db1 100%)0 102px,linear-gradient(90deg,#e70 0%,#e70 25%,#e60 29%,#e70 34%,#e70 72%,#d90 76%,#e70 81%,#db0 83%,#e80 92%,#e40 96%,#e20 97%,#e40 98%,#eb1 100%,#d90 100%,#db1 100%)0 103px,linear-gradient(90deg,#e70 0%,#e70 7%,#ec2 11%,#e70 16%,#e70 59%,#e60 63%,#e70 68%,#e70 75%,#8ba 79%,#e70 84%,#db0 87%,#e80 96%,#eb1 100%,#e40 100%,#e20 100%,#e40 100%,#d90 100%,#db1 100%)0 104px;background-size:100% 1px;background-repeat:no-repeat;box-shadow:inset 0 0 0 0.7px #4a7f8c"></div><div style="position:absolute;left:117.0px;top:674.5px;width:53.2px;height:105px;background:linear-gradient(90deg,#e30 0%,#d80 8%,#eb1 12%,#db1 14%,#9b8 30%,#e30 34%,#9b8 39%,#9b8 100%)0 0px,linear-gradient(90deg,#e50 0%,#d80 6%,#eb2 10%,#db1 14%,#9b8 17%,#e40 21%,#9b8 26%,#9b8 100%)0 1px,linear-gradient(90deg,#e60 0%,#e50 10%,#ec2 16%,#6ab 71%,#eb2 75%,#6ab 80%,#6ab 100%)0 2px,linear-gradient(90deg,#e60 0%,#e70 5%,#dc4 9%,#db1 10%,#6ab 63%,#7bc 67%,#6ab 72%,#6ab 100%)0 3px,linear-gradient(90deg,#e50 0%,#e70 8%,#db1 13%,#db1 14%,#ab8 39%,#ab8 43%,#eb2 43%,#e30 47%,#ab8 48%,#ab8 52%,#ab8 58%,#ec2 62%,#ab8 67%,#ab8 100%)0 4px,linear-gradient(90deg,#e70 0%,#e60 6%,#e70 10%,#db1 14%,#e40 19%,#db1 24%,#db1 47%,#eb2 51%,#db1 56%,#db1 100%)0 5px,linear-gradient(90deg,#e60 0%,#e60 13%,#e70 20%,#db0 65%,#eb2 69%,#db0 74%,#db0 75%,#d90 79%,#db0 84%,#db0 100%)0 6px,linear-gradient(90deg,#e60 0%,#e70 8%,#da0 13%,#db1 14%,#cc4 88%,#ec2 92%,#cc4 97%,#cc4 100%)0 7px,linear-gradient(90deg,#e40 0%,#e50 11%,#eb1 18%,#cc4 30%,#e60 34%,#cc4 38%,#cc4 39%,#e60 42%,#cc4 46%,#cc4 47%,#eb2 50%,#cc4 55%,#cc4 100%)0 8px,linear-gradient(90deg,#e50 0%,#d80 10%,#d80 15%,#eb2 30%,#e60 34%,#eb2 39%,#eb2 66%,#e60 70%,#eb2 75%,#eb2 100%)0 9px,linear-gradient(90deg,#e60 0%,#e60 12%,#e80 19%,#eb2 28%,#e30 32%,#eb2 37%,#eb2 42%,#e60 46%,#eb2 51%,#eb2 100%)0 10px,linear-gradient(90deg,#e40 0%,#e50 6%,#d90 10%,#db1 14%,#eb2 86%,#eb2 86%,#ec2 90%,#eb2 90%,#eb2 95%,#eb2 95%,#eb2 100%)0 11px,linear-gradient(90deg,#e50 0%,#e60 12%,#db0 20%,#8ba 21%,#bb6 26%,#bb6 50%,#e60 54%,#bb6 59%,#bb6 100%)0 12px,linear-gradient(90deg,#e60 0%,#e80 13%,#ec2 21%,#7bc 33%,#e40 37%,#7bc 42%,#7bc 82%,#7bc 85%,#db0 86%,#eb2 89%,#7bc 91%,#7bc 94%,#7bc 100%)0 13px,linear-gradient(90deg,#e40 0%,#d90 10%,#eb1 16%,#ab7 26%,#ab7 27%,#d90 30%,#eb2 31%,#ab7 35%,#ab7 36%,#ab7 46%,#e30 50%,#ab7 55%,#ab7 100%)0 14px,linear-gradient(90deg,#e70 0%,#d90 9%,#e70 14%,#ec2 27%,#eb2 31%,#ec2 36%,#ec2 100%)0 15px,linear-gradient(90deg,#e40 0%,#d90 8%,#d90 13%,#db1 13%,#ec2 50%,#7bc 54%,#ec2 58%,#ec2 59%,#db0 62%,#ec2 67%,#ec2 73%,#e30 77%,#ec2 82%,#ec2 100%)0 16px,linear-gradient(90deg,#e50 0%,#e80 8%,#bc6 13%,#7bb 35%,#eb2 39%,#7bb 44%,#7bb 64%,#8ba 68%,#7bb 73%,#7bb 92%,#e30 96%,#7bb 100%,#7bb 100%)0 17px,linear-gradient(90deg,#e60 0%,#d80 9%,#cc5 14%,#db1 17%,#7bb 27%,#eb2 31%,#7bb 36%,#7bb 100%)0 18px,linear-gradient(90deg,#e70 0%,#e60 10%,#ec2 17%,#ab8 64%,#7bc 68%,#ab8 73%,#ab8 100%)0 19px,linear-gradient(90deg,#e40 0%,#e60 12%,#e70 20%,#da0 40%,#8ba 44%,#da0 49%,#da0 100%)0 20px,linear-gradient(90deg,#e40 0%,#e70 7%,#eb1 11%,#db1 16%,#9b9 22%,#9b9 43%,#e30 47%,#9b9 52%,#9b9 100%)0 21px,linear-gradient(90deg,#e60 0%,#d90 8%,#eb2 13%,#9b9 100%)0 22px,linear-gradient(90deg,#e70 0%,#e80 10%,#e70 16%,#d90 18%,#e30 22%,#d90 27%,#d90 93%,#e30 97%,#d90 100%,#d90 100%)0 23px,linear-gradient(90deg,#e60 0%,#d90 12%,#e70 18%,#d90 100%)0 24px,linear-gradient(90deg,#e40 0%,#e80 8%,#ec2 13%,#db1 13%,#7bb 41%,#eb2 45%,#7bb 50%,#7bb 84%,#ec2 88%,#7bb 93%,#7bb 100%)0 25px,linear-gradient(90deg,#e60 0%,#e60 12%,#db1 20%,#ec3 23%,#ec3 51%,#7bc 55%,#ec3 60%,#ec3 100%)0 26px,linear-gradient(90deg,#e50 0%,#e60 12%,#ec2 20%,#8ba 37%,#ec2 41%,#8ba 46%,#8ba 68%,#7bc 72%,#8ba 77%,#8ba 100%)0 27px,linear-gradient(90deg,#e50 0%,#d80 12%,#ec2 19%,#8ba 39%,#7bc 43%,#8ba 48%,#8ba 60%,#eb2 64%,#8ba 69%,#8ba 76%,#7bc 80%,#8ba 85%,#8ba 100%)0 28px,linear-gradient(90deg,#e40 0%,#d90 5%,#e80 9%,#d90 9%,#db1 16%,#db1 36%,#db0 40%,#db1 45%,#db1 100%)0 29px,linear-gradient(90deg,#e40 0%,#e80 8%,#e70 12%,#db1 15%,#db1 29%,#ec2 33%,#db1 38%,#db1 100%)0 30px,linear-gradient(90deg,#e40 0%,#e60 7%,#eb2 11%,#db1 16%,#8ba 56%,#d90 60%,#8ba 65%,#8ba 76%,#e30 80%,#8ba 85%,#8ba 100%)0 31px,linear-gradient(90deg,#e70 0%,#e80 12%,#ec2 19%,#8ba 20%,#e40 24%,#8ba 29%,#8ba 66%,#e30 70%,#8ba 75%,#8ba 82%,#e30 86%,#8ba 91%,#8ba 100%)0 32px,linear-gradient(90deg,#e60 0%,#e50 6%,#db1 9%,#db1 10%,#ab7 29%,#e40 33%,#ab7 37%,#ab7 38%,#e60 41%,#ab7 46%,#ab7 66%,#e30 70%,#ab7 75%,#ab7 100%)0 33px,linear-gradient(90deg,#e50 0%,#e70 11%,#e70 17%,#db1 21%,#e40 25%,#db1 30%,#db1 36%,#8ba 40%,#db1 45%,#db1 64%,#8ba 68%,#db1 73%,#db1 100%)0 34px,linear-gradient(90deg,#e40 0%,#e70 9%,#e70 15%,#db1 16%,#db1 24%,#7bc 28%,#db1 33%,#db1 89%,#e60 93%,#db1 98%,#db1 100%)0 35px,linear-gradient(90deg,#e60 0%,#e80 8%,#cc4 13%,#db1 16%,#8ba 19%,#eb2 23%,#8ba 28%,#8ba 64%,#7bc 68%,#8ba 73%,#8ba 100%)0 36px,linear-gradient(90deg,#e70 0%,#e70 12%,#eb1 19%,#8ba 23%,#8ba 49%,#7bc 53%,#8ba 58%,#8ba 100%)0 37px,linear-gradient(90deg,#e60 0%,#e60 13%,#e70 21%,#d90 45%,#7bc 49%,#d90 54%,#d90 54%,#e30 58%,#d90 63%,#d90 100%)0 38px,linear-gradient(90deg,#e60 0%,#e50 5%,#e70 9%,#d90 9%,#db1 16%,#d90 39%,#e30 43%,#d90 48%,#d90 100%)0 39px,linear-gradient(90deg,#e70 0%,#d80 10%,#db0 16%,#bc6 83%,#d90 87%,#bc6 92%,#bc6 100%)0 40px,linear-gradient(90deg,#e50 0%,#e70 8%,#ec2 13%,#d90 13%,#db1 20%,#bc6 39%,#e30 43%,#bc6 44%,#e60 48%,#bc6 48%,#bc6 53%,#bc6 100%)0 41px,linear-gradient(90deg,#e50 0%,#d80 10%,#bc6 16%,#7bc 51%,#e30 55%,#7bc 60%,#7bc 100%)0 42px,linear-gradient(90deg,#e50 0%,#d90 5%,#cc4 9%,#e40 9%,#d90 13%,#db1 20%,#7bb 28%,#db0 32%,#7bb 37%,#7bb 72%,#e40 76%,#7bb 81%,#7bb 100%)0 43px,linear-gradient(90deg,#e50 0%,#e70 8%,#ec2 13%,#db1 17%,#8bb 29%,#8ba 33%,#8bb 35%,#8bb 38%,#ec2 39%,#8bb 44%,#8bb 100%)0 44px,linear-gradient(90deg,#e60 0%,#e60 8%,#d90 13%,#d90 14%,#db1 21%,#ec2 41%,#e30 45%,#ec2 50%,#ec2 55%,#8ba 59%,#ec2 64%,#ec2 100%)0 45px,linear-gradient(90deg,#e50 0%,#e60 10%,#db1 16%,#db1 18%,#ec2 79%,#db0 83%,#ec2 88%,#ec2 100%)0 46px,linear-gradient(90deg,#e50 0%,#d90 7%,#eb1 11%,#d90 12%,#db1 19%,#ab8 100%)0 47px,linear-gradient(90deg,#e30 0%,#e70 11%,#ec2 18%,#db1 20%,#8bb 35%,#8ba 39%,#8bb 44%,#8bb 71%,#8bb 73%,#d90 75%,#e60 77%,#8bb 80%,#8bb 82%,#8bb 100%)0 48px,linear-gradient(90deg,#e60 0%,#e60 9%,#eb1 14%,#e40 15%,#d90 18%,#db1 25%,#bb6 100%)0 49px,linear-gradient(90deg,#e70 0%,#d80 12%,#ec2 19%,#d90 20%,#db1 27%,#ab8 48%,#e60 52%,#ab8 53%,#e60 57%,#ab8 57%,#ab8 62%,#ab8 100%)0 50px,linear-gradient(90deg,#e70 0%,#e60 7%,#e70 10%,#e40 11%,#e20 12%,#e40 13%,#d90 17%,#db1 24%,#db1 72%,#db0 76%,#db1 81%,#db1 100%)0 51px,linear-gradient(90deg,#e60 0%,#e60 12%,#e70 20%,#db1 26%,#db1 49%,#8ba 53%,#db1 58%,#db1 73%,#ec2 77%,#db1 82%,#db1 100%)0 52px,linear-gradient(90deg,#e50 0%,#e70 10%,#e70 15%,#e40 16%,#d90 20%,#db1 27%,#db1 52%,#e30 56%,#db1 61%,#db1 100%)0 53px,linear-gradient(90deg,#e60 0%,#e60 10%,#e70 16%,#d90 18%,#db1 25%,#d90 29%,#db1 33%,#db1 34%,#d90 37%,#db1 42%,#db1 55%,#ec2 59%,#db1 64%,#db1 100%)0 54px,linear-gradient(90deg,#e70 0%,#e80 12%,#db1 19%,#e40 19%,#d90 23%,#db1 30%,#ab7 100%)0 55px,linear-gradient(90deg,#e70 0%,#e70 8%,#ec2 13%,#e80 14%,#e40 18%,#e20 19%,#e40 20%,#d90 24%,#db1 31%,#9b9 91%,#eb2 95%,#9b9 100%,#9b9 100%)0 56px,linear-gradient(90deg,#e60 0%,#d80 8%,#e70 13%,#e80 13%,#e40 17%,#e20 18%,#e40 20%,#d90 23%,#db1 30%,#ec2 50%,#ec2 52%,#d90 54%,#e30 56%,#ec2 59%,#ec2 61%,#ec2 74%,#e40 78%,#ec2 83%,#ec2 100%)0 57px,linear-gradient(90deg,#e70 0%,#db0 8%,#e80 17%,#e40 21%,#e20 22%,#e40 23%,#d90 27%,#db1 34%,#db0 80%,#db0 84%,#db0 89%,#db0 100%)0 58px,linear-gradient(90deg,#d90 0%,#d90 8%,#db0 9%,#e80 18%,#e40 22%,#e20 23%,#e40 24%,#d90 28%,#db1 35%,#ec3 100%)0 59px,linear-gradient(90deg,#db0 0%,#db0 0%,#ec2 3%,#db0 8%,#db0 13%,#db0 16%,#e80 25%,#e40 28%,#e20 30%,#e40 31%,#d90 35%,#db1 42%,#ec3 100%)0 60px,linear-gradient(90deg,#e70 0%,#db0 14%,#e80 23%,#e40 27%,#e20 28%,#e40 30%,#d90 33%,#db1 40%,#db0 78%,#eb2 82%,#db0 87%,#db0 90%,#8ba 94%,#db0 99%,#db0 100%)0 61px,linear-gradient(90deg,#e70 0%,#db0 18%,#e80 27%,#e40 31%,#e20 32%,#e40 33%,#d90 37%,#db1 44%,#db1 52%,#e30 56%,#db1 61%,#db1 86%,#8ba 90%,#db1 95%,#db1 100%)0 62px,linear-gradient(90deg,#e70 0%,#e70 0%,#eb2 3%,#e70 8%,#db0 18%,#e80 27%,#e40 30%,#e20 32%,#e40 33%,#d90 37%,#db1 44%,#db1 77%,#e60 81%,#db1 86%,#db1 100%)0 63px,linear-gradient(90deg,#e70 0%,#e70 6%,#8ba 10%,#e70 15%,#db0 18%,#e80 27%,#e40 31%,#e20 32%,#e40 34%,#d90 37%,#db1 44%,#db1 87%,#e60 91%,#db1 96%,#db1 100%)0 64px,linear-gradient(90deg,#e70 0%,#db0 25%,#e80 34%,#e40 38%,#e20 39%,#e40 40%,#d90 44%,#db1 51%,#eb2 87%,#db0 91%,#eb2 96%,#eb2 100%)0 65px,linear-gradient(90deg,#db0 0%,#db0 10%,#8ba 14%,#db0 19%,#db0 24%,#e80 33%,#e40 37%,#e20 38%,#e40 39%,#d90 43%,#db1 50%,#ec2 68%,#db0 72%,#ec2 77%,#ec2 100%)0 66px,linear-gradient(90deg,#e70 0%,#e70 0%,#db0 2%,#e70 7%,#e70 13%,#e40 17%,#e70 22%,#db0 24%,#e80 33%,#e40 37%,#e20 38%,#e40 39%,#d90 43%,#db1 50%,#da0 88%,#8ba 92%,#da0 97%,#da0 100%)0 67px,linear-gradient(90deg,#e70 0%,#e70 8%,#e60 12%,#e70 17%,#db0 27%,#e80 36%,#e40 40%,#e20 41%,#e40 42%,#d90 46%,#db1 53%,#da0 100%)0 68px,linear-gradient(90deg,#da0 0%,#db0 28%,#e80 37%,#e40 41%,#e20 42%,#e40 43%,#d90 47%,#db1 54%,#ec2 81%,#e30 85%,#ec2 88%,#ec2 90%,#7bc 92%,#ec2 97%,#ec2 100%)0 69px,linear-gradient(90deg,#dc4 0%,#db0 33%,#e80 42%,#e40 46%,#e20 47%,#e40 48%,#d90 52%,#db1 59%,#7bb 80%,#ec2 84%,#7bb 89%,#7bb 100%)0 70px,linear-gradient(90deg,#ab7 0%,#db0 34%,#e80 43%,#e40 46%,#e20 48%,#e40 49%,#d90 53%,#db1 60%,#7bb 82%,#db0 86%,#7bb 91%,#7bb 92%,#d90 96%,#7bb 100%,#7bb 100%)0 71px,linear-gradient(90deg,#e70 0%,#e70 14%,#7bc 18%,#e70 23%,#db0 37%,#e80 46%,#e40 50%,#e20 51%,#e40 52%,#d90 56%,#db1 63%,#eb1 100%)0 72px,linear-gradient(90deg,#da0 0%,#da0 31%,#e40 35%,#db0 37%,#e80 46%,#e40 49%,#e20 51%,#e40 52%,#d90 56%,#db1 63%,#ec2 100%)0 73px,linear-gradient(90deg,#da0 0%,#da0 30%,#e30 34%,#db0 38%,#e80 47%,#e40 51%,#e20 52%,#e40 53%,#d90 57%,#db1 64%,#ec2 69%,#db0 73%,#ec2 78%,#ec2 100%)0 74px,linear-gradient(90deg,#dc3 0%,#dc3 8%,#7bc 12%,#dc3 17%,#dc3 31%,#e40 35%,#dc3 40%,#db0 41%,#e80 50%,#e40 54%,#e20 55%,#e40 56%,#d90 60%,#db1 67%,#9b9 100%)0 75px,linear-gradient(90deg,#ec2 0%,#ec2 10%,#e40 14%,#ec2 19%,#db0 45%,#e80 54%,#e40 58%,#e20 59%,#e40 60%,#d90 64%,#db1 71%,#9b9 100%)0 76px,linear-gradient(90deg,#ec2 0%,#ec2 5%,#d90 9%,#ec2 14%,#db0 49%,#e80 58%,#e40 62%,#e20 63%,#e40 64%,#d90 68%,#db1 75%,#8ba 80%,#9b9 85%,#9b9 100%)0 77px,linear-gradient(90deg,#e70 0%,#e70 43%,#8ba 47%,#db0 47%,#e80 56%,#e40 60%,#e20 61%,#e40 63%,#d90 66%,#db1 73%,#db0 100%)0 78px,linear-gradient(90deg,#d90 0%,#d90 10%,#d90 11%,#e30 14%,#e60 15%,#d90 19%,#d90 20%,#db0 49%,#e80 58%,#e40 62%,#e20 63%,#e40 64%,#d90 68%,#db1 75%,#ec2 100%)0 79px,linear-gradient(90deg,#db1 0%,#db0 53%,#e80 62%,#e40 65%,#e20 67%,#e40 68%,#d90 72%,#db1 79%,#ec2 100%)0 80px,linear-gradient(90deg,#d90 0%,#db0 57%,#e80 66%,#e40 69%,#e20 71%,#e40 72%,#d90 76%,#db1 83%,#ec2 90%,#ec2 94%,#ec2 99%,#ec2 100%)0 81px,linear-gradient(90deg,#db1 0%,#db1 0%,#e60 4%,#db1 9%,#db0 59%,#e80 68%,#e40 72%,#e20 73%,#e40 74%,#d90 78%,#db1 85%,#ec2 100%)0 82px,linear-gradient(90deg,#d80 0%,#d80 22%,#db0 26%,#d80 30%,#d80 31%,#8ba 34%,#d80 39%,#db0 59%,#e80 68%,#e40 71%,#e20 73%,#e40 74%,#d90 78%,#db1 85%,#ec2 100%)0 83px,linear-gradient(90deg,#da0 0%,#da0 29%,#8ba 33%,#da0 38%,#db0 63%,#e80 72%,#e40 75%,#e20 77%,#e40 78%,#d90 82%,#db1 89%,#ec2 92%,#e30 96%,#ec2 100%,#ec2 100%)0 84px,linear-gradient(90deg,#e70 0%,#e70 0%,#e30 4%,#e70 9%,#db0 69%,#e80 78%,#e40 82%,#e20 83%,#e40 84%,#d90 88%,#db1 95%,#eb1 100%)0 85px,linear-gradient(90deg,#db1 0%,#db1 7%,#ec2 11%,#db1 14%,#db1 16%,#db0 18%,#db1 23%,#db0 70%,#e80 79%,#e40 83%,#e20 84%,#e40 85%,#d90 89%,#db1 96%,#ec2 100%)0 86px,linear-gradient(90deg,#d90 0%,#d90 28%,#8ba 32%,#d90 37%,#d90 60%,#ec2 64%,#d90 69%,#db0 73%,#e80 82%,#e40 85%,#e20 87%,#e40 88%,#d90 92%,#db1 99%,#ec2 100%)0 87px,linear-gradient(90deg,#d90 0%,#d90 3%,#e60 7%,#d90 12%,#d90 40%,#7bc 44%,#d90 49%,#db0 74%,#e80 83%,#e40 87%,#e20 88%,#e40 89%,#d90 93%,#ec2 100%,#db1 100%)0 88px,linear-gradient(90deg,#eb1 0%,#eb1 0%,#eb1 2%,#8ba 3%,#e30 6%,#eb1 8%,#eb1 11%,#db0 79%,#e80 88%,#e40 92%,#e20 93%,#e40 94%,#d90 98%,#dc3 100%,#db1 100%)0 89px,linear-gradient(90deg,#e70 0%,#e70 15%,#e70 18%,#db0 19%,#e70 21%,#d90 22%,#e70 24%,#d90 25%,#e70 27%,#e70 30%,#db0 75%,#e80 84%,#e40 88%,#e20 89%,#e40 90%,#d90 94%,#da0 100%,#db1 100%)0 90px,linear-gradient(90deg,#ec2 0%,#ec2 40%,#e30 44%,#ec2 49%,#ec2 58%,#d90 62%,#ec2 67%,#db0 79%,#e80 88%,#e40 92%,#e20 93%,#e40 94%,#d90 98%,#8ba 100%,#db1 100%)0 91px,linear-gradient(90deg,#e70 0%,#e70 60%,#db0 64%,#e70 69%,#db0 77%,#e80 86%,#e40 89%,#e20 91%,#e40 92%,#d90 96%,#db1 100%,#db1 100%)0 92px,linear-gradient(90deg,#e70 0%,#e70 40%,#e40 44%,#e70 49%,#db0 75%,#e80 84%,#e40 88%,#e20 89%,#e40 90%,#d90 94%,#db1 100%,#db1 100%)0 93px,linear-gradient(90deg,#e70 0%,#e70 31%,#db0 35%,#e70 40%,#e70 71%,#eb2 75%,#e70 80%,#db0 80%,#e80 89%,#e40 93%,#e20 94%,#e40 95%,#d90 99%,#d90 100%,#db1 100%)0 94px,linear-gradient(90deg,#e70 0%,#e70 13%,#e60 17%,#e70 22%,#e70 31%,#e60 35%,#e70 40%,#e70 48%,#eb2 52%,#e70 57%,#db0 77%,#e80 86%,#e40 90%,#e20 91%,#e40 92%,#d90 96%,#d90 100%,#db1 100%)0 95px,linear-gradient(90deg,#e70 0%,#e70 7%,#ec2 11%,#e70 16%,#e70 72%,#8ba 76%,#e70 81%,#db0 82%,#e80 91%,#e40 95%,#e20 96%,#e40 97%,#d90 100%,#d90 100%,#db1 100%)0 96px,linear-gradient(90deg,#ab7 0%,#ab7 55%,#eb2 59%,#ab7 64%,#ab7 65%,#e40 69%,#ab7 74%,#db0 75%,#e80 84%,#e40 88%,#e20 89%,#e40 90%,#d90 94%,#7bc 100%,#db1 100%)0 97px,linear-gradient(90deg,#eb1 0%,#eb1 45%,#db0 49%,#eb1 54%,#db0 79%,#e80 88%,#e40 92%,#e20 93%,#e40 94%,#d90 98%,#ec3 100%,#db1 100%)0 98px,linear-gradient(90deg,#d80 0%,#d80 8%,#e60 12%,#d80 17%,#d80 42%,#e40 46%,#d80 51%,#d80 54%,#e40 58%,#d80 63%,#db0 78%,#e80 87%,#e40 90%,#e20 92%,#e40 93%,#d90 97%,#ec3 100%,#db1 100%)0 99px,linear-gradient(90deg,#da0 0%,#da0 59%,#7bc 63%,#da0 68%,#db0 78%,#e80 87%,#e40 90%,#e20 92%,#e40 93%,#d90 97%,#ec3 100%,#db1 100%)0 100px,linear-gradient(90deg,#db1 0%,#db1 51%,#db0 55%,#db1 60%,#db1 65%,#eb2 69%,#db1 74%,#db0 77%,#e80 86%,#e40 90%,#e20 91%,#e40 92%,#d90 96%,#ec3 100%,#db1 100%)0 101px,linear-gradient(90deg,#db1 0%,#db1 31%,#e30 35%,#db1 39%,#db1 40%,#d90 43%,#db1 48%,#db0 80%,#e80 89%,#e40 93%,#e20 94%,#e40 95%,#d90 99%,#ec3 100%,#db1 100%)0 102px,linear-gradient(90deg,#e70 0%,#e70 69%,#e60 73%,#db0 77%,#e80 86%,#e40 90%,#e20 91%,#e40 92%,#d90 96%,#da0 100%,#db1 100%)0 103px,linear-gradient(90deg,#e70 0%,#e70 45%,#eb2 49%,#e70 54%,#e70 73%,#e70 76%,#db0 76%,#e80 85%,#e40 89%,#e20 90%,#e40 91%,#d90 95%,#da0 100%,#db1 100%)0 104px;background-size:100% 1px;background-repeat:no-repeat;box-shadow:inset 0 0 0 0.7px #4a7f8c"></div><div style="position:absolute;left:201.3px;top:674.5px;width:53.2px;height:105px;background:linear-gradient(90deg,#db0 0%,#e80 0%,#e40 0%,#e20 1%,#e40 3%,#d90 6%,#db1 13%,#db0 69%,#7bc 73%,#db0 78%,#db0 78%,#9b9 80%,#9b9 83%,#db0 85%,#db0 100%)0 0px,linear-gradient(90deg,#db0 0%,#e80 0%,#e40 2%,#e20 4%,#e40 5%,#d90 9%,#db1 16%,#db0 41%,#ec2 45%,#db0 50%,#db0 78%,#9b9 80%,#9b9 83%,#db0 85%,#db0 92%,#8ba 96%,#db0 100%,#db0 100%)0 1px,linear-gradient(90deg,#db0 0%,#e80 0%,#e40 0%,#e20 1%,#e40 2%,#d90 6%,#db1 13%,#9b9 56%,#e60 60%,#9b9 65%,#9b9 78%,#9b9 80%,#9b9 83%,#9b9 85%,#9b9 100%)0 2px,linear-gradient(90deg,#db0 0%,#e80 0%,#e40 2%,#e20 3%,#e40 4%,#d90 8%,#db1 15%,#db0 60%,#eb2 64%,#db0 65%,#db0 69%,#eb2 69%,#db0 74%,#db0 78%,#9b9 80%,#9b9 83%,#db0 85%,#db0 100%)0 3px,linear-gradient(90deg,#db0 0%,#e80 0%,#e40 4%,#e20 5%,#e40 6%,#d90 10%,#db1 17%,#d90 32%,#7bc 36%,#d90 41%,#d90 57%,#ec2 61%,#d90 66%,#d90 78%,#9b9 80%,#9b9 83%,#d90 85%,#d90 100%)0 4px,linear-gradient(90deg,#db0 0%,#e80 0%,#e40 3%,#e20 4%,#e40 5%,#d90 9%,#db1 16%,#7bc 22%,#7bc 75%,#7bc 78%,#9b9 80%,#9b9 83%,#7bc 85%,#7bc 100%)0 5px,linear-gradient(90deg,#db0 0%,#e80 1%,#e40 5%,#e20 6%,#e40 7%,#d90 11%,#db1 18%,#da0 35%,#e30 39%,#da0 44%,#da0 68%,#db0 72%,#da0 77%,#da0 78%,#9b9 80%,#9b9 83%,#da0 85%,#da0 100%)0 6px,linear-gradient(90deg,#db0 0%,#e80 1%,#e40 4%,#e20 6%,#e40 7%,#d90 11%,#db1 18%,#da0 21%,#da0 78%,#9b9 80%,#9b9 83%,#da0 85%,#da0 87%,#e40 91%,#da0 96%,#da0 100%)0 7px,linear-gradient(90deg,#db0 0%,#e80 2%,#e40 6%,#e20 7%,#e40 8%,#d90 12%,#db1 19%,#eb2 54%,#e40 58%,#eb2 63%,#eb2 79%,#db0 83%,#eb2 88%,#eb2 100%)0 8px,linear-gradient(90deg,#db0 0%,#e80 2%,#e40 6%,#e20 7%,#e40 8%,#d90 12%,#db1 19%,#ab8 50%,#e40 54%,#ab8 59%,#ab8 79%,#e60 83%,#ab8 88%,#ab8 88%,#8ba 92%,#ab8 97%,#ab8 100%)0 9px,linear-gradient(90deg,#db0 0%,#e80 3%,#e40 7%,#e20 8%,#e40 9%,#d90 13%,#db1 20%,#9b9 100%)0 10px,linear-gradient(90deg,#db0 0%,#e80 3%,#e40 7%,#e20 8%,#e40 9%,#d90 13%,#db1 20%,#db1 45%,#7bc 49%,#db1 54%,#db1 100%)0 11px,linear-gradient(90deg,#db0 0%,#e80 2%,#e40 5%,#e20 7%,#e40 8%,#d90 12%,#db1 19%,#db1 47%,#ec2 51%,#db1 56%,#db1 100%)0 12px,linear-gradient(90deg,#db0 0%,#e80 4%,#e40 8%,#e20 9%,#e40 11%,#d90 14%,#db1 21%,#eb1 100%)0 13px,linear-gradient(90deg,#db0 0%,#e80 1%,#e40 5%,#e20 6%,#e40 7%,#d90 11%,#db1 18%,#ec2 73%,#e40 77%,#ec2 82%,#ec2 100%)0 14px,linear-gradient(90deg,#db0 0%,#e80 7%,#e40 10%,#e20 12%,#e40 13%,#d90 17%,#db1 24%,#db1 100%)0 15px,linear-gradient(90deg,#cc5 0%,#db0 1%,#e80 10%,#e40 13%,#e20 15%,#e40 16%,#d90 20%,#db1 27%,#ab7 29%,#ab7 100%)0 16px,linear-gradient(90deg,#9b8 0%,#db0 2%,#e80 11%,#e40 14%,#e20 16%,#e40 17%,#d90 21%,#db1 28%,#8ba 100%)0 17px,linear-gradient(90deg,#eb2 0%,#db0 4%,#e80 13%,#e40 17%,#e20 18%,#e40 20%,#d90 23%,#db1 30%,#dc3 100%)0 18px,linear-gradient(90deg,#e70 0%,#db0 2%,#e80 11%,#e40 15%,#e20 16%,#e40 17%,#d90 21%,#db1 28%,#e80 34%,#8ba 38%,#e80 43%,#e80 100%)0 19px,linear-gradient(90deg,#cc5 0%,#db0 7%,#e80 16%,#e40 20%,#e20 21%,#e40 22%,#d90 26%,#db1 33%,#ab7 100%)0 20px,linear-gradient(90deg,#ab7 0%,#db0 7%,#e80 16%,#e40 20%,#e20 21%,#e40 22%,#d90 26%,#db1 33%,#8ba 48%,#7bc 52%,#8ba 57%,#8ba 100%)0 21px,linear-gradient(90deg,#da0 0%,#da0 2%,#eb2 6%,#db0 9%,#e80 18%,#e40 22%,#e20 23%,#e40 25%,#d90 28%,#db1 35%,#db1 68%,#d90 72%,#db1 77%,#db1 100%)0 22px,linear-gradient(90deg,#d90 0%,#db0 10%,#e80 19%,#e40 22%,#e20 24%,#e40 25%,#d90 29%,#db1 36%,#db0 60%,#e40 64%,#db0 65%,#db0 69%,#ec2 69%,#db0 74%,#db0 100%)0 23px,linear-gradient(90deg,#ab7 0%,#db0 9%,#e80 18%,#e40 21%,#e20 23%,#e40 24%,#d90 28%,#db1 35%,#7bc 38%,#9b9 43%,#9b9 44%,#e60 48%,#9b9 53%,#9b9 100%)0 24px,linear-gradient(90deg,#ab7 0%,#db0 11%,#e80 20%,#e40 23%,#e20 25%,#e40 26%,#d90 30%,#db1 37%,#9b9 42%,#9b9 43%,#e40 47%,#9b9 52%,#9b9 100%)0 25px,linear-gradient(90deg,#bb7 0%,#db0 16%,#e80 25%,#e40 29%,#e20 30%,#e40 31%,#d90 35%,#db1 42%,#9b9 79%,#e30 83%,#9b9 88%,#9b9 100%)0 26px,linear-gradient(90deg,#db1 0%,#db1 10%,#e40 14%,#db1 19%,#db0 21%,#e80 30%,#e40 34%,#e20 35%,#e40 36%,#d90 40%,#db1 47%,#eb2 51%,#eb2 100%)0 27px,linear-gradient(90deg,#9b9 0%,#9b9 5%,#e30 9%,#9b9 14%,#db0 22%,#e80 31%,#e40 35%,#e20 36%,#e40 37%,#d90 41%,#db1 48%,#8bb 100%)0 28px,linear-gradient(90deg,#da0 0%,#da0 10%,#eb2 14%,#da0 19%,#da0 20%,#7bc 24%,#db0 26%,#e80 35%,#e40 39%,#e20 40%,#e40 41%,#d90 45%,#db1 52%,#db1 100%)0 29px,linear-gradient(90deg,#eb2 0%,#eb2 20%,#e40 24%,#db0 29%,#e80 38%,#e40 41%,#e20 43%,#e40 44%,#d90 48%,#db1 55%,#ec2 61%,#ec2 100%)0 30px,linear-gradient(90deg,#eb1 0%,#eb1 29%,#db0 31%,#e80 40%,#e40 44%,#e20 45%,#e40 46%,#d90 50%,#db1 57%,#e30 61%,#eb2 63%,#eb2 66%,#eb2 100%)0 31px,linear-gradient(90deg,#db1 0%,#db1 21%,#8ba 25%,#db1 30%,#db0 43%,#e80 52%,#e40 56%,#e20 57%,#e40 58%,#d90 62%,#db1 69%,#eb2 78%,#9b9 80%,#9b9 83%,#eb2 85%,#eb2 100%)0 32px,linear-gradient(90deg,#9ba 0%,#9ba 25%,#7bc 29%,#9ba 34%,#db0 50%,#e80 59%,#e40 63%,#e20 64%,#e40 65%,#d90 69%,#db1 76%,#7bb 78%,#9b9 80%,#9b9 83%,#7bb 85%,#7bb 100%)0 33px,linear-gradient(90deg,#e70 0%,#e70 25%,#7bc 29%,#e70 34%,#db0 54%,#e80 63%,#e40 67%,#e20 68%,#e40 70%,#d90 73%,#d80 78%,#9b9 80%,#9b9 83%,#d80 85%,#d80 86%,#d80 100%)0 34px,linear-gradient(90deg,#e70 0%,#e70 17%,#e40 21%,#e70 26%,#e70 50%,#ec2 54%,#db0 58%,#e80 67%,#e40 71%,#e20 72%,#e40 73%,#d90 77%,#d80 78%,#9b9 80%,#9b9 83%,#d80 85%,#d80 100%)0 35px,linear-gradient(90deg,#da0 0%,#da0 28%,#8ba 32%,#da0 37%,#da0 50%,#eb2 54%,#db0 56%,#e80 65%,#e40 69%,#e20 70%,#e40 71%,#d90 75%,#db1 78%,#9b9 80%,#9b9 83%,#db1 85%,#db1 88%,#db0 92%,#db1 97%,#db1 100%)0 36px,linear-gradient(90deg,#da0 0%,#da0 14%,#d90 18%,#da0 23%,#da0 31%,#7bc 35%,#da0 40%,#db0 59%,#e80 68%,#e40 72%,#e20 73%,#e40 75%,#db1 78%,#9b9 80%,#9b9 83%,#db1 85%,#db1 85%,#db1 100%)0 37px,linear-gradient(90deg,#eb1 0%,#eb1 22%,#ec2 26%,#eb1 31%,#eb1 43%,#ec2 47%,#eb1 52%,#db0 58%,#e80 67%,#e40 71%,#e20 72%,#e40 73%,#d90 77%,#ec2 78%,#9b9 80%,#9b9 83%,#ec2 85%,#ec2 100%)0 38px,linear-gradient(90deg,#bb7 0%,#bb7 0%,#eb2 2%,#bb7 7%,#bb7 53%,#db0 56%,#e80 65%,#e40 68%,#e20 70%,#e40 71%,#d90 75%,#ab8 78%,#9b9 80%,#9b9 83%,#ab8 85%,#ab8 100%)0 39px,linear-gradient(90deg,#8ba 0%,#8ba 53%,#e40 57%,#db0 58%,#e80 67%,#e40 71%,#e20 72%,#e40 74%,#d90 77%,#7bc 78%,#9b9 80%,#9b9 83%,#7bc 85%,#7bc 100%)0 40px,linear-gradient(90deg,#d90 0%,#db0 56%,#e80 65%,#e40 69%,#e20 70%,#e40 72%,#d90 75%,#db0 78%,#9b9 80%,#9b9 83%,#db0 85%,#db0 85%,#db0 85%,#e40 89%,#db0 94%,#db0 100%)0 41px,linear-gradient(90deg,#e80 0%,#e80 27%,#e60 31%,#e80 36%,#e80 54%,#db0 56%,#e80 65%,#e40 69%,#e20 70%,#e40 72%,#d90 75%,#da0 78%,#9b9 80%,#9b9 83%,#da0 85%,#da0 100%)0 42px,linear-gradient(90deg,#ec2 0%,#ec2 0%,#8ba 2%,#ec2 7%,#ec2 39%,#8ba 43%,#ec2 48%,#ec2 57%,#db0 60%,#e80 69%,#e40 73%,#e20 74%,#e40 75%,#dc3 78%,#9b9 80%,#9b9 83%,#dc3 85%,#db1 86%,#dc3 100%)0 43px,linear-gradient(90deg,#bb6 0%,#db0 58%,#e80 67%,#e40 71%,#e20 72%,#e40 74%,#d90 77%,#9b8 78%,#9b9 80%,#9b9 83%,#9b8 85%,#9b8 88%,#9b8 91%,#9b8 100%)0 44px,linear-gradient(90deg,#bb6 0%,#bb6 8%,#db0 12%,#bb6 17%,#bb6 26%,#eb2 30%,#bb6 35%,#bb6 51%,#d90 55%,#db0 58%,#e80 67%,#e40 71%,#e20 72%,#e40 73%,#d90 77%,#9b8 78%,#9b9 80%,#9b9 83%,#9b8 85%,#9b8 100%)0 45px,linear-gradient(90deg,#d90 0%,#d90 23%,#e40 27%,#d90 27%,#d90 31%,#d90 32%,#d90 36%,#db0 59%,#e80 68%,#e40 72%,#e20 73%,#e40 75%,#da0 78%,#9b9 80%,#9b9 83%,#da0 85%,#db1 85%,#da0 100%)0 46px,linear-gradient(90deg,#9b9 0%,#9b9 11%,#ec2 15%,#9b9 20%,#db0 59%,#e80 68%,#e40 72%,#e20 73%,#e40 74%,#d90 78%,#7bb 78%,#9b9 80%,#9b9 83%,#7bb 85%,#7bb 100%)0 47px,linear-gradient(90deg,#9b9 0%,#9b9 10%,#e60 14%,#9b9 17%,#9b9 19%,#e60 21%,#9b9 26%,#db0 58%,#e80 67%,#e40 71%,#e20 72%,#e40 73%,#d90 77%,#7bb 78%,#9b9 80%,#9b9 83%,#7bb 85%,#7bb 100%)0 48px,linear-gradient(90deg,#8bb 0%,#8bb 44%,#e40 48%,#8bb 53%,#db0 58%,#e80 67%,#e40 71%,#e20 72%,#e40 74%,#d90 77%,#7bb 78%,#9b9 80%,#9b9 83%,#7bb 85%,#7bb 93%,#e30 97%,#7bb 100%,#7bb 100%)0 49px,linear-gradient(90deg,#db1 0%,#db1 43%,#e40 47%,#db1 52%,#db0 57%,#e80 66%,#e40 70%,#e20 71%,#e40 72%,#d90 76%,#ec2 78%,#9b9 80%,#9b9 83%,#ec2 85%,#e60 87%,#ec2 92%,#ec2 100%)0 50px,linear-gradient(90deg,#ab8 0%,#ab8 2%,#8ba 6%,#ab8 11%,#db0 58%,#e80 67%,#e40 71%,#e20 72%,#e40 73%,#d90 77%,#8ba 78%,#9b9 80%,#9b9 83%,#8ba 85%,#8ba 100%)0 51px,linear-gradient(90deg,#ab8 0%,#ab8 36%,#e60 40%,#ab8 45%,#db0 59%,#e80 68%,#e40 72%,#e20 73%,#e40 74%,#8ba 78%,#9b9 80%,#9b9 83%,#8ba 85%,#db1 85%,#8ba 100%)0 52px,linear-gradient(90deg,#eb1 0%,#eb1 10%,#e40 14%,#eb1 19%,#eb1 27%,#eb2 31%,#eb1 36%,#db0 58%,#e80 67%,#e40 71%,#e20 72%,#e40 73%,#d90 77%,#ec2 78%,#9b9 80%,#9b9 83%,#ec2 85%,#ec2 100%)0 53px,linear-gradient(90deg,#db1 0%,#db1 4%,#7bc 8%,#db1 13%,#db1 40%,#e60 44%,#db1 49%,#db0 58%,#e80 67%,#e40 71%,#e20 72%,#e40 73%,#d90 77%,#eb2 78%,#9b9 80%,#9b9 83%,#eb2 85%,#eb2 100%)0 54px,linear-gradient(90deg,#ab8 0%,#ab8 2%,#ab8 4%,#8ba 6%,#e30 8%,#ab8 11%,#ab8 13%,#ab8 39%,#db0 43%,#ab8 48%,#db0 60%,#e80 69%,#e40 73%,#e20 74%,#e40 75%,#7bb 78%,#9b9 80%,#9b9 83%,#7bb 85%,#db1 86%,#7bb 100%)0 55px,linear-gradient(90deg,#db0 0%,#db0 59%,#e80 68%,#e40 72%,#e20 73%,#e40 74%,#eb1 78%,#9b9 80%,#9b9 83%,#eb1 85%,#db1 85%,#eb1 100%)0 56px,linear-gradient(90deg,#e70 0%,#e70 29%,#d90 33%,#e70 38%,#db0 56%,#e80 65%,#e40 68%,#e20 70%,#e40 71%,#d90 75%,#d90 78%,#9b9 80%,#9b9 83%,#d90 85%,#d90 100%)0 57px,linear-gradient(90deg,#ec2 0%,#db0 57%,#e80 66%,#e40 69%,#e20 71%,#e40 72%,#d90 76%,#dc4 78%,#9b9 80%,#9b9 83%,#dc4 85%,#dc4 100%)0 58px,linear-gradient(90deg,#ec2 0%,#ec2 27%,#eb2 31%,#ec2 36%,#db0 57%,#e80 66%,#e40 70%,#e20 71%,#e40 72%,#d90 76%,#dc4 78%,#9b9 80%,#9b9 83%,#dc4 85%,#dc4 100%)0 59px,linear-gradient(90deg,#ec2 0%,#ec2 53%,#db0 56%,#e80 65%,#e40 69%,#e20 70%,#e40 71%,#d90 75%,#dc4 78%,#9b9 80%,#9b9 83%,#dc4 85%,#dc4 86%,#db0 86%,#dc4 91%,#dc4 100%)0 60px,linear-gradient(90deg,#8ba 0%,#db0 57%,#e80 66%,#e40 70%,#e20 71%,#e40 73%,#d90 76%,#6ab 78%,#9b9 80%,#9b9 83%,#6ab 85%,#db0 88%,#6ab 93%,#6ab 100%)0 61px,linear-gradient(90deg,#bc6 0%,#db0 59%,#e80 68%,#e40 71%,#e20 73%,#e40 74%,#d90 78%,#9b8 78%,#9b9 80%,#9b9 83%,#9b8 85%,#9b8 89%,#9b8 100%)0 62px,linear-gradient(90deg,#cc5 0%,#cc5 20%,#7bc 24%,#cc5 29%,#db0 60%,#e80 69%,#e40 72%,#e20 74%,#e40 75%,#9b8 78%,#9b9 80%,#9b9 83%,#9b8 85%,#db1 86%,#9b8 100%)0 63px,linear-gradient(90deg,#db1 0%,#db1 2%,#7bc 6%,#db1 11%,#db0 56%,#e80 65%,#e40 69%,#e20 70%,#e40 71%,#d90 75%,#eb2 78%,#9b9 80%,#9b9 83%,#eb2 85%,#eb2 100%)0 64px,linear-gradient(90deg,#bb7 0%,#bb7 40%,#db0 44%,#bb7 49%,#bb7 51%,#e60 55%,#db0 57%,#e80 66%,#e40 70%,#e20 71%,#e40 72%,#d90 76%,#9b9 78%,#9b9 80%,#9b9 83%,#9b9 85%,#9b9 100%)0 65px,linear-gradient(90deg,#bb7 0%,#db0 57%,#e80 66%,#e40 69%,#e20 71%,#e40 72%,#d90 76%,#9b9 78%,#9b9 80%,#9b9 83%,#9b9 85%,#9b9 90%,#9b9 91%,#ec2 94%,#e40 95%,#9b9 99%,#9b9 100%,#9b9 100%)0 66px,linear-gradient(90deg,#bb7 0%,#bb7 26%,#bb7 29%,#eb2 30%,#e40 33%,#bb7 35%,#bb7 38%,#db0 57%,#e80 66%,#e40 70%,#e20 71%,#e40 72%,#d90 76%,#9b9 78%,#9b9 80%,#9b9 83%,#9b9 85%,#9b9 88%,#9b9 100%)0 67px,linear-gradient(90deg,#db0 0%,#db0 6%,#e40 10%,#db0 15%,#db0 58%,#e80 67%,#e40 71%,#e20 72%,#e40 74%,#d90 77%,#db1 78%,#9b9 80%,#9b9 83%,#db1 85%,#e40 90%,#db1 95%,#db1 100%)0 68px,linear-gradient(90deg,#db1 0%,#db0 58%,#e80 67%,#e40 71%,#e20 72%,#e40 73%,#d90 77%,#eb2 78%,#9b9 80%,#9b9 83%,#eb2 85%,#eb2 90%,#ec2 94%,#eb2 99%,#eb2 100%)0 69px,linear-gradient(90deg,#eb1 0%,#eb1 2%,#8ba 6%,#eb1 11%,#eb1 39%,#e60 43%,#eb1 48%,#db0 59%,#e80 68%,#e40 72%,#e20 73%,#e40 74%,#ec2 78%,#9b9 80%,#9b9 83%,#ec2 85%,#db1 85%,#ec2 100%)0 70px,linear-gradient(90deg,#eb2 0%,#eb2 13%,#7bc 17%,#eb2 22%,#eb2 27%,#eb2 31%,#eb2 36%,#db0 60%,#e80 69%,#e40 73%,#e20 74%,#e40 75%,#ec3 78%,#9b9 80%,#9b9 83%,#ec3 85%,#db1 86%,#ec3 100%)0 71px,linear-gradient(90deg,#eb1 0%,#eb1 54%,#e60 58%,#db0 60%,#e80 69%,#e40 73%,#e20 74%,#e40 75%,#ec2 78%,#9b9 80%,#9b9 83%,#ec2 85%,#db1 86%,#ec2 100%)0 72px,linear-gradient(90deg,#e70 0%,#e70 5%,#ec2 9%,#e70 14%,#e70 35%,#d90 39%,#e70 44%,#db0 59%,#e80 68%,#e40 72%,#e20 73%,#e40 74%,#d90 78%,#9b9 80%,#9b9 83%,#d90 85%,#db1 85%,#d90 100%)0 73px,linear-gradient(90deg,#e70 0%,#db0 59%,#e80 68%,#e40 72%,#e20 73%,#e40 74%,#d90 78%,#9b9 80%,#9b9 83%,#d90 85%,#db1 85%,#d90 100%)0 74px,linear-gradient(90deg,#e70 0%,#db0 63%,#e80 72%,#e40 75%,#e20 77%,#e40 78%,#d90 78%,#9b9 80%,#9b9 83%,#d90 85%,#db1 89%,#d90 100%)0 75px,linear-gradient(90deg,#eb2 0%,#eb2 39%,#eb2 43%,#eb2 48%,#eb2 52%,#eb2 55%,#db0 56%,#db0 58%,#e80 67%,#e40 71%,#e20 72%,#e40 73%,#d90 77%,#ec2 78%,#9b9 80%,#9b9 83%,#ec2 85%,#ec2 100%)0 76px,linear-gradient(90deg,#ec2 0%,#ec2 6%,#db0 10%,#ec2 15%,#db0 60%,#e80 69%,#e40 72%,#e20 74%,#e40 75%,#ec2 78%,#9b9 80%,#9b9 83%,#ec2 85%,#db1 86%,#ec2 100%)0 77px,linear-gradient(90deg,#d80 0%,#db0 60%,#e80 69%,#e40 73%,#e20 74%,#e40 76%,#db0 78%,#9b9 80%,#9b9 83%,#db0 85%,#db1 86%,#db0 100%)0 78px,linear-gradient(90deg,#d90 0%,#db0 55%,#e80 64%,#e40 68%,#e20 69%,#e40 70%,#d90 74%,#db0 78%,#9b9 80%,#9b9 83%,#db0 85%,#7bc 87%,#db0 92%,#db0 100%)0 79px,linear-gradient(90deg,#e70 0%,#db0 57%,#e80 66%,#e40 70%,#e20 71%,#e40 73%,#d90 76%,#da0 78%,#9b9 80%,#9b9 83%,#da0 85%,#e30 88%,#da0 93%,#da0 100%)0 80px,linear-gradient(90deg,#d80 0%,#d80 40%,#7bc 44%,#d80 45%,#e40 49%,#d80 49%,#d80 54%,#db0 59%,#e80 68%,#e40 72%,#e20 73%,#e40 74%,#da0 78%,#9b9 80%,#9b9 83%,#da0 85%,#db1 85%,#da0 100%)0 81px,linear-gradient(90deg,#e70 0%,#e70 25%,#d90 29%,#e70 34%,#e70 49%,#d90 53%,#db0 58%,#e80 67%,#e40 71%,#e20 72%,#e40 73%,#d90 77%,#da0 78%,#9b9 80%,#9b9 83%,#da0 85%,#da0 100%)0 82px,linear-gradient(90deg,#ec2 0%,#ec2 5%,#ec2 9%,#ec2 14%,#db0 55%,#e80 64%,#e40 68%,#e20 69%,#e40 70%,#d90 74%,#ec2 78%,#9b9 80%,#9b9 83%,#ec2 85%,#ec2 100%)0 83px,linear-gradient(90deg,#ab7 0%,#ab7 5%,#7bc 9%,#ab7 14%,#ab7 21%,#e30 25%,#ab7 30%,#db0 58%,#e80 67%,#e40 71%,#e20 72%,#e40 73%,#d90 77%,#9b9 78%,#9b9 80%,#9b9 83%,#9b9 85%,#9b9 100%)0 84px,linear-gradient(90deg,#da0 0%,#da0 12%,#7bc 16%,#da0 21%,#db0 60%,#e80 69%,#e40 73%,#e20 74%,#e40 75%,#db1 78%,#9b9 80%,#9b9 83%,#db1 85%,#db1 86%,#db1 92%,#db1 100%)0 85px,linear-gradient(90deg,#cc5 0%,#cc5 44%,#ec2 48%,#cc5 53%,#db0 59%,#e80 68%,#e40 72%,#e20 73%,#e40 74%,#d90 78%,#ab8 78%,#9b9 80%,#9b9 83%,#ab8 85%,#ab8 100%)0 86px,linear-gradient(90deg,#9b9 0%,#db0 58%,#e80 67%,#e40 71%,#e20 72%,#e40 73%,#d90 77%,#7bb 78%,#9b9 80%,#9b9 83%,#7bb 85%,#7bb 100%)0 87px,linear-gradient(90deg,#e70 0%,#e70 55%,#db0 56%,#e80 65%,#e40 69%,#e20 70%,#e40 71%,#d90 75%,#d90 78%,#9b9 80%,#9b9 83%,#d90 85%,#d90 88%,#e30 92%,#d90 97%,#d90 100%)0 88px,linear-gradient(90deg,#ec2 0%,#ec2 15%,#e60 19%,#ec2 24%,#ec2 49%,#db0 53%,#ec2 58%,#db0 58%,#e80 67%,#e40 70%,#e20 72%,#e40 73%,#d90 77%,#dc3 78%,#9b9 80%,#9b9 83%,#dc3 85%,#dc3 100%)0 89px,linear-gradient(90deg,#dc4 0%,#dc4 36%,#d90 40%,#dc4 45%,#db0 59%,#e80 68%,#e40 72%,#e20 73%,#e40 74%,#bb7 78%,#9b9 80%,#9b9 83%,#bb7 85%,#db1 85%,#bb7 100%)0 90px,linear-gradient(90deg,#dc3 0%,#dc3 44%,#d90 48%,#dc3 53%,#db0 57%,#e80 66%,#e40 70%,#e20 71%,#e40 73%,#d90 76%,#bb7 78%,#9b9 80%,#9b9 83%,#bb7 85%,#bb7 100%)0 91px,linear-gradient(90deg,#db1 0%,#db1 53%,#ec2 57%,#db0 58%,#e80 67%,#e40 71%,#e20 72%,#e40 73%,#db0 74%,#eb1 78%,#9b9 80%,#9b9 83%,#eb1 85%,#e40 87%,#e20 88%,#e40 89%,#d90 93%,#eb1 100%,#db1 100%)0 92px,linear-gradient(90deg,#db1 0%,#db1 20%,#e40 24%,#db1 29%,#db0 62%,#e80 71%,#e40 75%,#db0 75%,#eb1 78%,#9b9 80%,#9b9 83%,#eb1 85%,#e40 88%,#e20 89%,#e40 90%,#d90 94%,#eb1 100%,#db1 100%)0 93px,linear-gradient(90deg,#db0 0%,#db0 46%,#db0 50%,#db0 55%,#db0 65%,#e80 74%,#db0 76%,#db1 78%,#9b9 80%,#9b9 83%,#db1 85%,#e40 89%,#e20 90%,#e40 91%,#d90 95%,#db1 100%,#db1 100%)0 94px,linear-gradient(90deg,#8ba 0%,#8ba 5%,#db0 9%,#8ba 14%,#db0 61%,#e80 70%,#e40 74%,#e20 75%,#e40 76%,#db0 77%,#7bc 78%,#9b9 80%,#9b9 83%,#7bc 85%,#e80 86%,#e40 90%,#e20 91%,#e40 92%,#d90 96%,#7bc 100%,#db1 100%)0 95px,linear-gradient(90deg,#8ba 0%,#db0 62%,#e80 71%,#e40 75%,#e20 76%,#e40 77%,#db0 78%,#7bc 78%,#9b9 80%,#9b9 83%,#7bc 85%,#e80 87%,#e40 91%,#e20 92%,#e40 93%,#d90 97%,#7bc 100%,#db1 100%)0 96px,linear-gradient(90deg,#dc4 0%,#dc4 7%,#dc4 11%,#e30 11%,#e60 15%,#dc4 16%,#dc4 20%,#db0 61%,#e80 70%,#e40 74%,#e20 75%,#e40 77%,#bb7 78%,#9b9 80%,#9b9 83%,#bb7 85%,#e80 88%,#e40 92%,#e20 93%,#e40 94%,#d90 98%,#bb7 100%,#db1 100%)0 97px,linear-gradient(90deg,#d80 0%,#d80 7%,#d90 11%,#d80 13%,#d80 16%,#e60 17%,#d80 22%,#db0 63%,#e80 72%,#e40 76%,#e20 77%,#db0 78%,#9b9 80%,#9b9 83%,#db0 85%,#e80 89%,#e40 93%,#e20 94%,#e40 95%,#d90 99%,#db0 100%,#db1 100%)0 98px,linear-gradient(90deg,#e70 0%,#db0 61%,#e80 70%,#e40 74%,#e20 75%,#e40 76%,#da0 78%,#9b9 80%,#9b9 83%,#da0 85%,#e80 90%,#e40 94%,#e20 95%,#e40 96%,#d90 100%,#da0 100%,#db1 100%)0 99px,linear-gradient(90deg,#da0 0%,#db0 62%,#e80 71%,#e40 75%,#e20 76%,#e40 78%,#db1 78%,#9b9 80%,#9b9 83%,#db1 85%,#e80 91%,#e40 95%,#e20 96%,#e40 97%,#db1 100%,#d90 100%,#db1 100%)0 100px,linear-gradient(90deg,#bc6 0%,#bc6 25%,#e40 29%,#bc6 30%,#e60 34%,#bc6 34%,#bc6 39%,#db0 62%,#e80 71%,#e40 75%,#e20 76%,#e40 77%,#9b9 78%,#9b9 80%,#9b9 83%,#9b9 85%,#e80 92%,#e40 95%,#e20 97%,#e40 98%,#9b9 100%,#d90 100%,#db1 100%)0 101px,linear-gradient(90deg,#e80 0%,#e80 29%,#7bc 33%,#e80 38%,#db0 61%,#e80 70%,#e40 74%,#e20 75%,#e40 77%,#da0 78%,#9b9 80%,#9b9 83%,#da0 85%,#e80 93%,#e40 96%,#e20 98%,#e40 99%,#da0 100%,#d90 100%,#db1 100%)0 102px,linear-gradient(90deg,#e70 0%,#e70 27%,#e60 31%,#e70 35%,#e70 36%,#e60 39%,#e70 44%,#e70 51%,#db0 55%,#e70 60%,#db0 62%,#e80 71%,#e40 75%,#e20 76%,#e40 78%,#da0 78%,#9b9 80%,#9b9 83%,#da0 85%,#e80 94%,#e40 97%,#e20 99%,#e40 100%,#da0 100%,#d90 100%,#db1 100%)0 103px,linear-gradient(90deg,#e70 0%,#db0 63%,#e80 72%,#e40 75%,#e20 77%,#e40 78%,#da0 78%,#9b9 80%,#9b9 83%,#da0 85%,#db0 86%,#e80 95%,#e40 98%,#e20 100%,#da0 100%,#e40 100%,#d90 100%,#db1 100%)0 104px;background-size:100% 1px;background-repeat:no-repeat;box-shadow:inset 0 0 0 0.7px #4a7f8c"></div><div style="position:absolute;left:285.1px;top:674.5px;width:53.2px;height:105px;background:linear-gradient(90deg,#db0 0%,#e80 0%,#e40 2%,#e20 3%,#e40 4%,#d90 8%,#db1 15%,#ab8 22%,#db0 26%,#ab8 31%,#ab8 100%)0 0px,linear-gradient(90deg,#db0 0%,#e80 0%,#e40 3%,#e20 4%,#e40 5%,#d90 9%,#db1 16%,#7bc 100%)0 1px,linear-gradient(90deg,#db0 0%,#e80 0%,#e40 1%,#e20 2%,#e40 4%,#d90 7%,#db1 14%,#da0 36%,#ec2 40%,#da0 45%,#da0 100%)0 2px,linear-gradient(90deg,#db0 0%,#e80 0%,#e40 0%,#e20 1%,#e40 2%,#d90 6%,#db1 13%,#da0 57%,#e40 61%,#da0 66%,#da0 82%,#eb2 86%,#da0 91%,#da0 100%)0 3px,linear-gradient(90deg,#db0 0%,#e80 0%,#e40 3%,#e20 5%,#e40 6%,#d90 10%,#db1 17%,#7bb 90%,#8ba 94%,#7bb 99%,#7bb 100%)0 4px,linear-gradient(90deg,#db0 0%,#e80 0%,#e40 3%,#e20 4%,#e40 5%,#d90 9%,#db1 16%,#9b9 25%,#e60 29%,#9b9 34%,#9b9 84%,#7bc 88%,#9b9 93%,#9b9 100%)0 5px,linear-gradient(90deg,#db0 0%,#e80 1%,#e40 5%,#e20 6%,#e40 8%,#d90 11%,#db1 18%,#db1 21%,#db1 60%,#db0 64%,#db1 69%,#db1 100%)0 6px,linear-gradient(90deg,#db0 0%,#e80 1%,#e40 5%,#e20 6%,#e40 7%,#d90 11%,#db1 18%,#db0 23%,#db0 47%,#d90 51%,#db0 56%,#db0 100%)0 7px,linear-gradient(90deg,#db0 0%,#e80 3%,#e40 6%,#e20 8%,#e40 9%,#d90 13%,#db1 20%,#db0 37%,#e30 41%,#db0 46%,#db0 100%)0 8px,linear-gradient(90deg,#db0 0%,#e80 2%,#e40 6%,#e20 7%,#e40 8%,#d90 12%,#db1 19%,#db1 45%,#db0 49%,#db1 54%,#db1 100%)0 9px,linear-gradient(90deg,#db0 0%,#e80 3%,#e40 7%,#e20 8%,#e40 9%,#d90 13%,#db1 20%,#db1 48%,#d90 52%,#db1 57%,#db1 61%,#db1 62%,#ec2 65%,#db0 66%,#db1 70%,#db1 71%,#db1 100%)0 10px,linear-gradient(90deg,#db0 0%,#e80 4%,#e40 8%,#e20 9%,#e40 10%,#d90 14%,#db1 21%,#eb1 23%,#eb1 45%,#8ba 49%,#eb1 54%,#eb1 100%)0 11px,linear-gradient(90deg,#db0 0%,#e80 3%,#e40 7%,#e20 8%,#e40 9%,#d90 13%,#db1 20%,#ec2 34%,#7bc 38%,#ec2 43%,#ec2 100%)0 12px,linear-gradient(90deg,#db0 0%,#e80 7%,#e40 11%,#e20 12%,#e40 13%,#d90 17%,#db1 24%,#ec2 72%,#e30 76%,#ec2 81%,#ec2 84%,#db0 88%,#ec2 93%,#ec2 100%)0 13px,linear-gradient(90deg,#db0 0%,#e80 5%,#e40 9%,#e20 10%,#e40 11%,#d90 15%,#db1 22%,#db0 27%,#db0 31%,#db0 36%,#db0 100%)0 14px,linear-gradient(90deg,#db0 0%,#e80 8%,#e40 11%,#e20 13%,#e40 14%,#d90 18%,#db1 25%,#8ba 28%,#6ab 30%,#6ab 33%,#6ab 78%,#e40 82%,#6ab 87%,#6ab 100%)0 15px,linear-gradient(90deg,#e80 0%,#db0 0%,#e80 9%,#e40 13%,#e20 14%,#e40 15%,#d90 19%,#db1 26%,#da0 100%)0 16px,linear-gradient(90deg,#db0 0%,#e80 9%,#e40 12%,#e20 14%,#e40 15%,#d90 19%,#db1 26%,#da0 31%,#da0 34%,#8ba 35%,#db0 38%,#da0 40%,#da0 43%,#da0 44%,#8ba 48%,#da0 53%,#da0 100%)0 17px,linear-gradient(90deg,#9b8 0%,#db0 3%,#e80 12%,#e40 16%,#e20 17%,#e40 18%,#d90 22%,#db1 29%,#db0 32%,#8ba 37%,#8ba 76%,#8ba 79%,#d90 80%,#e60 83%,#8ba 85%,#8ba 88%,#8ba 100%)0 18px,linear-gradient(90deg,#9b9 0%,#db0 3%,#e80 12%,#e40 16%,#e20 17%,#e40 19%,#d90 22%,#db1 29%,#8ba 78%,#e30 82%,#8ba 87%,#8ba 88%,#d90 92%,#8ba 97%,#8ba 100%)0 19px,linear-gradient(90deg,#ec2 0%,#db0 1%,#e80 10%,#e40 14%,#e20 15%,#e40 16%,#d90 20%,#db1 27%,#dc3 100%)0 20px,linear-gradient(90deg,#8ba 0%,#db0 4%,#e80 13%,#e40 16%,#e20 18%,#e40 19%,#d90 23%,#db1 30%,#7bb 79%,#e40 83%,#7bb 88%,#7bb 100%)0 21px,linear-gradient(90deg,#ec2 0%,#db0 8%,#e80 17%,#e40 21%,#e20 22%,#e40 23%,#d90 27%,#db1 34%,#ec2 65%,#eb2 69%,#ec2 74%,#ec2 74%,#8ba 78%,#ec2 83%,#ec2 100%)0 22px,linear-gradient(90deg,#7bb 0%,#db0 5%,#e80 14%,#e40 18%,#e20 19%,#e40 21%,#d90 24%,#db1 31%,#7bc 53%,#db0 57%,#7bc 62%,#7bc 100%)0 23px,linear-gradient(90deg,#8bb 0%,#db0 10%,#e80 19%,#e40 23%,#e20 24%,#e40 25%,#d90 29%,#db1 36%,#7bc 40%,#e40 44%,#7bc 49%,#7bc 86%,#d90 90%,#7bc 95%,#7bc 100%)0 24px,linear-gradient(90deg,#da0 0%,#da0 8%,#db0 8%,#e80 17%,#e40 21%,#e20 22%,#e40 23%,#d90 27%,#db1 34%,#8ba 37%,#db0 42%,#db0 100%)0 25px,linear-gradient(90deg,#da0 0%,#db0 6%,#e80 15%,#e40 19%,#e20 20%,#e40 22%,#d90 25%,#db1 32%,#db0 39%,#8ba 43%,#db0 48%,#db0 100%)0 26px,linear-gradient(90deg,#d90 0%,#db0 9%,#e80 18%,#e40 22%,#e20 23%,#e40 24%,#d90 28%,#db1 35%,#da0 100%)0 27px,linear-gradient(90deg,#8ba 0%,#db0 10%,#e80 19%,#e40 23%,#e20 24%,#e40 26%,#d90 29%,#db1 36%,#7bb 48%,#7bb 50%,#ec2 52%,#ec2 54%,#7bb 57%,#7bb 59%,#7bb 90%,#ec2 94%,#7bb 99%,#7bb 100%)0 28px,linear-gradient(90deg,#ec3 0%,#ec3 3%,#e30 7%,#db0 11%,#e80 20%,#e40 24%,#e20 25%,#e40 26%,#d90 30%,#db1 37%,#dc4 42%,#7bc 46%,#dc4 51%,#dc4 100%)0 29px,linear-gradient(90deg,#7bc 0%,#7bc 8%,#d90 12%,#db0 13%,#e80 22%,#e40 26%,#e20 27%,#e40 28%,#d90 32%,#db1 39%,#6ab 54%,#db0 58%,#6ab 63%,#6ab 100%)0 30px,linear-gradient(90deg,#bb7 0%,#db0 15%,#e80 24%,#e40 28%,#e20 29%,#e40 30%,#d90 34%,#db1 41%,#ab8 71%,#d90 75%,#ab8 80%,#ab8 100%)0 31px,linear-gradient(90deg,#db1 0%,#db0 15%,#e80 24%,#e40 28%,#e20 29%,#e40 30%,#d90 34%,#db1 41%,#eb1 50%,#e60 54%,#eb1 59%,#eb1 100%)0 32px,linear-gradient(90deg,#8ba 0%,#db0 13%,#e80 22%,#e40 26%,#e20 27%,#e40 28%,#d90 32%,#db1 39%,#7bc 45%,#7bc 49%,#7bc 54%,#7bc 63%,#8ba 67%,#7bc 72%,#7bc 100%)0 33px,linear-gradient(90deg,#db0 0%,#db0 21%,#e80 30%,#e40 34%,#e20 35%,#e40 36%,#d90 40%,#db1 47%,#db1 69%,#e30 73%,#db1 78%,#db1 78%,#7bc 82%,#db1 87%,#db1 100%)0 34px,linear-gradient(90deg,#9b9 0%,#db0 20%,#e80 29%,#e40 32%,#e20 34%,#e40 35%,#d90 39%,#db1 46%,#8ba 50%,#8ba 50%,#8ba 54%,#8ba 59%,#8ba 73%,#8ba 77%,#8ba 82%,#8ba 100%)0 35px,linear-gradient(90deg,#9b9 0%,#db0 16%,#e80 25%,#e40 28%,#e20 30%,#e40 31%,#d90 35%,#db1 42%,#8ba 70%,#e30 74%,#8ba 79%,#8ba 100%)0 36px,linear-gradient(90deg,#e80 0%,#db0 18%,#e80 27%,#e40 30%,#e20 32%,#e40 33%,#d90 37%,#db1 44%,#d90 52%,#e60 56%,#d90 61%,#d90 100%)0 37px,linear-gradient(90deg,#ab8 0%,#ab8 0%,#e40 4%,#ab8 9%,#ab8 10%,#e60 14%,#db0 18%,#e80 27%,#e40 30%,#e20 32%,#e40 33%,#d90 37%,#db1 44%,#9b9 63%,#db0 67%,#9b9 72%,#9b9 100%)0 38px,linear-gradient(90deg,#9b9 0%,#9b9 8%,#db0 12%,#9b9 17%,#db0 21%,#e80 30%,#e40 33%,#e20 35%,#e40 36%,#d90 40%,#db1 47%,#8bb 53%,#7bc 57%,#8bb 62%,#8bb 100%)0 39px,linear-gradient(90deg,#cc5 0%,#db0 21%,#e80 30%,#e40 33%,#e20 35%,#e40 36%,#d90 40%,#db1 47%,#bb6 61%,#ec2 65%,#bb6 70%,#bb6 100%)0 40px,linear-gradient(90deg,#ec2 0%,#db0 24%,#e80 33%,#e40 36%,#e20 38%,#e40 39%,#d90 43%,#db1 50%,#e60 53%,#ec2 58%,#ec2 59%,#eb2 63%,#ec2 68%,#ec2 100%)0 41px,linear-gradient(90deg,#e70 0%,#db0 23%,#e80 32%,#e40 36%,#e20 37%,#e40 38%,#d90 42%,#db1 49%,#d80 60%,#d80 62%,#e40 64%,#e40 66%,#d80 69%,#d80 71%,#d80 100%)0 42px,linear-gradient(90deg,#e70 0%,#db0 24%,#e80 33%,#e40 37%,#e20 38%,#e40 39%,#d90 43%,#db1 50%,#d80 55%,#ec2 59%,#d80 64%,#d80 77%,#e40 81%,#d80 86%,#d80 100%)0 43px,linear-gradient(90deg,#eb2 0%,#db0 25%,#e80 34%,#e40 37%,#e20 39%,#e40 40%,#d90 44%,#db1 51%,#ec2 82%,#db0 86%,#ec2 91%,#ec2 100%)0 44px,linear-gradient(90deg,#d90 0%,#d90 20%,#ec2 24%,#db0 25%,#e80 34%,#e40 38%,#e20 39%,#e40 40%,#d90 44%,#db1 51%,#da0 56%,#da0 100%)0 45px,linear-gradient(90deg,#d90 0%,#d90 17%,#e40 21%,#d90 26%,#db0 29%,#e80 38%,#e40 42%,#e20 43%,#e40 44%,#d90 48%,#db1 55%,#da0 76%,#7bc 80%,#da0 85%,#da0 86%,#db0 90%,#da0 95%,#da0 100%)0 46px,linear-gradient(90deg,#8bb 0%,#8bb 1%,#e60 5%,#8bb 10%,#db0 25%,#e80 34%,#e40 37%,#e20 39%,#e40 40%,#d90 44%,#db1 51%,#7bc 100%)0 47px,linear-gradient(90deg,#8ba 0%,#8ba 22%,#ec2 26%,#db0 27%,#e80 36%,#e40 40%,#e20 41%,#e40 42%,#d90 46%,#db1 53%,#7bc 56%,#8ba 60%,#7bc 65%,#7bc 89%,#eb2 93%,#7bc 98%,#7bc 100%)0 48px,linear-gradient(90deg,#8bb 0%,#8bb 4%,#db0 8%,#8bb 13%,#8bb 14%,#eb2 18%,#8bb 23%,#db0 31%,#e80 40%,#e40 44%,#e20 45%,#e40 46%,#d90 50%,#db1 57%,#7bc 100%)0 49px,linear-gradient(90deg,#ab7 0%,#db0 30%,#e80 39%,#e40 43%,#e20 44%,#e40 46%,#d90 49%,#db1 56%,#7bc 60%,#9b9 65%,#9b9 80%,#ec2 84%,#9b9 89%,#9b9 100%)0 50px,linear-gradient(90deg,#d80 0%,#d80 0%,#e40 4%,#d80 9%,#db0 33%,#e80 42%,#e40 46%,#e20 47%,#e40 48%,#d90 52%,#db1 59%,#da0 100%)0 51px,linear-gradient(90deg,#d80 0%,#d80 1%,#e60 5%,#d80 10%,#db0 30%,#e80 39%,#e40 42%,#e20 44%,#e40 45%,#d90 49%,#db1 56%,#da0 100%)0 52px,linear-gradient(90deg,#da0 0%,#da0 29%,#8ba 33%,#db0 34%,#e80 43%,#e40 46%,#e20 48%,#e40 49%,#d90 53%,#db1 60%,#da0 100%)0 53px,linear-gradient(90deg,#9b9 0%,#9b9 17%,#e30 21%,#9b9 26%,#db0 37%,#e80 46%,#e40 50%,#e20 51%,#e40 52%,#d90 56%,#db1 63%,#8ba 82%,#7bc 86%,#8ba 91%,#8ba 100%)0 54px,linear-gradient(90deg,#7bc 0%,#db0 37%,#e80 46%,#e40 49%,#e20 51%,#e40 52%,#d90 56%,#db1 63%,#7bb 67%,#7bb 70%,#d90 71%,#e40 74%,#7bb 76%,#7bb 79%,#7bb 86%,#d90 90%,#7bb 95%,#7bb 100%)0 55px,linear-gradient(90deg,#7bc 0%,#7bc 0%,#eb2 4%,#7bc 9%,#db0 36%,#e80 45%,#e40 48%,#e20 50%,#e40 51%,#d90 55%,#db1 62%,#7bb 91%,#7bc 95%,#7bb 100%,#7bb 100%)0 56px,linear-gradient(90deg,#e70 0%,#e70 8%,#db0 12%,#e70 17%,#e70 26%,#eb2 30%,#e70 35%,#db0 38%,#e80 47%,#e40 51%,#e20 52%,#e40 54%,#d90 57%,#db1 64%,#8ba 70%,#d90 75%,#d90 100%)0 57px,linear-gradient(90deg,#e70 0%,#e70 26%,#db0 30%,#e70 35%,#db0 36%,#e80 45%,#e40 49%,#e20 50%,#e40 51%,#d90 55%,#db1 62%,#d90 100%)0 58px,linear-gradient(90deg,#8ba 0%,#8ba 0%,#8ba 3%,#8ba 8%,#db0 38%,#e80 47%,#e40 51%,#e20 52%,#e40 53%,#d90 57%,#db1 64%,#7bc 100%)0 59px,linear-gradient(90deg,#8bb 0%,#db0 40%,#e80 49%,#e40 53%,#e20 54%,#e40 55%,#d90 59%,#db1 66%,#7bc 72%,#db0 76%,#7bc 81%,#7bc 100%)0 60px,linear-gradient(90deg,#d90 0%,#d90 13%,#e40 17%,#d90 22%,#db0 39%,#e80 48%,#e40 52%,#e20 53%,#e40 55%,#d90 58%,#db1 65%,#da0 71%,#e40 75%,#da0 80%,#da0 100%)0 61px,linear-gradient(90deg,#ab8 0%,#ab8 14%,#db0 18%,#ab8 23%,#db0 45%,#e80 54%,#e40 57%,#e20 59%,#e40 60%,#d90 64%,#db1 71%,#8ba 75%,#8ba 78%,#e30 79%,#db0 82%,#8ba 84%,#8ba 87%,#8ba 100%)0 62px,linear-gradient(90deg,#ab8 0%,#ab8 1%,#eb2 5%,#ab8 10%,#db0 42%,#e80 51%,#e40 55%,#e20 56%,#e40 58%,#d90 61%,#db1 68%,#8ba 100%)0 63px,linear-gradient(90deg,#9b9 0%,#9b9 14%,#d90 18%,#9b9 23%,#9b9 35%,#8ba 39%,#db0 42%,#e80 51%,#e40 55%,#e20 56%,#e40 58%,#d90 61%,#db1 68%,#8ba 76%,#e30 80%,#8ba 85%,#8ba 100%)0 64px,linear-gradient(90deg,#9b9 0%,#db0 41%,#e80 50%,#e40 54%,#e20 55%,#e40 56%,#d90 60%,#db1 67%,#8ba 100%)0 65px,linear-gradient(90deg,#d80 0%,#d80 4%,#7bc 8%,#d80 13%,#db0 45%,#e80 54%,#e40 57%,#e20 59%,#e40 60%,#d90 64%,#db1 71%,#d90 100%)0 66px,linear-gradient(90deg,#7bc 0%,#7bc 7%,#7bc 10%,#d90 11%,#8ba 14%,#7bc 16%,#7bc 19%,#db0 44%,#e80 53%,#e40 57%,#e20 58%,#e40 59%,#d90 63%,#db1 70%,#6ab 79%,#d90 83%,#6ab 88%,#6ab 100%)0 67px,linear-gradient(90deg,#8ba 0%,#8ba 32%,#8ba 34%,#db0 36%,#e60 38%,#8ba 41%,#8ba 43%,#db0 44%,#e80 53%,#e40 57%,#e20 58%,#e40 59%,#d90 63%,#db1 70%,#7bc 100%)0 68px,linear-gradient(90deg,#e80 0%,#e80 0%,#ec2 3%,#e80 8%,#db0 49%,#e80 58%,#e40 62%,#e20 63%,#e40 65%,#d90 68%,#db1 75%,#d90 100%)0 69px,linear-gradient(90deg,#cc5 0%,#cc5 3%,#eb2 7%,#cc5 12%,#db0 46%,#e80 55%,#e40 59%,#e20 60%,#e40 61%,#d90 65%,#db1 72%,#bb6 80%,#eb2 84%,#bb6 89%,#bb6 100%)0 70px,linear-gradient(90deg,#cc5 0%,#cc5 50%,#db0 53%,#e80 62%,#e40 66%,#e20 67%,#e40 69%,#d90 72%,#db1 79%,#bb6 100%)0 71px,linear-gradient(90deg,#eb2 0%,#eb2 29%,#e30 33%,#eb2 38%,#db0 50%,#e80 59%,#e40 63%,#e20 64%,#e40 65%,#d90 69%,#db1 76%,#ec2 100%)0 72px,linear-gradient(90deg,#eb2 0%,#eb2 30%,#8ba 34%,#eb2 39%,#db0 48%,#e80 57%,#e40 61%,#e20 62%,#e40 63%,#d90 67%,#db1 74%,#ec2 100%)0 73px,linear-gradient(90deg,#ec2 0%,#ec2 20%,#e60 24%,#ec2 29%,#ec2 39%,#e60 43%,#ec2 48%,#db0 54%,#e80 63%,#e40 66%,#e20 68%,#e40 69%,#d90 73%,#db1 80%,#ec2 84%,#e60 88%,#ec2 93%,#ec2 100%)0 74px,linear-gradient(90deg,#ec2 0%,#ec2 16%,#ec2 20%,#ec2 25%,#ec2 50%,#db0 53%,#e80 62%,#e40 66%,#e20 67%,#e40 68%,#d90 72%,#db1 79%,#ec2 100%)0 75px,linear-gradient(90deg,#bc6 0%,#bc6 23%,#8ba 27%,#bc6 32%,#bc6 54%,#db0 56%,#e80 65%,#e40 68%,#e20 70%,#e40 71%,#d90 75%,#db1 82%,#ab7 100%)0 76px,linear-gradient(90deg,#8ba 0%,#8ba 50%,#db0 52%,#e80 61%,#e40 65%,#e20 66%,#e40 67%,#d90 71%,#db1 78%,#7bb 91%,#8ba 95%,#7bb 100%,#7bb 100%)0 77px,linear-gradient(90deg,#db1 0%,#db1 25%,#8ba 29%,#db1 34%,#db1 48%,#db0 52%,#db1 57%,#db0 58%,#e80 67%,#e40 71%,#e20 72%,#e40 73%,#d90 77%,#db1 84%,#db1 100%)0 78px,linear-gradient(90deg,#db1 0%,#db1 52%,#e60 56%,#db0 59%,#e80 68%,#e40 72%,#e20 73%,#e40 75%,#d90 78%,#db1 85%,#db1 88%,#e60 88%,#db0 92%,#db1 93%,#db1 97%,#db1 100%)0 79px,linear-gradient(90deg,#db1 0%,#db1 56%,#db0 59%,#e80 68%,#e40 72%,#e20 73%,#e40 74%,#d90 78%,#db1 85%,#db1 100%)0 80px,linear-gradient(90deg,#e70 0%,#e70 1%,#eb2 5%,#e70 10%,#e70 25%,#7bc 29%,#e70 34%,#db0 62%,#e80 71%,#e40 74%,#e20 76%,#e40 77%,#d90 81%,#db1 88%,#d80 100%)0 81px,linear-gradient(90deg,#ec2 0%,#ec2 37%,#e30 41%,#ec2 46%,#db0 61%,#e80 70%,#e40 74%,#e20 75%,#e40 76%,#d90 80%,#db1 87%,#ec2 100%)0 82px,linear-gradient(90deg,#ec2 0%,#ec2 20%,#e40 24%,#ec2 29%,#db0 62%,#e80 71%,#e40 74%,#e20 76%,#e40 77%,#d90 81%,#db1 88%,#ec2 100%)0 83px,linear-gradient(90deg,#7bc 0%,#7bc 13%,#d90 17%,#7bc 22%,#7bc 55%,#ec2 59%,#7bc 60%,#db0 62%,#e80 71%,#e40 75%,#e20 76%,#e40 78%,#d90 81%,#db1 88%,#6ab 100%)0 84px,linear-gradient(90deg,#7bc 0%,#7bc 4%,#7bc 8%,#7bc 13%,#7bc 61%,#e30 65%,#db0 65%,#e80 74%,#e40 78%,#e20 79%,#e40 80%,#d90 84%,#db1 91%,#6ab 100%)0 85px,linear-gradient(90deg,#da0 0%,#da0 8%,#8ba 12%,#da0 17%,#db0 64%,#e80 73%,#e40 77%,#e20 78%,#e40 79%,#d90 83%,#db1 90%,#db0 100%)0 86px,linear-gradient(90deg,#ec2 0%,#db0 65%,#e80 74%,#e40 78%,#e20 79%,#e40 80%,#d90 84%,#db1 91%,#e60 95%,#7bc 95%,#dc4 100%,#dc4 100%,#dc4 100%)0 87px,linear-gradient(90deg,#da0 0%,#da0 60%,#8ba 64%,#da0 69%,#db0 69%,#e80 78%,#e40 82%,#e20 83%,#e40 84%,#d90 88%,#db1 95%,#db0 100%)0 88px,linear-gradient(90deg,#e70 0%,#e70 22%,#db0 26%,#e70 31%,#db0 71%,#e80 80%,#e40 84%,#e20 85%,#e40 86%,#d90 90%,#db1 97%,#d90 100%)0 89px,linear-gradient(90deg,#eb1 0%,#eb1 55%,#eb2 59%,#eb1 64%,#eb1 67%,#db0 69%,#e80 78%,#e40 82%,#e20 83%,#e40 84%,#d90 88%,#db1 95%,#eb2 100%)0 90px,linear-gradient(90deg,#db0 0%,#db0 17%,#ec2 21%,#db0 26%,#db0 72%,#e80 81%,#e40 85%,#e20 86%,#e40 88%,#d90 91%,#db1 98%,#db1 100%)0 91px,linear-gradient(90deg,#da0 0%,#da0 9%,#da0 12%,#8ba 13%,#e30 16%,#da0 18%,#da0 21%,#db0 72%,#e80 81%,#e40 85%,#e20 86%,#e40 87%,#d90 91%,#db1 98%,#db0 100%)0 92px,linear-gradient(90deg,#e70 0%,#db0 72%,#e80 81%,#e40 85%,#e20 86%,#e40 88%,#d90 91%,#db1 98%,#d90 100%)0 93px,linear-gradient(90deg,#ec2 0%,#ec2 36%,#e60 40%,#ec2 45%,#db0 73%,#e80 82%,#e40 86%,#e20 87%,#e40 88%,#d90 92%,#db1 99%,#ec3 100%)0 94px,linear-gradient(90deg,#7bb 0%,#7bb 9%,#e30 13%,#7bb 18%,#7bb 46%,#ec2 50%,#7bb 55%,#db0 73%,#e80 82%,#e40 86%,#e20 87%,#e40 88%,#d90 92%,#db1 99%,#6ab 100%)0 95px,linear-gradient(90deg,#bb7 0%,#bb7 16%,#d90 20%,#bb7 25%,#db0 77%,#e80 86%,#e40 89%,#e20 91%,#e40 92%,#d90 96%,#ab8 100%,#db1 100%)0 96px,linear-gradient(90deg,#8ba 0%,#8ba 42%,#d90 46%,#8ba 51%,#db0 79%,#e80 88%,#e40 92%,#e20 93%,#e40 94%,#d90 98%,#8bb 100%,#db1 100%)0 97px,linear-gradient(90deg,#da0 0%,#da0 23%,#e60 27%,#da0 32%,#da0 39%,#d90 43%,#da0 48%,#db0 77%,#e80 86%,#e40 90%,#e20 91%,#e40 92%,#d90 96%,#da0 100%,#db1 100%)0 98px,linear-gradient(90deg,#db0 0%,#db0 0%,#7bc 3%,#db0 8%,#db0 49%,#db0 53%,#db0 58%,#db0 77%,#ec2 81%,#db0 81%,#e80 90%,#e40 94%,#e20 95%,#e40 96%,#d90 100%,#db1 100%,#db1 100%)0 99px,linear-gradient(90deg,#bb6 0%,#bb6 52%,#ec2 56%,#bb6 58%,#bb6 61%,#e40 62%,#bb6 67%,#db0 84%,#e80 93%,#e40 97%,#e20 98%,#e40 99%,#ab7 100%,#d90 100%,#db1 100%)0 100px,linear-gradient(90deg,#db1 0%,#db1 32%,#e40 36%,#db1 41%,#db1 60%,#eb2 64%,#db1 69%,#db0 82%,#e80 91%,#e40 95%,#e20 96%,#e40 97%,#db1 100%,#d90 100%,#db1 100%)0 101px,linear-gradient(90deg,#db1 0%,#db1 36%,#eb2 40%,#db1 45%,#db1 65%,#db0 69%,#db1 74%,#db1 87%,#db0 88%,#e80 97%,#db1 100%,#e40 100%,#e20 100%,#e40 100%,#d90 100%,#db1 100%)0 102px,linear-gradient(90deg,#da0 0%,#da0 20%,#e40 24%,#da0 29%,#db0 86%,#e80 95%,#e40 99%,#db0 100%,#e20 100%,#e40 100%,#d90 100%,#db1 100%)0 103px,linear-gradient(90deg,#da0 0%,#da0 30%,#eb2 34%,#da0 39%,#db0 86%,#e80 95%,#e40 99%,#db0 100%,#e20 100%,#e40 100%,#d90 100%,#db1 100%)0 104px;background-size:100% 1px;background-repeat:no-repeat;box-shadow:inset 0 0 0 0.7px #4a7f8c"></div></body></html>
